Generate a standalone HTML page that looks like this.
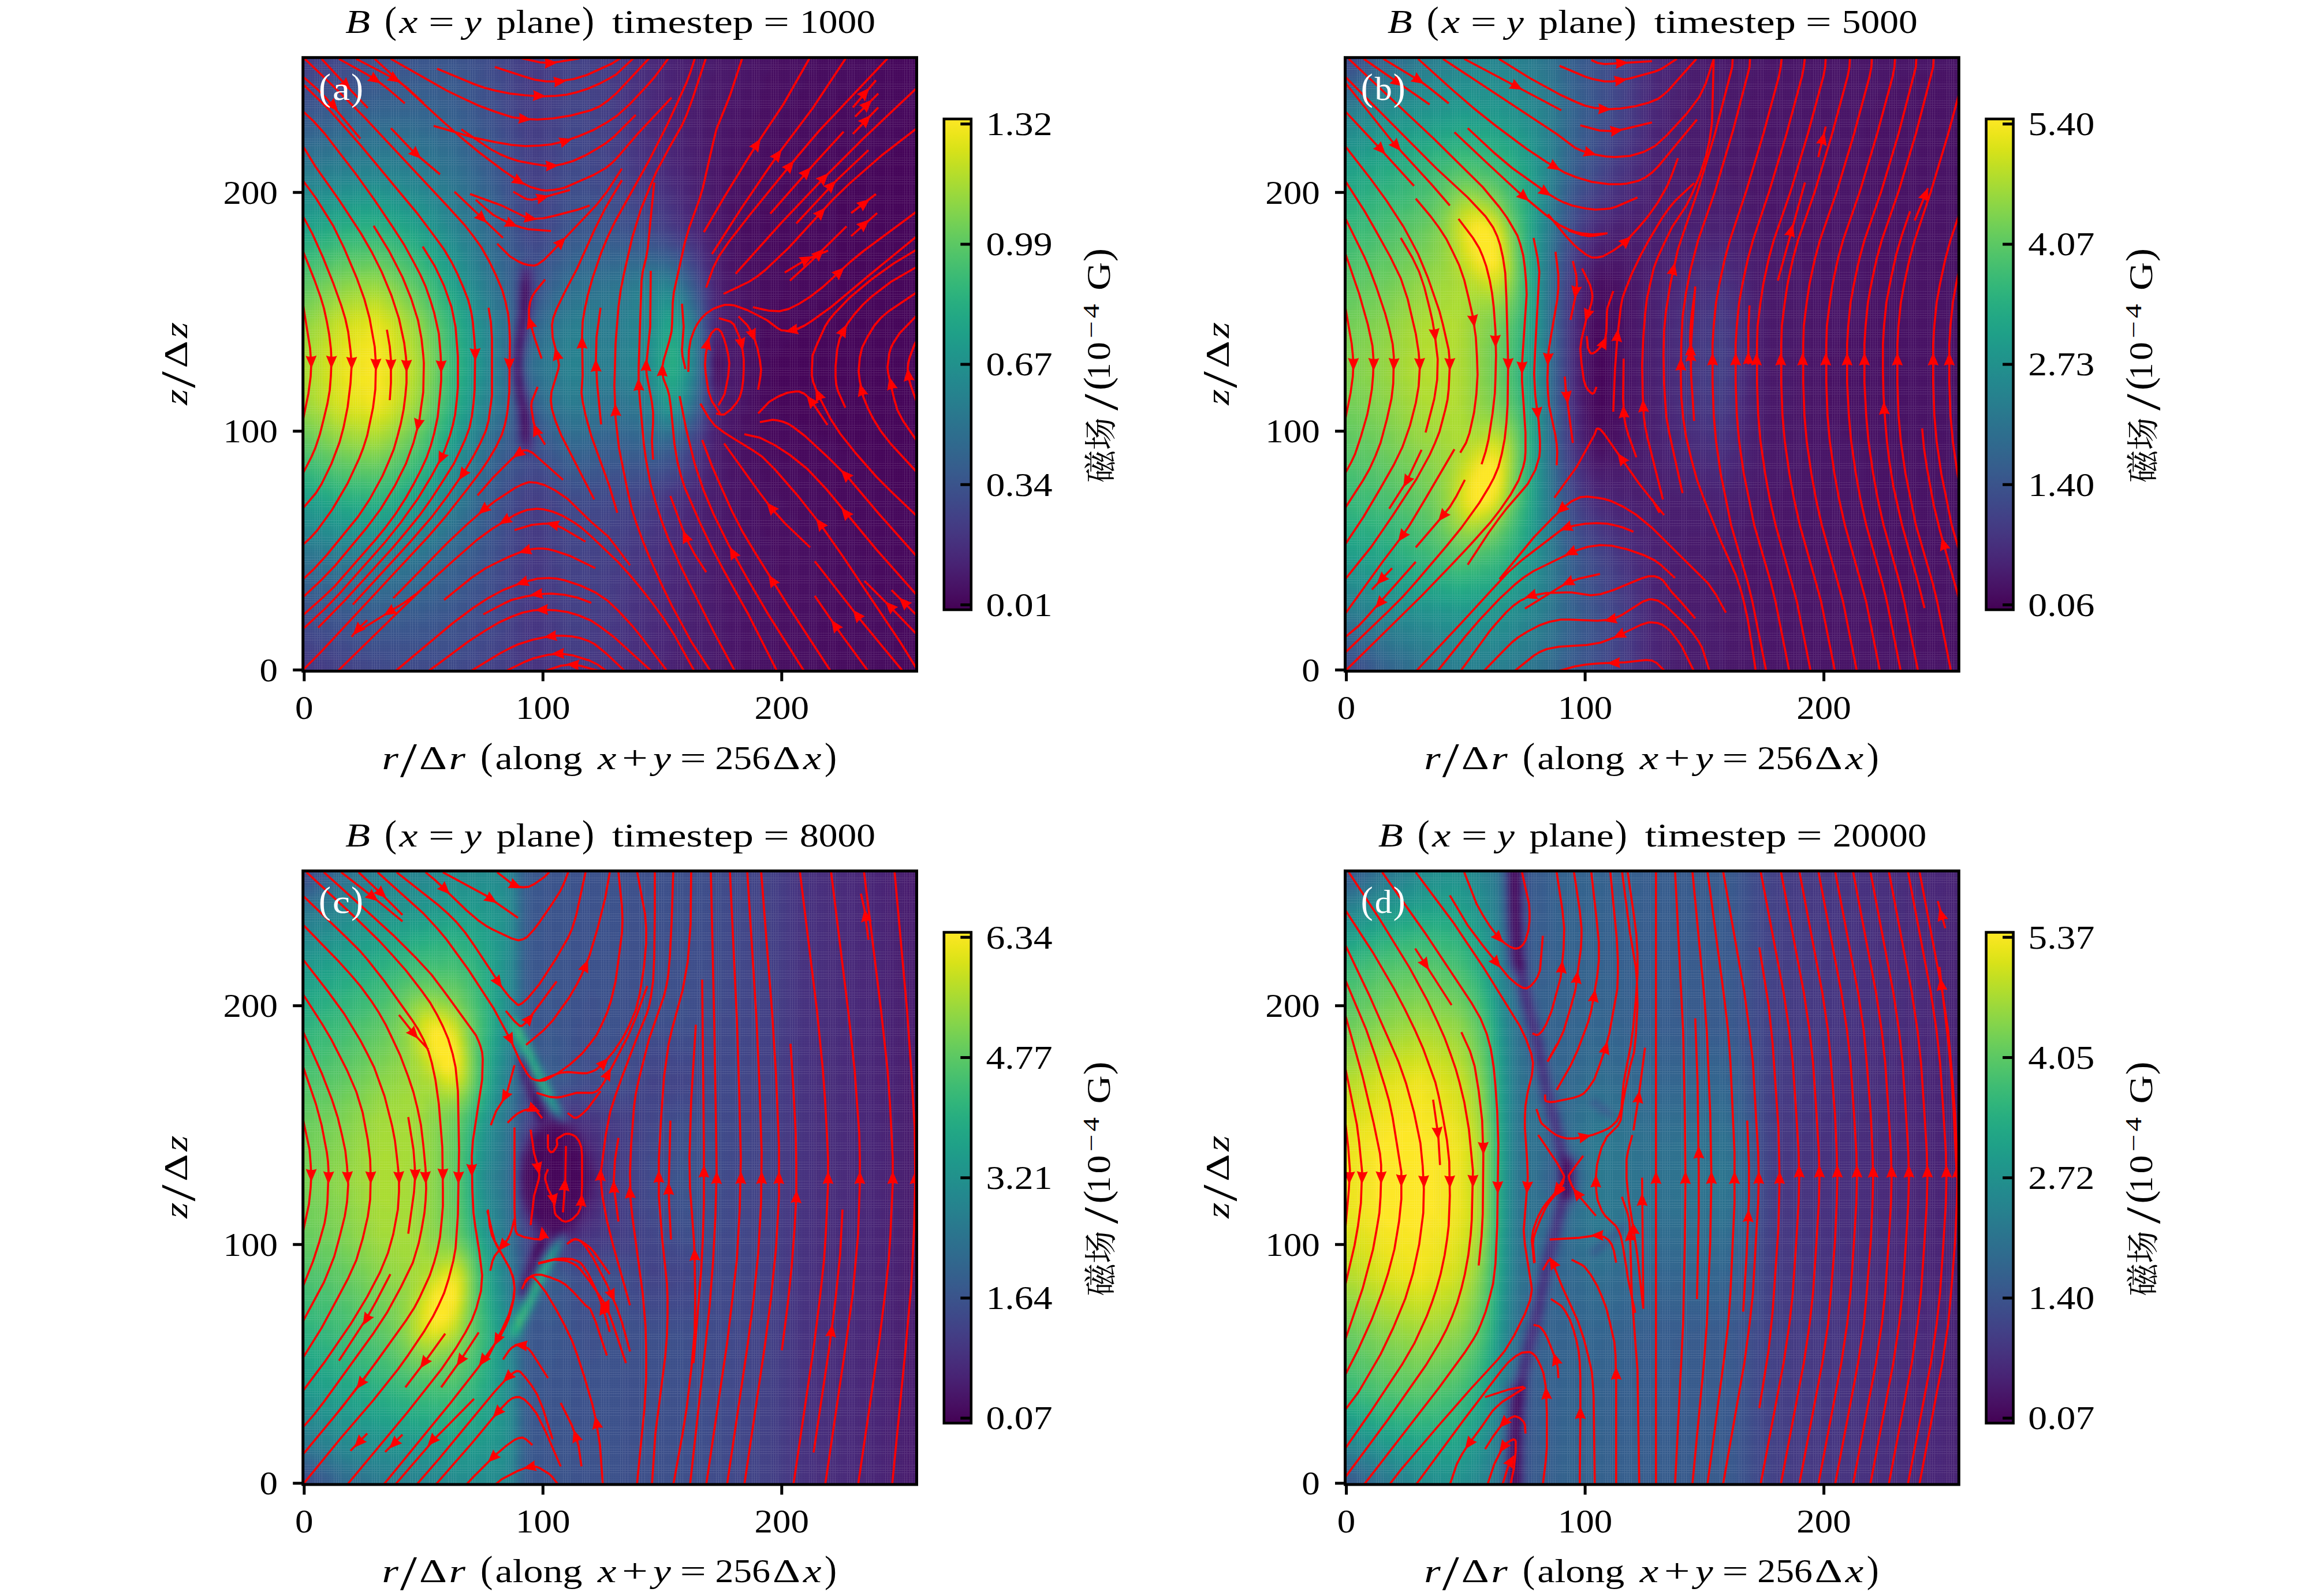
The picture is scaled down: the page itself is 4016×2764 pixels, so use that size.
<!DOCTYPE html>
<html><head><meta charset="utf-8"><title>B field</title>
<style>html,body{margin:0;padding:0;background:#fff}svg{display:block}text{font-family:'Liberation Serif','Noto Serif CJK SC',serif;fill:#000}</style></head>
<body>
<svg width="4016" height="2764" viewBox="0 0 4016 2764">
<defs><linearGradient id="vg" x1="0" y1="0" x2="0" y2="1"><stop offset="0.0000" stop-color="#fde725"/><stop offset="0.0312" stop-color="#ece51b"/><stop offset="0.0625" stop-color="#d8e219"/><stop offset="0.0938" stop-color="#c2df23"/><stop offset="0.1250" stop-color="#addc30"/><stop offset="0.1562" stop-color="#98d83e"/><stop offset="0.1875" stop-color="#84d44b"/><stop offset="0.2188" stop-color="#70cf57"/><stop offset="0.2500" stop-color="#5ec962"/><stop offset="0.2812" stop-color="#4ec36b"/><stop offset="0.3125" stop-color="#3fbc73"/><stop offset="0.3438" stop-color="#32b67a"/><stop offset="0.3750" stop-color="#28ae80"/><stop offset="0.4062" stop-color="#22a785"/><stop offset="0.4375" stop-color="#1fa088"/><stop offset="0.4688" stop-color="#1f988b"/><stop offset="0.5000" stop-color="#21918c"/><stop offset="0.5312" stop-color="#23898e"/><stop offset="0.5625" stop-color="#26828e"/><stop offset="0.5938" stop-color="#297a8e"/><stop offset="0.6250" stop-color="#2c728e"/><stop offset="0.6562" stop-color="#2f6b8e"/><stop offset="0.6875" stop-color="#33638d"/><stop offset="0.7188" stop-color="#375b8d"/><stop offset="0.7500" stop-color="#3b528b"/><stop offset="0.7812" stop-color="#3e4989"/><stop offset="0.8125" stop-color="#424086"/><stop offset="0.8438" stop-color="#453781"/><stop offset="0.8750" stop-color="#472d7b"/><stop offset="0.9062" stop-color="#482374"/><stop offset="0.9375" stop-color="#48186a"/><stop offset="0.9688" stop-color="#470d60"/><stop offset="1.0000" stop-color="#440154"/></linearGradient>
<clipPath id="cp"><rect x="524.7" y="99.7" width="1062.8" height="1062.6"/></clipPath>
<path id="ah" d="M11.5 0L-11 -9.5Q-7.5 0 -11 9.5Z" fill="#f00"/>
<filter id="bl" x="-5%" y="-5%" width="110%" height="110%" color-interpolation-filters="sRGB"><feGaussianBlur stdDeviation="0.55"/></filter>
<g id="gl" shape-rendering="crispEdges" fill="none" stroke="#fff" stroke-width="1"><path stroke-opacity="0.105" d="M545.4 99.7V1162.3M549.5 99.7V1162.3M553.6 99.7V1162.3M557.8 99.7V1162.3M578.5 99.7V1162.3M582.6 99.7V1162.3M586.7 99.7V1162.3M590.9 99.7V1162.3M611.5 99.7V1162.3M615.7 99.7V1162.3M619.8 99.7V1162.3M623.9 99.7V1162.3M644.6 99.7V1162.3M648.8 99.7V1162.3M652.9 99.7V1162.3M657.0 99.7V1162.3M677.7 99.7V1162.3M681.8 99.7V1162.3M686.0 99.7V1162.3M690.1 99.7V1162.3M710.8 99.7V1162.3M714.9 99.7V1162.3M719.0 99.7V1162.3M723.2 99.7V1162.3M743.9 99.7V1162.3M748.0 99.7V1162.3M752.1 99.7V1162.3M756.3 99.7V1162.3M776.9 99.7V1162.3M781.1 99.7V1162.3M785.2 99.7V1162.3M789.3 99.7V1162.3M810.0 99.7V1162.3M814.2 99.7V1162.3M818.3 99.7V1162.3M822.4 99.7V1162.3M843.1 99.7V1162.3M847.2 99.7V1162.3M851.4 99.7V1162.3M855.5 99.7V1162.3M876.2 99.7V1162.3M880.3 99.7V1162.3M884.4 99.7V1162.3M888.6 99.7V1162.3M909.3 99.7V1162.3M913.4 99.7V1162.3M917.5 99.7V1162.3M921.7 99.7V1162.3M942.3 99.7V1162.3M946.5 99.7V1162.3M950.6 99.7V1162.3M954.7 99.7V1162.3M975.4 99.7V1162.3M979.5 99.7V1162.3M983.7 99.7V1162.3M987.8 99.7V1162.3M1008.5 99.7V1162.3M1012.6 99.7V1162.3M1016.8 99.7V1162.3M1020.9 99.7V1162.3M1041.6 99.7V1162.3M1045.7 99.7V1162.3M1049.8 99.7V1162.3M1054.0 99.7V1162.3M1074.7 99.7V1162.3M1078.8 99.7V1162.3M1082.9 99.7V1162.3M1087.1 99.7V1162.3M1107.7 99.7V1162.3M1111.9 99.7V1162.3M1116.0 99.7V1162.3M1140.8 99.7V1162.3M1145.0 99.7V1162.3M1149.1 99.7V1162.3M1173.9 99.7V1162.3M1178.0 99.7V1162.3M1182.2 99.7V1162.3M1207.0 99.7V1162.3M1211.1 99.7V1162.3M1215.2 99.7V1162.3M1240.1 99.7V1162.3M1244.2 99.7V1162.3M1248.3 99.7V1162.3M1273.1 99.7V1162.3M1277.3 99.7V1162.3M1281.4 99.7V1162.3M1302.1 99.7V1162.3M1306.2 99.7V1162.3M1310.3 99.7V1162.3M1314.5 99.7V1162.3M1335.2 99.7V1162.3M1339.3 99.7V1162.3M1343.4 99.7V1162.3M1347.6 99.7V1162.3M1368.2 99.7V1162.3M1372.4 99.7V1162.3M1376.5 99.7V1162.3M1380.6 99.7V1162.3M1401.3 99.7V1162.3M1405.5 99.7V1162.3M1409.6 99.7V1162.3M1413.7 99.7V1162.3M1434.4 99.7V1162.3M1438.5 99.7V1162.3M1442.7 99.7V1162.3M1446.8 99.7V1162.3M1467.5 99.7V1162.3M1471.6 99.7V1162.3M1475.8 99.7V1162.3M1479.9 99.7V1162.3M1500.6 99.7V1162.3M1504.7 99.7V1162.3M1508.8 99.7V1162.3M1513.0 99.7V1162.3M1533.6 99.7V1162.3M1537.8 99.7V1162.3M1541.9 99.7V1162.3M1546.0 99.7V1162.3M1566.7 99.7V1162.3M1570.9 99.7V1162.3M1575.0 99.7V1162.3M1579.1 99.7V1162.3M524.7 112.1H1587.5M524.7 116.2H1587.5M524.7 120.4H1587.5M524.7 145.2H1587.5M524.7 149.3H1587.5M524.7 153.5H1587.5M524.7 174.1H1587.5M524.7 178.3H1587.5M524.7 182.4H1587.5M524.7 186.5H1587.5M524.7 207.2H1587.5M524.7 211.3H1587.5M524.7 215.5H1587.5M524.7 219.6H1587.5M524.7 240.3H1587.5M524.7 244.4H1587.5M524.7 248.6H1587.5M524.7 252.7H1587.5M524.7 273.4H1587.5M524.7 277.5H1587.5M524.7 281.6H1587.5M524.7 285.8H1587.5M524.7 306.4H1587.5M524.7 310.6H1587.5M524.7 314.7H1587.5M524.7 318.9H1587.5M524.7 339.5H1587.5M524.7 343.7H1587.5M524.7 347.8H1587.5M524.7 351.9H1587.5M524.7 372.6H1587.5M524.7 376.7H1587.5M524.7 380.9H1587.5M524.7 385.0H1587.5M524.7 405.7H1587.5M524.7 409.8H1587.5M524.7 414.0H1587.5M524.7 418.1H1587.5M524.7 438.8H1587.5M524.7 442.9H1587.5M524.7 447.0H1587.5M524.7 451.2H1587.5M524.7 471.8H1587.5M524.7 476.0H1587.5M524.7 480.1H1587.5M524.7 484.3H1587.5M524.7 504.9H1587.5M524.7 509.1H1587.5M524.7 513.2H1587.5M524.7 517.3H1587.5M524.7 538.0H1587.5M524.7 542.1H1587.5M524.7 546.3H1587.5M524.7 550.4H1587.5M524.7 571.1H1587.5M524.7 575.2H1587.5M524.7 579.4H1587.5M524.7 583.5H1587.5M524.7 604.2H1587.5M524.7 608.3H1587.5M524.7 612.4H1587.5M524.7 616.6H1587.5M524.7 637.2H1587.5M524.7 641.4H1587.5M524.7 645.5H1587.5M524.7 649.7H1587.5M524.7 670.3H1587.5M524.7 674.5H1587.5M524.7 678.6H1587.5M524.7 682.7H1587.5M524.7 703.4H1587.5M524.7 707.5H1587.5M524.7 711.7H1587.5M524.7 715.8H1587.5M524.7 736.5H1587.5M524.7 740.6H1587.5M524.7 744.8H1587.5M524.7 769.6H1587.5M524.7 773.7H1587.5M524.7 777.8H1587.5M524.7 802.6H1587.5M524.7 806.8H1587.5M524.7 810.9H1587.5M524.7 835.7H1587.5M524.7 839.9H1587.5M524.7 844.0H1587.5M524.7 868.8H1587.5M524.7 872.9H1587.5M524.7 877.1H1587.5M524.7 901.9H1587.5M524.7 906.0H1587.5M524.7 910.2H1587.5M524.7 930.8H1587.5M524.7 935.0H1587.5M524.7 939.1H1587.5M524.7 943.2H1587.5M524.7 963.9H1587.5M524.7 968.0H1587.5M524.7 972.2H1587.5M524.7 976.3H1587.5M524.7 997.0H1587.5M524.7 1001.1H1587.5M524.7 1005.3H1587.5M524.7 1009.4H1587.5M524.7 1030.1H1587.5M524.7 1034.2H1587.5M524.7 1038.3H1587.5M524.7 1042.5H1587.5M524.7 1063.2H1587.5M524.7 1067.3H1587.5M524.7 1071.4H1587.5M524.7 1075.6H1587.5M524.7 1096.2H1587.5M524.7 1100.4H1587.5M524.7 1104.5H1587.5M524.7 1108.6H1587.5M524.7 1129.3H1587.5M524.7 1133.5H1587.5M524.7 1137.6H1587.5M524.7 1141.7H1587.5"/><path stroke-opacity="0.03" d="M528.8 99.7V1162.3M533.0 99.7V1162.3M537.1 99.7V1162.3M541.2 99.7V1162.3M561.9 99.7V1162.3M566.1 99.7V1162.3M570.2 99.7V1162.3M574.3 99.7V1162.3M595.0 99.7V1162.3M599.1 99.7V1162.3M603.3 99.7V1162.3M607.4 99.7V1162.3M628.1 99.7V1162.3M632.2 99.7V1162.3M636.3 99.7V1162.3M640.5 99.7V1162.3M661.2 99.7V1162.3M665.3 99.7V1162.3M669.4 99.7V1162.3M673.6 99.7V1162.3M694.2 99.7V1162.3M698.4 99.7V1162.3M702.5 99.7V1162.3M706.6 99.7V1162.3M727.3 99.7V1162.3M731.5 99.7V1162.3M735.6 99.7V1162.3M739.7 99.7V1162.3M760.4 99.7V1162.3M764.5 99.7V1162.3M768.7 99.7V1162.3M772.8 99.7V1162.3M793.5 99.7V1162.3M797.6 99.7V1162.3M801.7 99.7V1162.3M805.9 99.7V1162.3M826.6 99.7V1162.3M830.7 99.7V1162.3M834.8 99.7V1162.3M839.0 99.7V1162.3M859.6 99.7V1162.3M863.8 99.7V1162.3M867.9 99.7V1162.3M872.0 99.7V1162.3M892.7 99.7V1162.3M896.9 99.7V1162.3M901.0 99.7V1162.3M905.1 99.7V1162.3M925.8 99.7V1162.3M929.9 99.7V1162.3M934.1 99.7V1162.3M938.2 99.7V1162.3M958.9 99.7V1162.3M963.0 99.7V1162.3M967.1 99.7V1162.3M971.3 99.7V1162.3M992.0 99.7V1162.3M996.1 99.7V1162.3M1000.2 99.7V1162.3M1004.4 99.7V1162.3M1025.0 99.7V1162.3M1029.2 99.7V1162.3M1033.3 99.7V1162.3M1037.4 99.7V1162.3M1058.1 99.7V1162.3M1062.2 99.7V1162.3M1066.4 99.7V1162.3M1070.5 99.7V1162.3M1091.2 99.7V1162.3M1095.3 99.7V1162.3M1099.5 99.7V1162.3M1103.6 99.7V1162.3M1120.1 99.7V1162.3M1124.3 99.7V1162.3M1128.4 99.7V1162.3M1132.5 99.7V1162.3M1136.7 99.7V1162.3M1153.2 99.7V1162.3M1157.4 99.7V1162.3M1161.5 99.7V1162.3M1165.6 99.7V1162.3M1169.8 99.7V1162.3M1186.3 99.7V1162.3M1190.4 99.7V1162.3M1194.6 99.7V1162.3M1198.7 99.7V1162.3M1202.8 99.7V1162.3M1219.4 99.7V1162.3M1223.5 99.7V1162.3M1227.7 99.7V1162.3M1231.8 99.7V1162.3M1235.9 99.7V1162.3M1252.5 99.7V1162.3M1256.6 99.7V1162.3M1260.7 99.7V1162.3M1264.9 99.7V1162.3M1269.0 99.7V1162.3M1285.5 99.7V1162.3M1289.7 99.7V1162.3M1293.8 99.7V1162.3M1297.9 99.7V1162.3M1318.6 99.7V1162.3M1322.8 99.7V1162.3M1326.9 99.7V1162.3M1331.0 99.7V1162.3M1351.7 99.7V1162.3M1355.8 99.7V1162.3M1360.0 99.7V1162.3M1364.1 99.7V1162.3M1384.8 99.7V1162.3M1388.9 99.7V1162.3M1393.0 99.7V1162.3M1397.2 99.7V1162.3M1417.9 99.7V1162.3M1422.0 99.7V1162.3M1426.1 99.7V1162.3M1430.3 99.7V1162.3M1450.9 99.7V1162.3M1455.1 99.7V1162.3M1459.2 99.7V1162.3M1463.3 99.7V1162.3M1484.0 99.7V1162.3M1488.2 99.7V1162.3M1492.3 99.7V1162.3M1496.4 99.7V1162.3M1517.1 99.7V1162.3M1521.2 99.7V1162.3M1525.4 99.7V1162.3M1529.5 99.7V1162.3M1550.2 99.7V1162.3M1554.3 99.7V1162.3M1558.5 99.7V1162.3M1562.6 99.7V1162.3M1583.3 99.7V1162.3M524.7 103.8H1587.5M524.7 108.0H1587.5M524.7 124.5H1587.5M524.7 128.6H1587.5M524.7 132.8H1587.5M524.7 136.9H1587.5M524.7 141.1H1587.5M524.7 157.6H1587.5M524.7 161.7H1587.5M524.7 165.9H1587.5M524.7 170.0H1587.5M524.7 190.7H1587.5M524.7 194.8H1587.5M524.7 198.9H1587.5M524.7 203.1H1587.5M524.7 223.8H1587.5M524.7 227.9H1587.5M524.7 232.0H1587.5M524.7 236.2H1587.5M524.7 256.8H1587.5M524.7 261.0H1587.5M524.7 265.1H1587.5M524.7 269.2H1587.5M524.7 289.9H1587.5M524.7 294.0H1587.5M524.7 298.2H1587.5M524.7 302.3H1587.5M524.7 323.0H1587.5M524.7 327.1H1587.5M524.7 331.3H1587.5M524.7 335.4H1587.5M524.7 356.1H1587.5M524.7 360.2H1587.5M524.7 364.3H1587.5M524.7 368.5H1587.5M524.7 389.1H1587.5M524.7 393.3H1587.5M524.7 397.4H1587.5M524.7 401.6H1587.5M524.7 422.2H1587.5M524.7 426.4H1587.5M524.7 430.5H1587.5M524.7 434.6H1587.5M524.7 455.3H1587.5M524.7 459.4H1587.5M524.7 463.6H1587.5M524.7 467.7H1587.5M524.7 488.4H1587.5M524.7 492.5H1587.5M524.7 496.7H1587.5M524.7 500.8H1587.5M524.7 521.5H1587.5M524.7 525.6H1587.5M524.7 529.7H1587.5M524.7 533.9H1587.5M524.7 554.5H1587.5M524.7 558.7H1587.5M524.7 562.8H1587.5M524.7 567.0H1587.5M524.7 587.6H1587.5M524.7 591.8H1587.5M524.7 595.9H1587.5M524.7 600.0H1587.5M524.7 620.7H1587.5M524.7 624.8H1587.5M524.7 629.0H1587.5M524.7 633.1H1587.5M524.7 653.8H1587.5M524.7 657.9H1587.5M524.7 662.1H1587.5M524.7 666.2H1587.5M524.7 686.9H1587.5M524.7 691.0H1587.5M524.7 695.1H1587.5M524.7 699.3H1587.5M524.7 720.0H1587.5M524.7 724.1H1587.5M524.7 728.2H1587.5M524.7 732.4H1587.5M524.7 748.9H1587.5M524.7 753.0H1587.5M524.7 757.2H1587.5M524.7 761.3H1587.5M524.7 765.4H1587.5M524.7 782.0H1587.5M524.7 786.1H1587.5M524.7 790.2H1587.5M524.7 794.4H1587.5M524.7 798.5H1587.5M524.7 815.1H1587.5M524.7 819.2H1587.5M524.7 823.3H1587.5M524.7 827.5H1587.5M524.7 831.6H1587.5M524.7 848.1H1587.5M524.7 852.3H1587.5M524.7 856.4H1587.5M524.7 860.5H1587.5M524.7 864.7H1587.5M524.7 881.2H1587.5M524.7 885.4H1587.5M524.7 889.5H1587.5M524.7 893.6H1587.5M524.7 897.8H1587.5M524.7 914.3H1587.5M524.7 918.4H1587.5M524.7 922.6H1587.5M524.7 926.7H1587.5M524.7 947.4H1587.5M524.7 951.5H1587.5M524.7 955.6H1587.5M524.7 959.8H1587.5M524.7 980.5H1587.5M524.7 984.6H1587.5M524.7 988.7H1587.5M524.7 992.9H1587.5M524.7 1013.5H1587.5M524.7 1017.7H1587.5M524.7 1021.8H1587.5M524.7 1025.9H1587.5M524.7 1046.6H1587.5M524.7 1050.8H1587.5M524.7 1054.9H1587.5M524.7 1059.0H1587.5M524.7 1079.7H1587.5M524.7 1083.8H1587.5M524.7 1088.0H1587.5M524.7 1092.1H1587.5M524.7 1112.8H1587.5M524.7 1116.9H1587.5M524.7 1121.0H1587.5M524.7 1125.2H1587.5M524.7 1145.9H1587.5M524.7 1150.0H1587.5M524.7 1154.1H1587.5M524.7 1158.3H1587.5"/></g>
</defs>
<rect width="4016" height="2764" fill="#fff"/>
<g transform="translate(0,0)">
<g clip-path="url(#cp)"><g transform="translate(486.00,65.75) scale(9.5000)" filter="url(#bl)" fill="none" stroke-width="1.08"><path stroke="#423f85" stroke-width="121" d="M0 59.5h120"/><path stroke="#440256" d="M44 47h1M44 48h1M44 49h1M44 69h1M44 71h1"/><path stroke="#450559" d="M115 14h5M114 15h6M114 16h6M114 17h6M113 18h7M113 19h7M112 20h8M111 21h9M109 22h11M105 23h15M102 24h18M102 25h18M102 26h18M101 27h19M101 28h19M101 29h19M101 30h19M101 31h19M101 32h19M101 33h19M101 34h19M101 35h19M101 36h19M101 37h19M101 38h19M101 39h19M101 40h19M101 41h19M101 42h19M101 43h19M101 44h19M101 45h19M44 46h1M101 46h19M100 47h20M99 48h21M98 49h22M44 50h1M97 50h23M96 51h24M95 52h25M94 53h26M94 54h26M93 55h27M92 56h28M91 57h29M90 58h30M89 59h31M89 60h31M89 61h31M89 62h31M89 63h31M89 64h31M89 65h31M89 66h31M89 67h31M44 68h1M90 68h30M91 69h29M44 70h1M93 70h27M95 71h25M97 72h23M99 73h21M101 74h19M102 75h18M104 76h16M105 77h15M106 78h14M107 79h13M109 80h11M110 81h10M111 82h9M113 83h7M114 84h6M114 85h6M115 86h5M115 87h5M115 88h5M115 89h5M115 90h5M115 91h5M115 92h5"/><path stroke="#46085c" d="M110 0h10M110 1h10M110 2h10M110 3h10M110 4h10M109 5h11M107 6h13M106 7h14M105 8h15M104 9h16M103 10h17M102 11h18M101 12h19M100 13h20M100 14h15M99 15h15M98 16h16M98 17h16M97 18h16M96 19h17M96 20h16M95 21h16M94 22h15M94 23h11M93 24h9M92 25h10M92 26h10M91 27h10M91 28h10M90 29h11M89 30h12M89 31h12M88 32h13M88 33h13M88 34h13M88 35h13M88 36h13M88 37h13M88 38h13M89 39h12M89 40h12M90 41h11M91 42h10M91 43h10M92 44h9M92 45h9M92 46h9M91 47h9M90 48h9M90 49h8M89 50h8M89 51h7M88 52h7M88 53h6M88 54h6M88 55h5M88 56h4M88 57h3M87 58h3M79 59h1M87 59h2M79 60h1M87 60h2M87 61h2M87 62h2M87 63h2M87 64h2M87 65h2M87 66h2M87 67h2M87 68h3M87 69h4M87 70h6M87 71h8M44 72h1M87 72h10M88 73h11M88 74h13M89 75h13M89 76h15M91 77h14M93 78h13M94 79h13M95 80h14M97 81h13M98 82h13M99 83h14M99 84h15M100 85h14M101 86h14M102 87h13M102 88h13M103 89h12M104 90h11M104 91h11M105 92h10M106 93h14M106 94h14M106 95h14M107 96h13M107 97h13M107 98h13M108 99h12M108 100h12M108 101h12M109 102h11M109 103h11M110 104h10M110 105h10M111 106h9M111 107h9M111 108h9M111 109h9M111 110h9M111 111h9M111 112h9M111 113h9M111 114h9M111 115h9M111 116h9M111 117h9M111 118h9M111 119h9"/><path stroke="#460b5e" d="M98 0h12M98 1h12M98 2h12M98 3h12M98 4h12M97 5h12M97 6h10M96 7h10M95 8h10M95 9h9M94 10h9M93 11h9M93 12h8M92 13h8M91 14h9M91 15h8M90 16h8M89 17h9M89 18h8M88 19h8M88 20h8M88 21h7M87 22h7M87 23h7M87 24h6M87 25h5M86 26h6M86 27h5M86 28h5M85 29h5M85 30h4M85 31h4M85 32h3M84 33h4M84 34h4M84 35h4M84 36h4M85 37h3M85 38h3M85 39h4M86 40h3M86 41h4M86 42h5M87 43h4M87 44h5M44 45h1M87 45h5M87 46h5M87 47h4M87 48h3M87 49h3M87 50h2M44 51h1M87 51h2M87 52h1M87 53h1M87 54h1M87 55h1M86 56h2M86 57h2M79 58h1M86 58h1M86 59h1M86 60h1M79 61h1M86 61h1M86 62h1M86 63h1M86 64h1M86 65h1M86 66h1M86 67h1M86 68h1M86 69h1M86 70h1M86 71h1M86 72h1M85 73h3M86 74h2M86 75h3M86 76h3M86 77h5M87 78h6M87 79h7M88 80h7M88 81h9M89 82h9M90 83h9M91 84h8M92 85h8M92 86h9M93 87h9M94 88h8M94 89h9M95 90h9M96 91h8M96 92h9M97 93h9M98 94h8M98 95h8M98 96h9M98 97h9M98 98h9M98 99h10M98 100h10M98 101h10M98 102h11M98 103h11M98 104h12M98 105h12M98 106h13M98 107h13M98 108h13M98 109h13M98 110h13M98 111h13M98 112h13M98 113h13M98 114h13M98 115h13M98 116h13M98 117h13M98 118h13M98 119h13"/><path stroke="#470e61" d="M90 0h8M90 1h8M90 2h8M90 3h8M90 4h8M89 5h8M89 6h8M88 7h8M88 8h7M88 9h7M87 10h7M87 11h6M87 12h6M87 13h5M86 14h5M86 15h5M86 16h4M85 17h4M85 18h4M85 19h3M85 20h3M84 21h4M84 22h3M84 23h3M84 24h3M83 25h4M83 26h3M83 27h3M83 28h3M83 29h2M82 30h3M82 31h3M82 32h3M82 33h2M82 34h2M82 35h2M82 36h2M82 37h3M83 38h2M83 39h2M83 40h3M84 41h2M84 42h2M84 43h3M85 44h2M85 45h2M85 46h2M85 47h2M85 48h2M85 49h2M86 50h1M86 51h1M86 52h1M86 53h1M86 54h1M86 55h1M43 56h1M85 56h1M79 57h1M85 57h1M85 58h1M85 59h1M85 60h1M85 61h1M79 62h1M85 62h1M43 63h1M85 63h1M43 64h1M85 64h1M85 65h1M85 66h1M85 67h1M85 68h1M84 69h2M84 70h2M84 71h2M84 72h2M44 73h1M84 73h1M84 74h2M84 75h2M84 76h2M84 77h2M84 78h3M84 79h3M85 80h3M85 81h3M85 82h4M86 83h4M86 84h5M86 85h6M87 86h5M87 87h6M87 88h7M87 89h7M88 90h7M88 91h8M89 92h7M89 93h8M90 94h8M90 95h8M90 96h8M90 97h8M90 98h8M90 99h8M90 100h8M90 101h8M90 102h8M90 103h8M90 104h8M90 105h8M90 106h8M90 107h8M90 108h8M90 109h8M90 110h8M90 111h8M90 112h8M90 113h8M90 114h8M90 115h8M90 116h8M90 117h8M90 118h8M90 119h8"/><path stroke="#471164" d="M86 0h4M86 1h4M86 2h4M86 3h4M86 4h4M86 5h3M85 6h4M85 7h3M85 8h3M84 9h4M84 10h3M84 11h3M84 12h3M83 13h4M83 14h3M83 15h3M83 16h3M82 17h3M82 18h3M82 19h3M82 20h3M82 21h2M82 22h2M81 23h3M81 24h3M81 25h2M81 26h2M81 27h2M81 28h2M81 29h2M81 30h1M81 31h1M81 32h1M81 33h1M81 34h1M81 35h1M81 36h1M81 37h1M81 38h2M82 39h1M82 40h1M82 41h2M82 42h2M83 43h1M83 44h2M83 45h2M83 46h2M84 47h1M84 48h1M84 49h1M84 50h2M84 51h2M44 52h1M85 52h1M85 53h1M85 54h1M43 55h1M85 55h1M84 56h1M43 57h1M84 57h1M84 58h1M80 59h1M84 59h1M80 60h1M84 60h1M80 61h1M84 61h1M84 62h1M79 63h1M84 63h1M84 64h1M43 65h1M84 65h1M84 66h1M44 67h1M84 67h1M83 68h2M83 69h1M83 70h1M83 71h1M82 72h2M82 73h2M82 74h2M82 75h2M82 76h2M82 77h2M82 78h2M82 79h2M82 80h3M83 81h2M83 82h2M83 83h3M83 84h3M83 85h3M83 86h4M83 87h4M83 88h4M83 89h4M84 90h4M84 91h4M84 92h5M84 93h5M84 94h6M84 95h6M84 96h6M84 97h6M84 98h6M84 99h6M84 100h6M84 101h6M84 102h6M84 103h6M84 104h6M84 105h6M84 106h6M84 107h6M84 108h6M84 109h6M84 110h6M84 111h6M84 112h6M84 113h6M84 114h6M84 115h6M84 116h6M84 117h6M84 118h6M84 119h6"/><path stroke="#481467" d="M83 0h3M83 1h3M83 2h3M83 3h3M83 4h3M82 5h4M82 6h3M82 7h3M82 8h3M81 9h3M81 10h3M81 11h3M80 12h4M80 13h3M80 14h3M80 15h3M80 16h3M80 17h2M79 18h3M79 19h3M79 20h3M79 21h3M79 22h3M79 23h2M79 24h2M79 25h2M79 26h2M79 27h2M79 28h2M79 29h2M79 30h2M79 31h2M79 32h2M79 33h2M79 34h2M80 35h1M80 36h1M80 37h1M80 38h1M81 39h1M81 40h1M81 41h1M81 42h1M81 43h2M44 44h1M82 44h1M82 45h1M82 46h1M82 47h2M82 48h2M83 49h1M83 50h1M83 51h1M83 52h2M83 53h2M43 54h1M84 54h1M83 55h2M79 56h1M83 56h1M80 57h1M83 57h1M43 58h1M80 58h1M83 58h1M83 59h1M83 60h1M83 61h1M43 62h1M80 62h1M83 62h1M80 63h1M83 63h1M79 64h1M83 64h1M83 65h1M83 66h1M82 67h2M82 68h1M82 69h1M82 70h1M81 71h2M81 72h1M81 73h1M81 74h1M81 75h1M81 76h1M81 77h1M81 78h1M81 79h1M81 80h1M81 81h2M81 82h2M81 83h2M81 84h2M81 85h2M81 86h2M81 87h2M81 88h2M81 89h2M81 90h3M81 91h3M81 92h3M81 93h3M81 94h3M81 95h3M81 96h3M81 97h3M81 98h3M81 99h3M81 100h3M81 101h3M81 102h3M81 103h3M81 104h3M81 105h3M81 106h3M81 107h3M81 108h3M81 109h3M81 110h3M81 111h3M81 112h3M81 113h3M81 114h3M81 115h3M81 116h3M81 117h3M81 118h3M81 119h3"/><path stroke="#481769" d="M79 0h4M79 1h4M79 2h4M79 3h4M79 4h4M79 5h3M79 6h3M78 7h4M78 8h4M78 9h3M78 10h3M77 11h4M77 12h3M77 13h3M77 14h3M77 15h3M77 16h3M77 17h3M77 18h2M77 19h2M77 20h2M78 21h1M78 22h1M78 23h1M78 24h1M78 25h1M78 26h1M78 27h1M78 28h1M78 29h1M78 30h1M78 31h1M78 32h1M78 33h1M79 35h1M79 36h1M79 37h1M80 39h1M80 40h1M80 41h1M80 42h1M81 44h1M81 45h1M81 46h1M81 47h1M81 48h1M82 49h1M82 50h1M82 51h1M82 52h1M82 53h1M82 54h2M79 55h1M82 55h1M80 56h1M82 56h1M82 57h1M82 58h1M82 59h1M82 60h1M43 61h1M81 61h2M82 62h1M82 63h1M80 64h1M82 64h1M82 65h1M81 66h2M81 67h1M81 68h1M81 69h1M81 70h1M80 71h1M80 72h1M80 73h1M80 74h1M80 75h1M80 76h1M80 77h1M80 78h1M80 79h1M80 80h1M80 81h1M80 82h1M80 83h1M80 84h1M80 85h1M80 86h1M80 87h1M79 88h2M79 89h2M79 90h2M79 91h2M79 92h2M79 93h2M79 94h2M79 95h2M79 96h2M79 97h2M79 98h2M79 99h2M79 100h2M79 101h2M79 102h2M79 103h2M79 104h2M79 105h2M79 106h2M79 107h2M79 108h2M79 109h2M79 110h2M79 111h2M79 112h2M79 113h2M79 114h2M79 115h2M79 116h2M79 117h2M79 118h2M79 119h2"/><path stroke="#481a6c" d="M76 0h3M76 1h3M76 2h3M76 3h3M76 4h3M76 5h3M76 6h3M76 7h2M76 8h2M75 9h3M75 10h3M75 11h2M75 12h2M75 13h2M75 14h2M75 15h2M75 16h2M75 17h2M76 18h1M76 19h1M76 20h1M76 21h2M76 22h2M76 23h2M76 24h2M77 25h1M77 26h1M77 27h1M77 28h1M77 29h1M77 30h1M77 31h1M78 34h1M78 35h1M78 36h1M79 38h1M79 39h1M79 40h1M80 43h1M80 44h1M80 45h1M80 46h1M81 49h1M81 50h1M81 51h1M81 52h1M81 53h1M80 54h2M80 55h2M81 56h1M81 57h1M81 58h1M81 59h1M43 60h1M81 60h1M81 62h1M81 63h1M81 64h1M79 65h3M43 66h1M80 66h1M80 67h1M80 68h1M80 69h1M80 70h1M79 74h1M79 75h1M79 76h1M79 77h1M79 78h1M79 79h1M79 80h1M79 81h1M79 82h1M79 83h1M78 84h2M78 85h2M78 86h2M78 87h2M78 88h1M78 89h1M78 90h1M78 91h1M78 92h1M78 93h1M78 94h1M78 95h1M78 96h1M78 97h1M78 98h1M78 99h1M78 100h1M78 101h1M77 102h2M77 103h2M77 104h2M77 105h2M77 106h2M77 107h2M77 108h2M77 109h2M77 110h2M77 111h2M77 112h2M77 113h2M77 114h2M77 115h2M77 116h2M77 117h2M77 118h2M77 119h2"/><path stroke="#481c6e" d="M74 0h2M74 1h2M74 2h2M74 3h2M74 4h2M74 5h2M74 6h2M74 7h2M74 8h2M73 9h2M73 10h2M73 11h2M73 12h2M73 13h2M73 14h2M73 15h2M74 16h1M74 17h1M74 18h2M74 19h2M74 20h2M75 21h1M75 22h1M75 23h1M75 24h1M75 25h2M76 26h1M76 27h1M76 28h1M76 29h1M76 30h1M77 32h1M77 33h1M77 34h1M77 35h1M78 37h1M79 41h1M79 42h1M80 47h1M80 48h1M80 49h1M80 50h1M80 51h1M80 52h1M43 53h1M80 53h1M79 54h1M43 59h1M79 66h1M79 71h1M79 72h1M79 73h1M78 80h1M78 81h1M78 82h1M78 83h1M77 85h1M77 86h1M77 87h1M77 88h1M77 89h1M77 90h1M77 91h1M77 92h1M77 93h1M77 94h1M77 95h1M77 96h1M77 97h1M77 98h1M77 99h1M76 100h2M76 101h2M76 102h1M75 103h2M75 104h2M75 105h2M75 106h2M75 107h2M75 108h2M75 109h2M74 110h3M74 111h3M74 112h3M74 113h3M74 114h3M74 115h3M74 116h3M74 117h3M74 118h3M74 119h3"/><path stroke="#481f70" d="M72 0h2M72 1h2M72 2h2M72 3h2M72 4h2M72 5h2M72 6h2M72 7h2M72 8h2M72 9h1M72 10h1M72 11h1M72 12h1M72 13h1M72 14h1M72 15h1M72 16h2M72 17h2M73 18h1M73 19h1M73 20h1M73 21h2M73 22h2M74 23h1M74 24h1M74 25h1M75 26h1M75 27h1M75 28h1M75 29h1M76 31h1M76 32h1M76 33h1M76 34h1M77 36h1M78 38h1M78 39h1M44 43h1M79 43h1M79 44h1M79 45h1M44 53h1M79 53h1M44 66h1M79 67h1M79 68h1M79 69h1M79 70h1M44 74h1M78 76h1M78 77h1M78 78h1M78 79h1M77 82h1M77 83h1M77 84h1M76 86h1M76 87h1M76 88h1M76 89h1M76 90h1M76 91h1M76 92h1M76 93h1M76 94h1M76 95h1M76 96h1M76 97h1M75 98h2M75 99h2M75 100h1M74 101h2M74 102h2M74 103h1M74 104h1M73 105h2M73 106h2M73 107h2M73 108h2M73 109h2M73 110h1M72 111h2M72 112h2M72 113h2M72 114h2M72 115h2M72 116h2M72 117h2M72 118h2M72 119h2"/><path stroke="#482173" d="M70 0h2M70 1h2M70 2h2M70 3h2M70 4h2M70 5h2M70 6h2M70 7h2M70 8h2M70 9h2M70 10h2M70 11h2M70 12h2M70 13h2M70 14h2M70 15h2M71 16h1M71 17h1M71 18h2M71 19h2M72 20h1M72 21h1M72 22h1M72 23h2M73 24h1M73 25h1M74 26h1M74 27h1M74 28h1M75 30h1M75 31h1M75 32h1M76 35h1M77 37h1M78 40h1M79 46h1M79 47h1M79 48h1M79 49h1M79 50h1M79 51h1M79 52h1M78 74h1M78 75h1M77 80h1M77 81h1M76 83h1M76 84h1M76 85h1M75 87h1M75 88h1M75 89h1M75 90h1M75 91h1M75 92h1M75 93h1M75 94h1M75 95h1M74 96h2M74 97h2M74 98h1M73 99h2M73 100h2M73 101h1M73 102h1M72 103h2M72 104h2M72 105h1M72 106h1M71 107h2M71 108h2M71 109h2M71 110h2M71 111h1M71 112h1M70 113h2M70 114h2M70 115h2M70 116h2M70 117h2M70 118h2M70 119h2"/><path stroke="#482475" d="M69 0h1M69 1h1M69 2h1M69 3h1M69 4h1M69 5h1M69 6h1M69 7h1M69 8h1M69 9h1M69 10h1M69 11h1M69 12h1M69 13h1M69 14h1M69 15h1M69 16h2M70 17h1M70 18h1M70 19h1M71 20h1M71 21h1M71 22h1M71 23h1M72 24h1M72 25h1M73 26h1M73 27h1M73 28h1M74 29h1M74 30h1M74 31h1M75 33h1M75 34h1M76 36h1M77 38h1M78 41h1M78 42h1M78 72h1M78 73h1M77 78h1M77 79h1M76 82h1M75 84h1M75 85h1M75 86h1M74 88h1M74 89h1M74 90h1M74 91h1M74 92h1M74 93h1M73 94h2M73 95h2M73 96h1M73 97h1M72 98h2M72 99h1M72 100h1M71 101h2M71 102h2M71 103h1M71 104h1M70 105h2M70 106h2M70 107h1M70 108h1M70 109h1M70 110h1M69 111h2M69 112h2M69 113h1M69 114h1M69 115h1M69 116h1M69 117h1M69 118h1M69 119h1"/><path stroke="#482677" d="M68 0h1M68 1h1M68 2h1M68 3h1M68 4h1M68 5h1M68 6h1M68 7h1M68 8h1M68 9h1M68 10h1M68 11h1M68 12h1M68 13h1M68 14h1M68 15h1M68 16h1M69 17h1M69 18h1M69 19h1M69 20h2M70 21h1M70 22h1M70 23h1M71 24h1M71 25h1M72 26h1M72 27h1M73 29h1M73 30h1M74 32h1M74 33h1M75 35h1M76 37h1M77 39h1M78 43h1M45 46h1M43 52h1M43 67h1M78 71h1M77 76h1M77 77h1M76 81h1M75 83h1M74 85h1M74 86h1M74 87h1M73 88h1M73 89h1M73 90h1M73 91h1M73 92h1M72 93h2M72 94h1M72 95h1M71 96h2M71 97h2M71 98h1M71 99h1M70 100h2M70 101h1M70 102h1M69 103h2M69 104h2M69 105h1M69 106h1M69 107h1M68 108h2M68 109h2M68 110h2M68 111h1M68 112h1M68 113h1M68 114h1M67 115h2M67 116h2M67 117h2M67 118h2M67 119h2"/><path stroke="#482979" d="M66 0h2M66 1h2M66 2h2M66 3h2M66 4h2M66 5h2M67 6h1M67 7h1M67 8h1M67 9h1M67 10h1M67 11h1M67 12h1M67 13h1M67 14h1M67 15h1M67 16h1M67 17h2M68 18h1M68 19h1M68 20h1M69 21h1M69 22h1M69 23h1M70 24h1M70 25h1M71 26h1M71 27h1M72 28h1M72 29h1M73 31h1M73 32h1M74 34h1M75 36h1M77 40h1M78 44h1M45 45h1M78 45h1M45 47h1M78 70h1M44 75h1M77 75h1M76 79h1M76 80h1M75 82h1M74 83h1M74 84h1M73 85h1M73 86h1M73 87h1M72 89h1M72 90h1M72 91h1M71 92h2M71 93h1M71 94h1M70 95h2M70 96h1M70 97h1M69 98h2M69 99h2M69 100h1M69 101h1M68 102h2M68 103h1M68 104h1M68 105h1M67 106h2M67 107h2M67 108h1M67 109h1M67 110h1M67 111h1M66 112h2M66 113h2M66 114h2M66 115h1M66 116h1M66 117h1M66 118h1M66 119h1"/><path stroke="#472c7a" d="M66 6h1M66 7h1M66 8h1M66 9h1M66 10h1M66 11h1M66 12h1M66 13h1M66 14h1M66 15h1M66 16h1M66 17h1M67 18h1M67 19h1M67 20h1M68 21h1M68 22h1M68 23h1M69 24h1M69 25h1M70 26h1M70 27h1M71 28h1M72 30h1M72 31h1M73 33h1M74 35h1M76 38h1M77 41h1M45 44h1M78 46h1M44 54h1M44 65h1M78 69h1M45 71h1M45 72h1M45 73h1M77 74h1M76 78h1M75 81h1M73 84h1M72 86h1M72 87h1M72 88h1M71 89h1M71 90h1M71 91h1M70 92h1M70 93h1M69 94h2M69 95h1M69 96h1M68 97h2M68 98h1M68 99h1M68 100h1M67 101h2M67 102h1M67 103h1M67 104h1M66 105h2M66 106h1M66 107h1M66 108h1M66 109h1M65 110h2M65 111h2M65 112h1M65 113h1M65 114h1M64 115h2M64 116h2M64 117h2M64 118h2M64 119h2"/><path stroke="#472e7c" d="M65 0h1M65 1h1M65 2h1M65 3h1M65 4h1M65 5h1M65 6h1M65 7h1M65 8h1M65 9h1M65 10h1M65 11h1M65 12h1M65 13h1M65 14h1M65 15h1M65 16h1M66 18h1M66 19h1M66 20h1M67 21h1M67 22h1M67 23h1M68 24h1M68 25h1M69 26h1M70 28h1M71 29h1M71 30h1M72 32h1M73 34h1M74 36h1M75 37h1M76 39h1M44 42h1M77 42h1M45 43h1M78 47h1M45 48h1M78 48h1M43 51h1M78 58h1M42 59h1M78 59h1M42 60h1M78 60h1M78 61h1M78 62h1M78 63h1M78 67h1M78 68h1M77 73h1M76 77h1M75 80h1M74 82h1M73 83h1M72 84h1M72 85h1M71 86h1M71 87h1M71 88h1M70 89h1M70 90h1M70 91h1M69 92h1M69 93h1M68 94h1M68 95h1M67 96h2M67 97h1M67 98h1M67 99h1M66 100h2M66 101h1M66 102h1M66 103h1M65 104h2M65 105h1M65 106h1M65 107h1M64 108h2M64 109h2M64 110h1M64 111h1M64 112h1M63 113h2M63 114h2M63 115h1M63 116h1M63 117h1M63 118h1M63 119h1"/><path stroke="#46307e" d="M64 0h1M64 1h1M64 2h1M64 3h1M64 4h1M64 5h1M64 6h1M64 7h1M64 8h1M64 9h1M64 10h1M64 11h1M64 12h1M64 13h1M64 14h1M64 15h1M65 17h1M65 18h1M65 19h1M65 20h1M66 21h1M66 22h1M66 23h1M67 24h1M67 25h1M68 26h1M69 27h1M69 28h1M70 29h1M71 31h1M72 33h1M72 34h1M73 35h1M78 49h1M78 50h1M78 55h1M78 56h1M78 57h1M78 64h1M78 65h1M78 66h1M43 68h1M45 70h1M77 72h1M45 74h1M76 76h1M75 79h1M74 81h1M73 82h1M71 85h1M70 86h1M70 87h1M70 88h1M69 89h1M69 90h1M69 91h1M68 92h1M68 93h1M67 94h1M67 95h1M66 96h1M66 97h1M66 98h1M65 99h2M65 100h1M65 101h1M65 102h1M64 103h2M64 104h1M64 105h1M64 106h1M63 107h2M63 108h1M63 109h1M63 110h1M62 111h2M62 112h2M62 113h1M61 114h2M61 115h2M61 116h2M61 117h2M61 118h2M61 119h2"/><path stroke="#46337f" d="M63 0h1M63 1h1M63 2h1M63 3h1M63 4h1M63 5h1M63 6h1M63 7h1M63 8h1M63 9h1M63 10h1M63 11h1M63 12h1M63 13h1M63 14h1M64 16h1M64 17h1M64 18h1M64 19h1M65 21h1M65 22h1M65 23h1M66 24h1M66 25h1M67 26h1M68 27h1M69 29h1M70 30h1M70 31h1M71 32h1M71 33h1M73 36h1M74 37h1M75 38h1M76 40h1M77 43h1M45 49h1M78 51h1M78 52h1M78 53h1M78 54h1M42 61h1M76 75h1M44 76h1M75 78h1M74 80h1M72 83h1M71 84h1M70 85h1M69 87h1M69 88h1M68 89h1M68 90h1M67 91h2M67 92h1M66 93h2M66 94h1M65 95h2M65 96h1M65 97h1M64 98h2M64 99h1M64 100h1M64 101h1M63 102h2M63 103h1M63 104h1M62 105h2M62 106h2M62 107h1M62 108h1M61 109h2M46 110h1M61 110h2M46 111h1M61 111h1M45 112h3M60 112h2M45 113h3M60 113h2M45 114h3M60 114h1M45 115h3M60 115h1M45 116h3M60 116h1M45 117h3M60 117h1M45 118h3M60 118h1M45 119h3M60 119h1"/><path stroke="#453581" d="M62 0h1M62 1h1M62 2h1M62 3h1M62 4h1M62 5h1M62 6h1M62 7h1M62 8h1M62 9h1M62 10h1M62 11h1M62 12h1M62 13h1M63 15h1M63 16h1M63 17h1M63 18h1M64 20h1M64 21h1M64 22h1M65 24h1M65 25h1M66 26h1M67 27h1M68 28h1M68 29h1M69 30h1M70 32h1M71 34h1M72 35h1M76 41h1M45 42h1M77 44h1M44 55h1M45 69h1M77 71h1M76 74h1M45 75h1M75 77h1M73 81h1M72 82h1M71 83h1M70 84h1M69 85h1M69 86h1M68 87h1M68 88h1M67 89h1M67 90h1M66 91h1M66 92h1M65 93h1M64 94h2M64 95h1M64 96h1M63 97h2M63 98h1M63 99h1M63 100h1M62 101h2M46 102h1M62 102h1M46 103h1M62 103h1M45 104h3M61 104h2M45 105h3M61 105h1M45 106h3M61 106h1M45 107h3M61 107h1M45 108h3M60 108h2M45 109h4M60 109h1M44 110h2M47 110h2M60 110h1M44 111h2M47 111h2M59 111h2M44 112h1M48 112h1M59 112h1M44 113h1M48 113h1M58 113h2M44 114h1M48 114h2M58 114h2M44 115h1M48 115h2M58 115h2M44 116h1M48 116h2M58 116h2M44 117h1M48 117h2M58 117h2M44 118h1M48 118h2M58 118h2M44 119h1M48 119h2M58 119h2"/><path stroke="#453882" d="M61 0h1M61 1h1M61 2h1M61 3h1M61 4h1M61 5h1M61 6h1M61 7h1M61 8h1M61 9h1M61 10h1M61 11h1M62 14h1M62 15h1M62 16h1M62 17h1M63 19h1M63 20h1M63 21h1M63 22h1M64 23h1M64 24h1M64 25h1M65 26h1M66 27h1M67 28h1M68 30h1M69 31h1M70 33h1M74 38h1M75 39h1M77 45h1M43 50h1M45 50h1M42 58h1M43 69h1M77 70h1M75 76h1M74 79h1M70 83h1M69 84h1M68 86h1M67 87h1M67 88h1M66 89h1M66 90h1M65 91h1M64 92h2M46 93h1M64 93h1M46 94h1M63 94h1M46 95h2M63 95h1M45 96h3M62 96h2M45 97h3M62 97h1M45 98h3M62 98h1M45 99h3M62 99h1M45 100h3M61 100h2M45 101h4M61 101h1M45 102h1M47 102h2M61 102h1M45 103h1M47 103h2M60 103h2M44 104h1M48 104h1M60 104h1M44 105h1M48 105h1M60 105h1M44 106h1M48 106h1M59 106h2M44 107h1M48 107h2M59 107h2M44 108h1M48 108h2M58 108h2M44 109h1M49 109h1M58 109h2M49 110h1M58 110h2M43 111h1M49 111h1M57 111h2M43 112h1M49 112h2M57 112h2M43 113h1M49 113h2M56 113h2M0 114h5M43 114h1M50 114h1M56 114h2M0 115h6M43 115h1M50 115h1M55 115h3M0 116h6M43 116h1M50 116h1M55 116h3M0 117h6M43 117h1M50 117h1M55 117h3M0 118h6M43 118h1M50 118h1M55 118h3M0 119h6M43 119h1M50 119h1M55 119h3"/><path stroke="#443a83" d="M45 0h3M60 0h1M45 1h3M60 1h1M45 2h3M60 2h1M45 3h3M60 3h1M45 4h3M60 4h1M45 5h3M60 5h1M45 6h3M60 6h1M45 7h3M60 7h1M45 8h3M60 8h1M45 9h3M60 9h1M45 10h3M60 10h1M46 11h1M46 12h1M61 12h1M46 13h1M61 13h1M46 14h1M61 14h1M46 15h1M61 15h1M61 16h1M61 17h1M62 18h1M62 19h1M62 20h1M62 21h1M63 23h1M63 24h1M64 26h1M65 27h1M66 28h1M67 29h1M68 31h1M69 32h1M70 34h1M71 35h1M72 36h1M73 37h1M75 40h1M76 42h1M77 46h1M43 48h1M43 49h1M42 62h1M44 64h1M43 70h1M76 73h1M45 76h1M74 78h1M73 80h1M72 81h1M71 82h1M68 85h1M46 86h1M67 86h1M46 87h1M66 87h1M46 88h1M66 88h1M45 89h3M65 89h1M45 90h3M64 90h2M45 91h3M63 91h2M45 92h3M63 92h1M45 93h1M47 93h2M62 93h2M45 94h1M47 94h2M62 94h1M45 95h1M48 95h1M61 95h2M44 96h1M48 96h1M61 96h1M44 97h1M48 97h1M61 97h1M44 98h1M48 98h1M60 98h2M44 99h1M48 99h2M60 99h2M44 100h1M48 100h2M60 100h1M44 101h1M49 101h1M59 101h2M44 102h1M49 102h1M59 102h2M44 103h1M49 103h1M59 103h1M49 104h1M58 104h2M43 105h1M49 105h1M58 105h2M43 106h1M49 106h2M57 106h2M43 107h1M50 107h1M57 107h2M43 108h1M50 108h1M56 108h2M43 109h1M50 109h1M56 109h2M43 110h1M50 110h2M55 110h3M42 111h1M50 111h2M55 111h2M42 112h1M51 112h2M54 112h3M0 113h5M42 113h1M51 113h5M5 114h2M42 114h1M51 114h5M6 115h2M42 115h1M51 115h4M6 116h2M42 116h1M51 116h4M6 117h2M42 117h1M51 117h4M6 118h2M42 118h1M51 118h4M6 119h2M42 119h1M51 119h4"/><path stroke="#433d84" d="M0 0h5M44 0h1M48 0h1M58 0h2M0 1h5M44 1h1M48 1h1M58 1h2M0 2h5M44 2h1M48 2h1M58 2h2M0 3h5M44 3h1M48 3h1M58 3h2M0 4h5M44 4h1M48 4h1M58 4h2M44 5h1M48 5h1M58 5h2M44 6h1M48 6h1M58 6h2M44 7h1M48 7h1M59 7h1M44 8h1M48 8h1M59 8h1M44 9h1M48 9h1M59 9h1M44 10h1M48 10h1M59 10h1M44 11h2M47 11h2M59 11h2M44 12h2M47 12h2M60 12h1M44 13h2M47 13h2M60 13h1M45 14h1M47 14h2M60 14h1M45 15h1M47 15h2M60 15h1M45 16h3M60 16h1M45 17h3M45 18h3M61 18h1M45 19h3M61 19h1M46 20h2M61 20h1M46 21h1M61 21h1M46 22h1M62 22h1M62 23h1M62 24h1M63 25h1M63 26h1M64 27h1M65 28h1M66 29h1M67 30h1M68 32h1M69 33h1M70 35h1M43 47h1M77 47h1M42 57h1M77 69h1M43 71h1M43 72h1M75 75h1M74 77h1M73 79h1M70 82h1M69 83h1M46 84h1M68 84h1M45 85h3M66 85h2M45 86h1M47 86h1M66 86h1M45 87h1M47 87h1M65 87h1M45 88h1M47 88h2M64 88h2M48 89h1M63 89h2M44 90h1M48 90h1M63 90h1M44 91h1M48 91h1M62 91h1M44 92h1M48 92h1M61 92h2M44 93h1M49 93h1M61 93h1M44 94h1M49 94h1M60 94h2M44 95h1M49 95h1M60 95h1M49 96h1M59 96h2M49 97h2M59 97h2M49 98h2M58 98h2M43 99h1M50 99h1M58 99h2M43 100h1M50 100h1M58 100h2M43 101h1M50 101h1M57 101h2M43 102h1M50 102h1M57 102h2M43 103h1M50 103h1M56 103h3M43 104h1M50 104h2M56 104h2M50 105h2M56 105h2M51 106h1M55 106h2M42 107h1M51 107h1M55 107h2M42 108h1M51 108h2M54 108h2M42 109h1M51 109h5M42 110h1M52 110h3M52 111h3M0 112h5M41 112h1M53 112h1M5 113h2M41 113h1M7 114h1M41 114h1M8 115h1M41 115h1M8 116h1M41 116h1M8 117h1M41 117h1M8 118h1M41 118h1M8 119h1M41 119h1"/><path stroke="#424186" d="M7 0h1M42 0h1M51 0h5M7 1h1M42 1h1M51 1h5M7 2h1M42 2h1M51 2h5M7 3h1M42 3h1M51 3h5M7 4h1M42 4h1M51 4h5M6 5h1M42 5h1M51 5h2M54 5h2M0 6h5M42 6h1M51 6h2M54 6h3M42 7h1M51 7h1M55 7h2M42 8h1M51 8h1M55 8h2M42 9h1M50 9h2M55 9h2M50 10h2M55 10h2M50 11h2M56 11h2M43 12h1M50 12h2M56 12h2M43 13h1M50 13h1M56 13h2M43 14h1M50 14h1M56 14h2M43 15h1M50 15h1M57 15h2M43 16h1M50 16h1M57 16h2M43 17h1M49 17h2M58 17h1M49 18h1M58 18h2M49 19h1M58 19h2M44 20h1M49 20h1M59 20h1M44 21h1M49 21h1M59 21h1M44 22h1M49 22h1M60 22h1M44 23h1M48 23h1M60 23h1M44 24h1M48 24h1M60 24h1M48 25h1M61 25h1M48 26h1M45 27h1M48 27h1M62 27h1M45 28h1M47 28h1M63 28h1M45 29h1M47 29h1M64 29h1M45 30h3M65 30h1M45 31h3M66 31h1M45 32h3M46 33h1M67 33h1M46 34h1M68 34h1M69 35h1M76 44h1M43 45h1M77 49h1M42 63h1M45 68h1M43 73h1M74 76h1M73 78h1M70 81h1M45 82h3M68 82h1M44 83h1M48 83h1M67 83h1M44 84h1M48 84h1M65 84h1M49 85h1M63 85h2M49 86h1M62 86h2M43 87h1M49 87h1M61 87h2M43 88h1M50 88h1M61 88h1M43 89h1M50 89h1M60 89h2M43 90h1M50 90h1M59 90h2M43 91h1M50 91h1M58 91h2M43 92h1M51 92h1M57 92h3M51 93h1M56 93h3M51 94h2M55 94h3M42 95h1M51 95h6M42 96h1M52 96h5M42 97h1M52 97h4M42 98h1M52 98h4M42 99h1M52 99h3M42 100h1M52 100h3M53 101h2M53 102h1M41 103h1M41 104h1M41 105h1M41 106h1M41 107h1M40 109h1M40 110h1M0 111h6M40 111h1M7 112h1M39 112h1M8 113h2M39 113h1M10 114h2M38 114h2M11 115h2M38 115h1M11 116h2M38 116h1M11 117h2M38 117h1M11 118h2M38 118h1M11 119h2M38 119h1"/><path stroke="#414487" d="M8 0h1M41 0h1M8 1h1M41 1h1M8 2h1M41 2h1M8 3h1M41 3h1M8 4h1M41 4h1M7 5h1M41 5h1M53 5h1M5 6h2M41 6h1M53 6h1M0 7h5M41 7h1M52 7h3M52 8h3M52 9h3M42 10h1M52 10h3M42 11h1M52 11h4M42 12h1M52 12h4M42 13h1M51 13h5M42 14h1M51 14h2M54 14h2M42 15h1M51 15h2M55 15h2M51 16h1M55 16h2M51 17h1M56 17h2M43 18h1M50 18h2M56 18h2M43 19h1M50 19h1M57 19h1M43 20h1M50 20h1M57 20h2M43 21h1M50 21h1M57 21h2M50 22h1M58 22h2M49 23h1M58 23h2M49 24h1M59 24h1M44 25h1M49 25h1M60 25h1M44 26h1M49 26h1M60 26h2M44 27h1M49 27h1M61 27h1M44 28h1M48 28h1M62 28h1M44 29h1M48 29h1M63 29h1M48 30h1M64 30h1M48 31h1M65 31h1M66 32h1M45 33h1M47 33h1M45 34h1M47 34h1M45 35h3M46 36h1M70 36h1M71 37h1M74 40h1M45 41h1M77 50h1M45 51h1M42 56h1M44 56h1M77 67h1M76 71h1M75 73h1M74 75h1M73 77h1M72 79h1M46 80h1M71 80h1M45 81h3M69 81h1M44 82h1M48 82h1M67 82h1M65 83h2M43 84h1M49 84h1M62 84h3M43 85h1M50 85h1M61 85h2M43 86h1M50 86h1M60 86h2M50 87h1M59 87h2M51 88h1M58 88h3M51 89h1M57 89h3M51 90h1M56 90h3M42 91h1M51 91h2M55 91h3M42 92h1M52 92h5M42 93h1M52 93h4M42 94h1M53 94h2M41 98h1M41 99h1M41 100h1M41 101h1M41 102h1M40 105h1M40 106h1M40 107h1M40 108h1M39 109h1M0 110h6M39 110h1M6 111h2M38 111h2M8 112h2M38 112h1M10 113h2M37 113h2M12 114h2M37 114h1M13 115h2M36 115h2M13 116h2M36 116h2M13 117h2M36 117h2M13 118h2M36 118h2M13 119h2M36 119h2"/><path stroke="#404688" d="M9 0h1M40 0h1M9 1h1M40 1h1M9 2h1M40 2h1M9 3h1M40 3h1M9 4h1M40 4h1M8 5h1M40 5h1M7 6h1M40 6h1M5 7h2M40 7h1M0 8h5M41 8h1M41 9h1M41 10h1M41 11h1M41 12h1M41 13h1M41 14h1M53 14h1M53 15h2M42 16h1M52 16h3M42 17h1M52 17h4M42 18h1M52 18h4M42 19h1M51 19h2M54 19h3M51 20h1M55 20h2M51 21h1M55 21h2M43 22h1M51 22h1M56 22h2M43 23h1M50 23h2M56 23h2M43 24h1M50 24h1M57 24h2M43 25h1M50 25h1M58 25h2M50 26h1M59 26h1M60 27h1M49 28h1M61 28h1M49 29h1M62 29h1M44 30h1M49 30h1M63 30h1M44 31h1M64 31h1M44 32h1M48 32h1M65 32h1M44 33h1M48 33h1M66 33h1M44 34h1M48 34h1M67 34h1M68 35h1M45 36h1M47 36h1M69 36h1M46 37h1M72 38h1M73 39h1M75 42h1M43 44h1M76 45h1M44 63h1M77 66h1M43 74h1M72 78h1M46 79h1M45 80h1M47 80h1M70 80h1M44 81h1M48 81h1M68 81h1M66 82h1M43 83h1M49 83h1M62 83h3M50 84h1M60 84h2M51 85h1M59 85h2M42 86h1M51 86h1M57 86h3M42 87h1M51 87h2M56 87h3M42 88h1M52 88h1M55 88h3M42 89h1M52 89h5M42 90h1M52 90h4M53 91h2M41 93h1M41 94h1M41 95h1M41 96h1M41 97h1M40 100h1M40 101h1M40 102h1M40 103h1M40 104h1M39 106h1M39 107h1M39 108h1M0 109h6M38 109h1M6 110h2M38 110h1M8 111h2M37 111h1M10 112h2M36 112h2M12 113h2M36 113h1M14 114h2M35 114h2M15 115h2M34 115h2M15 116h2M34 116h2M15 117h2M34 117h2M15 118h2M34 118h2M15 119h2M34 119h2"/><path stroke="#3f4889" d="M10 0h2M39 0h1M10 1h2M39 1h1M10 2h2M39 2h1M10 3h2M39 3h1M10 4h2M39 4h1M9 5h2M39 5h1M8 6h2M39 6h1M7 7h1M5 8h1M40 8h1M40 9h1M40 10h1M40 11h1M40 12h1M41 15h1M41 16h1M41 17h1M53 19h1M42 20h1M52 20h3M42 21h1M52 21h3M42 22h1M52 22h4M52 23h4M51 24h2M55 24h2M51 25h1M56 25h2M43 26h1M51 26h1M57 26h2M43 27h1M50 27h1M58 27h2M43 28h1M50 28h1M60 28h1M43 29h1M50 29h1M61 29h1M62 30h1M49 31h1M63 31h1M49 32h1M64 32h1M49 33h1M65 33h1M49 34h1M66 34h1M44 35h1M48 35h1M67 35h1M44 36h1M48 36h1M45 37h1M47 37h1M70 37h1M46 38h1M74 41h1M43 43h1M77 51h1M77 52h1M77 64h1M77 65h1M76 70h1M74 74h1M73 76h1M45 78h2M45 79h1M47 79h1M71 79h1M44 80h1M48 80h1M69 80h1M67 81h1M43 82h1M49 82h1M63 82h3M50 83h1M60 83h2M42 84h1M51 84h1M58 84h2M42 85h1M52 85h1M56 85h3M52 86h5M53 87h3M53 88h2M41 89h1M41 90h1M41 91h1M41 92h1M40 95h1M40 96h1M40 97h1M40 98h1M40 99h1M39 101h1M39 102h1M39 103h1M39 104h1M39 105h1M38 106h1M38 107h1M0 108h6M37 108h2M6 109h2M37 109h1M8 110h2M36 110h2M10 111h2M35 111h2M12 112h2M35 112h1M14 113h2M34 113h2M16 114h2M33 114h2M17 115h5M32 115h2M17 116h5M32 116h2M17 117h5M32 117h2M17 118h5M32 118h2M17 119h5M32 119h2"/><path stroke="#3e4a89" d="M12 0h2M38 0h1M12 1h2M38 1h1M12 2h2M38 2h1M12 3h2M38 3h1M12 4h2M38 4h1M11 5h2M38 5h1M10 6h1M38 6h1M8 7h1M38 7h2M6 8h2M39 8h1M0 9h6M39 9h1M39 10h1M39 11h1M40 13h1M40 14h1M40 15h1M40 16h1M41 18h1M41 19h1M41 20h1M42 23h1M42 24h1M53 24h2M42 25h1M52 25h4M42 26h1M52 26h5M51 27h1M56 27h2M51 28h1M58 28h2M51 29h1M59 29h2M43 30h1M50 30h1M61 30h1M43 31h1M50 31h1M62 31h1M43 32h1M50 32h1M63 32h1M43 33h1M64 33h1M65 34h1M49 35h1M66 35h1M68 36h1M44 37h1M48 37h1M45 38h1M47 38h1M71 38h1M46 39h1M73 40h1M46 43h1M75 43h1M46 44h1M76 46h1M77 53h1M44 57h1M77 62h1M77 63h1M42 64h1M75 72h1M43 75h1M46 76h1M45 77h2M72 77h1M44 78h1M47 78h1M44 79h1M48 79h1M70 79h1M43 80h1M68 80h1M43 81h1M49 81h1M64 81h3M42 82h1M50 82h1M60 82h3M42 83h1M51 83h1M57 83h3M52 84h6M53 85h3M41 86h1M41 87h1M41 88h1M40 92h1M40 93h1M40 94h1M39 97h1M39 98h1M39 99h1M39 100h1M38 102h1M38 103h1M38 104h1M37 105h2M37 106h1M0 107h5M36 107h2M6 108h2M36 108h1M8 109h2M35 109h2M10 110h2M34 110h2M12 111h2M34 111h1M14 112h2M33 112h2M16 113h3M31 113h3M18 114h15M22 115h10M22 116h10M22 117h10M22 118h10M22 119h10"/><path stroke="#3d4d8a" d="M14 0h2M36 0h2M14 1h2M36 1h2M14 2h2M36 2h2M14 3h2M36 3h2M14 4h2M36 4h2M13 5h2M37 5h1M11 6h2M37 6h1M9 7h2M37 7h1M8 8h1M38 8h1M6 9h2M38 9h1M0 10h6M38 10h1M38 11h1M39 12h1M39 13h1M39 14h1M39 15h1M40 17h1M40 18h1M41 21h1M41 22h1M41 23h1M42 27h1M52 27h4M42 28h1M52 28h6M42 29h1M52 29h1M57 29h2M51 30h1M59 30h2M51 31h1M60 31h2M61 32h2M50 33h1M62 33h2M43 34h1M50 34h1M64 34h1M43 35h1M65 35h1M49 36h1M67 36h1M69 37h1M44 38h1M48 38h1M45 39h1M47 39h1M72 39h1M46 40h1M43 42h1M46 42h1M46 45h1M46 46h1M76 47h1M45 52h1M77 54h1M42 55h1M77 55h1M77 56h1M77 57h1M77 58h1M77 59h1M77 60h1M77 61h1M44 62h1M45 67h1M76 69h1M46 73h1M74 73h1M46 74h1M46 75h1M73 75h1M43 76h1M44 77h1M47 77h1M48 78h1M71 78h1M43 79h1M69 79h1M49 80h1M65 80h3M42 81h1M50 81h1M60 81h4M51 82h1M57 82h3M52 83h5M41 84h1M41 85h1M40 89h1M40 90h1M40 91h1M39 94h1M39 95h1M39 96h1M38 98h1M38 99h1M38 100h1M38 101h1M37 102h1M37 103h1M36 104h2M36 105h1M0 106h5M35 106h2M5 107h2M35 107h1M8 108h1M34 108h2M10 109h2M33 109h2M12 110h2M32 110h2M14 111h2M31 111h3M16 112h5M27 112h6M19 113h12"/><path stroke="#3c4f8a" d="M16 0h2M35 0h1M16 1h2M35 1h1M16 2h2M35 2h1M16 3h2M35 3h1M16 4h2M35 4h1M15 5h2M35 5h2M13 6h2M36 6h1M11 7h2M36 7h1M9 8h2M36 8h2M8 9h1M37 9h1M6 10h2M37 10h1M0 11h6M37 11h1M38 12h1M38 13h1M38 14h1M39 16h1M39 17h1M40 19h1M40 20h1M40 21h1M41 24h1M41 25h1M41 26h1M53 29h4M42 30h1M52 30h2M55 30h4M42 31h1M52 31h1M58 31h2M42 32h1M51 32h1M60 32h1M51 33h1M61 33h1M51 34h1M62 34h2M50 35h1M64 35h1M43 36h1M50 36h1M66 36h1M43 37h1M49 37h1M68 37h1M70 38h1M44 39h1M48 39h1M45 40h1M47 40h1M46 41h1M74 42h1M75 44h1M46 47h1M46 71h1M75 71h1M46 72h1M47 76h1M72 76h1M48 77h1M43 78h1M70 78h1M49 79h1M67 79h2M42 80h1M50 80h1M60 80h5M51 81h1M58 81h2M41 82h1M52 82h1M55 82h2M41 83h1M40 85h1M40 86h1M40 87h1M40 88h1M39 91h1M39 92h1M39 93h1M38 95h1M38 96h1M38 97h1M37 99h1M37 100h1M37 101h1M36 102h1M36 103h1M35 104h1M35 105h1M5 106h2M34 106h1M7 107h2M33 107h2M9 108h2M32 108h2M12 109h2M31 109h2M14 110h2M29 110h3M16 111h15M21 112h6"/><path stroke="#3b518b" d="M18 0h3M33 0h2M18 1h3M33 1h2M18 2h3M33 2h2M18 3h3M33 3h2M18 4h3M33 4h2M17 5h2M34 5h1M15 6h2M34 6h2M13 7h2M35 7h1M11 8h2M35 8h1M9 9h2M36 9h1M8 10h1M36 10h1M6 11h1M36 11h1M0 12h5M37 12h1M37 13h1M37 14h1M38 15h1M38 16h1M39 18h1M39 19h1M40 22h1M40 23h1M41 27h1M41 28h1M41 29h1M54 30h1M53 31h5M52 32h2M56 32h4M42 33h1M52 33h1M60 33h1M42 34h1M61 34h1M42 35h1M51 35h1M62 35h2M64 36h2M50 37h1M67 37h1M43 38h1M49 38h1M69 38h1M71 39h1M44 40h1M48 40h1M47 41h1M73 41h1M47 42h1M47 43h1M46 48h1M76 48h1M44 58h1M42 65h1M73 74h1M47 75h1M48 76h1M43 77h1M71 77h1M42 78h1M49 78h1M69 78h1M42 79h1M50 79h1M61 79h6M51 80h1M58 80h2M41 81h1M52 81h1M55 81h3M53 82h2M40 83h1M40 84h1M39 88h1M39 89h1M39 90h1M38 92h1M38 93h1M38 94h1M37 96h1M37 97h1M37 98h1M36 99h1M36 100h1M35 101h2M35 102h1M34 103h2M34 104h1M0 105h7M33 105h2M7 106h2M32 106h2M9 107h2M31 107h2M11 108h3M29 108h3M14 109h2M27 109h4M16 110h13"/><path stroke="#3a538b" d="M21 0h3M31 0h2M21 1h3M31 1h2M21 2h3M31 2h2M21 3h3M31 3h2M21 4h3M31 4h2M19 5h4M32 5h2M17 6h3M33 6h1M15 7h2M34 7h1M13 8h2M34 8h1M11 9h2M35 9h1M9 10h2M35 10h1M7 11h2M35 11h1M5 12h2M36 12h1M36 13h1M36 14h1M37 15h1M37 16h1M38 17h1M38 18h1M39 20h1M39 21h1M39 22h1M40 24h1M40 25h1M40 26h1M41 30h1M41 31h1M41 32h1M54 32h2M53 33h7M52 34h2M59 34h2M52 35h1M61 35h1M42 36h1M51 36h1M63 36h1M66 37h1M50 38h1M68 38h1M43 39h1M49 39h1M72 40h1M43 41h1M48 41h1M74 43h1M47 44h1M75 45h1M45 53h1M42 54h1M44 61h1M45 66h1M76 68h1M46 70h1M74 72h1M47 73h1M47 74h1M72 75h1M42 77h1M49 77h1M70 77h1M50 78h1M62 78h7M41 79h1M58 79h3M41 80h1M52 80h1M56 80h2M53 81h2M40 82h1M39 85h1M39 86h1M39 87h1M38 90h1M38 91h1M37 93h1M37 94h1M37 95h1M36 96h1M36 97h1M36 98h1M35 99h1M35 100h1M34 101h1M34 102h1M33 103h1M0 104h6M32 104h2M7 105h2M31 105h2M9 106h2M30 106h2M11 107h3M28 107h3M14 108h2M25 108h4M16 109h11"/><path stroke="#39558c" d="M24 0h7M24 1h7M24 2h7M24 3h7M24 4h7M23 5h9M20 6h4M29 6h4M17 7h4M32 7h2M15 8h2M33 8h1M13 9h2M33 9h2M11 10h2M34 10h1M9 11h2M34 11h1M7 12h2M35 12h1M0 13h7M35 13h1M36 15h1M36 16h1M37 17h1M37 18h1M38 19h1M38 20h1M39 23h1M39 24h1M40 27h1M40 28h1M41 33h1M41 34h1M54 34h5M53 35h8M52 36h1M61 36h2M42 37h1M51 37h1M64 37h2M42 38h1M67 38h1M50 39h1M70 39h1M43 40h1M49 40h1M48 42h1M47 45h1M47 46h1M46 49h1M76 49h1M44 59h1M46 69h1M75 70h1M47 72h1M42 73h1M42 74h1M48 75h1M42 76h1M49 76h1M71 76h1M50 77h1M68 77h2M41 78h1M58 78h4M51 79h1M56 79h2M40 80h1M53 80h3M40 81h1M39 83h1M39 84h1M38 88h1M38 89h1M37 91h1M37 92h1M36 94h1M36 95h1M35 97h1M35 98h1M34 99h1M34 100h1M33 101h1M33 102h1M0 103h5M32 103h1M6 104h2M31 104h1M9 105h2M29 105h2M11 106h3M27 106h3M14 107h2M23 107h5M16 108h9"/><path stroke="#38588c" d="M24 6h5M21 7h11M17 8h4M30 8h3M15 9h3M32 9h1M13 10h2M33 10h1M11 11h2M33 11h1M9 12h1M34 12h1M7 13h1M34 13h1M0 14h6M35 14h1M35 15h1M36 17h1M37 19h1M37 20h1M38 21h1M38 22h1M39 25h1M39 26h1M40 29h1M40 30h1M40 31h1M41 35h1M41 36h1M53 36h8M52 37h1M62 37h2M51 38h1M66 38h1M42 39h1M69 39h1M50 40h1M71 40h1M49 41h1M73 42h1M48 43h1M48 44h1M75 46h1M47 47h1M46 50h1M76 50h1M44 60h1M42 66h1M76 67h1M42 71h1M47 71h1M42 72h1M48 73h1M73 73h1M48 74h1M72 74h1M42 75h1M49 75h1M41 76h1M70 76h1M41 77h1M59 77h9M51 78h1M57 78h1M40 79h1M52 79h4M39 82h1M38 85h1M38 86h1M38 87h1M37 90h1M36 92h1M36 93h1M35 95h1M35 96h1M34 97h1M34 98h1M33 99h1M33 100h1M32 101h1M31 102h2M5 103h2M30 103h2M8 104h2M28 104h3M11 105h2M26 105h3M14 106h2M22 106h5M16 107h7"/><path stroke="#375a8c" d="M21 8h9M18 9h4M28 9h4M15 10h3M30 10h3M13 11h2M32 11h1M10 12h3M32 12h2M8 13h2M33 13h1M6 14h2M34 14h1M0 15h5M34 15h1M35 16h1M35 17h1M36 18h1M36 19h1M37 21h1M37 22h1M38 23h1M38 24h1M38 25h1M39 27h1M39 28h1M40 32h1M40 33h1M41 37h1M53 37h4M59 37h3M52 38h1M63 38h3M51 39h1M68 39h1M42 40h1M50 41h1M72 41h1M42 42h1M49 42h1M42 43h1M42 44h1M74 44h1M42 45h1M48 45h1M42 46h1M42 47h1M42 53h1M45 54h1M45 65h1M76 66h1M42 67h1M46 68h1M42 70h1M74 71h1M41 74h1M49 74h1M41 75h1M71 75h1M50 76h1M59 76h11M40 77h1M51 77h1M57 77h2M40 78h1M52 78h1M54 78h3M39 80h1M39 81h1M38 84h1M37 88h1M37 89h1M36 91h1M35 93h1M35 94h1M34 95h1M34 96h1M33 97h1M33 98h1M32 99h1M32 100h1M31 101h1M0 102h6M29 102h2M7 103h2M28 103h2M10 104h2M26 104h2M13 105h3M22 105h4M16 106h6"/><path stroke="#365c8d" d="M22 9h6M18 10h5M26 10h4M15 11h2M29 11h3M13 12h2M31 12h1M10 13h2M32 13h1M8 14h2M33 14h1M5 15h2M33 15h1M34 16h1M34 17h1M35 18h1M35 19h1M36 20h1M36 21h1M37 23h1M38 26h1M39 29h1M39 30h1M40 34h1M40 35h1M57 37h2M41 38h1M53 38h2M61 38h2M41 39h1M52 39h1M66 39h2M51 40h1M70 40h1M42 41h1M49 43h1M75 47h1M42 48h1M47 48h1M46 51h1M76 51h1M42 52h1M76 65h1M42 68h1M42 69h1M75 69h1M47 70h1M48 72h1M41 73h1M50 75h1M59 75h4M70 75h1M40 76h1M51 76h1M57 76h2M52 77h1M55 77h2M53 78h1M39 79h1M38 82h1M38 83h1M37 86h1M37 87h1M36 89h1M36 90h1M35 92h1M34 94h1M33 96h1M32 98h1M31 99h1M30 100h2M0 101h5M29 101h2M6 102h2M28 102h1M9 103h2M26 103h2M12 104h3M23 104h3M16 105h6"/><path stroke="#355e8d" d="M23 10h3M17 11h6M25 11h4M15 12h2M28 12h3M12 13h2M30 13h2M10 14h1M31 14h2M7 15h2M32 15h1M0 16h6M33 16h1M34 18h1M35 20h1M36 22h1M37 24h1M37 25h1M38 27h1M38 28h1M39 31h1M39 32h1M40 36h1M40 37h1M55 38h6M53 39h1M63 39h3M41 40h1M52 40h1M69 40h1M51 41h1M50 42h1M73 43h1M49 44h1M74 45h1M48 46h1M42 49h1M47 49h1M42 50h1M42 51h1M45 55h1M45 64h1M46 67h1M47 69h1M48 71h1M41 72h1M73 72h1M49 73h1M50 74h1M60 74h1M40 75h1M58 75h1M63 75h7M56 76h1M53 77h2M39 78h1M38 81h1M37 85h1M36 88h1M35 91h1M34 93h1M33 95h1M32 96h1M32 97h1M31 98h1M30 99h1M29 100h1M5 101h2M28 101h1M8 102h2M26 102h2M11 103h2M24 103h2M15 104h3M19 104h4"/><path stroke="#34608d" d="M23 11h2M17 12h11M14 13h3M28 13h2M11 14h3M30 14h1M9 15h1M31 15h1M6 16h2M32 16h1M0 17h5M33 17h1M34 19h1M35 21h1M36 23h1M36 24h1M37 26h1M38 29h1M38 30h1M39 33h1M39 34h1M40 38h1M54 39h9M68 40h1M41 41h1M71 41h1M41 42h1M51 42h1M72 42h1M41 43h1M50 43h1M49 45h1M48 47h1M75 48h1M46 52h1M76 52h1M76 64h1M41 71h1M49 72h1M72 73h1M40 74h1M58 74h2M61 74h3M71 74h1M51 75h1M57 75h1M39 76h1M52 76h1M54 76h2M39 77h1M38 80h1M37 83h1M37 84h1M36 87h1M35 90h1M34 92h1M33 94h1M32 95h1M31 97h1M30 98h1M29 99h1M0 100h6M28 100h1M7 101h2M27 101h1M10 102h2M25 102h1M13 103h3M21 103h3M18 104h1"/><path stroke="#33628d" d="M17 13h11M14 14h2M27 14h3M10 15h3M29 15h2M8 16h1M31 16h1M5 17h2M32 17h1M33 18h1M33 19h1M34 20h1M34 21h1M35 22h1M35 23h1M36 25h1M37 27h1M37 28h1M38 31h1M39 35h1M39 36h1M40 39h1M53 40h4M65 40h3M52 41h1M41 44h1M50 44h1M41 45h1M49 46h1M48 48h1M47 50h1M46 53h1M76 53h1M45 56h1M45 63h1M76 63h1M46 66h1M47 68h1M75 68h1M41 70h1M48 70h1M74 70h1M40 73h1M50 73h1M59 73h4M51 74h1M57 74h1M64 74h3M70 74h1M39 75h1M52 75h1M55 75h2M53 76h1M38 79h1M37 82h1M36 85h1M36 86h1M35 89h1M34 91h1M33 93h1M32 94h1M31 96h1M30 97h1M29 98h1M28 99h1M6 100h1M27 100h1M9 101h1M25 101h2M12 102h2M22 102h3M16 103h5"/><path stroke="#32648e" d="M16 14h11M13 15h2M27 15h2M9 16h2M29 16h2M7 17h1M31 17h1M0 18h5M32 18h1M33 20h1M34 22h1M35 24h1M36 26h1M36 27h1M37 29h1M37 30h1M38 32h1M38 33h1M39 37h1M40 40h1M57 40h8M40 41h1M53 41h2M70 41h1M52 42h1M51 43h1M73 44h1M50 45h1M41 46h1M74 46h1M41 47h1M47 51h1M76 54h1M76 55h1M45 57h1M41 59h1M41 60h1M45 62h1M76 62h1M41 69h1M49 71h1M40 72h1M50 72h1M59 72h3M57 73h2M63 73h2M39 74h1M56 74h1M67 74h3M53 75h2M38 77h1M38 78h1M37 81h1M36 84h1M35 87h1M35 88h1M34 90h1M33 92h1M32 93h1M31 95h1M30 96h1M29 97h1M28 98h1M0 99h6M27 99h1M7 100h2M26 100h1M10 101h2M23 101h2M14 102h3M19 102h3"/><path stroke="#31668e" d="M15 15h3M24 15h3M11 16h3M27 16h2M8 17h2M29 17h2M5 18h2M31 18h1M32 19h1M33 21h1M34 23h1M35 25h1M36 28h1M37 31h1M38 34h1M38 35h1M39 38h1M55 41h6M68 41h2M40 42h1M53 42h1M71 42h1M40 43h1M52 43h1M72 43h1M51 44h1M49 47h1M41 48h1M48 49h1M75 49h1M46 54h1M76 56h1M76 57h1M45 58h1M41 61h1M76 61h1M46 65h1M47 67h1M48 69h1M40 71h1M73 71h1M58 72h1M62 72h2M39 73h1M51 73h1M56 73h1M65 73h2M71 73h1M52 74h1M54 74h2M38 76h1M37 80h1M36 83h1M35 86h1M34 89h1M33 91h1M31 94h1M30 95h1M29 96h1M28 97h1M0 98h5M27 98h1M6 99h2M26 99h1M9 100h2M24 100h2M12 101h3M21 101h2M17 102h2"/><path stroke="#31688e" d="M18 15h6M14 16h2M25 16h2M10 17h2M27 17h2M7 18h2M29 18h2M0 19h6M31 19h1M32 20h1M32 21h1M33 22h1M34 24h1M35 26h1M35 27h1M36 29h1M37 32h1M37 33h1M38 36h1M39 39h1M39 40h1M61 41h7M54 42h4M40 44h1M51 45h1M50 46h1M49 48h1M41 49h1M48 50h1M47 52h1M46 55h1M41 58h1M76 58h1M45 59h1M76 59h1M76 60h1M45 61h1M41 62h1M41 63h1M46 64h1M75 67h1M41 68h1M40 70h1M49 70h1M50 71h1M58 71h5M39 72h1M51 72h1M57 72h1M64 72h2M72 72h1M52 73h1M55 73h1M67 73h2M53 74h1M38 75h1M37 79h1M36 82h1M35 85h1M34 88h1M33 90h1M32 92h1M31 93h1M30 94h1M29 95h1M28 96h1M27 97h1M5 98h2M26 98h1M8 99h1M25 99h1M11 100h2M22 100h2M15 101h6"/><path stroke="#306a8e" d="M16 16h9M12 17h3M25 17h2M9 18h2M28 18h1M6 19h2M29 19h2M31 20h1M32 22h1M33 23h1M34 25h1M34 26h1M35 28h1M36 30h1M36 31h1M37 34h1M38 37h1M38 38h1M39 41h1M58 42h4M53 43h3M52 44h1M40 45h1M73 45h1M40 46h1M50 47h1M74 47h1M49 49h1M41 50h1M75 50h1M48 51h1M47 53h1M41 56h1M46 56h1M41 57h1M45 60h1M46 63h1M41 64h1M41 65h1M41 66h1M47 66h1M41 67h1M48 68h1M49 69h1M74 69h1M59 70h3M57 71h1M63 71h2M56 72h1M66 72h1M53 73h2M69 73h2M38 74h1M37 78h1M36 81h1M35 84h1M34 87h1M33 89h1M32 91h1M31 92h1M30 93h1M29 94h1M28 95h1M27 96h1M0 97h5M26 97h1M7 98h1M25 98h1M9 99h2M23 99h2M13 100h3M20 100h2"/><path stroke="#2f6c8e" d="M15 17h3M20 17h5M11 18h2M26 18h2M8 19h2M28 19h1M0 20h6M29 20h2M31 21h1M32 23h1M33 24h1M33 25h1M34 27h1M35 29h1M36 32h1M37 35h1M38 39h1M39 42h1M62 42h3M69 42h2M39 43h1M56 43h4M53 44h1M52 45h1M51 46h1M40 47h1M50 48h1M41 51h1M41 52h1M41 53h1M41 54h1M47 54h1M41 55h1M46 57h1M46 62h1M47 65h1M48 67h1M40 69h1M59 69h2M50 70h1M57 70h2M62 70h2M39 71h1M51 71h1M56 71h1M65 71h1M52 72h4M67 72h1M38 73h1M37 76h1M37 77h1M36 80h1M35 83h1M34 86h1M33 88h1M32 90h1M5 97h2M25 97h1M8 98h2M24 98h1M11 99h3M21 99h2M16 100h4"/><path stroke="#2e6e8e" d="M18 17h2M13 18h3M22 18h4M10 19h2M26 19h2M6 20h2M28 20h1M0 21h5M29 21h2M30 22h2M31 23h1M32 24h1M33 26h1M34 28h1M35 30h1M35 31h1M36 33h1M36 34h1M37 36h1M37 37h1M38 40h1M65 42h4M60 43h2M71 43h1M39 44h1M54 44h5M72 44h1M53 45h1M52 46h1M51 47h1M40 48h1M74 48h1M49 50h1M48 52h1M47 55h1M46 58h1M46 61h1M47 64h1M75 66h1M40 68h1M49 68h1M50 69h1M58 69h1M61 69h2M39 70h1M51 70h1M56 70h1M64 70h1M73 70h1M52 71h1M55 71h1M66 71h1M38 72h1M68 72h1M71 72h1M37 75h1M36 79h1M35 82h1M34 85h1M33 87h1M32 89h1M31 91h1M30 92h1M29 93h1M28 94h1M27 95h1M0 96h6M26 96h1M7 97h1M24 97h1M10 98h2M22 98h2M14 99h7"/><path stroke="#2d708e" d="M16 18h6M12 19h3M24 19h2M8 20h2M26 20h2M5 21h2M28 21h1M29 22h1M30 23h1M31 24h1M32 25h1M33 27h1M34 29h1M35 32h1M36 35h1M37 38h1M38 41h1M38 42h1M62 43h2M59 44h2M39 45h1M54 45h4M39 46h1M53 46h1M73 46h1M52 47h1M51 48h1M40 49h1M50 49h1M40 50h1M49 51h1M75 51h1M48 53h1M47 56h1M46 59h1M46 60h1M47 63h1M48 66h1M40 67h1M58 68h4M57 69h1M63 69h1M55 70h1M65 70h1M53 71h2M67 71h1M72 71h1M69 72h2M37 74h1M36 78h1M35 81h1M34 84h1M31 90h1M30 91h1M27 94h1M26 95h1M6 96h1M25 96h1M8 97h2M23 97h1M12 98h3M20 98h2"/><path stroke="#2c718e" d="M15 19h9M10 20h3M24 20h2M7 21h2M26 21h2M0 22h5M28 22h1M29 23h1M30 24h1M31 25h1M32 26h1M33 28h1M34 30h1M34 31h1M35 33h1M36 36h1M37 39h1M38 43h1M64 43h2M70 43h1M61 44h2M58 45h2M54 46h3M39 47h1M51 49h1M50 50h1M40 51h1M49 52h1M48 54h1M47 57h1M47 58h1M40 60h1M47 62h1M40 63h1M40 64h1M40 65h1M48 65h1M75 65h1M40 66h1M49 67h1M58 67h4M50 68h1M57 68h1M62 68h2M74 68h1M39 69h1M51 69h1M56 69h1M64 69h1M52 70h3M66 70h1M38 71h1M37 73h1M36 77h1M35 80h1M34 83h1M33 86h1M32 88h1M31 89h1M29 92h1M28 93h1M0 95h6M25 95h1M7 96h2M23 96h2M10 97h2M21 97h2M15 98h5"/><path stroke="#2c738e" d="M13 20h3M21 20h3M9 21h2M25 21h1M5 22h3M27 22h1M28 23h1M29 24h1M30 25h1M31 26h1M32 27h1M33 29h1M34 32h1M35 34h1M35 35h1M36 37h1M37 40h1M37 41h1M66 43h4M38 44h1M63 44h1M38 45h1M60 45h2M57 46h3M53 47h5M39 48h1M52 48h1M39 49h1M74 49h1M50 51h1M40 52h1M75 52h1M40 53h1M49 53h1M40 54h1M40 55h1M48 55h1M40 56h1M48 56h1M40 57h1M40 58h1M40 59h1M47 59h1M47 60h1M40 61h1M47 61h1M40 62h1M48 63h1M48 64h1M75 64h1M49 66h1M59 66h3M50 67h1M57 67h1M62 67h1M39 68h1M51 68h1M56 68h1M64 68h1M52 69h1M54 69h2M65 69h1M38 70h1M67 70h1M68 71h1M36 76h1M35 79h1M34 82h1M33 85h1M32 87h1M30 90h1M29 91h1M28 92h1M27 93h1M26 94h1M6 95h1M24 95h1M9 96h1M22 96h1M12 97h4M19 97h2"/><path stroke="#2b758e" d="M16 20h5M11 21h3M22 21h3M8 22h2M25 22h2M0 23h6M27 23h1M28 24h1M29 25h1M31 27h1M32 28h1M33 30h1M33 31h1M34 33h1M35 36h1M36 38h1M36 39h1M37 42h1M64 44h1M71 44h1M62 45h1M72 45h1M38 46h1M60 46h2M58 47h3M73 47h1M53 48h7M52 49h1M39 50h1M51 50h1M50 52h1M49 54h1M48 57h1M48 62h1M49 64h1M49 65h1M58 65h4M50 66h1M57 66h2M62 66h1M39 67h1M56 67h1M63 67h1M52 68h1M55 68h1M65 68h1M38 69h1M53 69h1M66 69h1M73 69h1M37 72h1M36 75h1M35 78h1M34 81h1M33 84h1M32 86h1M31 88h1M30 89h1M0 94h6M25 94h1M7 95h2M23 95h1M10 96h3M20 96h2M16 97h3"/><path stroke="#2a778e" d="M14 21h8M10 22h2M23 22h2M6 23h2M26 23h1M27 24h1M28 25h1M30 26h1M31 28h1M32 29h1M32 30h1M33 32h1M34 34h1M35 37h1M36 40h1M37 43h1M65 44h2M63 45h1M62 46h1M38 47h1M61 47h1M60 48h1M53 49h8M52 50h1M58 50h1M39 51h1M51 51h1M50 53h1M75 53h1M49 55h1M49 56h1M48 58h1M48 59h1M48 60h1M48 61h1M49 62h1M49 63h1M75 63h1M58 64h4M39 65h1M50 65h1M57 65h1M62 65h1M39 66h1M56 66h1M63 66h1M51 67h1M55 67h1M64 67h1M74 67h1M53 68h2M37 71h1M69 71h3M36 74h1M35 77h1M33 83h1M32 85h1M31 87h1M29 90h1M28 91h1M27 92h1M26 93h1M6 94h1M24 94h1M9 95h1M21 95h2M13 96h7"/><path stroke="#29798e" d="M12 22h4M20 22h3M8 23h2M24 23h2M0 24h6M26 24h1M27 25h1M29 26h1M30 27h1M31 29h1M32 31h1M33 33h1M34 35h1M35 38h1M36 41h1M37 44h1M67 44h2M70 44h1M64 45h1M62 47h1M38 48h1M61 48h1M38 49h1M61 49h1M53 50h5M59 50h2M74 50h1M52 51h1M57 51h4M39 52h1M51 52h1M39 53h1M39 54h1M50 54h1M75 54h1M39 55h1M50 55h1M75 55h1M49 57h1M49 58h1M39 59h1M49 59h1M39 60h1M49 60h1M39 61h1M49 61h1M39 62h1M59 62h1M75 62h1M39 63h1M50 63h1M58 63h4M39 64h1M50 64h1M57 64h1M62 64h1M51 65h1M56 65h1M63 65h1M51 66h1M55 66h1M64 66h1M52 67h3M65 67h1M38 68h1M66 68h1M67 69h1M68 70h1M72 70h1M36 73h1M34 80h1M33 82h1M30 88h1M29 89h1M26 92h1M0 93h6M25 93h1M7 94h2M23 94h1M10 95h3M20 95h1"/><path stroke="#297b8e" d="M16 22h4M10 23h3M21 23h3M6 24h2M24 24h2M26 25h1M28 26h1M29 27h1M30 28h1M31 30h1M32 32h1M33 34h1M34 36h1M35 39h1M36 42h1M69 44h1M37 45h1M65 45h1M37 46h1M63 46h1M72 46h1M63 47h1M62 48h1M73 48h1M62 49h1M38 50h1M61 50h1M53 51h4M61 51h1M52 52h1M56 52h5M51 53h1M57 53h4M51 54h1M58 54h3M59 55h1M39 56h1M50 56h1M75 56h1M39 57h1M50 57h1M39 58h1M50 58h1M50 61h1M59 61h2M75 61h1M50 62h1M57 62h2M60 62h2M51 63h1M56 63h2M62 63h1M51 64h1M55 64h2M63 64h1M52 65h1M54 65h2M64 65h1M52 66h3M65 66h1M38 67h1M66 67h1M37 70h1M35 76h1M34 79h1M32 84h1M31 86h1M30 87h1M28 90h1M27 91h1M6 93h1M24 93h1M9 94h1M21 94h2M13 95h7"/><path stroke="#287d8e" d="M13 23h8M8 24h3M22 24h2M0 25h7M25 25h1M27 26h1M28 27h1M29 28h1M30 29h1M31 31h1M32 33h1M33 35h1M34 37h1M35 40h1M36 43h1M66 45h1M71 45h1M64 46h1M37 47h1M63 48h1M63 49h1M62 50h1M38 51h1M62 51h1M53 52h3M61 52h1M52 53h2M55 53h2M61 53h1M52 54h1M56 54h2M61 54h1M51 55h1M56 55h3M60 55h2M51 56h1M57 56h4M51 57h1M57 57h4M75 57h1M58 58h3M75 58h1M50 59h1M58 59h3M50 60h1M57 60h4M75 60h1M51 61h1M57 61h2M61 61h1M51 62h1M56 62h1M62 62h1M52 63h1M54 63h2M63 63h1M52 64h3M64 64h1M38 65h1M53 65h1M65 65h1M38 66h1M74 66h1M67 68h1M37 69h1M69 70h1M36 72h1M35 75h1M34 78h1M33 81h1M32 83h1M31 85h1M29 88h1M28 89h1M26 91h1M0 92h5M25 92h1M7 93h1M23 93h1M10 94h2M20 94h1"/><path stroke="#277f8e" d="M11 24h3M20 24h2M7 25h2M24 25h1M26 26h1M27 27h1M28 28h1M29 29h1M30 30h1M31 32h1M32 34h1M33 36h1M34 38h1M35 41h1M36 44h1M67 45h2M65 46h1M64 47h1M37 48h1M64 48h1M63 50h1M63 51h1M74 51h1M38 52h1M62 52h1M38 53h1M54 53h1M62 53h1M53 54h3M62 54h1M52 55h4M62 55h1M52 56h5M61 56h2M52 57h1M55 57h2M61 57h1M51 58h2M56 58h2M61 58h1M51 59h1M56 59h2M61 59h1M75 59h1M51 60h1M55 60h2M61 60h2M52 61h1M54 61h3M62 61h1M52 62h4M63 62h1M38 63h1M53 63h1M64 63h1M38 64h1M65 64h1M66 66h1M37 68h1M73 68h1M68 69h1M71 70h1M36 71h1M35 74h1M34 77h1M33 80h1M32 82h1M31 84h1M30 86h1M27 90h1M5 92h2M24 92h1M8 93h1M22 93h1M12 94h4M18 94h2"/><path stroke="#26818e" d="M14 24h6M9 25h2M22 25h2M0 26h6M25 26h1M26 27h1M30 31h1M31 33h1M32 35h1M33 37h1M34 39h1M35 42h1M36 45h1M69 45h2M66 46h1M65 47h1M72 47h1M65 48h1M37 49h1M64 49h1M73 49h1M64 50h1M64 51h1M63 52h1M63 53h1M38 54h1M63 54h1M38 55h1M63 55h1M38 56h1M63 56h1M38 57h1M53 57h2M62 57h1M38 58h1M53 58h3M62 58h1M38 59h1M52 59h4M62 59h1M38 60h1M52 60h3M63 60h1M38 61h1M53 61h1M63 61h1M38 62h1M64 62h1M65 63h1M66 65h1M74 65h1M67 67h1M72 69h1M36 70h1M70 70h1M35 73h1M34 76h1M33 79h1M29 87h1M28 88h1M27 89h1M26 90h1M0 91h5M25 91h1M7 92h1M23 92h1M9 93h2M21 93h1M16 94h2"/><path stroke="#26828e" d="M11 25h3M20 25h2M6 26h2M23 26h2M27 28h1M28 29h1M29 30h1M30 32h1M31 34h1M32 36h1M33 38h1M34 40h1M35 43h1M36 46h1M67 46h1M71 46h1M66 47h1M65 49h1M37 50h1M65 50h1M37 51h1M64 52h1M74 52h1M64 53h1M64 54h1M64 55h1M63 57h1M63 58h1M63 59h1M64 60h1M64 61h1M65 62h1M66 64h1M37 66h1M37 67h1M68 68h1M35 72h1M34 75h1M33 78h1M32 81h1M31 83h1M30 85h1M29 86h1M5 91h1M24 91h1M8 92h1M22 92h1M11 93h3M19 93h2"/><path stroke="#25848e" d="M14 25h6M8 26h2M22 26h1M0 27h6M25 27h1M26 28h1M27 29h1M28 30h1M29 31h1M30 33h1M31 35h1M34 41h1M35 44h1M68 46h1M36 47h1M67 47h1M66 48h1M66 49h1M65 51h1M37 52h1M65 52h1M65 53h1M64 56h1M64 57h1M64 58h1M64 59h1M65 60h1M65 61h1M66 63h1M74 64h1M37 65h1M67 66h1M73 67h1M36 69h1M69 69h1M32 80h1M31 82h1M30 84h1M28 87h1M27 88h1M26 89h1M0 90h5M25 90h1M6 91h1M23 91h1M9 92h1M21 92h1M14 93h5"/><path stroke="#24868e" d="M10 26h3M20 26h2M6 27h2M23 27h2M25 28h1M29 32h1M30 34h1M32 37h1M33 39h1M34 42h1M35 45h1M69 46h2M36 48h1M67 48h1M72 48h1M36 49h1M66 50h1M73 50h1M66 51h1M37 53h1M74 53h1M37 54h1M65 54h1M65 55h1M65 56h1M65 57h1M65 58h1M65 59h1M66 62h1M37 63h1M74 63h1M37 64h1M67 65h1M36 68h1M71 69h1M35 71h1M34 74h1M33 77h1M32 79h1M29 85h1M5 90h1M24 90h1M7 91h1M10 92h2M20 92h1"/><path stroke="#23888e" d="M13 26h7M8 27h2M22 27h1M0 28h6M24 28h1M26 29h1M27 30h1M28 31h1M29 33h1M31 36h1M32 38h1M33 40h1M34 43h1M35 46h1M68 47h1M71 47h1M67 49h1M36 50h1M66 52h1M66 53h1M66 54h1M74 54h1M37 55h1M37 56h1M37 57h1M37 58h1M37 59h1M37 60h1M66 60h1M37 61h1M66 61h1M37 62h1M67 64h1M36 67h1M68 67h1M72 68h1M70 69h1M35 70h1M34 73h1M33 76h1M31 81h1M30 83h1M28 86h1M27 87h1M26 88h1M25 89h1M6 90h1M8 91h2M22 91h1M12 92h3M18 92h2"/><path stroke="#238a8d" d="M10 27h2M20 27h2M6 28h2M23 28h1M25 29h1M26 30h1M27 31h1M28 32h1M30 35h1M31 37h1M32 39h1M33 41h1M34 44h1M35 47h1M69 47h1M68 48h1M67 50h1M36 51h1M73 51h1M66 55h1M74 55h1M66 56h1M66 57h1M66 58h1M66 59h1M74 62h1M67 63h1M36 66h1M73 66h1M69 68h1M34 72h1M33 75h1M32 78h1M31 80h1M30 82h1M29 84h1M28 85h1M0 89h6M7 90h1M23 90h1M10 91h1M21 91h1M15 92h3"/><path stroke="#228c8d" d="M12 27h4M18 27h2M8 28h1M22 28h1M0 29h6M24 29h1M28 33h1M29 34h1M30 36h1M33 42h1M34 45h1M70 47h1M35 48h1M68 49h1M72 49h1M67 51h1M36 52h1M67 52h1M74 56h1M74 57h1M74 61h1M67 62h1M36 65h1M68 66h1M35 69h1M33 74h1M32 77h1M29 83h1M27 86h1M26 87h1M25 88h1M6 89h1M24 89h1M8 90h1M22 90h1M11 91h2M19 91h2"/><path stroke="#218e8d" d="M16 27h2M9 28h2M21 28h1M6 29h1M23 29h1M25 30h1M26 31h1M27 32h1M29 35h1M31 38h1M32 40h1M33 43h1M69 48h1M71 48h1M35 49h1M36 53h1M67 53h1M36 54h1M67 54h1M74 58h1M74 59h1M74 60h1M67 61h1M36 63h1M36 64h1M68 65h1M73 65h1M35 68h1M34 71h1M31 79h1M30 81h1M28 84h1M0 88h5M7 89h1M23 89h1M9 90h1M21 90h1M13 91h6"/><path stroke="#21908d" d="M11 28h3M19 28h2M7 29h2M22 29h1M0 30h6M24 30h1M27 33h1M28 34h1M30 37h1M31 39h1M32 41h1M34 46h1M70 48h1M35 50h1M68 50h1M73 52h1M36 55h1M67 55h1M36 56h1M67 56h1M36 57h1M67 57h1M36 58h1M67 58h1M67 59h1M67 60h1M36 61h1M36 62h1M68 64h1M35 67h1M69 67h1M72 67h1M70 68h2M34 70h1M33 73h1M32 76h1M31 78h1M29 82h1M27 85h1M26 86h1M25 87h1M5 88h1M24 88h1M8 89h1M22 89h1M10 90h2M20 90h1"/><path stroke="#20928c" d="M14 28h5M9 29h1M21 29h1M6 30h1M23 30h1M25 31h1M26 32h1M28 35h1M29 36h1M30 38h1M31 40h1M32 42h1M33 44h1M34 47h1M69 49h1M72 50h1M35 51h1M68 51h1M36 59h1M36 60h1M68 63h1M73 64h1M35 66h1M33 72h1M32 75h1M30 80h1M28 83h1M0 87h5M6 88h1M23 88h1M9 89h1M21 89h1M12 90h2M19 90h1"/><path stroke="#20938c" d="M10 29h3M19 29h2M7 30h1M22 30h1M0 31h6M24 31h1M25 32h1M26 33h1M27 34h1M29 37h1M33 45h1M34 48h1M70 49h2M35 52h1M68 52h1M73 53h1M73 63h1M35 65h1M69 66h1M34 69h1M32 74h1M31 77h1M30 79h1M29 81h1M27 84h1M26 85h1M25 86h1M5 87h1M24 87h1M7 88h1M10 89h1M14 90h5"/><path stroke="#1f958b" d="M13 29h6M8 30h2M21 30h1M6 31h1M23 31h1M27 35h1M28 36h1M30 39h1M31 41h1M32 43h1M33 46h1M34 49h1M69 50h1M72 51h1M35 53h1M68 53h1M35 54h1M68 54h1M73 54h1M68 62h1M35 63h1M35 64h1M72 66h1M70 67h1M34 68h1M33 71h1M31 76h1M28 82h1M0 86h5M6 87h1M23 87h1M8 88h1M22 88h1M11 89h2M20 89h1"/><path stroke="#1f978b" d="M10 30h1M20 30h1M7 31h1M22 31h1M0 32h6M24 32h1M25 33h1M26 34h1M29 38h1M30 40h1M31 42h1M32 44h1M33 47h1M34 50h1M71 50h1M69 51h1M35 55h1M68 55h1M73 55h1M35 56h1M68 56h1M35 57h1M68 57h1M68 60h1M35 61h1M68 61h1M35 62h1M73 62h1M69 65h1M71 67h1M33 70h1M32 73h1M30 78h1M29 80h1M27 83h1M26 84h1M25 85h1M5 86h1M24 86h1M7 87h1M9 88h1M21 88h1M13 89h2M18 89h2"/><path stroke="#1f998a" d="M11 30h4M18 30h2M8 31h1M21 31h1M6 32h1M23 32h1M27 36h1M28 37h1M32 45h1M33 48h1M70 50h1M34 51h1M73 56h1M35 58h1M68 58h1M35 59h1M68 59h1M35 60h1M73 61h1M69 64h1M72 65h1M34 67h1M32 72h1M31 75h1M30 77h1M28 81h1M0 85h5M6 86h1M8 87h1M22 87h1M10 88h2M20 88h1M15 89h3"/><path stroke="#1e9b8a" d="M15 30h3M9 31h2M20 31h1M7 32h1M22 32h1M0 33h6M24 33h1M25 34h1M26 35h1M29 39h1M30 41h1M31 43h1M34 52h1M69 52h1M72 52h1M73 57h1M73 58h1M73 60h1M34 65h1M34 66h1M70 66h2M33 69h1M31 74h1M29 79h1M27 82h1M26 83h1M5 85h1M24 85h1M7 86h1M23 86h1M9 87h1M21 87h1M12 88h2M19 88h1"/><path stroke="#1e9d89" d="M11 31h2M19 31h1M8 32h1M21 32h1M6 33h1M23 33h1M24 34h1M27 37h1M28 38h1M29 40h1M31 44h1M32 46h1M33 49h1M70 51h2M34 53h1M69 53h1M34 54h1M73 59h1M69 63h1M34 64h1M72 64h1M33 68h1M32 71h1M30 76h1M29 78h1M28 80h1M25 84h1M6 85h1M22 86h1M10 87h1M20 87h1M14 88h5"/><path stroke="#1f9f88" d="M13 31h6M9 32h1M20 32h1M7 33h1M22 33h1M0 34h5M25 35h1M26 36h1M30 42h1M32 47h1M33 50h1M72 53h1M69 54h1M34 55h1M34 56h1M34 62h1M69 62h1M34 63h1M72 63h1M70 65h2M32 70h1M31 73h1M27 81h1M0 84h5M23 85h1M8 86h1M11 87h1"/><path stroke="#1fa188" d="M10 32h2M19 32h1M8 33h1M21 33h1M5 34h2M23 34h1M27 38h1M28 39h1M29 41h1M30 43h1M31 45h1M32 48h1M33 51h1M70 52h2M72 54h1M69 55h1M69 56h1M34 57h1M34 58h1M34 59h1M34 60h1M34 61h1M69 61h1M70 64h1M33 67h1M30 75h1M29 77h1M28 79h1M26 82h1M25 83h1M5 84h1M24 84h1M7 85h1M9 86h1M21 86h1M12 87h3M19 87h1"/><path stroke="#1fa287" d="M12 32h4M17 32h2M9 33h1M20 33h1M22 34h1M0 35h5M24 35h1M25 36h1M26 37h1M28 40h1M31 46h1M32 49h1M33 52h1M70 53h1M72 55h1M69 57h1M69 58h1M69 59h1M69 60h1M72 62h1M71 64h1M33 65h1M33 66h1M32 69h1M31 72h1M30 74h1M27 80h1M0 83h5M6 84h1M23 84h1M8 85h1M22 85h1M10 86h1M20 86h1M15 87h4"/><path stroke="#20a486" d="M16 32h1M10 33h1M7 34h1M21 34h1M5 35h1M23 35h1M27 39h1M29 42h1M30 44h1M33 53h1M71 53h1M70 54h1M72 56h1M72 57h1M72 61h1M70 63h1M33 64h1M31 71h1M29 76h1M28 78h1M26 81h1M25 82h1M5 83h1M24 83h1M7 84h1M9 85h1M21 85h1M11 86h2M19 86h1"/><path stroke="#21a685" d="M11 33h3M18 33h2M8 34h1M6 35h1M22 35h1M0 36h5M24 36h1M25 37h1M26 38h1M28 41h1M30 45h1M31 47h1M32 50h1M33 54h1M71 54h1M33 55h1M70 55h1M33 56h1M72 58h1M72 60h1M33 62h1M70 62h1M33 63h1M71 63h1M32 68h1M30 73h1M27 79h1M22 84h1M10 85h1M13 86h3M18 86h1"/><path stroke="#22a884" d="M14 33h4M9 34h2M20 34h1M7 35h1M5 36h1M23 36h1M27 40h1M29 43h1M31 48h1M32 51h1M71 55h1M70 56h1M33 57h1M33 58h1M33 59h1M72 59h1M33 60h1M33 61h1M70 61h1M71 62h1M32 67h1M31 70h1M29 75h1M28 77h1M26 80h1M0 82h5M6 83h1M23 83h1M8 84h1M11 85h1M20 85h1M16 86h2"/><path stroke="#24aa83" d="M11 34h2M19 34h1M8 35h1M21 35h1M6 36h1M24 37h1M25 38h1M26 39h1M28 42h1M29 44h1M30 46h1M31 49h1M32 52h1M71 56h1M70 57h1M70 58h1M70 59h1M70 60h1M71 61h1M32 66h1M31 69h1M30 72h1M27 78h1M25 81h1M5 82h1M24 82h1M7 83h1M9 84h1M21 84h1M12 85h2M19 85h1"/><path stroke="#25ac82" d="M13 34h6M9 35h1M20 35h1M7 36h1M22 36h1M0 37h6M27 41h1M30 47h1M32 53h1M71 57h1M71 58h1M71 60h1M32 64h1M32 65h1M29 74h1M28 76h1M6 82h1M8 83h1M22 83h1M10 84h1M20 84h1M14 85h5"/><path stroke="#27ad81" d="M10 35h1M19 35h1M8 36h1M21 36h1M23 37h1M24 38h1M26 40h1M28 43h1M29 45h1M31 50h1M32 54h1M32 55h1M71 59h1M32 63h1M31 68h1M30 71h1M29 73h1M27 77h1M26 79h1M25 80h1M0 81h5M24 81h1M23 82h1M21 83h1M11 84h1"/><path stroke="#29af7f" d="M11 35h3M18 35h1M6 37h1M22 37h1M0 38h5M25 39h1M27 42h1M30 48h1M31 51h1M32 56h1M32 57h1M32 58h1M32 61h1M32 62h1M31 67h1M30 70h1M28 75h1M5 81h1M7 82h1M22 82h1M9 83h1M12 84h3M19 84h1"/><path stroke="#2cb17e" d="M14 35h4M9 36h1M20 36h1M7 37h1M5 38h1M23 38h1M26 41h1M28 44h1M29 46h1M30 49h1M31 52h1M32 59h1M32 60h1M31 66h1M29 72h1M26 78h1M0 80h5M6 81h1M23 81h1M8 82h1M10 83h1M20 83h1M15 84h4"/><path stroke="#2eb37c" d="M10 36h2M19 36h1M8 37h1M21 37h1M6 38h1M0 39h5M24 39h1M25 40h1M27 43h1M29 47h1M31 53h1M31 65h1M30 69h1M28 74h1M27 76h1M25 79h1M5 80h1M24 80h1M21 82h1M11 83h2"/><path stroke="#31b57b" d="M12 36h4M17 36h2M9 37h1M20 37h1M7 38h1M22 38h1M5 39h1M26 42h1M28 45h1M30 50h1M31 54h1M31 55h1M31 63h1M31 64h1M30 68h1M29 71h1M28 73h1M27 75h1M26 77h1M7 81h1M22 81h1M9 82h1M13 83h2M19 83h1"/><path stroke="#34b679" d="M16 36h1M10 37h1M8 38h1M21 38h1M6 39h1M23 39h1M24 40h1M25 41h1M27 44h1M28 46h1M29 48h1M30 51h1M31 56h1M31 57h1M31 61h1M31 62h1M29 70h1M25 78h1M0 79h5M24 79h1M6 80h1M23 80h1M8 81h1M10 82h2M20 82h1M15 83h4"/><path stroke="#37b878" d="M11 37h3M19 37h1M9 38h1M22 39h1M0 40h6M26 43h1M29 49h1M30 52h1M31 58h1M31 59h1M31 60h1M30 67h1M28 72h1M27 74h1M26 76h1M5 79h1M7 80h1M22 80h1M9 81h1M21 81h1M12 82h2M19 82h1"/><path stroke="#3aba76" d="M14 37h5M10 38h1M20 38h1M7 39h1M6 40h1M23 40h1M24 41h1M25 42h1M27 45h1M28 47h1M29 50h1M30 53h1M30 65h1M30 66h1M29 69h1M25 77h1M0 78h5M24 78h1M6 79h1M23 79h1M8 80h1M10 81h1M20 81h1M14 82h2M18 82h1"/><path stroke="#3dbc74" d="M11 38h1M19 38h1M8 39h1M21 39h1M22 40h1M0 41h6M26 44h1M27 46h1M28 48h1M30 54h1M30 55h1M30 63h1M30 64h1M29 68h1M28 71h1M27 73h1M26 75h1M5 78h1M7 79h1M21 80h1M11 81h1M16 82h2"/><path stroke="#40bd72" d="M12 38h3M18 38h1M9 39h1M20 39h1M7 40h1M23 41h1M24 42h1M25 43h1M29 51h1M30 56h1M30 57h1M30 62h1M28 70h1M25 76h1M0 77h5M24 77h1M6 78h1M23 78h1M22 79h1M9 80h1M12 81h3M19 81h1"/><path stroke="#44bf70" d="M15 38h3M10 39h1M8 40h1M21 40h1M6 41h1M0 42h6M26 45h1M27 47h1M28 49h1M29 52h1M30 58h1M30 59h1M30 60h1M30 61h1M29 67h1M27 72h1M26 74h1M5 77h1M8 79h1M21 79h1M10 80h1M20 80h1M15 81h4"/><path stroke="#48c16e" d="M11 39h3M19 39h1M9 40h1M7 41h1M22 41h1M23 42h1M24 43h1M25 44h1M26 46h1M27 48h1M28 50h1M29 53h1M29 66h1M28 69h1M27 71h1M26 73h1M25 75h1M24 76h1M23 77h1M7 78h1M22 78h1M9 79h1M11 80h2M19 80h1"/><path stroke="#4cc26c" d="M14 39h5M10 40h1M20 40h1M8 41h1M21 41h1M6 42h1M0 43h5M25 45h1M28 51h1M29 54h1M29 55h1M29 64h1M29 65h1M0 76h5M6 77h1M8 78h1M10 79h1M20 79h1M13 80h2M18 80h1"/><path stroke="#50c46a" d="M11 40h1M19 40h1M9 41h1M7 42h1M22 42h1M5 43h1M23 43h1M24 44h1M26 47h1M27 49h1M29 56h1M29 57h1M29 62h1M29 63h1M28 68h1M27 70h1M26 72h1M25 74h1M24 75h1M5 76h1M23 76h1M7 77h1M22 77h1M9 78h1M21 78h1M11 79h1M15 80h3"/><path stroke="#54c568" d="M12 40h3M18 40h1M20 41h1M8 42h1M6 43h1M0 44h5M25 46h1M28 52h1M29 58h1M29 59h1M29 60h1M29 61h1M28 67h1M0 75h5M6 76h1M12 79h2M19 79h1"/><path stroke="#58c765" d="M15 40h3M10 41h2M21 42h1M7 43h1M22 43h1M5 44h1M23 44h1M0 45h5M24 45h1M26 48h1M27 50h1M28 53h1M28 66h1M27 69h1M26 71h1M25 73h1M24 74h1M5 75h1M7 76h1M22 76h1M8 77h1M21 77h1M10 78h1M20 78h1M14 79h3M18 79h1"/><path stroke="#5cc863" d="M12 41h2M19 41h1M9 42h1M20 42h1M6 44h1M25 47h1M26 49h1M27 51h1M28 54h1M28 55h1M28 64h1M28 65h1M0 74h5M6 75h1M23 75h1M9 77h1M11 78h2M19 78h1M17 79h1"/><path stroke="#60ca60" d="M14 41h2M17 41h2M10 42h1M8 43h1M21 43h1M7 44h1M22 44h1M5 45h1M23 45h1M0 46h5M24 46h1M27 52h1M28 56h1M28 57h1M28 62h1M28 63h1M27 68h1M26 70h1M25 72h1M24 73h1M5 74h1M8 76h1M21 76h1M10 77h1M20 77h1M13 78h2M18 78h1"/><path stroke="#65cb5e" d="M16 41h1M11 42h1M19 42h1M9 43h1M6 45h1M5 46h1M25 48h1M26 50h1M28 58h1M28 59h1M28 60h1M28 61h1M27 67h1M25 71h1M0 73h5M6 74h1M23 74h1M7 75h1M22 75h1M9 76h1M11 77h1M15 78h3"/><path stroke="#69cd5b" d="M12 42h3M18 42h1M10 43h1M20 43h1M8 44h1M21 44h1M22 45h1M23 46h1M0 47h5M24 47h1M27 53h1M27 54h1M27 66h1M26 69h1M24 72h1M5 73h1M8 75h1M20 76h1M12 77h2M19 77h1"/><path stroke="#6ece58" d="M15 42h3M11 43h1M9 44h1M7 45h1M6 46h1M5 47h1M0 48h5M25 49h1M26 51h1M27 55h1M27 64h1M27 65h1M25 70h1M0 72h5M23 73h1M7 74h1M22 74h1M21 75h1M10 76h1M14 77h2M18 77h1"/><path stroke="#73d056" d="M12 43h1M19 43h1M20 44h1M8 45h1M7 46h1M22 46h1M23 47h1M24 48h1M25 50h1M26 52h1M27 56h1M27 57h1M27 63h1M26 68h1M24 71h1M5 72h1M6 73h1M9 75h1M11 76h2M19 76h1M16 77h2"/><path stroke="#77d153" d="M13 43h3M18 43h1M10 44h1M21 45h1M6 47h1M5 48h1M0 49h5M24 49h1M26 53h1M27 58h1M27 59h1M27 60h1M27 61h1M27 62h1M26 67h1M25 69h1M0 71h5M23 72h1M7 73h1M22 73h1M8 74h1M21 74h1M10 75h1M20 75h1M13 76h1"/><path stroke="#7cd250" d="M16 43h2M11 44h2M19 44h1M9 45h1M8 46h1M7 47h1M6 48h1M23 48h1M5 49h1M0 50h5M25 51h1M26 54h1M26 66h1M5 71h1M6 72h1M9 74h1M11 75h1M14 76h5"/><path stroke="#81d34d" d="M13 44h1M10 45h1M20 45h1M21 46h1M22 47h1M24 50h1M26 55h1M26 65h1M25 68h1M0 70h5M24 70h1M23 71h1M7 72h1M22 72h1M8 73h1M21 73h1M20 74h1M12 75h1M19 75h1"/><path stroke="#86d549" d="M14 44h5M11 45h1M9 46h1M8 47h1M7 48h1M22 48h1M6 49h1M23 49h1M5 50h1M0 51h5M25 52h1M26 56h1M26 57h1M26 63h1M26 64h1M5 70h1M6 71h1M10 74h1M13 75h2M18 75h1"/><path stroke="#8bd646" d="M12 45h2M19 45h1M10 46h1M20 46h1M21 47h1M6 50h1M5 51h1M24 51h1M0 52h5M25 53h1M26 58h1M26 59h1M26 60h1M26 61h1M26 62h1M25 67h1M0 69h5M24 69h1M23 70h1M7 71h1M8 72h1M9 73h1M11 74h1M19 74h1M15 75h3"/><path stroke="#90d743" d="M14 45h2M18 45h1M11 46h1M9 47h1M8 48h1M7 49h1M22 49h1M23 50h1M0 53h5M25 54h1M25 66h1M0 68h5M24 68h1M5 69h1M6 70h1M22 71h1M21 72h1M10 73h1M20 73h1M12 74h2"/><path stroke="#95d840" d="M16 45h2M12 46h1M19 46h1M10 47h1M20 47h1M9 48h1M21 48h1M8 49h1M7 50h1M6 51h1M5 52h1M24 52h1M0 54h5M25 55h1M25 56h1M25 64h1M25 65h1M6 69h1M23 69h1M7 70h1M8 71h1M9 72h1M11 73h1M14 74h2M18 74h1"/><path stroke="#9bd93c" d="M13 46h2M18 46h1M11 47h1M22 50h1M23 51h1M6 52h1M5 53h1M24 53h1M0 55h5M25 57h1M25 58h1M25 62h1M25 63h1M0 67h5M24 67h1M5 68h1M22 70h1M21 71h1M10 72h1M20 72h1M12 73h1M19 73h1M16 74h2"/><path stroke="#a0da39" d="M15 46h3M12 47h1M19 47h1M10 48h1M20 48h1M9 49h1M21 49h1M8 50h1M7 51h1M23 52h1M5 54h1M24 54h1M5 55h1M0 56h5M25 59h1M25 60h1M25 61h1M0 65h5M0 66h5M24 66h1M5 67h1M6 68h1M23 68h1M7 69h1M8 70h1M9 71h1M11 72h1M13 73h2M18 73h1"/><path stroke="#a5db36" d="M13 47h2M11 48h1M22 51h1M7 52h1M6 53h1M6 54h1M24 55h1M5 56h1M24 56h1M0 57h5M0 58h5M0 63h5M0 64h5M24 65h1M5 66h1M22 69h1M21 70h1M10 71h1M20 71h1M12 72h1M19 72h1M15 73h3"/><path stroke="#aadc32" d="M15 47h4M12 48h1M19 48h1M10 49h1M20 49h1M9 50h1M21 50h1M8 51h1M7 53h1M23 53h1M6 55h1M5 57h1M24 57h1M0 59h5M0 60h5M0 61h5M0 62h5M24 63h1M5 64h1M24 64h1M5 65h1M6 67h1M23 67h1M7 68h1M8 69h1M9 70h1M13 72h2"/><path stroke="#b0dd2f" d="M13 48h2M11 49h1M10 50h1M8 52h1M22 52h1M7 54h1M23 54h1M23 55h1M6 56h1M5 58h1M24 58h1M5 59h1M24 59h1M5 60h1M24 60h1M5 61h1M24 61h1M5 62h1M24 62h1M5 63h1M6 66h1M23 66h1M22 68h1M21 69h1M20 70h1M11 71h2M19 71h1M15 72h4"/><path stroke="#b5de2b" d="M15 48h1M18 48h1M12 49h1M19 49h1M20 50h1M9 51h1M21 51h1M8 53h1M22 53h1M7 55h1M23 56h1M6 57h1M6 58h1M6 63h1M6 64h1M23 64h1M6 65h1M23 65h1M7 67h1M22 67h1M8 68h1M9 69h1M10 70h1M13 71h1"/><path stroke="#bade28" d="M16 48h2M13 49h2M11 50h1M10 51h1M9 52h1M21 52h1M8 54h1M22 54h1M7 56h1M23 57h1M23 58h1M6 59h1M6 60h1M6 61h1M6 62h1M23 62h1M23 63h1M7 66h1M21 68h1M11 70h1M14 71h2M18 71h1"/><path stroke="#c0df25" d="M15 49h1M18 49h1M12 50h1M19 50h1M20 51h1M9 53h1M8 55h1M22 55h1M7 57h1M7 58h1M23 59h1M23 60h1M23 61h1M7 63h1M7 64h1M7 65h1M22 65h1M22 66h1M8 67h1M9 68h1M10 69h1M20 69h1M12 70h2M19 70h1M16 71h2"/><path stroke="#c5e021" d="M16 49h2M13 50h2M11 51h1M10 52h1M21 53h1M9 54h1M8 56h1M22 56h1M22 57h1M7 59h1M7 60h1M7 61h1M7 62h1M22 63h1M22 64h1M8 66h1M21 67h1M11 69h1M14 70h1M18 70h1"/><path stroke="#cae11f" d="M15 50h1M18 50h1M12 51h1M19 51h1M11 52h1M20 52h1M10 53h1M21 54h1M9 55h1M21 55h1M8 57h1M8 58h1M22 58h1M22 59h1M22 60h1M22 61h1M22 62h1M8 63h1M8 64h1M8 65h1M21 66h1M9 67h1M10 68h1M20 68h1M12 69h1M19 69h1M15 70h3"/><path stroke="#d0e11c" d="M16 50h2M13 51h2M12 52h1M20 53h1M10 54h1M9 56h1M21 56h1M21 57h1M8 59h1M8 60h1M8 61h1M8 62h1M21 64h1M9 65h1M21 65h1M9 66h1M10 67h1M20 67h1M11 68h1M13 69h2"/><path stroke="#d5e21a" d="M15 51h1M18 51h1M13 52h1M19 52h1M11 53h1M20 54h1M10 55h1M9 57h1M9 58h1M21 58h1M21 59h1M21 60h1M21 61h1M21 62h1M9 63h1M21 63h1M9 64h1M12 68h1M19 68h1M15 69h4"/><path stroke="#dae319" d="M16 51h2M14 52h1M12 53h1M11 54h1M11 55h1M20 55h1M10 56h1M20 56h1M10 57h1M9 59h1M9 60h1M9 61h1M9 62h1M10 65h1M20 65h1M10 66h1M20 66h1M11 67h1M13 68h2"/><path stroke="#dfe318" d="M15 52h1M18 52h1M13 53h2M19 53h1M12 54h1M19 54h1M12 55h1M11 56h1M20 57h1M10 58h1M20 58h1M10 62h1M20 62h1M10 63h1M20 63h1M10 64h1M20 64h1M11 66h1M12 67h2M19 67h1M15 68h1M18 68h1"/><path stroke="#e5e419" d="M16 52h2M15 53h1M18 53h1M13 54h2M13 55h1M19 55h1M12 56h1M19 56h1M11 57h1M11 58h1M10 59h1M20 59h1M10 60h1M20 60h1M10 61h1M20 61h1M11 63h1M11 64h1M11 65h1M12 66h1M19 66h1M14 67h1M16 68h2"/><path stroke="#eae51a" d="M16 53h2M15 54h1M18 54h1M14 55h1M13 56h1M12 57h2M19 57h1M12 58h1M19 58h1M11 59h1M11 60h1M11 61h1M11 62h1M19 62h1M12 63h1M19 63h1M12 64h1M19 64h1M12 65h2M19 65h1M13 66h2M15 67h4"/><path stroke="#efe51c" d="M16 54h2M15 55h4M14 56h2M18 56h1M14 57h1M13 58h1M12 59h2M19 59h1M12 60h1M19 60h1M12 61h1M19 61h1M12 62h2M13 63h1M13 64h2M14 65h1M18 65h1M15 66h1M18 66h1"/><path stroke="#f4e61e" d="M16 56h2M15 57h4M14 58h2M18 58h1M14 59h1M18 59h1M13 60h2M18 60h1M13 61h2M18 61h1M14 62h2M18 62h1M14 63h2M18 63h1M15 64h2M18 64h1M15 65h3M16 66h2"/><path stroke="#f8e621" d="M16 58h2M15 59h3M15 60h3M15 61h3M16 62h2M16 63h2M17 64h1"/></g></g><use href="#gl"/><g clip-path="url(#cp)"><path d="M524 522l13 81l2 28l-1 21l-4 30l-10 49M524 433l21 53l10 28l6 20l5 23l4 22l3 25l1 20l-1 27l-2 25l-4 23l-6 25l-7 28l-8 24l-7 16l-15 29M524 373l17 32l18 40l18 45l14 39l7 23l5 23l4 32l2 24l-2 33l-5 41l-7 35l-7 26l-14 37l-17 35l-10 16l-23 27M524 312l12 16l11 15l30 48l19 39l22 52l13 36l9 33l9 50l2 30l-1 43l-4 32l-10 48l-7 22l-7 18l-20 43l-14 24l-13 22l-26 36l-12 13l-13 12M670 571l5 29l2 23l0 40l-2 30M524 252l22 36l41 58l38 58l19 33l17 34l17 41l13 40l9 42l3 24l1 14l0 31l-2 22l-3 24l-5 25l-6 23l-6 21l-9 22l-11 25l-22 40l-20 30l-54 66l-22 24l-20 19M647 391l27 44l23 45l15 37l12 38l6 32l3 28l1 14l-1 50l-4 28l-3 23l-10 37l-13 36l-19 38l-25 41l-24 32l-55 66l-24 25l-32 30M524 192l19 18l19 21l54 70l31 43l33 49l20 31l17 31l11 21l9 20l8 23l7 23l8 36l3 35l1 20l0 26l-2 24l-4 39l-6 28l-6 22l-7 20l-10 22l-13 25l-13 23l-18 28l-17 23l-18 22l-71 81l-19 18l-36 32M732 427l21 34l16 34l13 37l7 35l4 51l0 52l-2 23l-3 26l-4 18l-5 18l-12 33l-20 37l-23 38l-30 42l-28 35l-78 88l-26 27l-38 35M526 147l45 44l53 60l99 119l30 40l16 22l13 22l10 20l10 23l9 23l5 20l3 19l4 48l-1 67l-2 25l-3 23l-4 19l-7 19l-9 20l-11 23l-17 27l-22 34l-20 28l-22 27l-26 31l-81 89l-47 48M846 533l4 24l2 29l0 99l-3 23l-3 21l-5 18l-9 20l-12 23l-16 27l-29 42l-27 36l-38 44l-99 108M528 102l53 51l50 50l142 152l31 34l15 19l15 21l14 25l11 23l11 26l5 18l5 23l2 19l1 26l-1 90l-2 22l-2 17l-4 19l-5 16l-10 21l-13 22l-14 21l-22 29l-37 47l-31 36l-188 202l-30 30M524 132l25 22l15 15l60 71M557 102l36 39l44 46M587 102l47 26l21 13l17 13l29 25M617 102l50 26l22 12l17 13l28 26M677 222l40 42l45 38M904 101l31 7l15 1l18 -2l36 -6M857 116l49 16l20 6l20 3l19 0l28 -4l23 -7l44 -20l17 -11M757 119l65 27l17 6l19 5l25 5l26 3l28 2l25 -1l19 -2l17 -4l19 -6l21 -9l17 -9l12 -7l32 -30M677 102l97 55l27 13l28 13l30 11l28 9l22 3l22 1l27 -2l31 -5l34 -9l16 -7l14 -10l15 -13l58 -62M751 218l68 20l38 8l29 5l24 2l25 -1l20 -2l21 -5l26 -9l26 -11l23 -13l18 -12l22 -20l30 -32l13 -15l25 -34M799 224l50 34l17 9l14 6l18 6l27 5l19 3l16 0l15 -3l17 -5l22 -10l19 -11l16 -10l14 -11l38 -38M649 102l122 112l31 27l28 23l41 31l28 19l20 10l18 5l9 1l12 -1l11 -2l9 -2l50 -22l21 -12l10 -8l9 -9l37 -43l58 -62M889 332l19 11l5 2l8 1l19 -4l47 -13M814 336l55 20l41 20l14 3l17 -1l18 -4l42 -11l20 -7M824 346l18 16l12 10l15 8l17 8l17 6l12 3l39 3M787 332l84 80M861 422l22 22l15 9l9 4l8 2l10 1l6 -2l11 -8l12 -12l79 -83l18 -23l26 -40M944 484l-17 21l-5 8l-4 10l-2 13l0 11l1 7l9 32l12 35M931 670l-10 25l-1 8l1 9l3 19l4 13l6 10l10 16M1029 865l-57 -111l-10 -25l-6 -20l-2 -15l1 -15l12 -40l1 -7l-2 -12l-9 -36l-1 -21l2 -12l6 -16l14 -29l21 -40l30 -67l19 -38l29 -49M1069 888l-14 -47l-31 -86l-10 -36l-5 -24l-2 -15l2 -30l-1 -70l1 -22l3 -19l6 -28l8 -29l15 -44l12 -29l12 -25l59 -106l32 -63l33 -72l7 -19l8 -25M1041 735l-7 -72l-2 -40l1 -39l7 -51M1231 1163l-34 -52l-33 -61l-17 -35l-19 -42l-14 -34l-12 -33l-8 -25l-8 -35l-14 -70l-6 -52l-2 -56l2 -73l5 -63l4 -30l6 -30l14 -61l15 -49l17 -42l10 -23l23 -43l21 -37l8 -18l11 -30l23 -70M1273 1163l-36 -67l-41 -81l-17 -34l-22 -49l-12 -32l-10 -31l-8 -29l-8 -42l-4 -29l-8 -89l-1 -19l0 -24l5 -151l2 -15l6 -25l3 -18l11 -112M1131 796l-2 -32l2 -32l0 -18l-2 -17l-9 -48l-1 -10l1 -15l6 -58l1 -97M1346 1163l-50 -99l-42 -75l-19 -36l-23 -48l-26 -60l-7 -22l-6 -24l-5 -30l-6 -62l-3 -22l-3 -11l-7 -18l-2 -10l0 -10l2 -11l10 -34l4 -17l1 -15l1 -34l2 -19l19 -86l8 -27l17 -47l6 -20l19 -83l5 -20l23 -57l22 -67M1161 859l21 57l11 25l10 19l20 31M1393 1163l-62 -98l-38 -65l-31 -56l-26 -53l-18 -43l-15 -45l-15 -61l-11 -56M1439 1163l-73 -112l-59 -95l-21 -35l-18 -35l-22 -49l-13 -30l-17 -45M1181 526l3 40l-3 40l1 11l5 22M1247 716l-14 -21l-6 -17l-5 -32l-1 -14l1 -17l3 -16l3 -13l4 -9l7 -7l2 0l3 0l5 5l5 12l4 14l3 13l2 15l-2 23l-6 30l-4 8l-7 12M1245 551l20 6l6 5l4 9l6 14l5 22l2 15l0 18l-1 18l-2 16l-4 14l-5 9l-10 12l-12 9l-5 0l-9 -2M1279 548l15 15l5 8l7 14l6 19l4 20l2 16l-1 11l-4 24M1192 644l1 -37l3 -18l6 -17l5 -10l7 -10l9 -9l12 -8l10 -4l10 -3l9 0l8 1l22 8l18 9l17 9l17 13l7 4l13 1l14 -3l13 -6l11 -7l35 -25l67 -56l82 -67M1219 402l33 -57l41 -67l20 -32l44 -66l46 -81M1233 440l50 -78l42 -62l27 -39l55 -73l59 -89M1223 498l12 -34l10 -20l17 -25l35 -45l83 -102l39 -46l120 -127M1334 370l74 -84l53 -58M1274 474l79 -88l73 -77l69 -69l93 -88M1379 387l70 -75l55 -52M1253 509l44 -21l14 -9l15 -12l40 -38l75 -82l30 -29l56 -49l61 -47M1368 486l36 -33l62 -61M1304 532l27 6l19 1l16 -4l18 -9l19 -12l22 -17l48 -44l22 -18l93 -69M1477 186l40 -47M1481 202l40 -40M1477 232l44 -46M1359 472l38 -23l37 -15M1474 369l43 -33M1474 409l45 -40M1588 894l-45 -43l-25 -25l-36 -41l-27 -34l-17 -26l-22 -43l-8 -21l-2 -10l0 -10l1 -25l8 -20l14 -31l7 -11l9 -11l27 -28l37 -31l39 -28l40 -24M1464 706l-13 -29l-3 -12l-1 -13l0 -18l3 -30l4 -17l6 -13l8 -14l11 -15l15 -17l15 -14l17 -13l17 -13l45 -26M1588 818l-46 -50l-17 -22l-13 -21l-9 -18l-8 -20l-6 -27l-2 -17l2 -24l4 -17l9 -18l12 -20l12 -14l13 -11l49 -33M1588 764l-24 -35l-10 -19l-6 -21l-10 -43l-1 -10l3 -24l3 -10l4 -8l11 -17l30 -31M1588 698l-11 -31l-4 -16l-1 -13l1 -10l3 -11l8 -21l4 -7M1588 1159l-29 -47l-99 -148l-40 -57l-38 -48l-40 -46l-22 -22l-16 -11l-31 -19l-19 -12l-16 -12l-11 -14l-14 -24M1588 1031l-70 -79l-87 -105l-33 -35l-30 -24l-26 -17l-26 -13l-27 -6M1588 964l-65 -73l-55 -65l-33 -33l-41 -38l-21 -16l-8 -5l-10 -4l-9 -2l-8 -1l-22 4M1433 736l-31 -46l-9 -8l-9 -4l-6 0l-14 2l-17 7l-15 9l-19 20M1403 948l-44 -42l-24 -27l-22 -29l-59 -82M1588 1099l-51 -53l-40 -40M1588 1066l-44 -44M1564 1163l-71 -86l-82 -105M1504 1163l-47 -64l-46 -67M827 858l27 -31l32 -32l11 -9l10 -6l6 0l9 4l53 47M681 1036l94 -96l34 -32l24 -21l24 -19l35 -23l12 -6l12 -4l13 1l14 4l18 9l22 15l41 40l29 25l14 18l24 32M584 1163l89 -87l61 -59l50 -45l42 -37l26 -19l39 -24l11 -5l11 -4l17 -2l11 1l16 4l17 7l22 13l11 8l17 15l46 44l20 22l20 24l21 27l17 23l20 31l35 63M891 918l30 -9l20 -2l13 0l7 2l12 5l41 24M769 1039l47 -38l25 -17l20 -10l21 -10l20 -8l19 -5l10 -1l9 0l9 1l12 3l27 9l43 21M684 1163l99 -83l36 -27l26 -17l26 -14l33 -13l27 -7l20 -1l13 1l14 3l27 9l26 12l21 14l19 18l25 27l16 20l44 58M837 1064l36 -19l13 -6l24 -6l24 -4l21 -1l22 2l23 5l24 9M741 1163l70 -52l31 -20l22 -13l22 -10l19 -7l19 -4l19 -1l19 1l21 3l20 6l21 9l15 10l24 18l66 60M814 1163l51 -31l19 -10l13 -6l25 -8l19 -4l17 -3l17 0l15 1l15 3l14 5l10 5l20 16l34 32M874 1163l33 -16l17 -7l25 -6l21 -2l8 1l14 2l29 9l14 7l16 12M941 1163l30 -10l16 -2l18 2l36 10M746 1007l-27 23l-18 13l-90 56M636 1074l-19 18l-8 11" fill="none" stroke="#f00" stroke-width="3.6" stroke-linejoin="round"/><use href="#ah" transform="translate(539,627) rotate(89)"/><use href="#ah" transform="translate(574,627) rotate(91)"/><use href="#ah" transform="translate(609,629) rotate(90)"/><use href="#ah" transform="translate(651,632) rotate(90)"/><use href="#ah" transform="translate(677,633) rotate(90)"/><use href="#ah" transform="translate(704,634) rotate(90)"/><use href="#ah" transform="translate(724,736) rotate(102)"/><use href="#ah" transform="translate(764,635) rotate(90)"/><use href="#ah" transform="translate(764,794) rotate(115)"/><use href="#ah" transform="translate(823,614) rotate(89)"/><use href="#ah" transform="translate(801,822) rotate(124)"/><use href="#ah" transform="translate(882,631) rotate(91)"/><use href="#ah" transform="translate(578,184) rotate(49)"/><use href="#ah" transform="translate(600,148) rotate(46)"/><use href="#ah" transform="translate(650,138) rotate(33)"/><use href="#ah" transform="translate(684,137) rotate(32)"/><use href="#ah" transform="translate(721,267) rotate(43)"/><use href="#ah" transform="translate(954,109) rotate(-2)"/><use href="#ah" transform="translate(970,141) rotate(-6)"/><use href="#ah" transform="translate(934,166) rotate(2)"/><use href="#ah" transform="translate(909,206) rotate(6)"/><use href="#ah" transform="translate(980,244) rotate(-17)"/><use href="#ah" transform="translate(956,287) rotate(-3)"/><use href="#ah" transform="translate(899,314) rotate(31)"/><use href="#ah" transform="translate(940,342) rotate(-14)"/><use href="#ah" transform="translate(919,378) rotate(10)"/><use href="#ah" transform="translate(886,388) rotate(23)"/><use href="#ah" transform="translate(835,378) rotate(44)"/><use href="#ah" transform="translate(972,419) rotate(-47)"/><use href="#ah" transform="translate(918,558) rotate(253)"/><use href="#ah" transform="translate(928,744) rotate(248)"/><use href="#ah" transform="translate(964,613) rotate(-104)"/><use href="#ah" transform="translate(1008,593) rotate(-90)"/><use href="#ah" transform="translate(1032,633) rotate(-92)"/><use href="#ah" transform="translate(1066,710) rotate(-93)"/><use href="#ah" transform="translate(1106,666) rotate(-92)"/><use href="#ah" transform="translate(1119,632) rotate(-88)"/><use href="#ah" transform="translate(1147,641) rotate(-88)"/><use href="#ah" transform="translate(1187,929) rotate(247)"/><use href="#ah" transform="translate(1269,957) rotate(-118)"/><use href="#ah" transform="translate(1337,1005) rotate(-122)"/><use href="#ah" transform="translate(1225,595) rotate(-77)"/><use href="#ah" transform="translate(1284,596) rotate(77)"/><use href="#ah" transform="translate(1304,581) rotate(68)"/><use href="#ah" transform="translate(1371,572) rotate(168)"/><use href="#ah" transform="translate(1311,250) rotate(-57)"/><use href="#ah" transform="translate(1347,268) rotate(-54)"/><use href="#ah" transform="translate(1368,287) rotate(-51)"/><use href="#ah" transform="translate(1397,298) rotate(-48)"/><use href="#ah" transform="translate(1427,308) rotate(-46)"/><use href="#ah" transform="translate(1440,321) rotate(-46)"/><use href="#ah" transform="translate(1422,368) rotate(-48)"/><use href="#ah" transform="translate(1419,439) rotate(-45)"/><use href="#ah" transform="translate(1454,471) rotate(-44)"/><use href="#ah" transform="translate(1498,161) rotate(-49)"/><use href="#ah" transform="translate(1502,181) rotate(-45)"/><use href="#ah" transform="translate(1500,208) rotate(-47)"/><use href="#ah" transform="translate(1397,449) rotate(-27)"/><use href="#ah" transform="translate(1497,352) rotate(-38)"/><use href="#ah" transform="translate(1497,388) rotate(-42)"/><use href="#ah" transform="translate(1417,683) rotate(-115)"/><use href="#ah" transform="translate(1461,572) rotate(-62)"/><use href="#ah" transform="translate(1492,675) rotate(-105)"/><use href="#ah" transform="translate(1543,664) rotate(-103)"/><use href="#ah" transform="translate(1573,649) rotate(-97)"/><use href="#ah" transform="translate(1420,907) rotate(-126)"/><use href="#ah" transform="translate(1464,888) rotate(-129)"/><use href="#ah" transform="translate(1464,822) rotate(-133)"/><use href="#ah" transform="translate(1404,694) rotate(-128)"/><use href="#ah" transform="translate(1335,879) rotate(-130)"/><use href="#ah" transform="translate(1541,1050) rotate(-134)"/><use href="#ah" transform="translate(1565,1043) rotate(-135)"/><use href="#ah" transform="translate(1484,1065) rotate(-129)"/><use href="#ah" transform="translate(1446,1083) rotate(-125)"/><use href="#ah" transform="translate(897,786) rotate(145)"/><use href="#ah" transform="translate(837,883) rotate(140)"/><use href="#ah" transform="translate(874,902) rotate(148)"/><use href="#ah" transform="translate(957,908) rotate(194)"/><use href="#ah" transform="translate(909,954) rotate(164)"/><use href="#ah" transform="translate(904,1009) rotate(162)"/><use href="#ah" transform="translate(929,1029) rotate(173)"/><use href="#ah" transform="translate(938,1056) rotate(178)"/><use href="#ah" transform="translate(953,1102) rotate(173)"/><use href="#ah" transform="translate(966,1132) rotate(178)"/><use href="#ah" transform="translate(992,1151) rotate(184)"/><use href="#ah" transform="translate(674,1060) rotate(148)"/><use href="#ah" transform="translate(619,1091) rotate(133)"/></g>
<text x="598.0" y="57.4" font-size="58" font-style="italic" textLength="43.0" lengthAdjust="spacingAndGlyphs">B</text>
<text x="666.0" y="57.4" font-size="66" textLength="21.0" lengthAdjust="spacingAndGlyphs">(</text>
<text x="691.5" y="57.4" font-size="58" font-style="italic" textLength="32.0" lengthAdjust="spacingAndGlyphs">x</text>
<text x="742.0" y="57.4" font-size="58" textLength="45.0" lengthAdjust="spacingAndGlyphs">=</text>
<text x="803.6" y="57.4" font-size="58" font-style="italic" textLength="30.4" lengthAdjust="spacingAndGlyphs">y</text>
<text x="859.7" y="57.4" font-size="58" textLength="146.3" lengthAdjust="spacingAndGlyphs">plane</text>
<text x="1008.0" y="57.4" font-size="66" textLength="21.0" lengthAdjust="spacingAndGlyphs">)</text>
<text x="1060.0" y="57.4" font-size="58" textLength="245.0" lengthAdjust="spacingAndGlyphs">timestep</text>
<text x="1322.0" y="57.4" font-size="58" textLength="45.0" lengthAdjust="spacingAndGlyphs">=</text>
<text x="1385.0" y="57.4" font-size="58" textLength="131.0" lengthAdjust="spacingAndGlyphs">1000</text>
<rect x="524.7" y="99.7" width="1062.8" height="1062.6" fill="none" stroke="#000" stroke-width="5"/>
<path d="M526.8 1162.3v17.5M524.7 1160.2h-17.5M940.3 1162.3v17.5M524.7 746.7h-17.5M1353.8 1162.3v17.5M524.7 333.2h-17.5" stroke="#000" stroke-width="5" fill="none"/>
<text x="511.0" y="1245.0" font-size="58" textLength="31.5" lengthAdjust="spacingAndGlyphs">0</text>
<text x="449.5" y="1179.7" font-size="58" textLength="31.5" lengthAdjust="spacingAndGlyphs">0</text>
<text x="893.0" y="1245.0" font-size="58" textLength="94.5" lengthAdjust="spacingAndGlyphs">100</text>
<text x="386.5" y="766.2" font-size="58" textLength="94.5" lengthAdjust="spacingAndGlyphs">100</text>
<text x="1306.5" y="1245.0" font-size="58" textLength="94.5" lengthAdjust="spacingAndGlyphs">200</text>
<text x="386.5" y="352.7" font-size="58" textLength="94.5" lengthAdjust="spacingAndGlyphs">200</text>
<text x="661.5" y="1331.7" font-size="58" font-style="italic" textLength="28.5" lengthAdjust="spacingAndGlyphs">r</text>
<text x="693.0" y="1344.7" font-size="84" textLength="29.0" lengthAdjust="spacingAndGlyphs">/</text>
<text x="726.0" y="1331.7" font-size="58" textLength="48.0" lengthAdjust="spacingAndGlyphs">Δ</text>
<text x="777.5" y="1331.7" font-size="58" font-style="italic" textLength="28.5" lengthAdjust="spacingAndGlyphs">r</text>
<text x="832.0" y="1331.7" font-size="66" textLength="21.5" lengthAdjust="spacingAndGlyphs">(</text>
<text x="857.5" y="1331.7" font-size="58" textLength="151.0" lengthAdjust="spacingAndGlyphs">along</text>
<text x="1035.0" y="1331.7" font-size="58" font-style="italic" textLength="32.5" lengthAdjust="spacingAndGlyphs">x</text>
<text x="1077.0" y="1331.7" font-size="58" textLength="45.0" lengthAdjust="spacingAndGlyphs">+</text>
<text x="1131.0" y="1331.7" font-size="58" font-style="italic" textLength="31.0" lengthAdjust="spacingAndGlyphs">y</text>
<text x="1177.5" y="1331.7" font-size="58" textLength="45.5" lengthAdjust="spacingAndGlyphs">=</text>
<text x="1238.5" y="1331.7" font-size="58" textLength="95.5" lengthAdjust="spacingAndGlyphs">256</text>
<text x="1338.0" y="1331.7" font-size="58" textLength="48.0" lengthAdjust="spacingAndGlyphs">Δ</text>
<text x="1391.0" y="1331.7" font-size="58" font-style="italic" textLength="31.5" lengthAdjust="spacingAndGlyphs">x</text>
<text x="1428.0" y="1331.7" font-size="66" textLength="21.0" lengthAdjust="spacingAndGlyphs">)</text>
<g transform="translate(323.6,631) rotate(-90)"><text x="-70.5" y="0.0" font-size="58" font-style="italic" textLength="27.5" lengthAdjust="spacingAndGlyphs">z</text><text x="-41.0" y="13.0" font-size="84" textLength="29.0" lengthAdjust="spacingAndGlyphs">/</text><text x="-6.5" y="0.0" font-size="58" textLength="47.5" lengthAdjust="spacingAndGlyphs">Δ</text><text x="45.5" y="0.0" font-size="58" font-style="italic" textLength="27.5" lengthAdjust="spacingAndGlyphs">z</text></g>
<rect x="1634.8" y="206" width="47" height="850" fill="url(#vg)" stroke="#000" stroke-width="4.6"/>
<text x="1707.5" y="234.0" font-size="58" textLength="115.0" lengthAdjust="spacingAndGlyphs">1.32</text>
<text x="1707.5" y="442.2" font-size="58" textLength="115.0" lengthAdjust="spacingAndGlyphs">0.99</text>
<text x="1707.5" y="650.4" font-size="58" textLength="115.0" lengthAdjust="spacingAndGlyphs">0.67</text>
<text x="1707.5" y="858.6" font-size="58" textLength="115.0" lengthAdjust="spacingAndGlyphs">0.34</text>
<text x="1707.5" y="1066.8" font-size="58" textLength="115.0" lengthAdjust="spacingAndGlyphs">0.01</text>
<path d="M1681.8 214.7h-18.5M1681.8 422.9h-18.5M1681.8 631.1h-18.5M1681.8 839.3h-18.5M1681.8 1047.5h-18.5" stroke="#000" stroke-width="5" fill="none"/>
<g transform="translate(1922,635) rotate(-90)"><text x="-201" y="4" font-size="57" textLength="113" lengthAdjust="spacingAndGlyphs">磁场</text><text x="-76.0" y="13.0" font-size="84" textLength="29.0" lengthAdjust="spacingAndGlyphs">/</text><text x="-41.0" y="0.0" font-size="66" textLength="23.0" lengthAdjust="spacingAndGlyphs">(</text><text x="-22.5" y="0.0" font-size="58" textLength="29.0" lengthAdjust="spacingAndGlyphs">1</text><text x="11.0" y="0.0" font-size="58" textLength="32.0" lengthAdjust="spacingAndGlyphs">0</text><text x="49.0" y="-18.7" font-size="40" textLength="30.0" lengthAdjust="spacingAndGlyphs">−</text><text x="84.0" y="-18.7" font-size="40" textLength="24.5" lengthAdjust="spacingAndGlyphs">4</text><text x="132.0" y="0.0" font-size="58" textLength="49.0" lengthAdjust="spacingAndGlyphs">G</text><text x="182.0" y="0.0" font-size="66" textLength="23.0" lengthAdjust="spacingAndGlyphs">)</text></g>
<text x="552.0" y="172.5" font-size="66" textLength="21.0" lengthAdjust="spacingAndGlyphs" style="fill:#fff">(</text><text x="576.0" y="172.5" font-size="58" textLength="30.0" lengthAdjust="spacingAndGlyphs" style="fill:#fff">a</text><text x="608.0" y="172.5" font-size="66" textLength="21.0" lengthAdjust="spacingAndGlyphs" style="fill:#fff">)</text>
</g>
<g transform="translate(1804.8,0)">
<g clip-path="url(#cp)"><g transform="translate(486.00,65.75) scale(9.5000)" filter="url(#bl)" fill="none" stroke-width="1.08"><path stroke="#482173" stroke-width="121" d="M0 59.5h120"/><path stroke="#450559" d="M50 54h1M50 55h1M50 56h1M50 57h2M50 58h2M50 59h2M50 60h2M50 61h2M50 62h2M50 63h2M50 64h2M50 65h2M50 66h2M50 67h2M50 68h1"/><path stroke="#46085c" d="M50 48h1M50 49h2M50 50h2M50 51h2M49 52h4M49 53h4M49 54h1M51 54h2M49 55h1M51 55h2M49 56h1M51 56h2M49 57h1M52 57h1M49 58h1M52 58h1M49 59h1M52 59h1M49 60h1M52 60h1M49 61h1M52 61h1M49 62h1M52 62h1M49 63h1M52 63h1M49 64h1M52 64h1M49 65h1M52 65h1M49 66h1M52 66h1M49 67h1M52 67h1M49 68h1M51 68h2M49 69h3M50 70h2M50 71h1"/><path stroke="#460b5e" d="M50 46h3M50 47h3M49 48h1M51 48h2M49 49h1M52 49h2M49 50h1M52 50h2M49 51h1M52 51h2M53 52h1M53 53h1M53 54h1M53 55h1M53 56h1M53 57h1M53 58h1M53 59h1M53 60h1M53 61h1M53 62h1M53 63h1M53 64h1M53 65h1M53 66h1M53 67h1M53 68h1M52 69h2M49 70h1M52 70h1M49 71h1M51 71h2M49 72h4M50 73h2"/><path stroke="#470e61" d="M50 44h3M50 45h4M49 46h1M53 46h1M49 47h1M53 47h2M53 48h2M54 49h1M54 50h1M54 51h1M54 52h1M48 53h1M54 53h1M48 54h1M54 54h1M48 55h1M54 55h1M48 56h1M54 56h1M48 57h1M54 57h1M48 58h1M54 58h1M48 59h1M54 59h1M48 60h1M54 60h1M48 61h1M54 61h1M48 62h1M54 62h1M48 63h1M54 63h1M48 64h1M54 64h1M48 65h1M54 65h1M48 66h1M54 66h1M48 67h1M54 67h1M48 68h1M54 68h1M54 69h1M53 70h2M53 71h1M53 72h1M49 73h1M52 73h2M49 74h4M50 75h2"/><path stroke="#471164" d="M112 6h8M107 7h13M105 8h15M103 9h17M102 10h18M101 11h19M100 12h20M100 13h20M99 14h21M99 15h21M99 16h21M99 17h21M99 18h21M99 19h21M99 20h21M99 21h21M99 22h21M99 23h21M99 24h21M99 25h21M99 26h21M99 27h21M99 28h21M99 29h21M99 30h21M99 31h21M99 32h21M99 33h21M99 34h21M99 35h21M99 36h21M99 37h21M99 38h21M99 39h21M99 40h21M99 41h21M99 42h21M50 43h4M99 43h21M49 44h1M53 44h2M99 44h21M49 45h1M54 45h1M99 45h21M54 46h2M99 46h21M55 47h1M99 47h21M55 48h1M99 48h21M48 49h1M55 49h1M99 49h21M48 50h1M55 50h1M99 50h21M48 51h1M55 51h1M99 51h21M48 52h1M55 52h1M99 52h21M55 53h1M98 53h22M55 54h1M96 54h24M55 55h1M94 55h26M55 56h1M93 56h27M55 57h1M93 57h27M55 58h1M92 58h28M55 59h1M92 59h28M55 60h1M91 60h29M55 61h1M91 61h29M55 62h1M91 62h29M55 63h1M91 63h29M55 64h1M91 64h29M55 65h1M91 65h29M55 66h1M91 66h29M55 67h1M91 67h29M55 68h1M92 68h28M48 69h1M55 69h1M92 69h28M48 70h1M55 70h1M93 70h27M48 71h1M54 71h2M94 71h26M54 72h1M95 72h25M54 73h1M97 73h23M53 74h2M98 74h22M49 75h1M52 75h2M99 75h21M50 76h2M99 76h21M99 77h21M99 78h21M99 79h21M99 80h21M99 81h21M99 82h21M99 83h21M99 84h21M99 85h21M99 86h21M99 87h21M99 88h21M99 89h21M99 90h21M99 91h21M99 92h21M99 93h21M99 94h21M99 95h21M99 96h21M99 97h21M99 98h21M99 99h21M99 100h21M99 101h21M99 102h21M99 103h21M99 104h21M99 105h21M100 106h20M100 107h20M101 108h19M102 109h18M103 110h17M104 111h16M107 112h13M112 113h8"/><path stroke="#481467" d="M81 0h39M81 1h39M81 2h39M81 3h39M81 4h39M80 5h40M79 6h33M79 7h28M78 8h27M78 9h25M78 10h24M77 11h24M77 12h23M77 13h23M77 14h22M77 15h22M77 16h22M77 17h22M77 18h22M77 19h22M77 20h22M77 21h22M77 22h22M77 23h22M77 24h22M77 25h22M78 26h21M78 27h21M78 28h21M79 29h20M79 30h20M80 31h19M80 32h19M80 33h19M81 34h18M82 35h17M83 36h16M84 37h15M85 38h14M85 39h14M86 40h13M52 41h2M87 41h12M50 42h5M87 42h12M49 43h1M54 43h2M88 43h11M55 44h1M88 44h11M55 45h2M88 45h11M48 46h1M56 46h1M88 46h11M48 47h1M56 47h1M88 47h11M48 48h1M56 48h1M88 48h11M56 49h1M88 49h11M56 50h1M88 50h11M56 51h1M88 51h11M56 52h1M88 52h11M56 53h1M88 53h10M56 54h1M88 54h8M56 55h1M87 55h7M56 56h1M87 56h6M56 57h1M86 57h7M56 58h1M86 58h6M56 59h1M86 59h6M56 60h1M86 60h5M56 61h1M86 61h5M56 62h1M86 62h5M56 63h1M86 63h5M56 64h1M86 64h5M56 65h1M86 65h5M56 66h1M86 66h5M56 67h1M86 67h5M56 68h1M86 68h6M56 69h1M86 69h6M56 70h1M87 70h6M56 71h1M87 71h7M48 72h1M55 72h2M88 72h7M48 73h1M55 73h1M88 73h9M55 74h1M88 74h10M54 75h2M88 75h11M49 76h1M52 76h3M88 76h11M50 77h4M87 77h12M87 78h12M86 79h13M86 80h13M85 81h14M84 82h15M83 83h16M82 84h17M81 85h18M80 86h19M80 87h19M80 88h19M79 89h20M79 90h20M78 91h21M78 92h21M78 93h21M77 94h22M77 95h22M77 96h22M77 97h22M77 98h22M77 99h22M77 100h22M77 101h22M77 102h22M77 103h22M77 104h22M77 105h22M77 106h23M77 107h23M77 108h24M78 109h24M78 110h25M78 111h26M79 112h28M79 113h33M80 114h40M81 115h39M81 116h39M81 117h39M81 118h39M81 119h39"/><path stroke="#481769" d="M73 0h8M73 1h8M73 2h8M73 3h8M73 4h8M73 5h7M73 6h6M73 7h6M73 8h5M73 9h5M73 10h5M73 11h4M73 12h4M73 13h4M72 14h5M72 15h5M72 16h5M72 17h5M72 18h5M72 19h5M72 20h5M72 21h5M72 22h5M72 23h5M73 24h4M74 25h3M74 26h4M75 27h3M76 28h2M76 29h3M77 30h2M77 31h3M77 32h3M78 33h2M78 34h3M78 35h4M79 36h4M79 37h5M79 38h6M79 39h6M51 40h5M80 40h6M50 41h2M54 41h3M80 41h7M49 42h1M55 42h2M80 42h7M56 43h1M80 43h8M56 44h2M81 44h7M48 45h1M57 45h1M81 45h7M57 46h1M81 46h7M57 47h1M81 47h7M57 48h1M81 48h7M57 49h1M81 49h7M57 50h1M81 50h7M57 51h1M81 51h7M57 52h1M81 52h7M57 53h1M81 53h7M57 54h1M81 54h7M57 55h1M81 55h6M47 56h1M57 56h1M81 56h6M47 57h1M57 57h1M81 57h5M47 58h1M57 58h1M81 58h5M47 59h1M57 59h1M81 59h5M47 60h1M57 60h1M81 60h5M47 61h1M57 61h1M81 61h5M47 62h1M57 62h1M81 62h5M47 63h1M57 63h1M81 63h5M47 64h1M57 64h1M81 64h5M47 65h1M57 65h1M81 65h5M47 66h1M57 66h1M81 66h5M47 67h1M57 67h1M81 67h5M57 68h1M81 68h5M57 69h1M81 69h5M57 70h1M81 70h6M57 71h1M81 71h6M57 72h1M81 72h7M56 73h2M81 73h7M48 74h1M56 74h1M81 74h7M56 75h1M81 75h7M55 76h2M80 76h8M49 77h1M54 77h2M80 77h7M50 78h5M80 78h7M80 79h6M80 80h6M79 81h6M79 82h5M79 83h4M78 84h4M78 85h3M78 86h2M77 87h3M77 88h3M77 89h2M76 90h3M76 91h2M75 92h3M74 93h4M74 94h3M73 95h4M73 96h4M72 97h5M72 98h5M72 99h5M72 100h5M72 101h5M72 102h5M72 103h5M72 104h5M72 105h5M72 106h5M72 107h5M72 108h5M73 109h5M73 110h5M73 111h5M73 112h6M73 113h6M73 114h7M73 115h8M73 116h8M73 117h8M73 118h8M73 119h8"/><path stroke="#481a6c" d="M68 0h5M68 1h5M68 2h5M68 3h5M68 4h5M68 5h5M67 6h6M67 7h6M67 8h6M67 9h6M67 10h6M66 11h7M66 12h7M66 13h7M66 14h6M66 15h6M66 16h6M66 17h6M66 18h6M66 19h6M65 20h7M65 21h7M65 22h7M65 23h7M65 24h8M65 25h9M65 26h9M66 27h9M66 28h10M73 29h3M74 30h3M75 31h2M75 32h2M76 33h2M76 34h2M76 35h2M77 36h2M77 37h2M53 38h5M78 38h1M51 39h7M78 39h1M50 40h1M56 40h3M78 40h2M49 41h1M57 41h2M79 41h1M57 42h2M79 42h1M57 43h2M79 43h1M48 44h1M58 44h1M79 44h2M58 45h1M79 45h2M58 46h1M79 46h2M58 47h1M79 47h2M58 48h1M79 48h2M58 49h1M80 49h1M47 50h1M58 50h1M80 50h1M47 51h1M58 51h1M80 51h1M47 52h1M58 52h1M80 52h1M47 53h1M58 53h1M80 53h1M47 54h1M58 54h1M80 54h1M47 55h1M58 55h1M80 55h1M58 56h1M80 56h1M58 57h1M80 57h1M58 58h1M80 58h1M58 59h1M80 59h1M58 60h1M80 60h1M58 61h1M80 61h1M58 62h1M80 62h1M58 63h1M80 63h1M58 64h1M80 64h1M58 65h1M80 65h1M58 66h1M80 66h1M58 67h1M80 67h1M47 68h1M58 68h1M80 68h1M47 69h1M58 69h1M80 69h1M47 70h1M58 70h1M80 70h1M58 71h1M79 71h2M58 72h1M79 72h2M58 73h1M79 73h2M57 74h2M79 74h2M48 75h1M57 75h2M79 75h2M48 76h1M57 76h2M79 76h1M56 77h2M79 77h1M49 78h1M55 78h3M79 78h1M50 79h8M78 79h2M52 80h5M78 80h2M78 81h1M77 82h2M77 83h2M77 84h1M76 85h2M76 86h2M75 87h2M75 88h2M74 89h3M74 90h2M66 91h5M72 91h4M66 92h9M65 93h9M65 94h9M65 95h8M65 96h8M65 97h7M65 98h7M65 99h7M65 100h7M65 101h7M65 102h7M65 103h7M65 104h7M66 105h6M66 106h6M66 107h6M66 108h6M66 109h7M66 110h7M66 111h7M66 112h7M66 113h7M66 114h7M66 115h7M66 116h7M66 117h7M66 118h7M66 119h7"/><path stroke="#481c6e" d="M66 0h2M66 1h2M66 2h2M66 3h2M66 4h2M66 5h2M66 6h1M65 7h2M65 8h2M65 9h2M65 10h2M65 11h1M65 12h1M65 13h1M64 14h2M64 15h2M64 16h2M64 17h2M64 18h2M64 19h2M64 20h1M63 21h2M63 22h2M63 23h2M63 24h2M63 25h2M62 26h3M62 27h4M62 28h4M61 29h12M61 30h13M60 31h15M60 32h15M59 33h11M73 33h3M57 34h11M74 34h2M55 35h11M75 35h1M54 36h10M75 36h2M52 37h11M76 37h1M51 38h2M58 38h4M76 38h2M50 39h1M58 39h4M77 39h1M49 40h1M59 40h2M77 40h1M59 41h2M78 41h1M59 42h2M78 42h1M48 43h1M59 43h2M78 43h1M59 44h1M78 44h1M59 45h1M78 45h1M59 46h1M78 46h1M47 47h1M59 47h1M47 48h1M59 48h1M47 49h1M59 49h1M79 49h1M59 50h1M79 50h1M59 51h1M79 51h1M59 52h1M79 52h1M59 53h1M79 53h1M59 54h1M79 54h1M59 55h1M79 55h1M59 56h1M79 56h1M59 57h1M79 57h1M59 58h1M79 58h1M59 59h1M79 59h1M59 60h1M79 60h1M59 61h1M79 61h1M59 62h1M79 62h1M59 63h1M79 63h1M59 64h1M79 64h1M59 65h1M79 65h1M59 66h1M79 66h1M59 67h1M79 67h1M59 68h1M79 68h1M59 69h1M79 69h1M59 70h1M79 70h1M47 71h1M59 71h1M47 72h1M59 72h1M59 73h1M59 74h1M78 74h1M59 75h1M78 75h1M59 76h1M78 76h1M48 77h1M58 77h3M78 77h1M58 78h3M78 78h1M49 79h1M58 79h3M77 79h1M50 80h2M57 80h5M77 80h1M51 81h11M77 81h1M54 82h9M76 82h1M56 83h8M76 83h1M57 84h9M75 84h2M58 85h9M74 85h2M59 86h10M74 86h2M60 87h11M73 87h2M60 88h15M61 89h13M61 90h13M62 91h4M71 91h1M62 92h4M62 93h3M63 94h2M63 95h2M63 96h2M63 97h2M63 98h2M63 99h2M63 100h2M63 101h2M63 102h2M64 103h1M64 104h1M64 105h2M64 106h2M64 107h2M64 108h2M64 109h2M64 110h2M64 111h2M64 112h2M64 113h2M64 114h2M64 115h2M64 116h2M64 117h2M64 118h2M64 119h2"/><path stroke="#481f70" d="M64 0h2M64 1h2M64 2h2M64 3h2M64 4h2M64 5h2M64 6h2M64 7h1M64 8h1M64 9h1M64 10h1M63 11h2M63 12h2M63 13h2M63 14h1M63 15h1M63 16h1M63 17h1M62 18h2M62 19h2M62 20h2M62 21h1M61 22h2M61 23h2M61 24h2M61 25h2M60 26h2M60 27h2M60 28h2M59 29h2M59 30h2M58 31h2M57 32h3M56 33h3M70 33h3M54 34h3M68 34h6M53 35h2M66 35h9M52 36h2M64 36h5M74 36h1M51 37h1M63 37h4M75 37h1M50 38h1M62 38h4M75 38h1M49 39h1M62 39h3M76 39h1M61 40h3M76 40h1M61 41h2M77 41h1M48 42h1M61 42h2M77 42h1M61 43h1M77 43h1M60 44h2M77 44h1M47 45h1M60 45h2M47 46h1M60 46h1M60 47h1M78 47h1M60 48h1M78 48h1M60 49h1M78 49h1M60 50h1M78 50h1M60 51h1M78 51h1M60 52h1M78 52h1M60 53h1M78 53h1M60 54h1M78 54h1M60 55h1M78 55h1M60 56h1M78 56h1M60 57h1M78 57h1M60 58h1M60 59h1M60 60h1M60 61h1M60 62h1M60 63h1M78 63h1M60 64h1M78 64h1M60 65h1M78 65h1M60 66h1M78 66h1M60 67h1M78 67h1M60 68h1M78 68h1M60 69h1M78 69h1M60 70h1M78 70h1M60 71h1M78 71h1M60 72h1M78 72h1M47 73h1M60 73h1M78 73h1M47 74h1M60 74h2M60 75h2M77 75h1M60 76h2M77 76h1M61 77h1M77 77h1M48 78h1M61 78h2M77 78h1M61 79h3M76 79h1M49 80h1M62 80h2M76 80h1M50 81h1M62 81h3M75 81h2M51 82h3M63 82h4M75 82h1M53 83h3M64 83h5M74 83h2M54 84h3M66 84h5M73 84h2M56 85h2M67 85h7M57 86h2M69 86h5M58 87h2M71 87h2M58 88h2M59 89h2M59 90h2M60 91h2M60 92h2M60 93h2M61 94h2M61 95h2M61 96h2M61 97h2M61 98h2M61 99h2M61 100h2M62 101h1M62 102h1M62 103h2M62 104h2M62 105h2M62 106h2M62 107h2M62 108h2M62 109h2M62 110h2M62 111h2M62 112h2M62 113h2M62 114h2M62 115h2M62 116h2M62 117h2M62 118h2M62 119h2"/><path stroke="#482475" d="M62 0h1M62 1h1M62 2h1M62 3h1M62 4h1M62 5h1M61 6h2M61 7h2M61 8h1M61 9h1M61 10h1M61 11h1M61 12h1M61 13h1M61 14h1M61 15h1M60 16h1M60 17h1M60 18h1M60 19h1M60 20h1M59 21h1M59 22h1M59 23h1M59 24h1M58 26h1M58 27h1M57 28h1M57 29h1M56 30h1M55 31h2M54 32h1M53 33h1M52 34h1M51 35h1M50 36h1M49 38h1M69 38h5M67 39h3M73 39h2M48 40h1M66 40h3M74 40h1M65 41h2M75 41h1M64 42h2M75 42h1M47 43h1M64 43h2M63 44h2M76 44h1M63 45h1M76 45h1M63 46h1M76 46h1M63 47h1M62 48h1M62 49h1M46 50h1M62 50h1M77 50h1M46 51h1M62 51h1M77 51h1M46 52h1M62 52h1M77 52h1M46 53h1M62 53h1M77 53h1M46 54h1M62 54h1M77 54h1M46 55h1M62 55h1M77 55h1M62 56h1M62 63h1M62 64h1M77 64h1M62 65h1M77 65h1M62 66h1M77 66h1M46 67h1M62 67h1M77 67h1M46 68h1M62 68h1M77 68h1M46 69h1M62 69h1M77 69h1M46 70h1M62 70h1M77 70h1M62 71h1M62 72h2M63 73h1M76 73h1M63 74h1M76 74h1M63 75h2M76 75h1M47 76h1M64 76h1M64 77h2M75 77h1M65 78h2M75 78h1M66 79h2M74 79h1M67 80h3M74 80h1M69 81h5M49 82h1M71 82h2M50 83h1M51 84h1M52 85h2M53 86h2M54 87h2M55 88h2M56 89h1M57 90h1M57 91h1M58 92h1M58 93h1M58 94h1M59 95h1M59 96h1M59 97h1M59 98h1M59 99h1M59 100h1M60 103h1M60 104h1M60 105h1M60 106h1M60 107h1M60 108h1M60 109h1M60 110h1M60 111h1M60 112h1M60 113h1M60 114h1M60 115h1M60 116h1M60 117h1M60 118h1M60 119h1"/><path stroke="#482677" d="M61 0h1M61 1h1M61 2h1M61 3h1M61 4h1M61 5h1M60 7h1M60 8h1M60 9h1M60 10h1M60 11h1M60 12h1M60 13h1M60 14h1M60 15h1M59 17h1M59 18h1M59 19h1M59 20h1M58 23h1M58 24h1M58 25h1M57 26h1M57 27h1M56 28h1M56 29h1M55 30h1M54 31h1M53 32h1M52 33h1M51 34h1M50 35h1M49 37h1M48 39h1M70 39h3M69 40h5M67 41h3M74 41h1M47 42h1M66 42h2M74 42h1M66 43h1M75 43h1M65 44h2M75 44h1M64 45h2M64 46h1M46 47h1M64 47h1M76 47h1M46 48h1M63 48h2M76 48h1M46 49h1M63 49h1M76 49h1M63 50h1M63 51h1M63 52h1M77 56h1M62 57h1M77 57h1M62 58h1M77 58h1M62 59h1M77 59h1M62 60h1M77 60h1M62 61h1M77 61h1M62 62h1M77 62h1M77 63h1M63 67h1M63 68h1M63 69h1M63 70h1M76 70h1M46 71h1M63 71h2M76 71h1M46 72h1M64 72h1M76 72h1M64 73h1M64 74h2M65 75h1M75 75h1M65 76h2M75 76h1M47 77h1M66 77h2M74 77h1M67 78h2M74 78h1M68 79h3M73 79h1M48 80h1M70 80h4M49 83h1M50 84h1M51 85h1M52 86h1M53 87h1M54 88h1M55 89h1M56 90h1M56 91h1M57 92h1M57 93h1M58 95h1M58 96h1M58 97h1M58 98h1M59 101h1M59 102h1M59 103h1M59 104h1M59 105h1M59 106h1M59 107h1M59 108h1M59 109h1M59 110h1M59 111h1M59 112h1M59 113h1M59 114h1M59 115h1M59 116h1M59 117h1M59 118h1M59 119h1"/><path stroke="#482979" d="M60 0h1M60 1h1M60 2h1M60 3h1M60 4h1M60 5h1M60 6h1M59 11h1M59 12h1M59 13h1M59 14h1M59 15h1M59 16h1M58 19h1M58 20h1M58 21h1M58 22h1M57 24h1M57 25h1M56 27h1M55 28h1M55 29h1M54 30h1M53 31h1M52 32h1M51 33h1M50 34h1M49 36h1M48 38h1M47 41h1M70 41h4M68 42h3M73 42h1M67 43h2M74 43h1M67 44h1M74 44h1M46 45h1M66 45h1M75 45h1M46 46h1M65 46h2M75 46h1M65 47h1M75 47h1M65 48h1M64 49h1M64 50h1M76 50h1M64 51h1M76 51h1M76 52h1M63 53h1M76 53h1M63 54h1M76 54h1M63 55h1M63 56h1M63 57h1M63 58h1M63 59h1M63 60h1M63 61h1M63 62h1M63 63h1M63 64h1M63 65h1M63 66h1M76 66h1M76 67h1M64 68h1M76 68h1M64 69h1M76 69h1M64 70h1M65 71h1M65 72h1M75 72h1M46 73h1M65 73h2M75 73h1M46 74h1M66 74h1M75 74h1M66 75h2M67 76h2M74 76h1M68 77h2M73 77h1M47 78h1M69 78h5M71 79h2M48 81h1M50 85h1M51 86h1M52 87h1M53 88h1M54 89h1M55 90h1M55 91h1M56 92h1M56 93h1M57 94h1M57 95h1M57 96h1M58 99h1M58 100h1M58 101h1M58 102h1M58 103h1"/><path stroke="#472c7a" d="M59 0h1M59 1h1M59 2h1M59 3h1M59 4h1M59 5h1M59 6h1M59 7h1M59 8h1M59 9h1M59 10h1M58 16h1M58 17h1M58 18h1M57 21h1M57 22h1M57 23h1M56 25h1M56 26h1M55 27h1M54 28h1M54 29h1M53 30h1M52 31h1M51 32h1M49 35h1M48 37h1M47 40h1M71 42h2M69 43h5M46 44h1M68 44h2M73 44h1M67 45h2M74 45h1M67 46h1M74 46h1M66 47h1M66 48h1M75 48h1M65 49h1M75 49h1M65 50h1M75 50h1M65 51h1M64 52h1M64 53h1M64 54h1M64 55h1M76 55h1M64 56h1M76 56h1M64 57h1M76 57h1M64 58h1M76 58h1M64 59h1M76 59h1M64 60h1M76 60h1M64 61h1M76 61h1M64 62h1M76 62h1M64 63h1M76 63h1M64 64h1M76 64h1M64 65h1M76 65h1M64 66h1M64 67h1M65 68h1M65 69h1M65 70h1M75 70h1M66 71h1M75 71h1M66 72h1M67 73h1M67 74h2M74 74h1M46 75h1M68 75h2M74 75h1M69 76h2M73 76h1M70 77h3M47 79h1M48 82h1M49 84h1M50 86h1M51 87h1M52 88h1M53 89h1M54 90h1M54 91h1M55 92h1M56 94h1M56 95h1M57 97h1M57 98h1M57 99h1M58 104h1M58 105h1M58 106h1M58 107h1M58 108h1M58 109h1M58 110h1M58 111h1M58 112h1M58 113h1M58 114h1M58 115h1M58 116h1M58 117h1M58 118h1M58 119h1"/><path stroke="#472e7c" d="M58 8h1M58 9h1M58 10h1M58 11h1M58 12h1M58 13h1M58 14h1M58 15h1M57 19h1M57 20h1M56 23h1M56 24h1M55 25h1M55 26h1M54 27h1M53 29h1M52 30h1M51 31h1M50 33h1M49 34h1M48 36h1M47 39h1M46 43h1M70 44h3M69 45h2M73 45h1M68 46h2M67 47h2M74 47h1M67 48h1M74 48h1M66 49h2M66 50h1M66 51h1M75 51h1M65 52h1M75 52h1M45 53h1M65 53h1M75 53h1M45 54h1M65 54h1M45 55h1M65 55h1M45 56h1M65 56h1M45 57h1M65 57h1M45 58h1M45 59h1M45 60h1M45 61h1M45 62h1M45 63h1M65 63h1M45 64h1M65 64h1M45 65h1M65 65h1M45 66h1M65 66h1M45 67h1M65 67h1M75 67h1M75 68h1M66 69h1M75 69h1M66 70h1M67 71h1M67 72h2M74 72h1M68 73h2M74 73h1M69 74h2M73 74h1M70 75h4M46 76h1M71 76h2M47 80h1M48 83h1M49 85h1M50 87h1M51 88h1M52 89h1M53 90h1M54 92h1M55 93h1M55 94h1M56 96h1M56 97h1M57 100h1M57 101h1M57 102h1M57 103h1"/><path stroke="#46307e" d="M58 0h1M58 1h1M58 2h1M58 3h1M58 4h1M58 5h1M58 6h1M58 7h1M57 16h1M57 17h1M57 18h1M56 20h1M56 21h1M56 22h1M55 24h1M54 26h1M53 28h1M52 29h1M50 32h1M49 33h1M48 35h1M47 38h1M46 42h1M71 45h2M70 46h4M69 47h2M73 47h1M68 48h2M45 49h1M68 49h1M74 49h1M45 50h1M67 50h1M74 50h1M45 51h1M67 51h1M45 52h1M66 52h1M66 53h1M66 54h1M75 54h1M66 55h1M75 55h1M75 56h1M75 57h1M65 58h1M75 58h1M65 59h1M65 60h1M65 61h1M65 62h1M75 62h1M75 63h1M75 64h1M66 65h1M75 65h1M66 66h1M75 66h1M66 67h1M45 68h1M66 68h1M45 69h1M67 69h1M74 69h1M45 70h1M67 70h2M74 70h1M68 71h1M74 71h1M69 72h1M73 72h1M70 73h1M73 73h1M71 74h2M46 77h1M46 78h1M47 81h1M48 84h1M49 86h1M51 89h1M52 90h1M53 91h1M54 93h1M55 95h1M55 96h1M56 98h1M56 99h1M56 100h1M57 104h1M57 105h1M57 106h1M57 107h1M57 108h1M57 109h1M57 110h1M57 111h1M57 112h1M57 113h1M57 114h1M57 115h1M57 116h1M57 117h1M57 118h1M57 119h1"/><path stroke="#46337f" d="M57 8h1M57 9h1M57 10h1M57 11h1M57 12h1M57 13h1M57 14h1M57 15h1M56 18h1M56 19h1M55 22h1M55 23h1M54 25h1M53 27h1M52 28h1M51 30h1M50 31h1M47 37h1M46 41h1M45 46h1M45 47h1M71 47h2M45 48h1M70 48h1M73 48h1M69 49h1M73 49h1M68 50h2M68 51h1M74 51h1M67 52h1M74 52h1M67 53h1M67 54h1M66 56h1M66 57h1M66 58h1M66 59h1M75 59h1M66 60h1M75 60h1M66 61h1M75 61h1M66 62h1M66 63h1M66 64h1M67 65h1M67 66h1M67 67h1M74 67h1M67 68h2M74 68h1M68 69h1M69 70h1M45 71h1M69 71h2M73 71h1M45 72h1M70 72h3M45 73h1M71 73h2M46 79h1M47 82h1M48 85h1M49 87h1M50 88h1M51 90h1M52 91h1M53 92h1M53 93h1M54 94h1M54 95h1M55 97h1M55 98h1M56 101h1M56 102h1M56 103h1M56 115h1M56 116h1M56 117h1M56 118h1M56 119h1"/><path stroke="#453581" d="M57 0h1M57 1h1M57 2h1M57 3h1M57 4h1M57 5h1M57 6h1M57 7h1M56 16h1M56 17h1M55 20h1M55 21h1M54 23h1M54 24h1M53 26h1M52 27h1M51 29h1M50 30h1M49 32h1M48 34h1M47 36h1M46 40h1M45 45h1M71 48h2M70 49h3M70 50h1M73 50h1M69 51h1M73 51h1M68 52h1M68 53h1M74 53h1M68 54h1M74 54h1M67 55h1M74 55h1M67 56h1M74 56h1M67 57h1M67 58h1M67 59h1M67 60h1M67 61h1M67 62h1M67 63h1M74 63h1M67 64h1M74 64h1M68 65h1M74 65h1M68 66h1M74 66h1M68 67h1M69 68h1M69 69h2M73 69h1M70 70h4M71 71h2M45 74h1M45 75h1M46 80h1M47 83h1M48 86h1M49 88h1M50 89h1M51 91h1M52 92h1M53 94h1M54 96h1M54 97h1M55 99h1M55 100h1M55 101h1M56 104h1M56 105h1M56 106h1M56 107h1M56 108h1M56 109h1M56 110h1M56 111h1M56 112h1M56 113h1M56 114h1"/><path stroke="#453882" d="M56 8h1M56 9h1M56 10h1M56 11h1M56 12h1M56 13h1M56 14h1M56 15h1M55 18h1M55 19h1M54 21h1M54 22h1M53 24h1M53 25h1M52 26h1M51 28h1M49 31h1M48 33h1M47 35h1M46 39h1M45 44h1M71 50h2M70 51h3M69 52h2M73 52h1M69 53h1M73 53h1M69 54h1M68 55h2M68 56h1M68 57h1M74 57h1M68 58h1M74 58h1M68 59h1M74 59h1M68 60h1M74 60h1M68 61h1M74 61h1M68 62h1M74 62h1M68 63h1M68 64h1M69 65h1M69 66h1M69 67h2M73 67h1M70 68h1M73 68h1M71 69h2M45 76h1M46 81h1M47 84h1M48 87h1M49 89h1M50 90h1M52 93h1M53 95h1M54 98h1M54 99h1M55 102h1M55 103h1M55 115h1M55 116h1M55 117h1M55 118h1M55 119h1"/><path stroke="#443a83" d="M56 0h1M56 1h1M56 2h1M56 3h1M56 4h1M56 5h1M56 6h1M56 7h1M55 16h1M55 17h1M54 20h1M53 23h1M52 25h1M51 27h1M50 29h1M49 30h1M48 32h1M46 38h1M45 42h1M45 43h1M71 52h2M70 53h3M70 54h1M73 54h1M70 55h1M73 55h1M69 56h1M73 56h1M69 57h1M69 58h1M69 59h1M69 60h1M69 61h1M69 62h1M69 63h1M73 63h1M69 64h2M73 64h1M70 65h1M73 65h1M70 66h2M73 66h1M71 67h2M71 68h2M45 77h1M46 82h1M47 85h1M48 88h1M50 91h1M51 92h1M52 94h1M53 96h1M53 97h1M54 100h1M54 101h1M55 104h1M55 105h1M55 106h1M55 107h1M55 108h1M55 109h1M55 110h1M55 111h1M55 112h1M55 113h1M55 114h1"/><path stroke="#433d84" d="M55 10h1M55 11h1M55 12h1M55 13h1M55 14h1M55 15h1M54 18h1M54 19h1M53 21h1M53 22h1M52 24h1M51 26h1M50 28h1M48 31h1M47 34h1M46 37h1M45 41h1M44 52h1M44 53h1M44 54h1M71 54h2M44 55h1M71 55h2M44 56h1M70 56h3M44 57h1M70 57h1M73 57h1M44 58h1M70 58h1M73 58h1M44 59h1M70 59h1M73 59h1M44 60h1M70 60h1M73 60h1M44 61h1M70 61h1M73 61h1M44 62h1M70 62h1M73 62h1M44 63h1M70 63h3M44 64h1M71 64h2M44 65h1M71 65h2M44 66h1M72 66h1M44 67h1M45 78h1M45 79h1M46 83h1M47 86h1M49 90h1M50 92h1M51 93h1M52 95h1M52 96h1M53 98h1M53 99h1M54 102h1M54 103h1M54 114h1M54 115h1M54 116h1M54 117h1M54 118h1M54 119h1"/><path stroke="#423f85" d="M55 0h1M55 1h1M55 2h1M55 3h1M55 4h1M55 5h1M55 6h1M55 7h1M55 8h1M55 9h1M54 16h1M54 17h1M53 19h1M53 20h1M52 23h1M50 27h1M49 29h1M47 33h1M46 36h1M45 40h1M44 48h1M44 49h1M44 50h1M44 51h1M71 57h2M71 58h2M71 59h2M71 60h2M71 61h2M71 62h2M44 68h1M44 69h1M44 70h1M44 71h1M45 80h1M46 84h1M47 87h1M48 89h1M49 91h1M50 93h1M51 94h1M52 97h1M52 98h1M53 100h1M53 101h1M54 104h1M54 105h1M54 106h1M54 107h1M54 108h1M54 109h1M54 110h1M54 111h1M54 112h1M54 113h1"/><path stroke="#424186" d="M54 12h1M54 13h1M54 14h1M54 15h1M53 18h1M52 21h1M52 22h1M51 24h1M51 25h1M50 26h1M49 28h1M48 30h1M47 32h1M46 35h1M45 39h1M44 46h1M44 47h1M44 72h1M44 73h1M44 74h1M45 81h1M46 85h1M47 88h1M48 90h1M49 92h1M51 95h1M51 96h1M52 99h1M52 100h1M53 102h1M53 103h1M53 112h1M53 113h1M53 114h1M53 115h1M53 116h1M53 117h1M53 118h1M53 119h1"/><path stroke="#414487" d="M54 0h1M54 1h1M54 2h1M54 3h1M54 4h1M54 5h1M54 6h1M54 7h1M54 8h1M54 9h1M54 10h1M54 11h1M53 16h1M53 17h1M52 19h1M52 20h1M51 23h1M49 27h1M48 29h1M47 31h1M46 34h1M45 38h1M44 44h1M44 45h1M44 75h1M45 82h1M46 86h1M47 89h1M48 91h1M49 93h1M50 94h1M50 95h1M51 97h1M51 98h1M52 101h1M52 102h1M53 104h1M53 105h1M53 106h1M53 107h1M53 108h1M53 109h1M53 110h1M53 111h1"/><path stroke="#404688" d="M53 0h1M53 1h1M53 2h1M53 3h1M53 4h1M53 5h1M53 6h1M53 7h1M53 8h1M53 9h1M53 10h1M53 11h1M53 12h1M53 13h1M53 14h1M53 15h1M52 18h1M51 21h1M51 22h1M50 25h1M48 28h1M47 30h1M46 33h1M45 37h1M44 43h1M44 76h1M44 77h1M45 83h1M46 87h1M47 90h1M48 92h1M49 94h1M50 96h1M51 99h1M51 100h1M52 103h1M52 104h1M52 110h1M52 111h1M52 112h1M52 113h1M52 114h1M52 115h1M52 116h1M52 117h1M52 118h1M52 119h1"/><path stroke="#3f4889" d="M52 16h1M52 17h1M51 19h1M51 20h1M50 23h1M50 24h1M49 26h1M48 27h1M47 29h1M46 32h1M45 36h1M44 41h1M44 42h1M44 78h1M45 84h1M45 85h1M46 88h1M47 91h1M48 93h1M49 95h1M50 97h1M50 98h1M51 101h1M51 102h1M52 105h1M52 106h1M52 107h1M52 108h1M52 109h1M51 113h1M51 114h1M0 115h5M51 115h1M0 116h5M51 116h1M0 117h5M51 117h1M0 118h5M51 118h1M0 119h5M51 119h1"/><path stroke="#3e4a89" d="M0 0h5M52 0h1M0 1h5M52 1h1M0 2h5M52 2h1M0 3h5M52 3h1M0 4h5M52 4h1M52 5h1M52 6h1M52 7h1M52 8h1M52 9h1M52 10h1M52 11h1M52 12h1M52 13h1M52 14h1M52 15h1M51 17h1M51 18h1M50 21h1M50 22h1M49 25h1M46 31h1M45 35h1M44 40h1M44 79h1M44 80h1M45 86h1M46 89h1M47 92h1M48 94h1M49 96h1M49 97h1M50 99h1M50 100h1M51 103h1M51 104h1M51 105h1M51 108h1M51 109h1M51 110h1M51 111h1M51 112h1"/><path stroke="#3d4d8a" d="M5 0h1M51 0h1M5 1h1M51 1h1M5 2h1M51 2h1M5 3h1M51 3h1M5 4h1M51 4h1M0 5h5M51 5h1M51 15h1M51 16h1M50 19h1M50 20h1M49 23h1M49 24h1M48 26h1M47 28h1M46 30h1M45 34h1M44 39h1M43 50h1M43 51h1M43 52h1M43 53h1M43 54h1M43 55h1M43 56h1M43 57h1M43 58h1M43 59h1M43 60h1M43 61h1M43 62h1M43 63h1M43 64h1M43 65h1M43 66h1M43 67h1M43 68h1M43 69h1M44 81h1M45 87h1M46 90h1M48 95h1M49 98h1M49 99h1M50 101h1M50 102h1M50 103h1M51 106h1M51 107h1M50 111h1M50 112h1M50 113h1M0 114h5M50 114h1M5 115h1M50 115h1M5 116h1M50 116h1M5 117h1M50 117h1M5 118h1M50 118h1M5 119h1M50 119h1"/><path stroke="#3c4f8a" d="M51 6h1M51 7h1M51 8h1M51 9h1M51 10h1M51 11h1M51 12h1M51 13h1M51 14h1M50 17h1M50 18h1M49 21h1M49 22h1M48 25h1M47 27h1M46 29h1M45 32h1M45 33h1M44 38h1M43 46h1M43 47h1M43 48h1M43 49h1M43 70h1M43 71h1M43 72h1M43 73h1M44 82h1M44 83h1M45 88h1M46 91h1M47 93h1M48 96h1M48 97h1M49 100h1M49 101h1M50 104h1M50 105h1M50 106h1M50 107h1M50 108h1M50 109h1M50 110h1M49 113h1M5 114h1M49 114h1M6 115h1M49 115h1M6 116h1M49 116h1M6 117h1M49 117h1M6 118h1M49 118h1M6 119h1M49 119h1"/><path stroke="#3b518b" d="M6 0h1M50 0h1M6 1h1M50 1h1M6 2h1M50 2h1M6 3h1M50 3h1M6 4h1M50 4h1M5 5h1M50 5h1M50 6h1M50 7h1M50 8h1M50 9h1M50 10h1M50 11h1M50 15h1M50 16h1M49 19h1M49 20h1M48 23h1M48 24h1M47 26h1M46 28h1M45 31h1M44 36h1M44 37h1M43 44h1M43 45h1M43 74h1M43 75h1M44 84h1M45 89h1M46 92h1M47 94h1M47 95h1M48 98h1M48 99h1M49 102h1M49 103h1M49 109h1M49 110h1M49 111h1M49 112h1M0 113h5M48 114h1M48 115h1M48 116h1M48 117h1M48 118h1M48 119h1"/><path stroke="#3a538b" d="M49 0h1M49 1h1M49 2h1M49 3h1M49 4h1M49 5h1M0 6h5M49 6h1M50 12h1M50 13h1M50 14h1M49 16h1M49 17h1M49 18h1M48 21h1M48 22h1M47 25h1M46 27h1M45 30h1M44 35h1M43 43h1M43 76h1M43 77h1M44 85h1M45 90h1M46 93h1M47 96h1M47 97h1M48 100h1M48 101h1M48 102h1M49 104h1M49 105h1M49 106h1M49 107h1M49 108h1M48 110h1M48 111h1M48 112h1M5 113h1M48 113h1M6 114h1M7 115h1M47 115h1M7 116h1M47 116h1M7 117h1M47 117h1M7 118h1M47 118h1M7 119h1M47 119h1"/><path stroke="#39558c" d="M7 0h1M7 1h1M7 2h1M7 3h1M7 4h1M6 5h1M5 6h1M49 7h1M49 8h1M49 9h1M49 10h1M49 11h1M49 12h1M49 13h1M49 14h1M49 15h1M48 18h1M48 19h1M48 20h1M47 23h1M47 24h1M46 26h1M45 29h1M44 34h1M43 41h1M43 42h1M43 78h1M43 79h1M44 86h1M44 87h1M45 91h1M46 94h1M47 98h1M47 99h1M47 100h1M48 103h1M48 104h1M48 105h1M48 106h1M48 107h1M48 108h1M48 109h1M47 111h1M0 112h5M47 112h1M6 113h1M47 113h1M7 114h1M47 114h1"/><path stroke="#38588c" d="M48 0h1M48 1h1M48 2h1M48 3h1M48 4h1M48 5h1M48 6h1M0 7h5M48 7h1M48 8h1M48 9h1M48 10h1M48 15h1M48 16h1M48 17h1M47 20h1M47 21h1M47 22h1M46 25h1M45 28h1M44 33h1M43 40h1M43 80h1M44 88h1M45 92h1M46 95h1M46 96h1M46 97h1M47 101h1M47 102h1M47 103h1M47 108h1M47 109h1M47 110h1M5 112h1M46 113h1M46 114h1M8 115h1M46 115h1M8 116h1M46 116h1M8 117h1M46 117h1M8 118h1M46 118h1M8 119h1M46 119h1"/><path stroke="#375a8c" d="M47 0h1M47 1h1M47 2h1M47 3h1M47 4h1M7 5h1M47 5h1M6 6h1M47 6h1M5 7h1M47 7h1M47 8h1M48 11h1M48 12h1M48 13h1M48 14h1M47 17h1M47 18h1M47 19h1M46 23h1M46 24h1M45 27h1M44 31h1M44 32h1M43 38h1M43 39h1M43 81h1M43 82h1M44 89h1M45 93h1M45 94h1M46 98h1M46 99h1M46 100h1M47 104h1M47 105h1M47 106h1M47 107h1M46 110h1M0 111h5M46 111h1M6 112h1M46 112h1M7 113h1M8 114h1M45 114h1M45 115h1M45 116h1M45 117h1M45 118h1M45 119h1"/><path stroke="#365c8d" d="M8 0h1M46 0h1M8 1h1M46 1h1M8 2h1M46 2h1M8 3h1M46 3h1M8 4h1M46 4h1M46 5h1M46 6h1M47 9h1M47 10h1M47 11h1M47 12h1M47 13h1M47 14h1M47 15h1M47 16h1M46 20h1M46 21h1M46 22h1M45 26h1M44 30h1M43 37h1M42 52h1M42 53h1M42 54h1M42 55h1M42 56h1M42 57h1M42 58h1M42 59h1M42 60h1M42 61h1M42 62h1M42 63h1M42 64h1M42 65h1M42 66h1M42 67h1M43 83h1M44 90h1M44 91h1M45 95h1M46 101h1M46 102h1M46 103h1M46 104h1M46 107h1M46 108h1M46 109h1M5 111h1M45 112h1M45 113h1M9 115h1M9 116h1M9 117h1M9 118h1M9 119h1"/><path stroke="#355e8d" d="M8 5h1M7 6h1M6 7h1M46 7h1M0 8h5M46 8h1M46 9h1M46 10h1M46 17h1M46 18h1M46 19h1M45 25h1M44 29h1M43 36h1M42 46h1M42 47h1M42 48h1M42 49h1M42 50h1M42 51h1M42 68h1M42 69h1M42 70h1M42 71h1M42 72h1M42 73h1M43 84h1M43 85h1M44 92h1M45 96h1M45 97h1M45 98h1M45 99h1M46 105h1M46 106h1M45 109h1M45 110h1M45 111h1M7 112h1M8 113h1M9 114h1M44 114h1M44 115h1M44 116h1M44 117h1M44 118h1M44 119h1"/><path stroke="#34608d" d="M9 0h1M45 0h1M9 1h1M45 1h1M9 2h1M45 2h1M9 3h1M45 3h1M9 4h1M45 4h1M45 5h1M45 6h1M5 8h1M46 11h1M46 12h1M46 13h1M46 14h1M46 15h1M46 16h1M45 23h1M45 24h1M44 28h1M43 34h1M43 35h1M42 44h1M42 45h1M42 74h1M42 75h1M43 86h1M44 93h1M45 100h1M45 101h1M45 102h1M45 103h1M45 107h1M45 108h1M0 110h5M6 111h1M44 112h1M44 113h1M10 115h1M10 116h1M10 117h1M10 118h1M10 119h1"/><path stroke="#33628d" d="M8 6h1M45 7h1M45 8h1M45 9h1M45 19h1M45 20h1M45 21h1M45 22h1M44 27h1M43 33h1M42 43h1M42 76h1M42 77h1M43 87h1M43 88h1M44 94h1M45 104h1M45 105h1M45 106h1M5 110h1M44 110h1M44 111h1M8 112h1M9 113h1M10 114h1M11 115h1M11 116h1M11 117h1M11 118h1M11 119h1"/><path stroke="#32648e" d="M44 0h1M44 1h1M44 2h1M44 3h1M44 4h1M9 5h1M44 5h1M7 7h1M6 8h1M0 9h5M45 10h1M45 11h1M45 12h1M45 13h1M45 15h1M45 16h1M45 17h1M45 18h1M44 26h1M43 32h1M42 41h1M42 42h1M42 78h1M42 79h1M43 89h1M44 95h1M44 96h1M44 97h1M44 98h1M44 108h1M0 109h5M44 109h1M6 110h1M7 111h1M43 113h1M43 114h1M43 115h1M43 116h1M43 117h1M43 118h1M43 119h1"/><path stroke="#31668e" d="M10 0h1M10 1h1M10 2h1M10 3h1M10 4h1M44 6h1M44 7h1M44 8h1M5 9h1M45 14h1M44 25h1M43 31h1M42 39h1M42 40h1M42 80h1M43 90h1M43 91h1M44 99h1M44 100h1M44 101h1M44 102h1M44 103h1M44 104h1M44 105h1M44 106h1M44 107h1M5 109h1M8 111h1M43 111h1M9 112h1M43 112h1M10 113h1M11 114h1M12 115h1M12 116h1M12 117h1M12 118h1M12 119h1"/><path stroke="#31688e" d="M10 5h1M9 6h1M8 7h1M7 8h1M44 9h1M44 10h1M44 11h1M44 21h1M44 22h1M44 23h1M44 24h1M43 30h1M42 38h1M42 81h1M42 82h1M43 92h1M43 109h1M7 110h1M43 110h1M12 114h1M42 114h1M13 115h1M42 115h1M13 116h1M42 116h1M13 117h1M42 117h1M13 118h1M42 118h1M13 119h1M42 119h1"/><path stroke="#306a8e" d="M11 0h1M43 0h1M11 1h1M43 1h1M11 2h1M43 2h1M11 3h1M43 3h1M11 4h1M43 4h1M43 5h1M43 6h1M6 9h1M0 10h5M44 12h1M44 13h1M44 14h1M44 15h1M44 16h1M44 17h1M44 18h1M44 19h1M44 20h1M43 28h1M43 29h1M42 36h1M42 37h1M42 83h1M42 84h1M43 93h1M43 107h1M0 108h5M43 108h1M6 109h1M9 111h1M10 112h1M42 112h1M11 113h1M42 113h1M13 114h1M14 115h1M14 116h1M14 117h1M14 118h1M14 119h1"/><path stroke="#2f6c8e" d="M12 0h1M12 1h1M12 2h1M12 3h1M12 4h1M11 5h1M10 6h1M9 7h1M43 7h1M8 8h1M43 8h1M5 10h1M43 27h1M42 35h1M42 85h1M42 86h1M43 94h1M43 95h1M43 96h1M43 97h1M43 98h1M43 99h1M43 100h1M43 101h1M43 102h1M43 103h1M43 104h1M43 105h1M43 106h1M5 108h1M7 109h1M8 110h1M42 111h1M11 112h1M12 113h1M41 115h1M41 116h1M41 117h1M41 118h1M41 119h1"/><path stroke="#2e6e8e" d="M42 0h1M42 1h1M42 2h1M42 3h1M42 4h1M42 5h1M7 9h1M43 9h1M43 10h1M43 11h1M43 26h1M42 33h1M42 34h1M41 49h1M41 50h1M41 51h1M41 52h1M41 53h1M41 54h1M41 55h1M41 56h1M41 57h1M41 58h1M41 59h1M41 60h1M41 61h1M41 62h1M41 63h1M41 64h1M41 65h1M41 66h1M41 67h1M41 68h1M41 69h1M42 87h1M42 88h1M6 108h1M42 109h1M9 110h1M42 110h1M10 111h1M13 113h1M41 113h1M14 114h1M41 114h1M15 115h1M15 116h1M15 117h1M15 118h1M15 119h1"/><path stroke="#2d708e" d="M13 0h1M13 1h1M13 2h1M13 3h1M13 4h1M12 5h1M11 6h1M42 6h1M10 7h1M42 7h1M9 8h1M6 10h1M0 11h5M43 12h1M43 13h1M43 14h1M43 22h1M43 23h1M43 24h1M43 25h1M42 32h1M41 44h1M41 45h1M41 46h1M41 47h1M41 48h1M41 70h1M41 71h1M41 72h1M41 73h1M41 74h1M41 75h1M42 89h1M42 90h1M0 107h5M42 107h1M42 108h1M8 109h1M11 111h1M41 111h1M12 112h1M41 112h1M14 113h1M15 114h1M16 115h1M40 115h1M16 116h1M40 116h1M16 117h1M40 117h1M16 118h1M40 118h1M16 119h1M40 119h1"/><path stroke="#2c718e" d="M14 0h1M41 0h1M14 1h1M41 1h1M14 2h1M41 2h1M14 3h1M41 3h1M14 4h1M41 4h1M13 5h1M12 6h1M42 8h1M8 9h1M42 9h1M5 11h1M43 15h1M43 16h1M43 17h1M43 18h1M43 19h1M43 20h1M43 21h1M42 30h1M42 31h1M41 42h1M41 43h1M41 76h1M41 77h1M42 91h1M42 92h1M42 104h1M42 105h1M42 106h1M5 107h1M7 108h1M10 110h1M41 110h1M13 112h1M15 113h1M40 113h1M16 114h1M40 114h1M17 115h1M17 116h1M17 117h1M17 118h1M17 119h1"/><path stroke="#2c738e" d="M14 5h1M41 5h1M41 6h1M11 7h1M10 8h1M7 10h1M42 10h1M42 11h1M42 29h1M41 40h1M41 41h1M41 78h1M41 79h1M42 93h1M42 94h1M42 95h1M42 96h1M42 97h1M42 98h1M42 99h1M42 100h1M42 101h1M42 102h1M42 103h1M0 106h5M6 107h1M8 108h1M41 108h1M9 109h1M41 109h1M11 110h1M12 111h1M14 112h1M40 112h1M17 114h1M39 114h1M18 115h1M39 115h1M18 116h1M39 116h1M18 117h1M39 117h1M18 118h1M39 118h1M18 119h1M39 119h1"/><path stroke="#2b758e" d="M15 0h1M40 0h1M15 1h1M40 1h1M15 2h1M40 2h1M15 3h1M40 3h1M15 4h1M40 4h1M13 6h1M12 7h1M41 7h1M41 8h1M9 9h1M8 10h1M6 11h1M0 12h5M42 12h1M42 13h1M42 28h1M41 38h1M41 39h1M41 80h1M41 81h1M5 106h1M41 106h1M7 107h1M41 107h1M10 109h1M40 110h1M13 111h1M40 111h1M15 112h1M39 112h1M16 113h1M39 113h1M18 114h1M38 114h1M19 115h1M38 115h1M19 116h1M38 116h1M19 117h1M38 117h1M19 118h1M38 118h1M19 119h1M38 119h1"/><path stroke="#2a778e" d="M16 0h1M16 1h1M16 2h1M16 3h1M16 4h1M15 5h1M40 5h1M14 6h1M40 6h1M11 8h1M41 9h1M7 11h1M5 12h1M42 14h1M42 15h1M42 16h1M42 17h1M42 18h1M42 26h1M42 27h1M41 36h1M41 37h1M41 82h1M41 83h1M41 84h1M41 104h1M41 105h1M6 106h1M9 108h1M11 109h1M40 109h1M12 110h1M14 111h1M39 111h1M16 112h1M17 113h1M38 113h1M19 114h1M37 114h1M20 115h1M37 115h1M20 116h1M37 116h1M20 117h1M37 117h1M20 118h1M37 118h1M20 119h1M37 119h1"/><path stroke="#29798e" d="M39 0h1M39 1h1M39 2h1M39 3h1M39 4h1M16 5h1M39 5h1M15 6h1M13 7h1M40 7h1M12 8h1M10 9h1M9 10h1M41 10h1M41 11h1M6 12h1M42 19h1M42 20h1M42 21h1M42 22h1M42 23h1M42 24h1M42 25h1M41 34h1M41 35h1M41 85h1M41 86h1M41 87h1M41 88h1M41 100h1M41 101h1M41 102h1M41 103h1M0 105h5M8 107h1M40 107h1M10 108h1M40 108h1M12 109h1M13 110h1M39 110h1M15 111h1M17 112h1M38 112h1M18 113h1M37 113h1M20 114h1M36 114h1M21 115h1M36 115h1M21 116h1M36 116h1M21 117h1M36 117h1M21 118h1M36 118h1M21 119h1M36 119h1"/><path stroke="#297b8e" d="M17 0h1M38 0h1M17 1h1M38 1h1M17 2h1M38 2h1M17 3h1M38 3h1M17 4h1M38 4h1M17 5h1M38 5h1M39 6h1M14 7h1M39 7h1M13 8h1M40 8h1M11 9h1M40 9h1M8 11h1M41 12h1M0 13h5M41 13h1M41 32h1M41 33h1M41 89h1M41 90h1M41 91h1M41 92h1M41 97h1M41 98h1M41 99h1M5 105h1M40 105h1M7 106h1M40 106h1M9 107h1M11 108h1M39 108h1M13 109h1M39 109h1M14 110h1M38 110h1M16 111h1M38 111h1M18 112h1M37 112h1M19 113h2M36 113h1M21 114h1M35 114h1M22 115h1M34 115h2M22 116h1M34 116h2M22 117h1M34 117h2M22 118h1M34 118h2M22 119h1M34 119h2"/><path stroke="#287d8e" d="M18 0h2M37 0h1M18 1h2M37 1h1M18 2h2M37 2h1M18 3h2M37 3h1M18 4h2M37 4h1M16 6h1M38 6h1M15 7h1M14 8h1M39 8h1M12 9h1M10 10h1M40 10h1M9 11h1M40 11h1M7 12h1M5 13h1M41 14h1M41 15h1M41 16h1M41 30h1M41 31h1M40 54h1M40 55h1M40 56h1M40 57h1M40 58h1M40 59h1M40 60h1M40 61h1M40 62h1M40 63h1M40 64h1M40 65h1M41 93h1M41 94h1M41 95h1M41 96h1M40 103h1M0 104h5M40 104h1M6 105h1M8 106h1M10 107h1M39 107h1M12 108h1M14 109h1M38 109h1M15 110h2M17 111h1M37 111h1M19 112h1M36 112h1M21 113h1M35 113h1M22 114h2M34 114h1M23 115h2M32 115h2M23 116h2M32 116h2M23 117h2M32 117h2M23 118h2M32 118h2M23 119h2M32 119h2"/><path stroke="#277f8e" d="M20 0h1M36 0h1M20 1h1M36 1h1M20 2h1M36 2h1M20 3h1M36 3h1M20 4h1M36 4h1M18 5h2M36 5h2M17 6h1M37 6h1M16 7h1M38 7h1M13 9h1M39 9h1M11 10h1M8 12h1M40 12h1M6 13h1M41 17h1M41 18h1M41 19h1M41 28h1M41 29h1M40 45h1M40 46h1M40 47h1M40 48h1M40 49h1M40 50h1M40 51h1M40 52h1M40 53h1M40 66h1M40 67h1M40 68h1M40 69h1M40 70h1M40 71h1M40 101h1M40 102h1M5 104h1M7 105h1M9 106h1M39 106h1M11 107h1M13 108h1M38 108h1M15 109h1M17 110h1M37 110h1M18 111h1M36 111h1M20 112h1M35 112h1M22 113h1M34 113h1M24 114h1M31 114h3M25 115h7M25 116h7M25 117h7M25 118h7M25 119h7"/><path stroke="#26818e" d="M21 0h2M34 0h2M21 1h2M34 1h2M21 2h2M34 2h2M21 3h2M34 3h2M21 4h2M34 4h2M20 5h1M35 5h1M18 6h1M36 6h1M17 7h1M37 7h1M15 8h1M38 8h1M14 9h1M38 9h1M12 10h1M39 10h1M10 11h1M39 11h1M40 13h1M0 14h5M40 14h1M41 20h1M41 21h1M41 22h1M41 23h1M41 25h1M41 26h1M41 27h1M40 42h1M40 43h1M40 44h1M40 72h1M40 73h1M40 74h1M40 75h1M40 76h1M40 77h1M40 99h1M40 100h1M0 103h6M6 104h1M39 104h1M8 105h1M39 105h1M10 106h1M12 107h1M38 107h1M14 108h1M16 109h1M37 109h1M18 110h1M36 110h1M19 111h2M35 111h1M21 112h2M34 112h1M23 113h2M31 113h3M25 114h6"/><path stroke="#26828e" d="M23 0h1M33 0h1M23 1h1M33 1h1M23 2h1M33 2h1M23 3h1M33 3h1M23 4h1M33 4h1M21 5h2M34 5h1M19 6h2M35 6h1M18 7h1M36 7h1M16 8h1M37 8h1M15 9h1M13 10h1M38 10h1M11 11h1M9 12h1M39 12h1M7 13h1M5 14h1M40 15h1M40 16h1M41 24h1M40 39h1M40 40h1M40 41h1M40 78h1M40 79h1M40 80h1M40 97h1M40 98h1M6 103h1M39 103h1M7 104h1M9 105h1M11 106h1M38 106h1M13 107h1M37 107h1M15 108h1M37 108h1M17 109h1M36 109h1M19 110h1M35 110h1M21 111h1M34 111h1M23 112h1M32 112h2M25 113h6"/><path stroke="#25848e" d="M24 0h9M24 1h9M24 2h9M24 3h9M24 4h9M23 5h2M32 5h2M21 6h2M34 6h1M19 7h1M35 7h1M17 8h1M36 8h1M16 9h1M37 9h1M14 10h1M12 11h1M38 11h1M10 12h1M8 13h1M39 13h1M6 14h1M0 15h5M40 17h1M40 18h1M40 36h1M40 37h1M40 38h1M40 81h1M40 82h1M40 83h1M40 84h1M40 85h1M40 86h1M40 87h1M40 88h1M40 89h1M40 90h1M40 91h1M40 92h1M40 93h1M40 94h1M40 95h1M40 96h1M39 101h1M0 102h6M39 102h1M8 104h1M38 104h1M10 105h1M38 105h1M12 106h1M37 106h1M14 107h1M16 108h1M36 108h1M18 109h2M35 109h1M20 110h2M34 110h1M22 111h2M32 111h2M24 112h8"/><path stroke="#24868e" d="M25 5h7M23 6h1M32 6h2M20 7h2M34 7h1M18 8h2M35 8h1M17 9h1M36 9h1M15 10h1M37 10h1M13 11h1M11 12h1M38 12h1M9 13h1M7 14h1M39 14h1M5 15h1M39 15h1M40 19h1M40 20h1M40 32h1M40 33h1M40 34h1M40 35h1M39 100h1M0 101h5M6 102h1M7 103h1M38 103h1M9 104h1M11 105h1M37 105h1M13 106h1M15 107h2M36 107h1M17 108h2M35 108h1M20 109h1M34 109h1M22 110h1M32 110h2M24 111h8"/><path stroke="#23888e" d="M24 6h8M22 7h2M32 7h2M20 8h2M34 8h1M18 9h1M35 9h1M16 10h1M36 10h1M14 11h2M37 11h1M12 12h1M37 12h1M10 13h1M38 13h1M8 14h1M38 14h1M6 15h1M0 16h6M39 16h1M40 21h1M40 22h1M40 28h1M40 29h1M40 30h1M40 31h1M39 98h1M39 99h1M5 101h1M7 102h1M38 102h1M8 103h1M10 104h1M37 104h1M12 105h1M14 106h2M36 106h1M17 107h1M35 107h1M19 108h1M34 108h1M21 109h2M32 109h2M23 110h9"/><path stroke="#238a8d" d="M24 7h8M22 8h1M32 8h2M19 9h2M34 9h1M17 10h2M35 10h1M16 11h1M36 11h1M13 12h2M11 13h1M37 13h1M9 14h1M7 15h1M38 15h1M6 16h1M0 17h5M39 17h1M39 18h1M40 23h1M40 24h1M40 25h1M40 26h1M40 27h1M39 97h1M0 100h5M6 101h1M38 101h1M8 102h1M9 103h1M37 103h1M11 104h1M13 105h1M36 105h1M16 106h1M35 106h1M18 107h2M34 107h1M20 108h2M32 108h2M23 109h2M28 109h4"/><path stroke="#228c8d" d="M23 8h9M21 9h2M32 9h2M19 10h2M34 10h1M17 11h1M35 11h1M15 12h1M36 12h1M12 13h1M10 14h1M37 14h1M8 15h1M38 16h1M5 17h1M39 19h1M39 54h1M39 55h1M39 56h1M39 57h1M39 58h1M39 59h1M39 60h1M39 61h1M39 62h1M39 63h1M39 64h1M39 65h1M39 95h1M39 96h1M5 100h1M38 100h1M7 101h1M9 102h1M10 103h1M12 104h1M36 104h1M14 105h2M35 105h1M17 106h1M34 106h1M20 107h1M33 107h1M22 108h2M29 108h3M25 109h3"/><path stroke="#218e8d" d="M23 9h9M21 10h1M32 10h2M18 11h2M34 11h1M16 12h2M35 12h1M13 13h2M36 13h1M11 14h1M9 15h1M37 15h1M7 16h1M6 17h1M38 17h1M0 18h5M39 20h1M39 21h1M39 48h1M39 49h1M39 50h1M39 51h1M39 52h1M39 53h1M39 66h1M39 67h1M39 68h1M39 91h1M39 92h1M39 93h1M39 94h1M0 99h5M38 99h1M6 100h1M8 101h1M10 102h1M37 102h1M11 103h1M36 103h1M13 104h2M35 104h1M16 105h1M34 105h1M18 106h2M33 106h1M21 107h2M30 107h3M24 108h5"/><path stroke="#21908d" d="M22 10h3M28 10h4M20 11h2M32 11h2M18 12h1M34 12h1M15 13h2M35 13h1M12 14h2M36 14h1M10 15h1M8 16h1M37 16h1M7 17h1M5 18h1M38 18h1M39 22h1M39 41h1M39 42h1M39 43h1M39 44h1M39 45h1M39 46h1M39 47h1M39 69h1M39 70h1M39 71h1M39 72h1M39 88h1M39 89h1M39 90h1M38 98h1M5 99h1M7 100h1M9 101h1M37 101h1M11 102h1M12 103h2M15 104h1M17 105h2M33 105h1M20 106h2M31 106h2M23 107h7"/><path stroke="#20928c" d="M25 10h3M22 11h2M29 11h3M19 12h2M32 12h2M17 13h2M34 13h1M14 14h2M35 14h1M11 15h1M36 15h1M9 16h1M8 17h1M37 17h1M6 18h1M0 19h6M38 19h1M39 23h1M39 24h1M39 25h1M39 35h1M39 36h1M39 37h1M39 38h1M39 39h1M39 40h1M39 73h1M39 74h1M39 75h1M39 76h1M39 77h1M39 78h1M39 79h1M39 80h1M39 81h1M39 82h1M39 83h1M39 84h1M39 85h1M39 86h1M39 87h1M38 96h1M38 97h1M0 98h6M6 99h1M8 100h1M37 100h1M10 101h1M12 102h1M36 102h1M14 103h1M35 103h1M16 104h1M34 104h1M19 105h2M32 105h1M22 106h3M27 106h4"/><path stroke="#20938c" d="M24 11h5M21 12h2M29 12h3M19 13h2M33 13h1M16 14h2M34 14h1M12 15h2M35 15h1M10 16h2M36 16h1M9 17h1M7 18h1M6 19h1M0 20h5M38 20h1M39 26h1M39 27h1M39 28h1M39 29h1M39 30h1M39 31h1M39 32h1M39 33h1M39 34h1M38 95h1M0 97h5M6 98h1M7 99h2M37 99h1M9 100h1M11 101h1M36 101h1M13 102h1M35 102h1M15 103h1M34 103h1M17 104h2M33 104h1M21 105h2M29 105h3M25 106h2"/><path stroke="#1f958b" d="M23 12h6M21 13h2M30 13h3M18 14h2M33 14h1M14 15h2M34 15h1M12 16h1M10 17h1M36 17h1M8 18h1M37 18h1M7 19h1M5 20h1M38 21h1M38 22h1M38 93h1M38 94h1M5 97h1M7 98h1M37 98h1M9 99h1M10 100h1M36 100h1M12 101h1M14 102h1M16 103h1M19 104h2M32 104h1M23 105h6"/><path stroke="#1f978b" d="M23 13h7M20 14h2M31 14h2M16 15h2M13 16h2M35 16h1M11 17h1M9 18h1M8 19h1M37 19h1M6 20h1M0 21h5M38 23h1M38 92h1M0 96h5M6 97h1M37 97h1M8 98h1M11 100h1M13 101h1M35 101h1M15 102h1M34 102h1M17 103h2M33 103h1M21 104h2M29 104h3"/><path stroke="#1f998a" d="M22 14h2M28 14h3M18 15h2M33 15h1M15 16h2M34 16h1M12 17h2M35 17h1M10 18h1M36 18h1M9 19h1M7 20h1M37 20h1M5 21h2M38 24h1M38 56h1M38 57h1M38 58h1M38 59h1M38 60h1M38 61h1M38 62h1M38 63h1M38 90h1M38 91h1M5 96h1M37 96h1M7 97h1M9 98h1M10 99h1M36 99h1M12 100h1M35 100h1M14 101h1M16 102h1M19 103h1M32 103h1M23 104h6"/><path stroke="#1e9b8a" d="M24 14h4M20 15h2M31 15h2M17 16h2M33 16h1M14 17h2M11 18h2M10 19h1M36 19h1M8 20h1M7 21h1M37 21h1M0 22h6M38 25h1M38 26h1M38 27h1M38 53h1M38 54h1M38 55h1M38 64h1M38 65h1M38 66h1M38 88h1M38 89h1M0 95h5M37 95h1M6 96h1M8 97h1M10 98h1M36 98h1M11 99h1M13 100h1M15 101h1M34 101h1M17 102h1M33 102h1M20 103h2M30 103h2"/><path stroke="#1e9d89" d="M22 15h2M27 15h4M19 16h1M32 16h1M16 17h1M34 17h1M13 18h1M35 18h1M11 19h1M9 20h1M36 20h1M8 21h1M6 22h1M37 22h1M0 23h5M38 28h1M38 29h1M38 30h1M38 31h1M38 50h1M38 51h1M38 52h1M38 67h1M38 68h1M38 86h1M38 87h1M37 94h1M5 95h2M7 96h1M9 97h1M36 97h1M11 98h1M12 99h1M35 99h1M14 100h1M34 100h1M16 101h1M33 101h1M18 102h2M32 102h1M22 103h2M27 103h3"/><path stroke="#1f9f88" d="M24 15h3M20 16h2M31 16h1M17 17h2M33 17h1M14 18h2M34 18h1M12 19h1M35 19h1M10 20h1M9 21h1M7 22h1M5 23h1M37 23h1M38 32h1M38 33h1M38 34h1M38 35h1M38 45h1M38 46h1M38 47h1M38 48h1M38 49h1M38 69h1M38 84h1M38 85h1M37 93h1M0 94h6M7 95h1M8 96h1M36 96h1M10 97h1M12 98h1M35 98h1M13 99h1M15 100h1M17 101h1M20 102h1M30 102h2M24 103h3"/><path stroke="#1fa188" d="M22 16h2M27 16h4M19 17h1M32 17h1M16 18h2M13 19h2M11 20h2M10 21h1M36 21h1M8 22h1M6 23h1M0 24h6M37 24h1M38 36h1M38 37h1M38 38h1M38 39h1M38 40h1M38 41h1M38 42h1M38 43h1M38 44h1M38 70h1M38 71h1M38 79h1M38 80h1M38 81h1M38 82h1M38 83h1M37 91h1M37 92h1M0 93h5M6 94h1M8 95h1M9 96h1M11 97h1M13 98h1M14 99h1M34 99h1M16 100h1M33 100h1M18 101h2M32 101h1M21 102h2M28 102h2"/><path stroke="#1fa287" d="M24 16h3M20 17h2M31 17h1M18 18h1M33 18h1M15 19h1M34 19h1M13 20h1M35 20h1M11 21h1M9 22h1M36 22h1M7 23h2M6 24h1M0 25h5M37 25h1M37 26h1M38 72h1M38 73h1M38 74h1M38 75h1M38 76h1M38 77h1M38 78h1M37 90h1M5 93h1M7 94h1M9 95h1M36 95h1M10 96h1M12 97h1M35 97h1M15 99h1M17 100h1M20 101h1M31 101h1M23 102h5"/><path stroke="#20a486" d="M22 17h2M28 17h3M19 18h1M32 18h1M16 19h2M14 20h1M12 21h1M35 21h1M10 22h1M9 23h1M36 23h1M7 24h1M5 25h1M0 26h5M37 27h1M37 28h1M37 89h1M0 92h6M6 93h2M8 94h1M36 94h1M10 95h1M11 96h1M35 96h1M13 97h1M14 98h1M34 98h1M16 99h1M33 99h1M18 100h1M32 100h1M21 101h1M29 101h2"/><path stroke="#21a685" d="M24 17h4M20 18h2M31 18h1M18 19h1M33 19h1M15 20h2M34 20h1M13 21h2M11 22h2M35 22h1M10 23h1M8 24h1M36 24h1M6 25h2M5 26h1M37 29h1M37 30h1M37 55h1M37 56h1M37 57h1M37 58h1M37 59h1M37 60h1M37 61h1M37 62h1M37 63h1M37 64h1M37 88h1M0 91h5M6 92h1M8 93h1M36 93h1M9 94h1M11 95h1M12 96h1M14 97h1M34 97h1M15 98h1M17 99h1M19 100h2M31 100h1M22 101h2M26 101h3"/><path stroke="#22a884" d="M22 18h2M28 18h3M19 19h2M32 19h1M17 20h1M15 21h1M34 21h1M13 22h1M11 23h1M9 24h1M8 25h1M36 25h1M6 26h1M0 27h6M37 31h1M37 54h1M37 65h1M37 87h1M5 91h1M7 92h1M36 92h1M9 93h1M10 94h1M12 95h1M35 95h1M13 96h1M16 98h1M33 98h1M18 99h1M32 99h1M21 100h1M29 100h2M24 101h2"/><path stroke="#24aa83" d="M24 18h4M21 19h1M31 19h1M18 20h1M33 20h1M16 21h1M14 22h1M12 23h1M35 23h1M10 24h1M9 25h1M7 26h1M36 26h1M6 27h1M0 28h6M37 32h1M37 33h1M37 52h1M37 53h1M37 66h1M37 67h1M37 86h1M0 90h6M6 91h2M36 91h1M8 92h1M10 93h1M11 94h1M35 94h1M14 96h1M34 96h1M15 97h1M17 98h1M19 99h1M31 99h1M22 100h1M27 100h2"/><path stroke="#25ac82" d="M22 19h1M29 19h2M19 20h2M32 20h1M17 21h1M33 21h1M15 22h1M34 22h1M13 23h1M11 24h2M35 24h1M10 25h1M8 26h2M7 27h1M36 27h1M6 28h1M0 29h5M37 34h1M37 50h1M37 51h1M37 68h1M37 85h1M0 89h5M6 90h1M36 90h1M8 91h1M9 92h1M11 93h1M12 94h1M13 95h1M16 97h1M33 97h1M18 98h1M32 98h1M20 99h1M30 99h1M23 100h4"/><path stroke="#27ad81" d="M23 19h6M21 20h1M31 20h1M18 21h1M16 22h1M14 23h1M13 24h1M11 25h1M10 26h1M8 27h1M7 28h1M36 28h1M5 29h2M0 30h5M37 35h1M37 36h1M37 37h1M37 49h1M37 69h1M37 83h1M37 84h1M5 89h2M36 89h1M7 90h1M9 91h1M10 92h1M35 93h1M13 94h1M14 95h1M34 95h1M15 96h1M17 97h1M19 98h1M31 98h1M21 99h2M28 99h2"/><path stroke="#29af7f" d="M22 20h1M29 20h2M19 21h1M32 21h1M17 22h2M33 22h1M15 23h2M34 23h1M14 24h1M12 25h1M35 25h1M11 26h1M9 27h1M8 28h1M7 29h1M36 29h1M5 30h1M0 31h5M37 38h1M37 39h1M37 40h1M37 41h1M37 46h1M37 47h1M37 48h1M36 59h1M36 60h1M37 70h1M37 81h1M37 82h1M0 88h6M7 89h1M8 90h1M10 91h1M11 92h1M35 92h1M12 93h1M34 94h1M15 95h1M16 96h1M33 96h1M18 97h1M32 97h1M20 98h1M30 98h1M23 99h1M26 99h2"/><path stroke="#2cb17e" d="M23 20h2M27 20h2M20 21h2M31 21h1M19 22h1M17 23h1M15 24h1M34 24h1M13 25h1M12 26h1M35 26h1M10 27h2M9 28h1M8 29h1M6 30h2M36 30h1M5 31h1M0 32h5M37 42h1M37 43h1M37 44h1M37 45h1M36 56h1M36 57h1M36 58h1M36 61h1M36 62h1M36 63h1M37 71h1M37 79h1M37 80h1M0 87h5M6 88h1M36 88h1M8 89h1M9 90h1M11 91h1M35 91h1M12 92h1M13 93h1M14 94h1M33 95h1M17 96h1M19 97h1M31 97h1M21 98h1M29 98h1M24 99h2"/><path stroke="#2eb37c" d="M25 20h2M22 21h1M30 21h1M32 22h1M18 23h1M33 23h1M16 24h1M14 25h1M13 26h1M12 27h1M35 27h1M10 28h1M9 29h1M8 30h1M6 31h1M36 31h1M5 32h1M36 54h1M36 55h1M36 64h1M36 65h1M37 72h1M37 73h1M37 77h1M37 78h1M0 86h5M5 87h2M36 87h1M7 88h1M9 89h1M10 90h1M12 91h1M13 92h1M14 93h1M34 93h1M15 94h1M16 95h1M18 96h1M32 96h1M20 97h1M30 97h1M22 98h1M27 98h2"/><path stroke="#31b57b" d="M23 21h1M27 21h3M20 22h2M31 22h1M19 23h1M17 24h1M15 25h2M34 25h1M14 26h1M13 27h1M11 28h2M35 28h1M10 29h1M9 30h1M7 31h2M6 32h1M36 32h1M0 33h6M36 53h1M36 66h1M37 74h1M37 75h1M37 76h1M5 86h1M36 86h1M7 87h1M8 88h2M10 89h1M11 90h1M35 90h1M14 92h1M15 93h1M16 94h1M33 94h1M17 95h1M19 96h1M31 96h1M21 97h1M29 97h1M23 98h4"/><path stroke="#34b679" d="M24 21h3M22 22h1M30 22h1M20 23h1M32 23h1M18 24h1M33 24h1M17 25h1M15 26h1M34 26h1M14 27h1M13 28h1M11 29h1M35 29h1M10 30h1M9 31h1M7 32h2M6 33h1M36 33h1M0 34h6M36 51h1M36 52h1M36 67h1M0 85h6M6 86h2M8 87h1M10 88h1M11 89h1M35 89h1M12 90h1M13 91h1M34 92h1M16 93h1M17 94h1M18 95h1M32 95h1M20 96h1M22 97h1M28 97h1"/><path stroke="#37b878" d="M23 22h1M28 22h2M21 23h1M31 23h1M19 24h1M18 25h1M33 25h1M16 26h1M15 27h1M34 27h1M14 28h1M12 29h2M11 30h1M35 30h1M10 31h1M9 32h1M7 33h2M6 34h2M36 34h1M0 35h6M36 50h1M35 57h1M35 58h1M35 59h1M35 60h1M35 61h1M35 62h1M36 68h1M0 84h6M6 85h1M36 85h1M8 86h1M9 87h2M11 88h1M12 89h1M13 90h1M14 91h1M34 91h1M15 92h1M33 93h1M18 94h1M19 95h1M31 95h1M21 96h1M29 96h2M23 97h1M26 97h2"/><path stroke="#3aba76" d="M24 22h4M22 23h1M30 23h1M20 24h1M32 24h1M19 25h1M17 26h1M16 27h1M15 28h1M14 29h1M12 30h2M11 31h1M35 31h1M10 32h1M9 33h1M8 34h1M6 35h2M36 35h1M0 36h6M36 36h1M36 49h1M35 55h1M35 56h1M35 63h1M35 64h1M36 69h1M0 83h6M36 83h1M6 84h1M36 84h1M7 85h2M9 86h1M11 87h1M12 88h1M35 88h1M13 89h1M14 90h1M15 91h1M16 92h1M17 93h1M32 94h1M20 95h1M28 96h1M24 97h2"/><path stroke="#3dbc74" d="M23 23h1M28 23h2M21 24h1M31 24h1M18 26h1M33 26h1M17 27h1M16 28h1M34 28h1M15 29h1M14 30h1M12 31h1M11 32h1M10 33h1M9 34h1M8 35h1M6 36h2M0 37h6M36 37h1M0 38h5M36 38h1M36 47h1M36 48h1M35 53h1M35 54h1M35 65h1M35 66h1M36 70h1M0 82h6M36 82h1M6 83h1M7 84h2M9 85h1M10 86h1M12 87h1M35 87h1M13 88h1M14 89h1M15 90h1M34 90h1M16 91h1M17 92h1M33 92h1M18 93h1M19 94h1M21 95h1M30 95h1M22 96h1M27 96h1"/><path stroke="#40bd72" d="M24 23h4M22 24h1M30 24h1M20 25h1M32 25h1M19 26h1M18 27h1M33 27h1M17 28h1M16 29h1M34 29h1M15 30h1M13 31h2M12 32h1M35 32h1M11 33h1M10 34h1M9 35h1M8 36h1M6 37h2M5 38h1M0 39h5M36 39h1M36 40h1M36 45h1M36 46h1M35 52h1M36 71h1M0 81h6M36 81h1M6 82h1M7 83h2M9 84h1M10 85h1M11 86h1M13 87h1M14 88h1M15 89h1M16 90h1M17 91h1M18 92h1M19 93h1M32 93h1M20 94h1M31 94h1M29 95h1M23 96h4"/><path stroke="#44bf70" d="M29 24h1M21 25h1M31 25h1M20 26h1M32 26h1M19 27h1M18 28h1M17 29h1M16 30h1M15 31h1M13 32h1M12 33h1M35 33h1M11 34h1M10 35h1M9 36h1M8 37h1M6 38h2M5 39h1M0 40h5M36 41h1M36 42h1M36 43h1M36 44h1M35 51h1M34 57h1M34 58h1M34 59h1M34 60h1M34 61h1M34 62h1M35 67h1M36 72h1M36 79h1M0 80h6M36 80h1M6 81h1M7 82h2M9 83h1M10 84h1M11 85h1M12 86h1M35 86h1M15 88h1M16 89h1M34 89h1M17 90h1M18 91h1M33 91h1M21 94h1M30 94h1M22 95h1M28 95h1"/><path stroke="#48c16e" d="M23 24h1M27 24h2M22 25h1M30 25h1M19 28h1M33 28h1M18 29h1M17 30h1M34 30h1M16 31h1M14 32h1M13 33h1M12 34h1M11 35h1M10 36h1M9 37h1M8 38h1M6 39h2M5 40h1M0 41h5M34 55h1M34 56h1M34 63h1M34 64h1M35 68h1M36 73h1M36 74h1M36 77h1M36 78h1M0 79h6M6 80h1M7 81h2M9 82h1M10 83h1M11 84h1M12 85h1M13 86h1M14 87h1M19 92h1M32 92h1M20 93h1M31 93h1M29 94h1M23 95h1M27 95h1"/><path stroke="#4cc26c" d="M24 24h3M29 25h1M21 26h1M31 26h1M20 27h1M32 27h1M34 31h1M15 32h1M14 33h1M13 34h1M35 34h1M12 35h1M11 36h1M10 37h1M9 38h1M8 39h1M6 40h2M5 41h1M0 42h5M35 50h1M34 53h1M34 54h1M34 65h1M35 69h1M36 75h1M36 76h1M0 78h6M6 79h1M7 80h2M9 81h1M10 82h1M11 83h1M12 84h1M13 85h1M35 85h1M14 86h1M15 87h1M16 88h1M34 88h1M17 89h1M18 90h1M33 90h1M19 91h1M20 92h1M21 93h1M22 94h1M24 95h3"/><path stroke="#50c46a" d="M23 25h1M28 25h1M21 27h1M20 28h1M19 29h1M33 29h1M18 30h1M17 31h1M16 32h1M15 33h1M14 34h1M13 35h1M35 35h1M12 36h1M11 37h1M10 38h1M9 39h1M8 40h1M6 41h2M5 42h1M0 43h5M35 49h1M34 66h1M0 77h6M6 78h1M7 79h2M9 80h1M10 81h1M11 82h1M12 83h1M13 84h1M35 84h1M14 85h1M15 86h1M16 87h1M17 88h1M18 89h1M19 90h1M30 93h1M23 94h1M28 94h1"/><path stroke="#54c568" d="M24 25h1M27 25h1M22 26h1M30 26h1M19 30h1M18 31h1M17 32h1M34 32h1M16 33h1M15 34h1M14 35h1M13 36h1M35 36h1M12 37h1M11 38h1M10 39h1M9 40h1M8 41h1M6 42h2M5 43h1M0 44h5M35 48h1M34 52h1M33 56h1M33 57h1M33 58h1M33 59h1M33 60h1M33 61h1M33 62h1M33 63h1M34 67h1M35 70h1M0 76h6M6 77h1M7 78h2M9 79h1M10 80h1M11 81h1M12 82h1M13 83h1M14 84h1M15 85h1M16 86h1M17 87h1M34 87h1M18 88h1M19 89h1M20 91h1M32 91h1M21 92h1M31 92h1M22 93h1M29 93h1M24 94h1M27 94h1"/><path stroke="#58c765" d="M25 25h2M23 26h1M29 26h1M31 27h1M21 28h1M32 28h1M20 29h1M33 30h1M19 31h1M18 32h1M17 33h1M16 34h1M15 35h1M14 36h1M13 37h1M35 37h1M12 38h1M11 39h1M10 40h1M9 41h1M8 42h1M6 43h2M5 44h2M0 45h5M35 47h1M34 51h1M33 54h1M33 55h1M33 64h1M33 65h1M34 68h1M35 71h1M0 74h5M0 75h6M6 76h1M7 77h2M9 78h1M10 79h1M11 80h1M12 81h1M13 82h1M14 83h1M35 83h1M15 84h1M16 85h1M17 86h1M18 87h1M33 89h1M20 90h1M25 94h2"/><path stroke="#5cc863" d="M28 26h1M22 27h1M20 30h1M18 33h1M34 33h1M17 34h1M16 35h1M15 36h1M14 37h1M13 38h1M35 38h1M12 39h1M11 40h1M10 41h2M9 42h1M8 43h1M7 44h1M5 45h2M0 46h5M35 46h1M34 50h1M33 53h1M33 66h1M0 73h5M5 74h1M6 75h2M7 76h2M9 77h1M10 78h1M11 79h1M12 80h1M13 81h1M14 82h1M35 82h1M15 83h1M16 84h1M17 85h1M34 86h1M19 88h1M20 89h1M32 90h1M21 91h1M22 92h1M30 92h1M23 93h1M28 93h1"/><path stroke="#60ca60" d="M24 26h1M27 26h1M30 27h1M22 28h1M21 29h1M32 29h1M20 31h1M19 32h1M18 34h1M17 35h1M16 36h1M15 37h1M14 38h1M13 39h1M35 39h1M12 40h1M35 40h1M10 42h2M9 43h1M8 44h1M7 45h1M35 45h1M5 46h2M0 47h6M33 52h1M32 57h1M32 58h1M32 59h1M32 60h1M32 61h1M32 62h1M33 67h1M34 69h1M0 72h5M35 72h1M5 73h2M6 74h2M8 75h1M9 76h1M10 77h1M11 78h1M12 79h1M13 80h1M14 81h1M35 81h1M15 82h1M16 83h1M17 84h1M18 86h1M19 87h1M33 88h1M21 90h1M31 91h1M24 93h1M27 93h1"/><path stroke="#65cb5e" d="M25 26h2M23 27h1M29 27h1M31 28h1M21 30h1M33 31h1M19 33h1M17 36h1M16 37h1M15 38h1M14 39h1M13 40h1M12 41h1M35 41h1M12 42h1M35 42h1M10 43h2M35 43h1M9 44h2M35 44h1M8 45h1M7 46h1M6 47h1M0 48h6M0 49h5M34 49h1M32 54h1M32 55h1M32 56h1M32 63h1M32 64h1M32 65h1M0 71h6M5 72h2M7 73h1M35 73h1M8 74h1M9 75h1M10 76h1M11 77h1M12 78h1M13 79h1M35 79h1M14 80h1M35 80h1M15 81h1M16 82h1M17 83h1M18 85h1M19 86h1M20 88h1M22 91h1M23 92h1M29 92h1M25 93h2"/><path stroke="#69cd5b" d="M24 27h1M22 29h1M20 32h1M19 34h1M34 34h1M18 35h1M17 37h1M16 38h1M15 39h1M14 40h1M13 41h1M12 43h1M11 44h1M9 45h2M8 46h2M7 47h1M6 48h1M34 48h1M5 49h1M0 50h5M33 51h1M32 53h1M32 66h1M33 68h1M0 69h5M0 70h6M34 70h1M6 71h1M7 72h1M8 73h1M9 74h1M35 74h1M10 75h1M35 75h1M11 76h1M12 77h1M35 77h1M13 78h1M35 78h1M14 79h1M15 80h1M16 81h1M17 82h1M18 84h1M19 85h1M34 85h1M20 87h1M21 89h1M32 89h1M30 91h1M28 92h1"/><path stroke="#6ece58" d="M28 27h1M23 28h1M30 28h1M32 30h1M21 31h1M33 32h1M20 33h1M19 35h1M18 36h1M18 37h1M17 38h1M16 39h1M15 40h1M14 41h1M13 42h1M12 44h1M11 45h1M10 46h1M8 47h2M7 48h2M6 49h2M5 50h2M33 50h1M0 51h6M0 52h5M32 52h1M31 56h1M31 57h1M31 58h1M31 59h1M31 60h1M31 61h1M31 62h1M31 63h1M32 67h1M0 68h6M5 69h2M6 70h2M7 71h2M8 72h2M9 73h2M10 74h1M11 75h1M12 76h1M35 76h1M13 77h1M14 78h1M15 79h1M16 80h1M17 81h1M18 83h1M19 84h1M20 86h1M33 87h1M21 88h1M22 90h1M31 90h1M23 91h1M24 92h1M27 92h1"/><path stroke="#73d056" d="M25 27h3M31 29h1M22 30h1M21 32h1M20 34h1M34 35h1M19 36h1M18 38h1M17 39h1M16 40h1M15 41h1M14 42h1M13 43h1M13 44h1M12 45h1M11 46h1M10 47h1M34 47h1M9 48h1M8 49h1M7 50h1M6 51h1M5 52h1M0 53h5M0 54h5M31 54h1M31 55h1M31 64h1M31 65h1M0 66h5M0 67h6M6 68h1M7 69h1M33 69h1M8 70h1M9 71h1M34 71h1M10 72h1M11 73h1M11 74h1M12 75h1M13 76h1M14 77h1M15 78h1M16 79h1M17 80h1M18 82h1M19 83h1M34 84h1M20 85h1M29 91h1M25 92h2"/><path stroke="#77d153" d="M24 28h1M29 28h1M23 29h1M21 33h1M20 35h1M34 36h1M19 37h1M18 39h1M17 40h1M16 41h1M15 42h1M14 43h1M13 45h1M12 46h1M11 47h1M10 48h1M9 49h1M33 49h1M8 50h2M7 51h2M32 51h1M6 52h2M5 53h2M31 53h1M5 54h1M0 55h6M0 56h5M30 56h1M30 57h1M30 58h1M30 59h1M30 60h1M30 61h1M30 62h1M0 63h5M30 63h1M0 64h6M0 65h6M5 66h2M31 66h1M6 67h1M7 68h1M32 68h1M8 69h1M9 70h1M10 71h1M11 72h1M12 73h1M12 74h1M13 75h1M14 76h1M15 77h1M16 78h1M17 79h1M18 80h1M18 81h1M19 82h1M34 83h1M20 84h1M21 87h1M22 89h1"/><path stroke="#7cd250" d="M28 28h1M30 29h1M22 31h1M32 31h1M33 33h1M20 36h1M19 38h1M19 39h1M18 40h1M17 41h1M16 42h1M15 43h1M14 44h1M13 46h1M34 46h1M12 47h1M11 48h1M10 49h2M10 50h1M32 50h1M9 51h1M8 52h1M31 52h1M7 53h1M6 54h2M30 54h1M6 55h1M30 55h1M5 56h2M0 57h6M0 58h6M0 59h5M0 60h5M0 61h5M0 62h6M5 63h1M6 64h1M30 64h1M6 65h2M30 65h1M7 66h1M7 67h2M31 67h1M8 68h2M9 69h2M10 70h1M33 70h1M11 71h1M12 72h1M34 72h1M13 74h1M14 75h1M15 76h1M16 77h1M17 78h1M18 79h1M19 81h1M20 83h1M21 86h1M33 86h1M22 88h1M32 88h1M31 89h1M23 90h1M30 90h1M24 91h1M28 91h1"/><path stroke="#81d34d" d="M25 28h3M23 30h1M31 30h1M22 32h1M21 34h1M20 37h1M34 37h1M20 38h1M19 40h1M18 41h1M17 42h1M16 43h1M15 44h1M14 45h1M34 45h1M14 46h1M13 47h1M12 48h1M33 48h1M12 49h1M11 50h1M10 51h1M31 51h1M9 52h1M30 52h1M8 53h2M30 53h1M8 54h1M7 55h2M7 56h1M29 56h1M6 57h2M29 57h1M6 58h1M29 58h1M5 59h2M29 59h1M5 60h2M29 60h1M5 61h2M29 61h1M6 62h1M29 62h1M6 63h2M29 63h1M7 64h1M8 65h1M8 66h1M30 66h1M9 67h1M30 67h1M10 68h1M31 68h1M11 69h1M32 69h1M11 70h1M12 71h1M13 72h1M13 73h1M34 73h1M14 74h1M15 75h1M16 76h1M17 77h1M18 78h1M19 79h1M19 80h1M20 81h1M20 82h1M34 82h1M21 85h1M25 91h1M27 91h1"/><path stroke="#86d549" d="M24 29h1M29 29h1M21 35h1M21 36h1M34 38h1M20 39h1M20 40h1M19 41h1M18 42h1M17 43h1M16 44h1M34 44h1M15 45h1M15 46h1M14 47h1M13 48h1M32 49h1M12 50h1M31 50h1M11 51h1M30 51h1M10 52h1M10 53h1M29 53h1M9 54h1M29 54h1M9 55h1M29 55h1M8 56h1M8 57h1M7 58h1M7 59h1M7 60h1M7 61h1M7 62h2M8 63h1M8 64h2M29 64h1M9 65h1M29 65h1M9 66h2M29 66h1M10 67h1M11 68h1M30 68h1M12 69h1M12 70h1M13 71h1M33 71h1M14 72h1M14 73h1M15 74h1M16 75h1M17 76h1M18 77h1M19 78h1M20 80h1M34 81h1M21 83h1M21 84h1M22 87h1M23 89h1M24 90h1M29 90h1M26 91h1"/><path stroke="#8bd646" d="M23 31h1M32 32h1M22 33h1M33 34h1M21 37h1M21 38h1M21 39h1M34 39h1M34 40h1M20 41h1M19 42h1M18 43h1M34 43h1M17 44h1M16 45h1M15 47h1M33 47h1M14 48h1M13 49h1M13 50h1M12 51h1M29 51h1M11 52h1M29 52h1M11 53h1M10 54h1M10 55h1M28 55h1M9 56h2M28 56h1M9 57h1M28 57h1M8 58h2M28 58h1M8 59h1M28 59h1M8 60h1M28 60h1M8 61h2M28 61h1M9 62h1M28 62h1M9 63h2M28 63h1M10 64h1M28 64h1M10 65h1M11 66h1M11 67h1M29 67h1M12 68h1M13 69h1M31 69h1M13 70h1M32 70h1M14 71h1M15 72h1M15 73h1M16 74h1M34 74h1M17 75h1M18 76h1M19 77h1M20 78h1M20 79h1M34 80h1M21 81h1M21 82h1M33 85h1M22 86h1M32 87h1"/><path stroke="#90d743" d="M25 29h1M28 29h1M24 30h1M30 30h1M22 34h1M21 40h1M21 41h1M34 41h1M20 42h1M34 42h1M19 43h1M18 44h2M17 45h1M16 46h1M16 47h1M15 48h1M14 49h1M31 49h1M14 50h1M29 50h2M13 51h1M12 52h1M28 52h1M12 53h1M28 53h1M11 54h1M28 54h1M11 55h1M11 56h1M10 57h1M10 58h1M9 59h2M9 60h2M10 61h1M10 62h1M11 63h1M11 64h1M11 65h1M28 65h1M12 66h1M28 66h1M12 67h1M28 67h1M13 68h1M29 68h1M30 69h1M14 70h1M15 71h1M33 72h1M16 73h1M17 74h1M18 75h1M34 75h1M19 76h1M20 77h1M21 79h1M34 79h1M21 80h1M22 85h1M23 88h1M31 88h1M30 89h1M25 90h1M28 90h1"/><path stroke="#95d840" d="M26 29h2M31 31h1M23 32h1M22 35h1M22 36h1M22 37h1M22 38h1M21 42h1M20 43h2M20 44h1M18 45h2M17 46h2M33 46h1M17 47h1M16 48h1M32 48h1M15 49h1M30 49h1M15 50h1M28 50h1M14 51h1M28 51h1M13 52h1M13 53h1M12 54h1M27 54h1M12 55h1M27 55h1M12 56h1M27 56h1M11 57h1M27 57h1M11 58h1M27 58h1M11 59h1M27 59h1M11 60h1M27 60h1M11 61h1M27 61h1M11 62h1M27 62h1M12 63h1M27 63h1M12 64h1M27 64h1M12 65h1M27 65h1M13 66h1M13 67h1M14 68h1M28 68h1M14 69h1M28 69h2M15 70h1M31 70h1M16 71h1M32 71h1M16 72h2M17 73h1M18 74h2M19 75h2M20 76h1M34 76h1M21 77h1M34 77h1M21 78h1M34 78h1M22 83h1M22 84h1M23 87h1M24 89h1M26 90h2"/><path stroke="#9bd93c" d="M29 30h1M33 35h1M22 39h1M22 40h1M22 41h1M22 42h1M21 44h1M20 45h1M19 46h1M18 47h1M17 48h1M16 49h1M28 49h2M27 50h1M15 51h1M27 51h1M14 52h1M27 52h1M14 53h1M27 53h1M13 54h1M13 55h1M13 56h1M12 57h2M12 58h1M12 59h1M12 60h1M12 61h1M12 62h1M13 63h1M13 64h1M13 65h1M14 66h1M27 66h1M14 67h1M27 67h1M15 68h1M27 68h1M15 69h1M27 69h1M16 70h1M28 70h3M17 71h1M18 72h1M18 73h2M20 74h1M21 75h1M21 76h1M22 77h1M22 78h1M22 79h1M22 80h1M22 81h1M22 82h1M33 84h1M29 89h1"/><path stroke="#a0da39" d="M25 30h1M24 31h1M23 33h1M32 33h1M22 43h1M22 44h1M21 45h2M33 45h1M20 46h2M19 47h2M32 47h1M18 48h2M28 48h4M17 49h2M27 49h1M16 50h2M16 51h1M26 51h1M15 52h1M26 52h1M15 53h1M26 53h1M14 54h1M26 54h1M14 55h1M26 55h1M14 56h1M26 56h1M14 57h1M26 57h1M13 58h1M26 58h1M13 59h1M26 59h1M13 60h1M26 60h1M13 61h1M26 61h1M13 62h1M26 62h1M14 63h1M26 63h1M14 64h1M26 64h1M14 65h1M26 65h1M15 66h1M26 66h1M15 67h1M26 67h1M16 68h1M26 68h1M16 69h1M17 70h1M27 70h1M18 71h2M31 71h1M19 72h2M20 73h2M33 73h1M21 74h1M22 75h1M22 76h1M23 86h1M32 86h1M24 88h1M25 89h1"/><path stroke="#a5db36" d="M28 30h1M30 31h1M31 32h1M23 34h1M33 36h1M23 39h1M23 40h1M23 41h1M23 42h1M23 43h1M23 44h1M23 45h1M22 46h2M21 47h2M20 48h3M26 48h2M19 49h3M26 49h1M18 50h2M26 50h1M17 51h1M16 52h1M16 53h1M15 54h1M15 55h1M15 56h1M15 57h1M14 58h1M14 59h1M14 60h1M14 61h1M14 62h1M15 63h1M15 64h1M15 65h1M16 66h1M16 67h1M17 68h1M17 69h2M26 69h1M18 70h3M26 70h1M20 71h2M26 71h5M21 72h2M32 72h1M22 73h1M22 74h2M23 75h1M23 76h1M23 77h1M23 78h1M23 79h1M33 83h1M23 85h1M31 87h1M30 88h1M28 89h1"/><path stroke="#aadc32" d="M26 30h2M24 32h1M23 35h1M23 36h1M23 37h1M23 38h1M24 44h1M33 44h1M24 45h1M24 46h2M23 47h7M31 47h1M23 48h3M22 49h4M20 50h6M18 51h4M24 51h2M17 52h2M25 52h1M17 53h1M25 53h1M16 54h1M25 54h1M16 55h1M25 55h1M16 56h1M25 56h1M16 57h1M25 57h1M15 58h1M25 58h1M15 59h1M25 59h1M15 60h1M25 60h1M15 61h1M25 61h1M15 62h2M25 62h1M16 63h1M25 63h1M16 64h1M25 64h1M16 65h1M25 65h1M17 66h1M25 66h1M17 67h2M25 67h1M18 68h3M24 68h2M19 69h7M21 70h5M22 71h4M23 72h6M23 73h2M24 74h1M33 74h1M24 75h1M23 80h1M23 81h1M23 82h1M23 83h1M23 84h1M24 87h1M26 89h2"/><path stroke="#b0dd2f" d="M25 31h1M32 34h1M33 37h1M24 42h1M24 43h1M25 44h1M25 45h1M26 46h2M32 46h1M30 47h1M22 51h2M19 52h6M18 53h7M17 54h8M17 55h8M17 56h2M21 56h4M17 57h1M22 57h3M16 58h2M22 58h3M16 59h2M23 59h2M16 60h2M23 60h2M16 61h2M22 61h3M17 62h1M22 62h3M17 63h2M21 63h4M17 64h8M17 65h8M18 66h7M19 67h6M21 68h3M29 72h3M25 73h3M25 74h1M24 76h1M24 77h1M33 82h1M25 88h1"/><path stroke="#b5de2b" d="M29 31h1M24 33h1M33 38h1M24 40h1M24 41h1M25 43h1M33 43h1M26 45h2M28 46h1M19 56h2M18 57h4M18 58h4M18 59h5M18 60h5M18 61h4M18 62h4M19 63h2M28 73h1M32 73h1M26 74h1M25 75h1M33 75h1M25 76h1M24 78h1M24 79h1M33 81h1M32 85h1M24 86h1M29 88h1"/><path stroke="#bade28" d="M26 31h1M28 31h1M30 32h1M24 34h1M24 38h1M24 39h1M33 39h1M33 40h1M33 41h1M25 42h1M33 42h1M26 44h1M32 45h1M29 46h3M29 73h1M27 74h1M26 75h1M33 76h1M25 77h1M24 80h1M33 80h1M30 87h1M26 88h1M28 88h1"/><path stroke="#c0df25" d="M27 31h1M25 32h1M31 33h1M24 35h1M24 36h1M24 37h1M25 41h1M26 43h1M27 44h1M28 45h1M30 73h2M28 74h1M32 74h1M26 76h1M33 77h1M25 78h1M33 78h1M33 79h1M24 81h1M24 82h1M24 84h1M24 85h1M31 86h1M25 87h1M27 88h1"/><path stroke="#c5e021" d="M32 35h1M29 45h1M27 75h1M24 83h1M32 84h1"/><path stroke="#cae11f" d="M26 32h1M29 32h1M25 33h1M25 40h1M26 42h1M27 43h1M28 44h1M32 44h1M30 45h2M29 74h1M26 77h1M25 79h1M25 86h1M29 87h1"/><path stroke="#d0e11c" d="M32 36h1M25 39h1M26 41h1M30 74h2M28 75h1M32 75h1M27 76h1M25 80h1M32 83h1M26 87h1"/><path stroke="#d5e21a" d="M27 32h2M30 33h1M25 34h1M31 34h1M25 38h1M32 43h1M29 44h1M26 78h1M25 81h1M25 85h1M31 85h1M30 86h1M27 87h2"/><path stroke="#dae319" d="M26 33h1M25 35h1M25 36h1M25 37h1M32 37h1M26 40h1M27 42h1M28 43h1M30 44h2M29 75h1M28 76h1M32 76h1M27 77h1M26 79h1M25 82h1M32 82h1M25 83h1M25 84h1"/><path stroke="#dfe318" d="M32 38h1M32 42h1M30 75h2M26 86h1"/><path stroke="#e5e419" d="M27 33h1M29 33h1M31 35h1M26 39h1M32 39h1M32 40h1M27 41h1M32 41h1M29 43h1M31 43h1M32 77h1M27 78h1M32 78h1M26 80h1M32 81h1M31 84h1M29 86h1"/><path stroke="#eae51a" d="M28 33h1M26 34h1M30 34h1M26 38h1M28 42h1M30 43h1M29 76h1M31 76h1M28 77h1M32 79h1M32 80h1M26 81h1M26 85h1M30 85h1M27 86h2"/><path stroke="#efe51c" d="M26 35h1M26 37h1M27 40h1M30 76h1M27 79h1M26 82h1M26 84h1"/><path stroke="#f4e61e" d="M27 34h1M26 36h1M31 36h1M28 41h1M29 42h1M31 42h1M26 83h1M31 83h1"/><path stroke="#f8e621" d="M28 34h2M27 39h1M30 42h1M29 77h1M31 77h1M28 78h1M27 80h1M27 85h1M29 85h1"/><path stroke="#fde725" d="M27 35h4M27 36h4M27 37h5M27 38h5M28 39h4M28 40h4M29 41h3M30 77h1M29 78h3M28 79h4M28 80h4M27 81h5M27 82h5M27 83h4M27 84h4M28 85h1"/></g></g><use href="#gl"/><g clip-path="url(#cp)"><path d="M524 526l12 69l2 20l1 16l-1 21l-4 29l-10 50M524 436l25 73l15 53l8 37l2 27l-1 25l-2 23l-4 24l-4 20l-11 38l-10 30l-7 15l-11 20M524 376l34 69l9 21l12 32l15 45l7 26l6 27l2 22l-1 46l-3 26l-8 36l-11 41l-9 23l-10 22l-12 21l-31 48M524 312l34 53l20 35l25 45l18 37l12 36l14 60l5 32l2 26l-2 33l-5 29l-10 39l-13 37l-15 31l-24 42l-29 49l-32 48M621 412l20 34l12 25l9 27l9 36l5 22l4 24l5 42l-1 36l-5 33l-15 58M524 252l45 58l27 37l30 46l13 24l12 23l17 41l20 58l6 23l10 44l1 11l1 14l-2 43l-2 18l-4 18l-10 38l-8 20l-9 20l-23 42l-41 63l-37 54l-46 57M647 344l26 31l14 19l13 20l11 22l11 23l9 26l7 29l8 35l5 35l2 34l1 31l-2 33l-4 32l-8 36l-6 17l-10 17M721 379l25 33l11 18l6 14l6 17l6 24l4 22l3 25l3 41l1 43l-1 39l-1 26l-4 35l-7 45l-5 21l-7 22M524 132l158 159l55 51l31 33l13 19l7 15l5 15l5 22l4 27l2 43l3 115l-1 70l-2 31l-3 28l-5 26l-6 23l-8 19l-8 15l-17 28l-31 43l-26 32l-52 61l-24 27l-23 23l-77 74M531 102l147 138l85 84l29 35l13 18l10 17l8 14l5 15l5 19l3 22l2 24l1 22l-8 121l0 28l6 90l0 34l-1 13l-3 13l-8 23l-14 25l-18 26l-17 22l-35 39l-33 35l-50 52l-134 132M851 412l7 35l3 24l-7 130l-2 46l2 39l6 45l2 32l0 16l-1 12l-7 23l-6 11l-7 13l-11 13l-26 30l-13 17l-18 25l-36 55M889 436l5 40l0 23l-2 20l-10 58l-5 31l-1 18l-1 32l1 23l2 22l11 52l2 14l1 14l-1 23M657 779l-26 55l-30 47M714 778l-51 87l-27 45l-13 19l-32 42l-67 93M732 831l-15 29l-11 18l-17 21l-42 49M606 984l-35 37M647 973l-86 97l-13 14l-24 20M524 192l58 62l62 68M524 142l83 104l67 73l32 37M557 102l114 79M591 102l66 40l17 13l30 24M737 222l45 42l32 27l63 45l15 9l10 5l16 6l23 5l17 2l16 -1l10 -1l10 -3l37 -16M714 229l55 52l55 51l48 40l24 18l17 8l11 4l10 2l19 2l26 -2M951 104l11 5l12 2l82 -5M896 114l45 19l13 4l20 4l14 0l29 -5l44 -12l12 -5l26 -17M791 102l53 33l53 29l26 12l17 7l17 4l26 2l18 -1l26 -4l23 -6l17 -7l9 -7l8 -7l49 -55M932 217l33 9l19 1l22 -3l50 -12M694 102l197 130l32 24l11 5l20 6l22 4l16 1l26 -2l14 -4l10 -3l19 -10l8 -7l13 -12l34 -37l13 -17l9 -12l11 -23l14 -43M731 102l168 89M651 102l61 55l36 31l39 31l51 38l36 24l31 18l20 8l27 8l29 4l21 0l10 -1l13 -3l8 -2l12 -6l11 -8l11 -11l67 -81M876 371l31 38l14 15l8 7l13 10l10 5l9 0l10 -2l18 -10l21 -15l23 -25l16 -19l17 -24l16 -28l8 -19l11 -30M911 399l24 8l12 2l11 -1l21 -4M919 452l6 25l1 15l-2 19l-9 43M905 652l2 24l12 91M935 465l14 29l3 12l1 8l-2 12l-9 28l-8 34l-2 16l2 25l4 29l3 10l4 7l5 5l3 2l3 -2l4 -10M943 582l2 20l3 7l2 3l4 0l6 -4l6 -6l5 -6l4 -9l2 -13l1 -32l1 -9l10 -29M989 713l3 -74l4 -53l6 -54l3 -16l5 -14l12 -30l15 -31l13 -24l24 -40l12 -17l10 -12l33 -31M1029 792l-14 -39l-5 -18l-2 -13l-2 -32l1 -69M1075 865l-27 -108l-4 -20l-2 -15l-2 -40l-1 -50l2 -47l3 -39l3 -27l7 -32l5 -22l7 -19l11 -24l14 -29l24 -36l9 -18l15 -36l11 -34l6 -27l4 -30l1 -33l2 -80M1129 729l-5 -76l-1 -38l2 -39l6 -80M887 862l39 -54l31 -56l3 -9l2 -1l5 2l6 7l61 87l43 54M1109 854l-23 -104l-5 -28l-2 -26l-2 -33l-1 -49l1 -41l3 -32l8 -50l13 -59l11 -33l23 -67l30 -100l26 -100l4 -16l1 -17M1236 1163l-14 -90l-7 -32l-5 -19l-9 -27l-25 -56l-30 -75l-12 -33l-9 -33l-10 -42l-5 -33l-3 -34l-1 -41l1 -58l2 -41l6 -42l8 -41l13 -50l29 -84l32 -108l24 -92l4 -16l1 -17M1254 1163l-24 -121l-8 -33l-29 -100l-9 -45l-9 -44l-8 -56l-4 -45l-2 -57l0 -66l2 -32l4 -40l6 -33l9 -42l9 -33l28 -84l30 -100l27 -100l3 -16l2 -17M1294 1163l-24 -121l-8 -33l-29 -100l-9 -45l-9 -44l-8 -56l-4 -45l-2 -57l0 -66l2 -32l4 -40l6 -33l9 -42l9 -33l28 -84l30 -100l27 -100l3 -16l2 -17M1331 1163l-24 -121l-9 -33l-28 -100l-10 -45l-8 -44l-8 -56l-4 -45l-2 -57l0 -66l1 -32l5 -40l5 -33l9 -42l9 -33l29 -84l30 -100l27 -100l3 -16l1 -17M1373 1163l-24 -121l-9 -33l-28 -100l-10 -45l-8 -44l-8 -56l-4 -45l-2 -57l0 -66l1 -32l5 -40l5 -33l9 -42l9 -33l29 -84l30 -100l27 -100l3 -16l1 -17M1411 1163l-24 -121l-9 -33l-28 -100l-10 -45l-8 -44l-8 -56l-4 -45l-2 -57l0 -66l1 -32l5 -40l5 -33l9 -42l9 -33l29 -84l30 -100l27 -100l3 -16l1 -17M1451 1163l-24 -121l-9 -33l-28 -100l-10 -45l-8 -44l-8 -56l-4 -45l-2 -57l0 -66l1 -32l5 -40l5 -33l9 -42l9 -33l29 -84l30 -100l27 -100l3 -16l1 -17M1487 1163l-24 -121l-8 -33l-28 -100l-10 -45l-8 -44l-8 -56l-4 -45l-3 -57l0 -66l2 -32l4 -40l6 -33l9 -42l9 -33l29 -84l30 -100l26 -100l4 -16l1 -17M1517 1163l-24 -121l-8 -33l-28 -100l-10 -45l-8 -44l-8 -56l-4 -45l-3 -57l0 -66l2 -32l4 -40l6 -33l9 -42l9 -33l29 -84l30 -100l26 -100l4 -16l1 -17M1574 1163l-24 -121l-8 -33l-29 -100l-9 -45l-9 -44l-8 -56l-4 -45l-2 -57l0 -66l2 -32l4 -40l6 -33l9 -42l9 -33l28 -84l30 -100l27 -100l3 -16l2 -17M1636 1163l-24 -121l-8 -33l-29 -100l-9 -45l-9 -44l-8 -56l-4 -45l-2 -57l0 -66l2 -32l4 -40l6 -33l9 -42l9 -33l28 -84l30 -100l27 -100l3 -16l2 -17M1664 1163l-24 -121l-8 -33l-29 -100l-9 -45l-9 -44l-8 -56l-4 -45l-2 -57l0 -66l2 -32l4 -40l6 -33l9 -42l9 -33l28 -84l30 -100l27 -100l3 -16l2 -17M1528 1053l-11 -44l-28 -100l-15 -67l-7 -44l-4 -34l-3 -34l-3 -46l-1 -43l0 -45l2 -32l4 -40l8 -42l9 -41l10 -34l14 -41M1613 1163l-17 -88l-10 -44l-31 -111l-11 -45l-12 -66l-5 -34l-3 -33M1124 631l-2 -43l1 -22l2 -22l6 -45M1223 631l0 -65l2 -37M1274 486l47 -170M1344 272l13 -53M1511 382l23 -56M792 1003l60 -73l32 -33l20 -19l13 -10l15 -7l12 -1l17 2l12 2l13 4l21 10l21 13l28 23l97 96l14 20l17 31M647 1163l77 -82l57 -62l26 -28l25 -22l64 -49l11 -6l16 -4l18 -3l20 -1l18 1l18 4l10 3l17 7M684 1163l49 -61l24 -28l35 -37l27 -25l15 -12l17 -11l53 -26l22 -10l19 -6l21 -3l20 1l26 6l29 10l19 9l11 8l25 23M836 1054l60 -37l14 -8l20 -7l36 -8M724 1163l51 -70l11 -13l18 -20l12 -11l11 -8l14 -7l15 -4l17 -3l34 -1l10 0l33 5l17 -2l22 -7l48 -20l13 -4l11 0l8 3l6 4l15 20l15 16l26 30M764 1163l35 -36l15 -15l10 -8l16 -10l21 -11l17 -6l20 -4l15 0l49 2l22 -2l7 -2l13 -6l36 -23l11 -4l5 0l10 2l13 8l37 36l11 13l10 14l6 11l13 41M817 1163l35 -28l10 -6l12 -5l21 -4l48 -3l24 -4l24 -9l46 -22l13 -4l6 0l10 1l8 3l7 5l7 6l14 18l6 9l21 43M891 1163l32 -9l18 -3l21 -2l48 -2l36 -4l10 1l8 4l15 15M1056 864l13 24" fill="none" stroke="#f00" stroke-width="3.6" stroke-linejoin="round"/><use href="#ah" transform="translate(539,631) rotate(90)"/><use href="#ah" transform="translate(574,631) rotate(91)"/><use href="#ah" transform="translate(609,631) rotate(92)"/><use href="#ah" transform="translate(654,631) rotate(88)"/><use href="#ah" transform="translate(680,580) rotate(83)"/><use href="#ah" transform="translate(706,631) rotate(90)"/><use href="#ah" transform="translate(747,556) rotate(81)"/><use href="#ah" transform="translate(785,591) rotate(89)"/><use href="#ah" transform="translate(807,631) rotate(90)"/><use href="#ah" transform="translate(831,637) rotate(90)"/><use href="#ah" transform="translate(858,716) rotate(83)"/><use href="#ah" transform="translate(876,622) rotate(93)"/><use href="#ah" transform="translate(631,834) rotate(119)"/><use href="#ah" transform="translate(623,929) rotate(126)"/><use href="#ah" transform="translate(693,894) rotate(129)"/><use href="#ah" transform="translate(587,1004) rotate(134)"/><use href="#ah" transform="translate(584,1045) rotate(131)"/><use href="#ah" transform="translate(587,259) rotate(47)"/><use href="#ah" transform="translate(614,253) rotate(49)"/><use href="#ah" transform="translate(616,143) rotate(35)"/><use href="#ah" transform="translate(652,139) rotate(33)"/><use href="#ah" transform="translate(872,333) rotate(34)"/><use href="#ah" transform="translate(835,341) rotate(41)"/><use href="#ah" transform="translate(1004,109) rotate(-4)"/><use href="#ah" transform="translate(1002,139) rotate(-9)"/><use href="#ah" transform="translate(974,189) rotate(2)"/><use href="#ah" transform="translate(995,226) rotate(-8)"/><use href="#ah" transform="translate(949,265) rotate(16)"/><use href="#ah" transform="translate(822,150) rotate(28)"/><use href="#ah" transform="translate(888,289) rotate(31)"/><use href="#ah" transform="translate(1012,417) rotate(-43)"/><use href="#ah" transform="translate(924,506) rotate(99)"/><use href="#ah" transform="translate(909,688) rotate(83)"/><use href="#ah" transform="translate(944,546) rotate(108)"/><use href="#ah" transform="translate(973,593) rotate(-65)"/><use href="#ah" transform="translate(996,581) rotate(-84)"/><use href="#ah" transform="translate(1007,713) rotate(-94)"/><use href="#ah" transform="translate(1041,703) rotate(-93)"/><use href="#ah" transform="translate(1123,605) rotate(-89)"/><use href="#ah" transform="translate(1003,794) rotate(235)"/><use href="#ah" transform="translate(1093,466) rotate(-77)"/><use href="#ah" transform="translate(1106,631) rotate(-90)"/><use href="#ah" transform="translate(1161,622) rotate(-90)"/><use href="#ah" transform="translate(1201,622) rotate(-90)"/><use href="#ah" transform="translate(1237,622) rotate(-90)"/><use href="#ah" transform="translate(1279,622) rotate(-90)"/><use href="#ah" transform="translate(1317,622) rotate(-90)"/><use href="#ah" transform="translate(1357,622) rotate(-90)"/><use href="#ah" transform="translate(1394,622) rotate(-90)"/><use href="#ah" transform="translate(1424,622) rotate(-90)"/><use href="#ah" transform="translate(1481,622) rotate(-90)"/><use href="#ah" transform="translate(1543,622) rotate(-90)"/><use href="#ah" transform="translate(1571,622) rotate(-90)"/><use href="#ah" transform="translate(1458,707) rotate(-93)"/><use href="#ah" transform="translate(1561,942) rotate(-106)"/><use href="#ah" transform="translate(1123,615) rotate(-92)"/><use href="#ah" transform="translate(1223,620) rotate(-90)"/><use href="#ah" transform="translate(1297,399) rotate(-75)"/><use href="#ah" transform="translate(1352,240) rotate(-76)"/><use href="#ah" transform="translate(1530,336) rotate(-68)"/><use href="#ah" transform="translate(899,882) rotate(138)"/><use href="#ah" transform="translate(907,914) rotate(160)"/><use href="#ah" transform="translate(915,957) rotate(156)"/><use href="#ah" transform="translate(910,1009) rotate(156)"/><use href="#ah" transform="translate(846,1032) rotate(162)"/><use href="#ah" transform="translate(984,1073) rotate(167)"/><use href="#ah" transform="translate(999,1100) rotate(155)"/><use href="#ah" transform="translate(990,1148) rotate(178)"/></g>
<text x="598.0" y="57.4" font-size="58" font-style="italic" textLength="43.0" lengthAdjust="spacingAndGlyphs">B</text>
<text x="666.0" y="57.4" font-size="66" textLength="21.0" lengthAdjust="spacingAndGlyphs">(</text>
<text x="691.5" y="57.4" font-size="58" font-style="italic" textLength="32.0" lengthAdjust="spacingAndGlyphs">x</text>
<text x="742.0" y="57.4" font-size="58" textLength="45.0" lengthAdjust="spacingAndGlyphs">=</text>
<text x="803.6" y="57.4" font-size="58" font-style="italic" textLength="30.4" lengthAdjust="spacingAndGlyphs">y</text>
<text x="859.7" y="57.4" font-size="58" textLength="146.3" lengthAdjust="spacingAndGlyphs">plane</text>
<text x="1008.0" y="57.4" font-size="66" textLength="21.0" lengthAdjust="spacingAndGlyphs">)</text>
<text x="1060.0" y="57.4" font-size="58" textLength="245.0" lengthAdjust="spacingAndGlyphs">timestep</text>
<text x="1322.0" y="57.4" font-size="58" textLength="45.0" lengthAdjust="spacingAndGlyphs">=</text>
<text x="1385.0" y="57.4" font-size="58" textLength="131.0" lengthAdjust="spacingAndGlyphs">5000</text>
<rect x="524.7" y="99.7" width="1062.8" height="1062.6" fill="none" stroke="#000" stroke-width="5"/>
<path d="M526.8 1162.3v17.5M524.7 1160.2h-17.5M940.3 1162.3v17.5M524.7 746.7h-17.5M1353.8 1162.3v17.5M524.7 333.2h-17.5" stroke="#000" stroke-width="5" fill="none"/>
<text x="511.0" y="1245.0" font-size="58" textLength="31.5" lengthAdjust="spacingAndGlyphs">0</text>
<text x="449.5" y="1179.7" font-size="58" textLength="31.5" lengthAdjust="spacingAndGlyphs">0</text>
<text x="893.0" y="1245.0" font-size="58" textLength="94.5" lengthAdjust="spacingAndGlyphs">100</text>
<text x="386.5" y="766.2" font-size="58" textLength="94.5" lengthAdjust="spacingAndGlyphs">100</text>
<text x="1306.5" y="1245.0" font-size="58" textLength="94.5" lengthAdjust="spacingAndGlyphs">200</text>
<text x="386.5" y="352.7" font-size="58" textLength="94.5" lengthAdjust="spacingAndGlyphs">200</text>
<text x="661.5" y="1331.7" font-size="58" font-style="italic" textLength="28.5" lengthAdjust="spacingAndGlyphs">r</text>
<text x="693.0" y="1344.7" font-size="84" textLength="29.0" lengthAdjust="spacingAndGlyphs">/</text>
<text x="726.0" y="1331.7" font-size="58" textLength="48.0" lengthAdjust="spacingAndGlyphs">Δ</text>
<text x="777.5" y="1331.7" font-size="58" font-style="italic" textLength="28.5" lengthAdjust="spacingAndGlyphs">r</text>
<text x="832.0" y="1331.7" font-size="66" textLength="21.5" lengthAdjust="spacingAndGlyphs">(</text>
<text x="857.5" y="1331.7" font-size="58" textLength="151.0" lengthAdjust="spacingAndGlyphs">along</text>
<text x="1035.0" y="1331.7" font-size="58" font-style="italic" textLength="32.5" lengthAdjust="spacingAndGlyphs">x</text>
<text x="1077.0" y="1331.7" font-size="58" textLength="45.0" lengthAdjust="spacingAndGlyphs">+</text>
<text x="1131.0" y="1331.7" font-size="58" font-style="italic" textLength="31.0" lengthAdjust="spacingAndGlyphs">y</text>
<text x="1177.5" y="1331.7" font-size="58" textLength="45.5" lengthAdjust="spacingAndGlyphs">=</text>
<text x="1238.5" y="1331.7" font-size="58" textLength="95.5" lengthAdjust="spacingAndGlyphs">256</text>
<text x="1338.0" y="1331.7" font-size="58" textLength="48.0" lengthAdjust="spacingAndGlyphs">Δ</text>
<text x="1391.0" y="1331.7" font-size="58" font-style="italic" textLength="31.5" lengthAdjust="spacingAndGlyphs">x</text>
<text x="1428.0" y="1331.7" font-size="66" textLength="21.0" lengthAdjust="spacingAndGlyphs">)</text>
<g transform="translate(323.6,631) rotate(-90)"><text x="-70.5" y="0.0" font-size="58" font-style="italic" textLength="27.5" lengthAdjust="spacingAndGlyphs">z</text><text x="-41.0" y="13.0" font-size="84" textLength="29.0" lengthAdjust="spacingAndGlyphs">/</text><text x="-6.5" y="0.0" font-size="58" textLength="47.5" lengthAdjust="spacingAndGlyphs">Δ</text><text x="45.5" y="0.0" font-size="58" font-style="italic" textLength="27.5" lengthAdjust="spacingAndGlyphs">z</text></g>
<rect x="1634.8" y="206" width="47" height="850" fill="url(#vg)" stroke="#000" stroke-width="4.6"/>
<text x="1707.5" y="234.0" font-size="58" textLength="115.0" lengthAdjust="spacingAndGlyphs">5.40</text>
<text x="1707.5" y="442.2" font-size="58" textLength="115.0" lengthAdjust="spacingAndGlyphs">4.07</text>
<text x="1707.5" y="650.4" font-size="58" textLength="115.0" lengthAdjust="spacingAndGlyphs">2.73</text>
<text x="1707.5" y="858.6" font-size="58" textLength="115.0" lengthAdjust="spacingAndGlyphs">1.40</text>
<text x="1707.5" y="1066.8" font-size="58" textLength="115.0" lengthAdjust="spacingAndGlyphs">0.06</text>
<path d="M1681.8 214.7h-18.5M1681.8 422.9h-18.5M1681.8 631.1h-18.5M1681.8 839.3h-18.5M1681.8 1047.5h-18.5" stroke="#000" stroke-width="5" fill="none"/>
<g transform="translate(1922,635) rotate(-90)"><text x="-201" y="4" font-size="57" textLength="113" lengthAdjust="spacingAndGlyphs">磁场</text><text x="-76.0" y="13.0" font-size="84" textLength="29.0" lengthAdjust="spacingAndGlyphs">/</text><text x="-41.0" y="0.0" font-size="66" textLength="23.0" lengthAdjust="spacingAndGlyphs">(</text><text x="-22.5" y="0.0" font-size="58" textLength="29.0" lengthAdjust="spacingAndGlyphs">1</text><text x="11.0" y="0.0" font-size="58" textLength="32.0" lengthAdjust="spacingAndGlyphs">0</text><text x="49.0" y="-18.7" font-size="40" textLength="30.0" lengthAdjust="spacingAndGlyphs">−</text><text x="84.0" y="-18.7" font-size="40" textLength="24.5" lengthAdjust="spacingAndGlyphs">4</text><text x="132.0" y="0.0" font-size="58" textLength="49.0" lengthAdjust="spacingAndGlyphs">G</text><text x="182.0" y="0.0" font-size="66" textLength="23.0" lengthAdjust="spacingAndGlyphs">)</text></g>
<text x="552.0" y="172.5" font-size="66" textLength="21.0" lengthAdjust="spacingAndGlyphs" style="fill:#fff">(</text><text x="576.0" y="172.5" font-size="58" textLength="30.0" lengthAdjust="spacingAndGlyphs" style="fill:#fff">b</text><text x="608.0" y="172.5" font-size="66" textLength="21.0" lengthAdjust="spacingAndGlyphs" style="fill:#fff">)</text>
</g>
<g transform="translate(0,1408.6)">
<g clip-path="url(#cp)"><g transform="translate(486.00,65.75) scale(9.5000)" filter="url(#bl)" fill="none" stroke-width="1.08"><path stroke="#3c4f8a" stroke-width="121" d="M0 59.5h120"/><path stroke="#440256" d="M46 46h1M47 48h1M47 71h1M47 72h1"/><path stroke="#450559" d="M47 47h1M48 53h4M47 54h6M47 55h6M46 56h8M46 57h8M46 58h8M46 59h9M46 60h9M46 61h8M46 62h8M46 63h8M47 64h6M47 65h6M48 66h4M46 73h1M46 74h1"/><path stroke="#46085c" d="M48 51h4M47 52h6M46 53h2M52 53h2M46 54h1M53 54h1M46 55h1M53 55h2M45 56h1M54 56h1M45 57h1M54 57h1M45 58h1M54 58h1M45 59h1M55 59h1M45 60h1M55 60h1M45 61h1M54 61h1M45 62h1M54 62h1M45 63h1M54 63h1M45 64h2M53 64h2M46 65h1M53 65h1M46 66h2M52 66h2M47 67h6M48 68h4M45 76h1"/><path stroke="#460b5e" d="M45 43h1M46 45h1M54 54h1M45 55h1M55 57h1M55 58h1M44 60h1M55 61h1M55 62h1M45 65h1M54 65h1M53 67h1M47 68h1M52 68h1M49 69h2"/><path stroke="#470e61" d="M46 47h1M49 50h1M47 51h1M52 51h1M46 52h1M53 52h1M45 54h1M55 56h1M44 58h1M44 59h1M44 61h1M55 63h1M46 67h1M48 69h1M51 69h1M45 77h1M44 79h1"/><path stroke="#471164" d="M45 44h1M47 49h1M48 50h1M50 50h2M44 57h1M44 62h1M54 66h1"/><path stroke="#481467" d="M44 40h1M54 53h1M55 55h1M56 59h1M56 60h1M55 64h1M45 66h1M53 68h1M52 69h1"/><path stroke="#481769" d="M45 42h1M45 53h1M44 56h1M56 58h1M56 61h1M44 63h1M47 69h1M49 70h1M46 72h1M45 75h1"/><path stroke="#481a6c" d="M44 41h1M52 50h1M53 51h1M56 57h1M56 62h1M55 65h1M54 67h1M46 68h1M48 71h1M47 73h1M46 75h1M44 78h1M44 80h1"/><path stroke="#481c6e" d="M114 0h6M114 1h6M114 2h6M114 3h6M114 4h6M114 5h6M114 6h6M114 7h6M114 8h6M114 9h6M114 10h6M114 11h6M114 12h6M114 13h6M114 14h6M114 15h6M114 16h6M114 17h6M114 18h6M114 19h6M114 20h6M114 21h6M114 22h6M114 23h6M114 24h6M114 25h6M114 26h6M114 27h6M114 28h6M114 29h6M114 30h6M114 31h6M114 32h6M114 33h6M114 34h6M114 35h6M114 36h6M114 37h6M114 38h6M114 39h6M114 40h6M114 41h6M114 42h6M114 43h6M114 44h6M114 45h6M114 46h6M114 47h6M114 48h6M49 49h1M114 49h6M47 50h1M114 50h6M46 51h1M114 51h6M54 52h1M114 52h6M114 53h6M55 54h1M114 54h6M114 55h6M114 56h6M114 57h6M114 58h6M114 59h6M114 60h6M114 61h6M114 62h6M56 63h1M114 63h6M44 64h1M114 64h6M114 65h6M114 66h6M114 67h6M114 68h6M114 69h6M48 70h1M114 70h6M114 71h6M114 72h6M114 73h6M114 74h6M114 75h6M114 76h6M114 77h6M114 78h6M114 79h6M114 80h6M114 81h6M114 82h6M114 83h6M114 84h6M114 85h6M114 86h6M114 87h6M114 88h6M114 89h6M114 90h6M114 91h6M114 92h6M114 93h6M114 94h6M114 95h6M114 96h6M114 97h6M114 98h6M114 99h6M114 100h6M114 101h6M114 102h6M114 103h6M114 104h6M114 105h6M114 106h6M114 107h6M114 108h6M114 109h6M114 110h6M114 111h6M114 112h6M114 113h6M114 114h6M114 115h6M114 116h6M114 117h6M114 118h6M114 119h6"/><path stroke="#481f70" d="M112 0h2M112 1h2M112 2h2M112 3h2M112 4h2M112 5h2M112 6h2M112 7h2M112 8h2M112 9h2M112 10h2M112 11h2M112 12h2M112 13h2M112 14h2M112 15h2M112 16h2M112 17h2M112 18h2M112 19h2M112 20h2M112 21h2M112 22h2M112 23h2M112 24h2M112 25h2M112 26h2M112 27h2M112 28h2M112 29h2M112 30h2M112 31h2M112 32h2M112 33h2M112 34h2M112 35h2M112 36h2M112 37h2M112 38h2M112 39h2M112 40h2M112 41h2M112 42h2M112 43h2M112 44h2M112 45h2M112 46h2M112 47h2M112 48h2M112 49h2M112 50h2M112 51h2M112 52h2M112 53h2M112 54h2M44 55h1M112 55h2M56 56h1M112 56h2M112 57h2M112 58h2M57 59h1M112 59h2M57 60h1M112 60h2M112 61h2M112 62h2M112 63h2M112 64h2M112 65h2M55 66h1M112 66h2M112 67h2M112 68h2M112 69h2M112 70h2M112 71h2M112 72h2M112 73h2M112 74h2M112 75h2M112 76h2M112 77h2M112 78h2M112 79h2M112 80h2M112 81h2M112 82h2M112 83h2M112 84h2M112 85h2M112 86h2M112 87h2M112 88h2M112 89h2M112 90h2M112 91h2M112 92h2M112 93h2M112 94h2M112 95h2M112 96h2M112 97h2M112 98h2M112 99h2M112 100h2M112 101h2M112 102h2M112 103h2M112 104h2M112 105h2M112 106h2M112 107h2M112 108h2M112 109h2M112 110h2M112 111h2M112 112h2M112 113h2M112 114h2M112 115h2M112 116h2M112 117h2M112 118h2M112 119h2"/><path stroke="#482173" d="M110 0h2M110 1h2M110 2h2M110 3h2M110 4h2M110 5h2M110 6h2M110 7h2M110 8h2M110 9h2M110 10h2M110 11h2M110 12h2M110 13h2M110 14h2M110 15h2M110 16h2M110 17h2M110 18h2M110 19h2M110 20h2M110 21h2M110 22h2M110 23h2M110 24h2M110 25h2M110 26h2M110 27h2M110 28h2M110 29h2M110 30h2M110 31h2M110 32h2M110 33h2M110 34h2M110 35h2M110 36h2M110 37h2M110 38h2M110 39h2M110 40h2M110 41h2M110 42h2M110 43h2M46 44h1M110 44h2M110 45h2M110 46h2M110 47h2M48 48h1M110 48h2M48 49h1M110 49h2M110 50h2M110 51h2M110 52h2M55 53h1M110 53h2M110 54h2M56 55h1M110 55h2M110 56h2M110 57h2M57 58h1M110 58h2M110 59h2M110 60h2M57 61h1M110 61h2M110 62h2M110 63h2M56 64h1M110 64h2M110 65h2M110 66h2M45 67h1M110 67h2M110 68h2M53 69h1M110 69h2M110 70h2M110 71h2M110 72h2M110 73h2M110 74h2M110 75h2M110 76h2M110 77h2M110 78h2M110 79h2M110 80h2M110 81h2M110 82h2M110 83h2M110 84h2M110 85h2M110 86h2M110 87h2M110 88h2M110 89h2M110 90h2M110 91h2M110 92h2M110 93h2M110 94h2M110 95h2M110 96h2M110 97h2M110 98h2M110 99h2M110 100h2M110 101h2M110 102h2M110 103h2M110 104h2M110 105h2M110 106h2M110 107h2M110 108h2M110 109h2M110 110h2M110 111h2M110 112h2M110 113h2M110 114h2M110 115h2M110 116h2M110 117h2M110 118h2M110 119h2"/><path stroke="#482475" d="M108 0h2M108 1h2M108 2h2M108 3h2M108 4h2M108 5h2M108 6h2M108 7h2M108 8h2M108 9h2M108 10h2M108 11h2M108 12h2M108 13h2M108 14h2M108 15h2M108 16h2M108 17h2M108 18h2M108 19h2M108 20h2M108 21h2M108 22h2M108 23h2M108 24h2M108 25h2M108 26h2M108 27h2M108 28h2M108 29h2M108 30h2M108 31h2M108 32h2M108 33h2M108 34h2M108 35h2M108 36h2M108 37h2M108 38h2M108 39h2M108 40h2M108 41h2M108 42h2M108 43h2M108 44h2M45 45h1M108 45h2M47 46h1M108 46h2M108 47h2M108 48h2M108 49h2M53 50h1M108 50h2M108 51h2M45 52h1M108 52h2M108 53h2M56 54h1M108 54h2M108 55h2M108 56h2M57 57h1M108 57h2M108 58h2M108 59h2M108 60h2M108 61h2M57 62h1M108 62h2M57 63h1M108 63h2M108 64h2M56 65h1M108 65h2M108 66h2M108 67h2M54 68h1M108 68h2M108 69h2M50 70h1M52 70h1M108 70h2M108 71h2M108 72h2M108 73h2M108 74h2M108 75h2M108 76h2M108 77h2M108 78h2M108 79h2M108 80h2M108 81h2M108 82h2M108 83h2M108 84h2M108 85h2M108 86h2M108 87h2M108 88h2M108 89h2M108 90h2M108 91h2M108 92h2M108 93h2M108 94h2M108 95h2M108 96h2M108 97h2M108 98h2M108 99h2M108 100h2M108 101h2M108 102h2M108 103h2M108 104h2M108 105h2M108 106h2M108 107h2M108 108h2M108 109h2M108 110h2M108 111h2M108 112h2M108 113h2M108 114h2M108 115h2M108 116h2M108 117h2M108 118h2M108 119h2"/><path stroke="#482677" d="M105 0h3M105 1h3M105 2h3M105 3h3M105 4h3M105 5h3M105 6h3M105 7h3M105 8h3M105 9h3M105 10h3M105 11h3M105 12h3M105 13h3M105 14h3M105 15h3M105 16h3M105 17h3M105 18h3M105 19h3M105 20h3M105 21h3M105 22h3M105 23h3M105 24h3M105 25h3M105 26h3M105 27h3M105 28h3M105 29h3M105 30h3M105 31h3M105 32h3M105 33h3M105 34h3M105 35h3M105 36h3M105 37h3M105 38h3M105 39h3M105 40h3M105 41h3M105 42h3M105 43h3M105 44h3M105 45h3M105 46h3M105 47h3M46 48h1M105 48h3M105 49h3M105 50h3M54 51h1M105 51h3M55 52h1M105 52h3M105 53h3M105 54h3M105 55h3M57 56h1M105 56h3M105 57h3M105 58h3M105 59h3M105 60h3M105 61h3M105 62h3M105 63h3M57 64h1M105 64h3M44 65h1M105 65h3M56 66h1M105 66h3M55 67h1M105 67h3M105 68h3M105 69h3M105 70h3M105 71h3M105 72h3M105 73h3M105 74h3M105 75h3M105 76h3M105 77h3M45 78h1M105 78h3M105 79h3M105 80h3M105 81h3M105 82h3M105 83h3M105 84h3M105 85h3M105 86h3M105 87h3M105 88h3M105 89h3M105 90h3M105 91h3M105 92h3M105 93h3M105 94h3M105 95h3M105 96h3M105 97h3M105 98h3M105 99h3M105 100h3M105 101h3M105 102h3M105 103h3M105 104h3M105 105h3M105 106h3M105 107h3M105 108h3M105 109h3M105 110h3M105 111h3M105 112h3M105 113h3M105 114h3M105 115h3M105 116h3M105 117h3M105 118h3M105 119h3"/><path stroke="#482979" d="M102 0h3M102 1h3M102 2h3M102 3h3M102 4h3M102 5h3M102 6h3M102 7h3M102 8h3M102 9h3M102 10h3M102 11h3M102 12h3M102 13h3M102 14h3M102 15h3M102 16h3M102 17h3M102 18h3M102 19h3M102 20h3M102 21h3M102 22h3M102 23h3M102 24h3M102 25h3M102 26h3M102 27h3M102 28h3M102 29h3M102 30h3M102 31h3M102 32h3M102 33h3M102 34h3M102 35h3M102 36h3M102 37h3M102 38h3M44 39h1M102 39h3M102 40h3M102 41h3M102 42h3M102 43h3M102 44h3M102 45h3M102 46h3M102 47h3M102 48h3M102 49h3M102 50h3M102 51h3M102 52h3M56 53h1M102 53h3M57 54h1M102 54h3M57 55h1M102 55h3M102 56h3M102 57h3M58 58h1M102 58h3M58 59h1M102 59h3M58 60h1M102 60h3M58 61h1M102 61h3M102 62h3M102 63h3M102 64h3M57 65h1M102 65h3M102 66h3M56 67h1M102 67h3M55 68h1M102 68h3M46 69h1M54 69h1M102 69h3M47 70h1M102 70h3M102 71h3M102 72h3M102 73h3M45 74h1M102 74h3M102 75h3M102 76h3M102 77h3M102 78h3M102 79h3M102 80h3M102 81h3M102 82h3M102 83h3M102 84h3M102 85h3M102 86h3M102 87h3M102 88h3M102 89h3M102 90h3M102 91h3M102 92h3M102 93h3M102 94h3M102 95h3M102 96h3M102 97h3M102 98h3M102 99h3M102 100h3M102 101h3M102 102h3M102 103h3M102 104h3M102 105h3M102 106h3M102 107h3M102 108h3M102 109h3M102 110h3M102 111h3M102 112h3M102 113h3M102 114h3M102 115h3M102 116h3M102 117h3M102 118h3M102 119h3"/><path stroke="#472c7a" d="M99 0h3M99 1h3M99 2h3M99 3h3M99 4h3M99 5h3M99 6h3M99 7h3M99 8h3M99 9h3M99 10h3M99 11h3M99 12h3M99 13h3M99 14h3M99 15h3M99 16h3M99 17h3M99 18h3M99 19h3M99 20h3M99 21h3M99 22h3M99 23h3M99 24h3M99 25h3M99 26h3M99 27h3M99 28h3M99 29h3M99 30h3M99 31h3M99 32h3M99 33h3M99 34h3M99 35h3M99 36h3M99 37h3M99 38h3M99 39h3M99 40h3M99 41h3M44 42h1M99 42h3M99 43h3M99 44h3M99 45h3M99 46h3M99 47h3M99 48h3M99 49h3M54 50h1M99 50h3M55 51h1M99 51h3M56 52h1M99 52h3M57 53h1M99 53h3M44 54h1M99 54h3M99 55h3M58 56h1M99 56h3M58 57h1M99 57h3M99 58h3M99 59h3M99 60h3M99 61h3M58 62h1M99 62h3M58 63h1M99 63h3M99 64h3M99 65h3M57 66h1M99 66h3M99 67h3M99 68h3M99 69h3M53 70h1M99 70h3M99 71h3M99 72h3M99 73h3M99 74h3M99 75h3M99 76h3M99 77h3M99 78h3M99 79h3M99 80h3M99 81h3M99 82h3M99 83h3M99 84h3M99 85h3M99 86h3M99 87h3M99 88h3M99 89h3M99 90h3M99 91h3M99 92h3M99 93h3M99 94h3M99 95h3M99 96h3M99 97h3M99 98h3M99 99h3M99 100h3M99 101h3M99 102h3M99 103h3M99 104h3M99 105h3M99 106h3M99 107h3M99 108h3M99 109h3M99 110h3M99 111h3M99 112h3M99 113h3M99 114h3M99 115h3M99 116h3M99 117h3M99 118h3M99 119h3"/><path stroke="#472e7c" d="M97 0h2M97 1h2M97 2h2M97 3h2M97 4h2M97 5h2M97 6h2M97 7h2M97 8h2M97 9h2M97 10h2M97 11h2M97 12h2M97 13h2M97 14h2M97 15h2M97 16h2M97 17h2M97 18h2M97 19h2M97 20h2M97 21h2M97 22h2M97 23h2M97 24h2M97 25h2M97 26h2M97 27h2M97 28h2M97 29h2M97 30h2M97 31h2M97 32h2M97 33h2M97 34h2M97 35h2M97 36h2M97 37h2M97 38h2M97 39h2M97 40h2M97 41h2M97 42h2M97 43h2M97 44h2M97 45h2M97 46h2M97 47h2M97 48h2M53 49h1M97 49h2M46 50h1M55 50h1M97 50h2M56 51h1M97 51h2M57 52h1M97 52h2M97 53h2M97 54h2M58 55h1M97 55h2M97 56h2M97 57h2M97 58h2M97 59h2M97 60h2M97 61h2M97 62h2M97 63h2M58 64h1M97 64h2M58 65h1M97 65h2M97 66h2M57 67h1M97 67h2M45 68h1M56 68h1M97 68h2M55 69h1M97 69h2M54 70h1M97 70h2M46 71h1M97 71h2M97 72h2M97 73h2M97 74h2M97 75h2M97 76h2M97 77h2M97 78h2M97 79h2M97 80h2M97 81h2M97 82h2M97 83h2M97 84h2M97 85h2M97 86h2M97 87h2M97 88h2M97 89h2M97 90h2M97 91h2M97 92h2M97 93h2M97 94h2M97 95h2M97 96h2M97 97h2M97 98h2M97 99h2M97 100h2M97 101h2M97 102h2M97 103h2M97 104h2M97 105h2M97 106h2M97 107h2M97 108h2M97 109h2M97 110h2M97 111h2M97 112h2M97 113h2M97 114h2M97 115h2M97 116h2M97 117h2M97 118h2M97 119h2"/><path stroke="#46307e" d="M95 0h2M95 1h2M95 2h2M95 3h2M95 4h2M95 5h2M95 6h2M95 7h2M95 8h2M95 9h2M95 10h2M95 11h2M95 12h2M95 13h2M95 14h2M95 15h2M95 16h2M95 17h2M95 18h2M95 19h2M95 20h2M95 21h2M95 22h2M95 23h2M95 24h2M95 25h2M95 26h2M95 27h2M95 28h2M95 29h2M95 30h2M95 31h2M95 32h2M95 33h2M95 34h2M95 35h2M95 36h2M95 37h2M95 38h2M95 39h2M95 40h2M95 41h2M95 42h2M95 43h2M95 44h2M95 45h2M95 46h2M95 47h2M95 48h2M54 49h1M95 49h2M56 50h1M95 50h2M57 51h1M95 51h2M95 52h2M58 53h1M95 53h2M58 54h1M95 54h2M95 55h2M95 56h2M95 57h2M59 58h1M95 58h2M59 59h1M95 59h2M59 60h1M95 60h2M59 61h1M95 61h2M95 62h2M95 63h2M95 64h2M95 65h2M58 66h1M95 66h2M95 67h2M57 68h1M95 68h2M56 69h1M95 69h2M55 70h1M95 70h2M49 71h1M95 71h2M48 72h1M95 72h2M95 73h2M95 74h2M95 75h2M95 76h2M44 77h1M95 77h2M95 78h2M95 79h2M95 80h2M95 81h2M95 82h2M95 83h2M95 84h2M95 85h2M95 86h2M95 87h2M95 88h2M95 89h2M95 90h2M95 91h2M95 92h2M95 93h2M95 94h2M95 95h2M95 96h2M95 97h2M95 98h2M95 99h2M95 100h2M95 101h2M95 102h2M95 103h2M95 104h2M95 105h2M95 106h2M95 107h2M95 108h2M95 109h2M95 110h2M95 111h2M95 112h2M95 113h2M95 114h2M95 115h2M95 116h2M95 117h2M95 118h2M95 119h2"/><path stroke="#46337f" d="M94 0h1M94 1h1M94 2h1M94 3h1M94 4h1M94 5h1M94 6h1M94 7h1M94 8h1M94 9h1M94 10h1M94 11h1M94 12h1M94 13h1M94 14h1M94 15h1M94 16h1M94 17h1M94 18h1M94 19h1M94 20h1M94 21h1M94 22h1M94 23h1M94 24h1M94 25h1M94 26h1M94 27h1M94 28h1M94 29h1M94 30h1M94 31h1M94 32h1M94 33h1M94 34h1M94 35h1M94 36h1M94 37h1M94 38h1M94 39h1M94 40h1M45 41h1M94 41h1M94 42h1M94 43h1M94 44h1M94 45h1M94 46h1M94 47h1M53 48h1M94 48h1M46 49h1M50 49h1M55 49h2M94 49h1M57 50h1M94 50h1M45 51h1M58 51h1M94 51h1M58 52h1M94 52h1M94 53h1M94 54h1M59 55h1M94 55h1M59 56h1M94 56h1M59 57h1M94 57h1M94 58h1M94 59h1M94 60h1M94 61h1M59 62h1M94 62h1M59 63h1M94 63h1M59 64h1M94 64h1M94 65h1M44 66h1M94 66h1M58 67h1M94 67h1M58 68h1M94 68h1M57 69h1M94 69h1M46 70h1M56 70h1M94 70h1M53 71h2M94 71h1M94 72h1M94 73h1M94 74h1M94 75h1M94 76h1M94 77h1M94 78h1M94 79h1M94 80h1M94 81h1M94 82h1M94 83h1M94 84h1M94 85h1M94 86h1M94 87h1M94 88h1M94 89h1M94 90h1M94 91h1M94 92h1M94 93h1M94 94h1M94 95h1M94 96h1M94 97h1M94 98h1M94 99h1M94 100h1M94 101h1M94 102h1M94 103h1M94 104h1M94 105h1M94 106h1M94 107h1M94 108h1M94 109h1M94 110h1M94 111h1M94 112h1M94 113h1M94 114h1M94 115h1M94 116h1M94 117h1M94 118h1M94 119h1"/><path stroke="#453581" d="M93 0h1M93 1h1M93 2h1M93 3h1M93 4h1M93 5h1M93 6h1M93 7h1M93 8h1M93 9h1M93 10h1M93 11h1M93 12h1M93 13h1M93 14h1M93 15h1M93 16h1M93 17h1M93 18h1M93 19h1M93 20h1M93 21h1M93 22h1M93 23h1M93 24h1M93 25h1M93 26h1M93 27h1M93 28h1M93 29h1M93 30h1M93 31h1M93 32h1M93 33h1M93 34h1M93 35h1M93 36h1M93 37h1M93 38h1M93 39h1M93 40h1M93 41h1M93 42h1M93 43h1M93 44h1M93 45h1M93 46h1M93 47h1M52 48h1M54 48h2M93 48h1M52 49h1M57 49h1M93 49h1M58 50h1M93 50h1M59 51h1M93 51h1M59 52h1M93 52h1M44 53h1M59 53h1M93 53h1M59 54h1M93 54h1M93 55h1M93 56h1M93 57h1M93 58h1M43 59h1M93 59h1M43 60h1M93 60h1M93 61h1M93 62h1M93 63h1M93 64h1M59 65h1M93 65h1M59 66h1M93 66h1M59 67h1M93 67h1M59 68h1M93 68h1M58 69h1M93 69h1M57 70h1M93 70h1M52 71h1M55 71h2M93 71h1M93 72h1M93 73h1M93 74h1M93 75h1M93 76h1M93 77h1M93 78h1M93 79h1M93 80h1M93 81h1M93 82h1M93 83h1M93 84h1M93 85h1M93 86h1M93 87h1M93 88h1M93 89h1M93 90h1M93 91h1M93 92h1M93 93h1M93 94h1M93 95h1M93 96h1M93 97h1M93 98h1M93 99h1M93 100h1M93 101h1M93 102h1M93 103h1M93 104h1M93 105h1M93 106h1M93 107h1M93 108h1M93 109h1M93 110h1M93 111h1M93 112h1M93 113h1M93 114h1M93 115h1M93 116h1M93 117h1M93 118h1M93 119h1"/><path stroke="#453882" d="M92 0h1M92 1h1M92 2h1M92 3h1M92 4h1M92 5h1M92 6h1M92 7h1M92 8h1M92 9h1M92 10h1M92 11h1M92 12h1M92 13h1M92 14h1M92 15h1M92 16h1M92 17h1M92 18h1M92 19h1M92 20h1M92 21h1M92 22h1M92 23h1M92 24h1M92 25h1M92 26h1M92 27h1M92 28h1M92 29h1M92 30h1M92 31h1M92 32h1M92 33h1M92 34h1M92 35h1M92 36h1M92 37h1M92 38h1M43 39h1M92 39h1M92 40h1M92 41h1M92 42h1M92 43h1M92 44h1M92 45h1M45 46h1M92 46h1M48 47h1M52 47h2M92 47h1M56 48h2M92 48h1M58 49h2M92 49h1M59 50h1M92 50h1M60 51h1M92 51h1M60 52h1M92 52h1M60 53h1M92 53h1M60 54h1M92 54h1M60 55h1M92 55h1M60 56h1M92 56h1M60 57h1M92 57h1M43 58h1M60 58h1M92 58h1M60 59h1M92 59h1M60 60h1M92 60h1M43 61h1M60 61h1M92 61h1M60 62h1M92 62h1M60 63h1M92 63h1M60 64h1M92 64h1M60 65h1M92 65h1M60 66h1M92 66h1M60 67h1M92 67h1M60 68h1M92 68h1M45 69h1M59 69h1M92 69h1M58 70h2M92 70h1M57 71h1M92 71h1M52 72h4M92 72h1M92 73h1M92 74h1M92 75h1M46 76h1M92 76h1M92 77h1M92 78h1M92 79h1M92 80h1M92 81h1M92 82h1M92 83h1M92 84h1M92 85h1M92 86h1M92 87h1M92 88h1M92 89h1M92 90h1M92 91h1M92 92h1M92 93h1M92 94h1M92 95h1M92 96h1M92 97h1M92 98h1M92 99h1M92 100h1M92 101h1M92 102h1M92 103h1M92 104h1M92 105h1M92 106h1M92 107h1M92 108h1M92 109h1M92 110h1M92 111h1M92 112h1M92 113h1M92 114h1M92 115h1M92 116h1M92 117h1M92 118h1M92 119h1"/><path stroke="#443a83" d="M91 0h1M91 1h1M91 2h1M91 3h1M91 4h1M91 5h1M91 6h1M91 7h1M91 8h1M91 9h1M91 10h1M91 11h1M91 12h1M91 13h1M91 14h1M91 15h1M91 16h1M91 17h1M91 18h1M91 19h1M91 20h1M91 21h1M91 22h1M91 23h1M91 24h1M91 25h1M91 26h1M91 27h1M91 28h1M91 29h1M91 30h1M91 31h1M91 32h1M91 33h1M91 34h1M91 35h1M91 36h1M91 37h1M43 38h1M91 38h1M91 39h1M91 40h1M91 41h1M91 42h1M91 43h1M91 44h1M91 45h1M91 46h1M54 47h3M91 47h1M58 48h1M91 48h1M60 49h1M91 49h1M45 50h1M60 50h2M91 50h1M61 51h1M91 51h1M61 52h1M91 52h1M61 53h1M91 53h1M61 54h1M91 54h1M61 55h1M91 55h1M61 56h1M91 56h1M61 57h1M91 57h1M61 58h1M91 58h1M61 59h1M91 59h1M61 60h1M91 60h1M61 61h1M91 61h1M43 62h1M61 62h1M91 62h1M61 63h1M91 63h1M61 64h1M91 64h1M61 65h1M91 65h1M61 66h1M91 66h1M44 67h1M61 67h1M91 67h1M61 68h1M91 68h1M60 69h2M91 69h1M60 70h1M91 70h1M58 71h2M91 71h1M56 72h2M91 72h1M45 73h1M91 73h1M47 74h1M91 74h1M91 75h1M91 76h1M91 77h1M91 78h1M91 79h1M91 80h1M91 81h1M91 82h1M91 83h1M91 84h1M91 85h1M91 86h1M91 87h1M91 88h1M91 89h1M91 90h1M91 91h1M91 92h1M91 93h1M91 94h1M91 95h1M91 96h1M91 97h1M91 98h1M91 99h1M91 100h1M91 101h1M91 102h1M91 103h1M91 104h1M91 105h1M91 106h1M91 107h1M91 108h1M91 109h1M91 110h1M91 111h1M91 112h1M91 113h1M91 114h1M91 115h1M91 116h1M91 117h1M91 118h1M91 119h1"/><path stroke="#433d84" d="M90 0h1M90 1h1M90 2h1M90 3h1M90 4h1M90 5h1M90 6h1M90 7h1M90 8h1M90 9h1M90 10h1M90 11h1M90 12h1M90 13h1M90 14h1M90 15h1M90 16h1M90 17h1M90 18h1M90 19h1M90 20h1M90 21h1M90 22h1M90 23h1M90 24h1M90 25h1M90 26h1M90 27h1M90 28h1M90 29h1M90 30h1M90 31h1M90 32h1M90 33h1M90 34h1M90 35h1M90 36h1M90 37h1M90 38h1M90 39h1M90 40h1M90 41h1M90 42h1M44 43h1M90 43h1M90 44h1M90 45h1M53 46h3M90 46h1M57 47h2M90 47h1M49 48h1M59 48h2M90 48h1M61 49h2M90 49h1M62 50h1M90 50h1M62 51h1M90 51h1M44 52h1M62 52h1M90 52h1M62 53h1M90 53h1M62 54h1M90 54h1M62 55h1M90 55h1M62 56h1M90 56h1M43 57h1M62 57h1M90 57h1M62 58h1M90 58h1M90 59h1M90 60h1M62 61h1M90 61h1M62 62h1M90 62h1M62 63h1M90 63h1M62 64h1M90 64h1M62 65h1M90 65h1M62 66h1M90 66h1M62 67h1M90 67h1M62 68h1M90 68h1M62 69h1M90 69h1M61 70h2M90 70h1M60 71h2M90 71h1M58 72h1M90 72h1M52 73h5M90 73h1M90 74h1M90 75h1M90 76h1M90 77h1M90 78h1M90 79h1M43 80h1M90 80h1M43 81h1M90 81h1M90 82h1M90 83h1M90 84h1M90 85h1M90 86h1M90 87h1M90 88h1M90 89h1M90 90h1M90 91h1M90 92h1M90 93h1M90 94h1M90 95h1M90 96h1M90 97h1M90 98h1M90 99h1M90 100h1M90 101h1M90 102h1M90 103h1M90 104h1M90 105h1M90 106h1M90 107h1M90 108h1M90 109h1M90 110h1M90 111h1M90 112h1M90 113h1M90 114h1M90 115h1M90 116h1M90 117h1M90 118h1M90 119h1"/><path stroke="#423f85" d="M89 0h1M89 1h1M89 2h1M89 3h1M89 4h1M89 5h1M89 6h1M89 7h1M89 8h1M89 9h1M89 10h1M89 11h1M89 12h1M89 13h1M89 14h1M89 15h1M89 16h1M89 17h1M89 18h1M89 19h1M89 20h1M89 21h1M89 22h1M89 23h1M89 24h1M89 25h1M89 26h1M89 27h1M89 28h1M89 29h1M89 30h1M89 31h1M89 32h1M89 33h1M89 34h1M89 35h1M89 36h1M89 37h1M89 38h1M89 39h1M89 40h1M89 41h1M89 42h1M89 43h1M89 44h1M89 45h1M52 46h1M56 46h2M89 46h1M59 47h2M89 47h1M61 48h3M89 48h1M45 49h1M63 49h2M89 49h1M63 50h2M89 50h1M63 51h2M89 51h1M63 52h1M89 52h1M63 53h1M89 53h1M63 54h1M89 54h1M63 55h1M89 55h1M63 56h1M89 56h1M63 57h1M89 57h1M63 58h1M89 58h1M62 59h2M89 59h1M62 60h1M89 60h1M63 61h1M89 61h1M63 62h1M89 62h1M63 63h1M89 63h1M63 64h1M89 64h1M63 65h1M89 65h1M63 66h1M89 66h1M63 67h1M89 67h1M63 68h2M89 68h1M63 69h2M89 69h1M45 70h1M63 70h2M89 70h1M62 71h2M89 71h1M59 72h3M89 72h1M57 73h2M89 73h1M55 74h1M89 74h1M89 75h1M89 76h1M89 77h1M89 78h1M89 79h1M89 80h1M89 81h1M89 82h1M89 83h1M89 84h1M89 85h1M89 86h1M89 87h1M89 88h1M89 89h1M89 90h1M89 91h1M89 92h1M89 93h1M89 94h1M89 95h1M89 96h1M89 97h1M89 98h1M89 99h1M89 100h1M89 101h1M89 102h1M89 103h1M89 104h1M89 105h1M89 106h1M89 107h1M89 108h1M89 109h1M89 110h1M89 111h1M89 112h1M89 113h1M89 114h1M89 115h1M89 116h1M89 117h1M89 118h1M89 119h1"/><path stroke="#424186" d="M87 0h2M87 1h2M87 2h2M87 3h2M87 4h2M87 5h2M87 6h2M87 7h2M87 8h2M87 9h2M87 10h2M87 11h2M87 12h2M87 13h2M87 14h2M87 15h2M87 16h2M87 17h2M87 18h2M87 19h2M87 20h2M87 21h2M87 22h2M87 23h2M87 24h2M87 25h2M87 26h2M87 27h2M87 28h2M87 29h2M87 30h2M87 31h2M87 32h2M87 33h2M87 34h2M87 35h2M87 36h2M87 37h2M87 38h2M87 39h2M87 40h2M87 41h2M67 42h3M87 42h2M67 43h2M87 43h2M67 44h1M87 44h2M54 45h3M87 45h2M51 46h1M58 46h2M87 46h2M45 47h1M61 47h5M87 47h2M64 48h2M87 48h2M65 49h1M87 49h2M65 50h1M87 50h2M65 51h1M87 51h2M64 52h2M87 52h2M64 53h2M87 53h2M64 54h1M87 54h2M64 55h1M87 55h2M43 56h1M64 56h1M87 56h2M64 57h1M87 57h2M64 58h1M87 58h2M64 59h1M87 59h2M63 60h2M87 60h2M64 61h1M87 61h2M64 62h1M87 62h2M43 63h1M64 63h1M87 63h2M64 64h1M87 64h2M64 65h1M87 65h2M64 66h1M87 66h2M64 67h2M87 67h2M44 68h1M65 68h1M87 68h2M65 69h1M87 69h2M65 70h1M87 70h2M45 71h1M64 71h2M87 71h2M45 72h1M62 72h4M87 72h2M51 73h1M59 73h7M87 73h2M52 74h3M56 74h2M87 74h2M67 75h1M87 75h2M67 76h2M87 76h2M67 77h3M87 77h2M87 78h2M87 79h2M87 80h2M44 81h1M87 81h2M87 82h2M87 83h2M87 84h2M87 85h2M87 86h2M87 87h2M87 88h2M87 89h2M87 90h2M87 91h2M87 92h2M87 93h2M87 94h2M87 95h2M87 96h2M87 97h2M87 98h2M87 99h2M87 100h2M87 101h2M87 102h2M87 103h2M87 104h2M87 105h2M87 106h2M87 107h2M87 108h2M87 109h2M87 110h2M87 111h2M87 112h2M87 113h2M87 114h2M87 115h2M87 116h2M87 117h2M87 118h2M87 119h2"/><path stroke="#414487" d="M85 0h2M85 1h2M85 2h2M85 3h2M85 4h2M85 5h2M85 6h2M85 7h2M85 8h2M85 9h2M85 10h2M85 11h2M85 12h2M85 13h2M85 14h2M85 15h2M85 16h2M85 17h2M85 18h2M85 19h2M85 20h2M85 21h2M85 22h2M85 23h2M85 24h2M85 25h2M85 26h2M85 27h2M85 28h2M85 29h2M85 30h2M85 31h2M85 32h2M85 33h2M85 34h2M85 35h2M85 36h2M85 37h2M85 38h2M85 39h2M67 40h4M85 40h2M66 41h8M85 41h2M66 42h1M70 42h5M85 42h2M46 43h1M65 43h2M69 43h5M85 43h2M55 44h2M65 44h2M68 44h4M85 44h2M52 45h2M57 45h2M63 45h8M85 45h2M60 46h10M85 46h2M66 47h3M85 47h2M45 48h1M66 48h2M85 48h2M66 49h2M85 49h2M66 50h2M85 50h2M44 51h1M66 51h1M85 51h2M66 52h1M85 52h2M66 53h1M85 53h2M65 54h2M85 54h2M65 55h1M85 55h2M65 56h1M85 56h2M65 57h1M85 57h2M65 58h1M85 58h2M65 59h1M85 59h2M65 60h1M85 60h2M65 61h1M85 61h2M65 62h1M85 62h2M65 63h1M85 63h2M65 64h1M85 64h2M65 65h1M85 65h2M65 66h2M85 66h2M66 67h1M85 67h2M66 68h1M85 68h2M66 69h2M85 69h2M66 70h2M85 70h2M66 71h2M85 71h2M66 72h3M85 72h2M66 73h3M85 73h2M51 74h1M58 74h2M62 74h8M85 74h2M54 75h3M64 75h3M68 75h3M85 75h2M44 76h1M65 76h2M69 76h4M85 76h2M65 77h2M70 77h5M85 77h2M66 78h8M85 78h2M66 79h6M85 79h2M85 80h2M85 81h2M85 82h2M85 83h2M85 84h2M85 85h2M85 86h2M85 87h2M85 88h2M85 89h2M85 90h2M85 91h2M85 92h2M85 93h2M85 94h2M85 95h2M85 96h2M85 97h2M85 98h2M85 99h2M85 100h2M85 101h2M85 102h2M85 103h2M85 104h2M85 105h2M85 106h2M85 107h2M85 108h2M85 109h2M85 110h2M85 111h2M85 112h2M85 113h2M85 114h2M85 115h2M85 116h2M85 117h2M85 118h2M85 119h2"/><path stroke="#404688" d="M83 0h2M83 1h2M83 2h2M83 3h2M83 4h2M83 5h2M83 6h2M83 7h2M83 8h2M83 9h2M83 10h2M83 11h2M83 12h2M83 13h2M83 14h2M83 15h2M83 16h2M83 17h2M83 18h2M83 19h2M83 20h2M83 21h2M83 22h2M83 23h2M83 24h2M83 25h2M83 26h2M83 27h2M83 28h2M83 29h2M83 30h2M83 31h2M83 32h2M83 33h2M83 34h2M83 35h2M83 36h2M83 37h2M67 38h5M83 38h2M66 39h10M83 39h2M65 40h2M71 40h6M83 40h2M65 41h1M74 41h4M83 41h2M64 42h2M75 42h3M83 42h2M64 43h1M74 43h4M83 43h2M54 44h1M57 44h1M63 44h2M72 44h4M83 44h2M47 45h1M51 45h1M59 45h4M71 45h2M83 45h2M70 46h2M83 46h2M69 47h2M83 47h2M68 48h2M83 48h2M68 49h2M83 49h2M44 50h1M68 50h1M83 50h2M67 51h2M83 51h2M67 52h1M83 52h2M67 53h1M83 53h2M67 54h1M83 54h2M43 55h1M66 55h2M83 55h2M66 56h1M83 56h2M66 57h1M83 57h2M66 58h1M83 58h2M66 59h1M83 59h2M66 60h1M83 60h2M66 61h1M83 61h2M66 62h1M83 62h2M66 63h1M83 63h2M43 64h1M66 64h1M83 64h2M66 65h2M83 65h2M67 66h1M83 66h2M67 67h1M83 67h2M67 68h2M83 68h2M44 69h1M68 69h1M83 69h2M51 70h1M68 70h1M83 70h2M68 71h2M83 71h2M69 72h2M83 72h2M69 73h3M83 73h2M60 74h2M70 74h3M83 74h2M53 75h1M57 75h2M62 75h2M71 75h4M83 75h2M56 76h1M64 76h1M73 76h5M83 76h2M64 77h1M75 77h3M83 77h2M65 78h1M74 78h4M83 78h2M65 79h1M72 79h6M83 79h2M66 80h10M83 80h2M66 81h7M83 81h2M83 82h2M83 83h2M83 84h2M83 85h2M83 86h2M83 87h2M83 88h2M83 89h2M83 90h2M83 91h2M83 92h2M83 93h2M83 94h2M83 95h2M83 96h2M83 97h2M83 98h2M83 99h2M83 100h2M83 101h2M83 102h2M83 103h2M83 104h2M83 105h2M83 106h2M83 107h2M83 108h2M83 109h2M83 110h2M83 111h2M83 112h2M83 113h2M83 114h2M83 115h2M83 116h2M83 117h2M83 118h2M83 119h2"/><path stroke="#3f4889" d="M81 0h2M81 1h2M81 2h2M81 3h2M81 4h2M81 5h2M81 6h2M81 7h2M81 8h2M81 9h2M81 10h2M81 11h2M81 12h2M81 13h2M81 14h2M81 15h2M81 16h2M81 17h2M81 18h2M81 19h2M81 20h2M81 21h2M81 22h2M81 23h2M81 24h2M81 25h2M81 26h2M81 27h2M81 28h2M81 29h2M80 30h3M80 31h3M80 32h3M80 33h3M80 34h3M79 35h4M67 36h5M77 36h6M66 37h17M65 38h2M72 38h11M65 39h1M76 39h7M43 40h1M64 40h1M77 40h6M64 41h1M78 41h5M63 42h1M78 42h5M55 43h3M63 43h1M78 43h5M53 44h1M58 44h5M76 44h7M73 45h10M72 46h11M51 47h1M71 47h2M80 47h3M70 48h2M80 48h3M70 49h1M80 49h3M69 50h2M81 50h2M69 51h1M81 51h2M68 52h2M81 52h2M68 53h1M81 53h2M68 54h1M81 54h2M68 55h1M81 55h2M67 56h1M81 56h2M67 57h1M81 57h2M67 58h1M81 58h2M67 59h1M81 59h2M67 60h1M81 60h2M67 61h1M81 61h2M67 62h1M81 62h2M67 63h1M81 63h2M67 64h2M81 64h2M68 65h1M81 65h2M68 66h1M81 66h2M68 67h2M81 67h2M69 68h1M81 68h2M69 69h2M81 69h2M44 70h1M69 70h2M80 70h3M70 71h2M80 71h3M71 72h2M80 72h3M72 73h2M78 73h5M73 74h10M52 75h1M59 75h3M75 75h8M54 76h2M57 76h1M62 76h2M78 76h5M63 77h1M78 77h5M64 78h1M78 78h5M64 79h1M78 79h5M64 80h2M76 80h7M65 81h1M73 81h10M65 82h18M66 83h17M79 84h4M80 85h3M80 86h3M80 87h3M80 88h3M80 89h3M81 90h2M81 91h2M81 92h2M81 93h2M81 94h2M81 95h2M81 96h2M81 97h2M81 98h2M81 99h2M81 100h2M81 101h2M81 102h2M81 103h2M81 104h2M81 105h2M81 106h2M81 107h2M81 108h2M81 109h2M81 110h2M81 111h2M81 112h2M81 113h2M81 114h2M81 115h2M81 116h2M81 117h2M81 118h2M81 119h2"/><path stroke="#3e4a89" d="M0 0h5M78 0h3M0 1h5M78 1h3M0 2h5M78 2h3M0 3h5M78 3h3M0 4h5M78 4h3M78 5h3M78 6h3M78 7h3M78 8h3M78 9h3M78 10h3M78 11h3M78 12h3M78 13h3M78 14h3M78 15h3M78 16h3M78 17h3M78 18h3M78 19h3M78 20h3M78 21h3M78 22h3M78 23h3M78 24h3M78 25h3M78 26h3M78 27h3M78 28h3M78 29h3M78 30h2M77 31h3M77 32h3M76 33h4M67 34h6M74 34h6M65 35h14M65 36h2M72 36h5M64 37h2M64 38h1M63 39h2M63 40h1M56 41h1M63 41h1M55 42h3M62 42h1M54 43h1M58 43h1M61 43h2M44 44h1M51 44h2M73 47h7M72 48h2M76 48h4M44 49h1M51 49h1M71 49h2M77 49h3M71 50h1M78 50h3M70 51h2M78 51h3M70 52h1M79 52h2M69 53h2M79 53h2M43 54h1M69 54h1M79 54h2M69 55h1M79 55h2M68 56h2M79 56h2M68 57h1M80 57h1M68 58h1M80 58h1M68 59h1M80 59h1M68 60h1M80 60h1M68 61h1M80 61h1M68 62h1M80 62h1M68 63h2M79 63h2M69 64h1M79 64h2M43 65h1M69 65h1M79 65h2M69 66h2M79 66h2M70 67h1M79 67h2M70 68h2M78 68h3M71 69h1M78 69h3M71 70h2M78 70h2M72 71h1M76 71h4M73 72h7M74 73h4M51 75h1M53 76h1M58 76h4M55 77h3M62 77h1M55 78h2M63 78h1M63 79h1M63 80h1M63 81h2M64 82h1M64 83h2M65 84h14M66 85h14M76 86h4M77 87h3M77 88h3M78 89h2M78 90h3M78 91h3M78 92h3M78 93h3M78 94h3M78 95h3M78 96h3M78 97h3M78 98h3M78 99h3M78 100h3M78 101h3M78 102h3M78 103h3M78 104h3M78 105h3M78 106h3M78 107h3M78 108h3M78 109h3M78 110h3M78 111h3M78 112h3M78 113h3M78 114h3M0 115h5M78 115h3M0 116h5M78 116h3M0 117h5M78 117h3M0 118h5M78 118h3M0 119h5M78 119h3"/><path stroke="#3d4d8a" d="M74 0h4M74 1h4M74 2h4M74 3h4M74 4h4M74 5h4M74 6h4M74 7h4M74 8h4M74 9h4M74 10h4M74 11h4M74 12h4M74 13h4M74 14h4M74 15h4M74 16h4M74 17h4M74 18h4M74 19h4M74 20h4M74 21h4M74 22h4M74 23h4M74 24h4M74 25h4M74 26h4M74 27h4M74 28h4M74 29h4M74 30h4M74 31h3M66 32h11M65 33h11M64 34h3M73 34h1M56 35h1M63 35h2M55 36h2M63 36h2M55 37h3M62 37h2M55 38h3M62 38h2M55 39h3M62 39h1M55 40h3M62 40h1M55 41h1M57 41h2M61 41h2M54 42h1M58 42h1M61 42h1M53 43h1M59 43h2M44 48h1M74 48h2M73 49h4M72 50h2M75 50h3M72 51h1M76 51h2M71 52h2M77 52h2M71 53h1M77 53h2M70 54h2M77 54h2M70 55h1M78 55h1M70 56h1M78 56h1M69 57h2M78 57h2M69 58h1M78 58h2M69 59h1M78 59h2M69 60h1M78 60h2M69 61h1M78 61h2M69 62h2M78 62h2M70 63h1M78 63h1M70 64h1M78 64h1M70 65h2M77 65h2M43 66h1M71 66h1M77 66h2M71 67h1M77 67h2M72 68h1M76 68h2M72 69h2M75 69h3M73 70h5M44 71h1M73 71h3M44 72h1M44 75h1M52 76h1M54 77h1M58 77h4M54 78h1M57 78h2M61 78h2M43 79h1M45 79h1M55 79h3M62 79h1M55 80h3M62 80h1M55 81h3M62 81h1M55 82h3M62 82h2M55 83h3M63 83h1M56 84h1M63 84h2M64 85h2M65 86h11M66 87h11M73 88h4M74 89h4M74 90h4M74 91h4M74 92h4M74 93h4M74 94h4M74 95h4M74 96h4M74 97h4M74 98h4M74 99h4M74 100h4M74 101h4M74 102h4M74 103h4M74 104h4M74 105h4M74 106h4M74 107h4M74 108h4M74 109h4M74 110h4M74 111h4M74 112h4M74 113h4M74 114h4M74 115h4M74 116h4M74 117h4M74 118h4M74 119h4"/><path stroke="#3b518b" d="M53 0h9M53 1h9M53 2h9M53 3h9M53 4h9M53 5h9M53 6h9M53 7h9M53 8h9M53 9h9M53 10h9M53 11h9M53 12h9M53 13h9M53 14h9M53 15h9M53 16h9M53 17h9M53 18h9M53 19h9M53 20h9M53 21h9M53 22h9M53 23h9M53 24h9M53 25h9M53 26h3M57 26h5M53 27h3M58 27h4M53 28h2M58 28h4M53 29h2M58 29h4M53 30h2M59 30h3M53 31h2M59 31h3M53 32h1M59 32h3M53 33h1M59 33h2M53 34h1M60 34h1M53 35h1M53 36h1M53 37h1M53 38h1M53 39h1M53 40h1M53 41h1M51 43h1M43 52h1M74 53h1M73 54h3M73 55h3M72 56h4M72 57h1M75 57h2M72 58h1M76 58h1M71 59h1M76 59h1M71 60h1M76 60h1M71 61h2M76 61h1M72 62h1M75 62h2M72 63h2M75 63h2M73 64h3M73 65h3M74 66h1M43 67h1M52 77h1M53 78h1M53 79h1M53 80h1M53 81h1M53 82h1M53 83h1M53 84h1M53 85h1M60 85h1M53 86h1M59 86h2M53 87h1M59 87h3M53 88h2M59 88h3M53 89h2M59 89h3M53 90h2M58 90h4M53 91h2M58 91h4M53 92h2M58 92h4M53 93h3M57 93h5M53 94h9M53 95h9M53 96h9M53 97h9M53 98h9M53 99h9M53 100h9M53 101h9M53 102h9M53 103h9M53 104h9M53 105h9M53 106h9M53 107h9M53 108h9M53 109h9M53 110h9M53 111h9M53 112h9M53 113h9M53 114h9M53 115h9M53 116h9M53 117h9M53 118h9M53 119h9"/><path stroke="#3a538b" d="M6 0h1M48 0h5M6 1h1M48 1h5M6 2h1M48 2h5M6 3h1M48 3h5M6 4h1M48 4h5M5 5h1M48 5h5M48 6h5M48 7h5M48 8h5M48 9h5M48 10h5M48 11h5M48 12h5M48 13h5M48 14h5M48 15h5M48 16h5M48 17h5M48 18h5M48 19h5M48 20h5M48 21h5M48 22h5M49 23h4M49 24h4M50 25h3M50 26h3M50 27h3M50 28h3M51 29h2M51 30h2M51 31h2M51 32h2M51 33h2M52 34h1M52 35h1M52 36h1M52 37h1M44 38h1M52 38h1M52 39h1M52 40h1M52 41h1M52 42h1M50 43h1M50 45h1M43 51h1M73 57h2M73 58h3M72 59h4M72 60h4M73 61h3M73 62h2M74 63h1M43 68h1M50 76h1M52 78h1M52 79h1M52 80h1M52 81h1M52 82h1M52 83h1M52 84h1M52 85h1M52 86h1M51 87h2M51 88h2M51 89h2M51 90h2M51 91h2M50 92h3M50 93h3M50 94h3M49 95h4M49 96h4M48 97h5M48 98h5M48 99h5M48 100h5M48 101h5M48 102h5M48 103h5M48 104h5M48 105h5M48 106h5M48 107h5M48 108h5M48 109h5M48 110h5M48 111h5M48 112h5M48 113h5M5 114h1M48 114h5M6 115h1M48 115h5M6 116h1M48 116h5M6 117h1M48 117h5M6 118h1M48 118h5M6 119h1M48 119h5"/><path stroke="#39558c" d="M46 0h2M46 1h2M46 2h2M46 3h2M46 4h2M46 5h2M0 6h5M46 6h2M46 7h2M46 8h2M46 9h2M46 10h2M46 11h2M46 12h2M46 13h2M46 14h2M46 15h2M46 16h2M46 17h2M46 18h2M46 19h2M46 20h2M46 21h2M46 22h2M46 23h3M46 24h3M46 25h4M46 26h4M46 27h4M46 28h4M46 29h5M46 30h5M46 31h5M46 32h5M46 33h2M50 33h1M46 34h1M50 34h2M51 35h1M51 36h1M51 37h1M51 38h1M51 42h1M43 50h1M43 69h1M50 74h1M51 77h1M51 81h1M51 82h1M51 83h1M51 84h1M46 85h1M50 85h2M46 86h2M50 86h2M46 87h5M46 88h5M46 89h5M46 90h5M46 91h5M46 92h4M46 93h4M46 94h4M46 95h3M46 96h3M46 97h2M46 98h2M46 99h2M46 100h2M46 101h2M46 102h2M46 103h2M46 104h2M46 105h2M46 106h2M46 107h2M46 108h2M46 109h2M46 110h2M46 111h2M46 112h2M0 113h5M46 113h2M46 114h2M46 115h2M46 116h2M46 117h2M46 118h2M46 119h2"/><path stroke="#38588c" d="M45 0h1M45 1h1M45 2h1M45 3h1M45 4h1M6 5h1M45 5h1M45 6h1M45 7h1M45 8h1M45 9h1M45 10h1M45 11h1M45 12h1M45 13h1M45 14h1M45 15h1M45 16h1M45 17h1M45 18h1M45 19h1M45 20h1M45 21h1M45 22h1M45 23h1M45 24h1M45 25h1M45 26h1M45 27h1M45 28h1M45 29h1M45 30h1M45 31h1M45 32h1M45 33h1M48 33h2M47 34h3M46 35h5M47 36h4M47 37h2M50 37h1M50 38h1M51 39h1M51 40h1M43 41h1M51 41h1M50 42h1M43 49h1M43 70h1M50 77h1M51 78h1M51 79h1M51 80h1M50 81h1M47 82h2M50 82h1M47 83h4M46 84h5M47 85h3M45 86h1M48 86h2M45 87h1M45 88h1M45 89h1M45 90h1M45 91h1M45 92h1M45 93h1M45 94h1M45 95h1M45 96h1M45 97h1M45 98h1M45 99h1M45 100h1M45 101h1M45 102h1M45 103h1M45 104h1M45 105h1M45 106h1M45 107h1M45 108h1M45 109h1M45 110h1M45 111h1M45 112h1M45 113h1M6 114h1M45 114h1M7 115h1M45 115h1M7 116h1M45 116h1M7 117h1M45 117h1M7 118h1M45 118h1M7 119h1M45 119h1"/><path stroke="#375a8c" d="M7 0h1M7 1h1M7 2h1M7 3h1M7 4h1M5 6h1M49 37h1M47 38h3M48 39h3M45 40h1M49 40h2M50 41h1M49 42h1M48 46h1M43 48h1M51 48h1M43 71h1M43 72h1M43 78h1M49 78h2M49 79h2M48 80h3M48 81h2M49 82h1M5 113h1"/><path stroke="#365c8d" d="M44 0h1M44 1h1M44 2h1M44 3h1M44 4h1M44 5h1M44 6h1M0 7h5M44 7h1M44 8h1M45 34h1M46 36h1M48 40h1M49 41h1M43 46h1M43 47h1M42 58h1M42 59h1M42 60h1M42 61h1M43 73h1M49 77h1M48 79h1M47 81h1M44 111h1M44 112h1M6 113h1M44 113h1M7 114h1M44 114h1M8 115h1M44 115h1M8 116h1M44 116h1M8 117h1M44 117h1M8 118h1M44 118h1M8 119h1M44 119h1"/><path stroke="#355e8d" d="M7 5h1M6 6h1M44 9h1M44 10h1M44 11h1M44 12h1M44 13h1M44 14h1M44 15h1M44 16h1M44 17h1M44 18h1M44 19h1M44 20h1M44 21h1M44 22h1M44 23h1M44 24h1M44 25h1M44 26h1M44 27h1M44 28h1M44 29h1M44 30h1M44 31h1M43 42h1M43 44h1M43 45h1M42 57h1M42 62h1M42 63h1M50 71h1M43 74h1M43 75h1M47 75h1M43 77h1M46 83h1M45 85h1M44 89h1M44 90h1M44 91h1M44 92h1M44 93h1M44 94h1M44 95h1M44 96h1M44 97h1M44 98h1M44 99h1M44 100h1M44 101h1M44 102h1M44 103h1M44 104h1M44 105h1M44 106h1M44 107h1M44 108h1M44 109h1M44 110h1M0 112h5"/><path stroke="#34608d" d="M8 0h1M8 1h1M8 2h1M8 3h1M8 4h1M5 7h1M43 43h1M49 43h1M42 55h1M42 56h1M42 64h1M51 71h1M43 76h1M44 88h1M5 112h1M8 114h1M9 115h1M9 116h1M9 117h1M9 118h1M9 119h1"/><path stroke="#33628d" d="M8 5h1M7 6h1M42 54h1M42 65h1M42 66h1M49 72h1M49 76h1M46 77h1M7 113h1"/><path stroke="#32648e" d="M9 0h1M9 1h1M9 2h1M9 3h1M9 4h1M6 7h1M0 8h5M44 32h1M48 41h1M42 52h1M42 53h1M42 67h1M0 111h5M6 112h1M9 114h1"/><path stroke="#31668e" d="M5 8h1M47 39h1M42 51h1M42 68h1M42 69h1M44 87h1M8 113h1M10 115h1M10 116h1M10 117h1M10 118h1M10 119h1"/><path stroke="#31688e" d="M9 5h1M8 6h1M7 7h1M42 49h1M42 50h1M42 70h1M48 78h1M43 82h1M5 111h1M7 112h1"/><path stroke="#306a8e" d="M10 0h1M43 0h1M10 1h1M43 1h1M10 2h1M43 2h1M10 3h1M43 3h1M10 4h1M43 4h1M43 5h1M6 8h1M43 37h1M50 46h1M42 48h1M42 71h1M42 72h1M6 111h1M9 113h1M10 114h1M43 114h1M11 115h1M43 115h1M11 116h1M43 116h1M11 117h1M43 117h1M11 118h1M43 118h1M11 119h1M43 119h1"/><path stroke="#2f6c8e" d="M9 6h1M43 6h1M43 7h1M43 8h1M0 9h5M46 37h1M47 44h1M42 46h1M42 47h1M42 73h1M47 80h1M0 110h5M43 111h1M8 112h1M43 112h1M43 113h1M12 115h1M12 116h1M12 117h1M12 118h1M12 119h1"/><path stroke="#2e6e8e" d="M11 0h1M11 1h1M11 2h1M11 3h1M11 4h1M10 5h1M8 7h1M7 8h1M5 9h1M43 9h1M43 10h1M43 11h1M43 12h1M43 13h1M43 14h1M43 15h1M43 16h1M43 17h1M43 18h1M43 19h1M43 20h1M43 21h1M43 22h1M43 23h1M43 24h1M43 25h1M43 26h1M43 27h1M43 28h1M43 29h1M45 35h1M46 42h1M42 44h1M42 45h1M41 58h1M41 59h1M41 60h1M41 61h1M41 62h1M42 74h1M42 75h1M43 90h1M43 91h1M43 92h1M43 93h1M43 94h1M43 95h1M43 96h1M43 97h1M43 98h1M43 99h1M43 100h1M43 101h1M43 102h1M43 103h1M43 104h1M43 105h1M43 106h1M43 107h1M43 108h1M43 109h1M5 110h1M43 110h1M7 111h1M10 113h1M11 114h1"/><path stroke="#2d708e" d="M6 9h1M42 38h1M42 43h1M41 54h1M41 55h1M41 56h1M41 57h1M41 63h1M41 64h1M41 65h1M42 76h1M42 81h1M9 112h1M12 114h1M13 115h1M13 116h1M13 117h1M13 118h1M13 119h1"/><path stroke="#2c718e" d="M12 0h1M12 1h1M12 2h1M12 3h1M12 4h1M11 5h1M10 6h1M9 7h1M8 8h1M0 10h5M43 30h1M42 39h1M42 40h1M42 41h1M42 42h1M50 48h1M41 51h1M41 52h1M41 53h1M41 66h1M41 67h1M41 68h1M42 77h1M42 78h1M42 79h1M42 80h1M6 110h1M8 111h1M11 113h1M13 114h1M14 115h1M14 116h1M14 117h1M14 118h1M14 119h1"/><path stroke="#2c738e" d="M13 0h1M13 1h1M13 2h1M13 3h1M13 4h1M12 5h1M7 9h1M5 10h1M44 33h1M41 49h1M41 50h1M41 69h1M41 70h1M41 71h1M46 82h1M43 83h1M43 89h1M0 109h5M10 112h1M12 113h1M14 114h1M15 115h1M15 116h1M15 117h1M15 118h1M15 119h1"/><path stroke="#2b758e" d="M11 6h1M10 7h1M9 8h1M6 10h1M41 47h1M41 48h1M40 58h1M40 59h1M40 60h1M40 61h1M41 72h1M50 73h1M44 82h1M5 109h1M7 110h1M9 111h1M11 112h1M13 113h1M16 115h1M16 116h1M16 117h1M16 118h1M16 119h1"/><path stroke="#2a778e" d="M14 0h1M14 1h1M14 2h1M14 3h1M14 4h1M13 5h1M12 6h1M8 9h1M0 11h5M42 37h1M49 44h1M41 46h1M49 47h1M40 54h1M40 55h1M40 56h1M40 57h1M40 62h1M40 63h1M40 64h1M40 65h1M41 73h1M42 82h1M45 84h1M0 108h5M6 109h1M8 110h1M15 114h1"/><path stroke="#29798e" d="M15 0h1M15 1h1M15 2h1M15 3h1M15 4h1M14 5h1M13 6h1M11 7h1M10 8h1M7 10h1M5 11h1M42 36h2M41 44h1M41 45h1M40 51h1M40 52h1M40 53h1M40 66h1M40 67h1M40 68h1M41 74h1M41 75h1M42 83h1M5 108h1M10 111h1M12 112h1M14 113h1M16 114h1M17 115h2M17 116h2M17 117h2M17 118h2M17 119h2"/><path stroke="#297b8e" d="M16 0h1M42 0h1M16 1h1M42 1h1M16 2h1M42 2h1M16 3h1M42 3h1M16 4h1M42 4h1M15 5h1M42 5h1M14 6h1M42 6h1M12 7h1M9 9h1M6 11h1M0 12h5M41 43h1M40 49h1M40 50h1M39 59h1M39 60h1M39 61h1M40 69h1M40 70h1M41 76h1M45 80h1M42 84h1M0 107h5M7 109h1M9 110h1M11 111h1M13 112h1M15 113h1M17 114h1M42 114h1M19 115h1M42 115h1M19 116h1M42 116h1M19 117h1M42 117h1M19 118h1M42 118h1M19 119h1M42 119h1"/><path stroke="#287d8e" d="M17 0h1M17 1h1M17 2h1M17 3h1M17 4h1M16 5h1M15 6h1M13 7h1M42 7h1M11 8h1M10 9h1M8 10h1M7 11h1M5 12h1M42 35h1M41 42h1M48 42h1M40 48h1M39 56h1M39 57h1M39 58h1M39 62h1M39 63h1M40 71h1M48 74h1M41 77h1M41 78h1M44 86h1M5 107h1M6 108h1M8 109h1M10 110h1M12 111h1M14 112h1M42 112h1M16 113h1M42 113h1M18 114h1M20 115h1M20 116h1M20 117h1M20 118h1M20 119h1"/><path stroke="#277f8e" d="M18 0h1M18 1h1M18 2h1M18 3h1M18 4h1M17 5h1M14 7h1M12 8h1M42 8h1M42 9h1M9 10h1M6 12h1M0 13h5M42 26h1M42 27h1M42 28h1M42 29h1M42 30h1M41 40h1M47 40h1M41 41h1M40 47h1M39 53h1M39 54h1M39 55h1M39 64h1M39 65h1M39 66h1M40 72h1M40 73h1M49 75h1M41 79h1M42 89h1M42 90h1M42 91h1M42 92h1M42 93h1M0 106h5M6 107h1M7 108h1M9 109h1M42 110h1M13 111h1M42 111h1M15 112h1M17 113h1M19 114h2M21 115h2M21 116h2M21 117h2M21 118h2M21 119h2"/><path stroke="#26818e" d="M19 0h2M19 1h2M19 2h2M19 3h2M19 4h2M18 5h1M16 6h1M15 7h1M13 8h1M11 9h1M10 10h1M42 10h1M8 11h1M42 11h1M7 12h1M42 12h1M5 13h1M42 13h1M0 14h5M42 14h1M42 15h1M42 16h1M42 17h1M42 18h1M42 19h1M42 20h1M42 21h1M42 22h1M42 23h1M42 24h1M42 25h1M41 39h1M40 46h1M39 51h1M39 52h1M38 59h1M38 60h1M39 67h1M39 68h1M40 74h1M41 80h1M41 81h1M42 94h1M42 95h1M42 96h1M42 97h1M42 98h1M42 99h1M42 100h1M42 101h1M42 102h1M42 103h1M42 104h1M42 105h1M5 106h1M42 106h1M42 107h1M8 108h1M42 108h1M42 109h1M11 110h1M14 111h1M16 112h1M18 113h2M21 114h2M23 115h1M23 116h1M23 117h1M23 118h1M23 119h1"/><path stroke="#26828e" d="M21 0h2M21 1h2M21 2h2M21 3h2M21 4h2M19 5h2M17 6h2M16 7h1M14 8h1M12 9h1M9 11h1M6 13h1M5 14h1M41 37h1M41 38h1M40 44h1M40 45h1M39 50h1M38 57h1M38 58h1M38 61h1M38 62h1M39 69h1M39 70h1M40 75h1M41 82h1M0 105h5M6 106h1M7 107h1M10 109h1M12 110h2M15 111h1M17 112h2M20 113h2M23 114h1M24 115h2M24 116h2M24 117h2M24 118h2M24 119h2"/><path stroke="#25848e" d="M23 0h3M41 0h1M23 1h3M41 1h1M23 2h3M41 2h1M23 3h3M41 3h1M23 4h3M41 4h1M21 5h3M41 5h1M19 6h2M17 7h1M15 8h1M13 9h2M11 10h1M10 11h1M8 12h1M7 13h1M6 14h1M0 15h5M43 31h1M41 36h1M40 43h1M39 49h1M38 55h1M38 56h1M38 63h1M38 64h1M39 71h1M40 76h1M41 83h1M5 105h1M7 106h1M8 107h1M9 108h1M11 109h1M14 110h1M16 111h1M19 112h1M22 113h1M24 114h2M41 114h1M26 115h2M41 115h1M26 116h2M41 116h1M26 117h2M41 117h1M26 118h2M41 118h1M26 119h2M41 119h1"/><path stroke="#24868e" d="M26 0h2M26 1h2M26 2h2M26 3h2M26 4h2M24 5h2M21 6h2M41 6h1M18 7h2M16 8h2M15 9h1M12 10h2M11 11h1M9 12h1M8 13h1M5 15h1M41 35h1M40 42h1M39 48h1M38 53h1M38 54h1M38 65h1M38 66h1M39 72h1M40 77h1M48 77h1M40 78h1M41 84h1M42 85h1M0 104h5M6 105h1M9 107h1M10 108h1M12 109h1M15 110h1M17 111h2M20 112h2M23 113h2M41 113h1M26 114h1M28 115h1M28 116h1M28 117h1M28 118h1M28 119h1"/><path stroke="#23888e" d="M28 0h2M40 0h1M28 1h2M40 1h1M28 2h2M40 2h1M28 3h2M40 3h1M28 4h2M40 4h1M26 5h2M23 6h2M20 7h2M41 7h1M18 8h1M41 8h1M16 9h1M14 10h1M12 11h1M10 12h1M9 13h1M7 14h1M6 15h1M0 16h5M41 34h1M40 40h1M40 41h1M39 47h1M38 51h1M38 52h1M37 59h1M37 60h1M38 67h1M40 79h1M41 85h1M0 103h5M5 104h1M7 105h1M8 106h1M10 107h1M11 108h1M13 109h2M16 110h1M19 111h2M41 111h1M22 112h2M41 112h1M25 113h2M27 114h2M29 115h2M40 115h1M29 116h2M40 116h1M29 117h2M40 117h1M29 118h2M40 118h1M29 119h2M40 119h1"/><path stroke="#238a8d" d="M30 0h10M30 1h10M30 2h10M30 3h10M30 4h10M28 5h2M39 5h2M25 6h2M40 6h1M22 7h2M19 8h2M17 9h2M41 9h1M15 10h1M13 11h1M11 12h1M8 14h1M7 15h1M5 16h1M41 33h1M46 38h1M40 39h1M45 39h1M39 46h1M38 50h1M37 57h1M37 58h1M37 61h1M37 62h1M38 68h1M38 69h1M39 73h1M47 79h1M40 80h1M41 86h1M43 88h1M5 103h1M6 104h1M8 105h1M9 106h1M11 107h1M12 108h2M15 109h1M17 110h2M41 110h1M21 111h1M24 112h2M27 113h1M40 113h1M29 114h2M39 114h2M31 115h9M31 116h9M31 117h9M31 118h9M31 119h9"/><path stroke="#228c8d" d="M30 5h9M27 6h3M39 6h1M24 7h3M40 7h1M21 8h3M19 9h2M16 10h2M41 10h1M14 11h2M41 11h1M12 12h1M41 12h1M10 13h1M41 13h1M9 14h1M41 14h1M8 15h1M41 15h1M6 16h1M41 16h1M0 17h5M41 17h1M41 18h1M41 19h1M41 20h1M41 21h1M41 22h1M41 23h1M41 24h1M41 25h1M41 26h1M41 27h1M41 28h1M41 29h1M41 30h1M42 34h1M40 37h1M44 37h1M40 38h1M39 45h1M50 47h1M38 49h1M37 55h1M37 56h1M37 63h1M37 64h1M38 70h1M50 72h1M39 74h1M40 81h1M40 82h1M41 89h1M41 90h1M41 91h1M41 92h1M41 93h1M41 94h1M41 95h1M41 96h1M41 97h1M41 98h1M41 99h1M41 100h1M41 101h1M0 102h5M41 102h1M6 103h1M41 103h1M7 104h1M41 104h1M9 105h1M41 105h1M10 106h1M41 106h1M12 107h1M41 107h1M14 108h1M41 108h1M16 109h2M41 109h1M19 110h2M22 111h2M26 112h1M40 112h1M28 113h2M39 113h1M31 114h8"/><path stroke="#218e8d" d="M30 6h9M27 7h2M39 7h1M24 8h2M40 8h1M21 9h2M18 10h2M16 11h1M13 12h2M11 13h2M10 14h1M7 16h1M5 17h1M40 36h1M39 44h1M48 45h1M37 54h1M37 65h1M39 75h1M40 83h1M41 87h1M5 102h1M7 103h1M8 104h1M11 106h1M13 107h1M15 108h1M18 109h1M21 110h2M24 111h2M40 111h1M27 112h2M39 112h1M30 113h2M34 113h5"/><path stroke="#21908d" d="M29 7h2M35 7h4M26 8h2M38 8h2M23 9h2M40 9h1M20 10h2M40 10h1M17 11h2M15 12h1M13 13h1M11 14h1M9 15h1M8 16h1M6 17h1M0 18h6M41 32h1M40 35h1M39 43h1M38 48h1M37 52h1M37 53h1M37 66h1M38 71h1M39 76h1M47 76h1M40 84h1M0 101h5M6 102h1M9 104h1M10 105h1M12 106h1M14 107h2M16 108h2M19 109h2M40 109h1M23 110h2M40 110h1M26 111h2M39 111h1M29 112h2M36 112h3M32 113h2"/><path stroke="#20928c" d="M31 7h4M28 8h2M36 8h2M25 9h2M38 9h2M22 10h2M39 10h1M19 11h2M40 11h1M16 12h2M40 12h1M14 13h1M40 13h1M12 14h1M40 14h1M10 15h1M40 15h1M9 16h1M7 17h1M6 18h1M0 19h5M40 33h1M40 34h1M39 42h1M38 47h1M37 51h1M37 67h1M37 68h1M38 72h1M39 77h1M39 78h1M43 84h1M40 85h1M40 86h1M5 101h1M7 102h1M8 103h1M10 104h1M40 104h1M11 105h2M40 105h1M13 106h2M40 106h1M16 107h1M40 107h1M18 108h2M40 108h1M21 109h2M25 110h2M39 110h1M28 111h2M37 111h2M31 112h5"/><path stroke="#20938c" d="M30 8h6M27 9h2M36 9h2M24 10h2M38 10h1M21 11h2M39 11h1M18 12h1M15 13h2M13 14h1M11 15h1M10 16h1M40 16h1M8 17h1M40 17h1M7 18h1M40 18h1M5 19h1M40 19h1M40 20h1M40 21h1M40 22h1M40 23h1M40 24h1M40 25h1M40 31h1M40 32h1M45 36h1M39 40h1M39 41h1M37 50h1M36 58h1M36 59h1M36 60h1M36 61h1M37 69h1M46 78h1M39 79h1M40 87h1M40 88h1M40 95h1M40 96h1M40 97h1M40 98h1M40 99h1M0 100h6M40 100h1M6 101h1M40 101h1M8 102h1M40 102h1M9 103h1M40 103h1M11 104h1M13 105h1M15 106h1M17 107h1M20 108h2M39 108h1M23 109h2M39 109h1M27 110h2M37 110h2M30 111h7"/><path stroke="#1f958b" d="M29 9h7M26 10h2M37 10h1M23 11h2M38 11h1M19 12h2M39 12h1M17 13h1M39 13h1M14 14h2M39 14h1M12 15h2M11 16h1M9 17h1M8 18h1M6 19h1M0 20h5M40 26h1M40 27h1M40 28h1M40 29h1M40 30h1M41 31h1M39 39h1M38 46h1M36 56h1M36 57h1M36 62h1M36 63h1M38 73h1M39 80h1M39 81h1M41 88h1M40 89h1M40 90h1M40 91h1M40 92h1M40 93h1M40 94h1M6 100h1M7 101h1M9 102h1M10 103h1M12 104h1M14 105h1M39 105h1M16 106h1M39 106h1M18 107h2M39 107h1M22 108h2M38 108h1M25 109h3M37 109h2M29 110h2M34 110h3"/><path stroke="#1f978b" d="M28 10h3M34 10h3M25 11h2M37 11h1M21 12h2M38 12h1M18 13h2M38 13h1M16 14h1M14 15h1M39 15h1M12 16h1M39 16h1M10 17h1M39 17h1M9 18h1M7 19h1M5 20h1M44 34h1M39 37h1M39 38h1M38 45h1M37 49h1M36 54h1M36 55h1M36 64h1M37 70h1M49 73h1M38 74h1M46 81h1M39 82h1M0 99h6M7 100h1M8 101h1M10 102h1M11 103h2M39 103h1M13 104h1M39 104h1M15 105h2M17 106h2M20 107h2M38 107h1M24 108h2M37 108h1M28 109h2M35 109h2M31 110h3"/><path stroke="#1f998a" d="M31 10h3M27 11h2M35 11h2M23 12h2M37 12h1M20 13h1M17 14h2M38 14h1M15 15h1M13 16h1M11 17h1M10 18h1M39 18h1M8 19h1M39 19h1M6 20h1M0 21h6M39 36h1M37 48h1M36 53h1M36 65h1M36 66h1M37 71h1M38 75h1M39 83h1M39 84h1M42 86h1M0 98h5M6 99h1M8 100h1M39 100h1M9 101h1M39 101h1M11 102h1M39 102h1M13 103h1M14 104h2M17 105h1M38 105h1M19 106h1M38 106h1M22 107h2M37 107h1M26 108h2M36 108h1M30 109h5"/><path stroke="#1e9b8a" d="M29 11h6M25 12h2M36 12h1M21 13h2M37 13h1M19 14h1M16 15h2M38 15h1M14 16h2M38 16h1M12 17h2M11 18h1M9 19h1M7 20h1M39 20h1M6 21h1M39 21h1M0 22h5M39 22h1M39 23h1M39 34h1M39 35h1M43 35h1M38 44h1M49 45h1M36 52h1M36 67h1M38 76h1M39 85h1M39 96h1M0 97h5M39 97h1M5 98h1M39 98h1M7 99h1M39 99h1M9 100h1M10 101h1M12 102h1M14 103h1M16 104h1M38 104h1M18 105h1M20 106h2M37 106h1M24 107h2M36 107h1M28 108h2M34 108h2"/><path stroke="#1e9d89" d="M27 12h2M34 12h2M23 13h2M36 13h1M20 14h1M37 14h1M18 15h1M16 16h1M14 17h1M38 17h1M12 18h1M10 19h1M8 20h2M7 21h1M5 22h1M0 23h5M39 24h1M39 25h1M39 26h1M39 27h1M39 33h1M46 41h1M38 43h1M37 47h1M36 51h1M36 68h1M37 72h1M38 77h1M39 86h1M39 92h1M39 93h1M39 94h1M39 95h1M5 97h1M6 98h2M8 99h1M10 100h1M11 101h1M13 102h1M38 102h1M15 103h1M38 103h1M17 104h1M19 105h2M37 105h1M22 106h2M36 106h1M26 107h2M35 107h1M30 108h4"/><path stroke="#1f9f88" d="M29 12h5M25 13h2M35 13h1M21 14h2M36 14h1M19 15h1M37 15h1M17 16h1M15 17h1M13 18h1M38 18h1M11 19h1M38 19h1M10 20h1M8 21h1M6 22h2M5 23h1M39 28h1M39 29h1M39 30h1M39 31h1M39 32h1M38 42h1M47 43h1M36 50h1M49 74h1M38 78h1M45 83h1M39 87h1M39 88h1M39 89h1M39 90h1M39 91h1M0 96h6M6 97h1M8 98h1M9 99h1M11 100h1M38 100h1M12 101h2M38 101h1M14 102h2M16 103h1M18 104h2M37 104h1M21 105h1M36 105h1M24 106h1M35 106h1M28 107h2M33 107h2"/><path stroke="#1fa188" d="M27 13h2M34 13h1M23 14h2M35 14h1M20 15h2M36 15h1M18 16h1M37 16h1M16 17h1M37 17h1M14 18h1M12 19h1M11 20h1M38 20h1M9 21h1M38 21h1M8 22h1M6 23h1M0 24h6M42 33h1M38 40h1M38 41h1M47 41h1M37 46h1M49 46h1M35 58h1M35 59h1M35 60h1M35 61h1M36 69h1M37 73h1M38 79h1M38 80h1M0 95h5M6 96h1M7 97h1M9 98h1M10 99h1M38 99h1M12 100h1M14 101h1M16 102h1M17 103h2M37 103h1M20 104h1M22 105h2M25 106h3M34 106h1M30 107h3"/><path stroke="#1fa287" d="M29 13h5M25 14h1M34 14h1M22 15h1M19 16h2M36 16h1M17 17h1M15 18h2M37 18h1M13 19h2M12 20h1M10 21h1M9 22h1M38 22h1M7 23h1M6 24h1M0 25h6M38 38h1M38 39h1M48 43h1M36 49h1M35 56h1M35 57h1M35 62h1M35 63h1M36 70h1M38 81h1M0 94h5M5 95h2M7 96h1M8 97h1M38 97h1M10 98h1M38 98h1M11 99h1M13 100h1M15 101h1M17 102h1M37 102h1M19 103h1M21 104h1M36 104h1M24 105h1M35 105h1M28 106h2M33 106h1"/><path stroke="#20a486" d="M26 14h3M33 14h1M23 15h1M35 15h1M21 16h1M18 17h2M17 18h1M15 19h1M37 19h1M13 20h1M11 21h1M10 22h1M8 23h1M38 23h1M7 24h1M38 24h1M6 25h1M38 25h1M0 26h5M43 32h1M38 37h1M37 45h1M35 54h1M35 55h1M35 64h1M35 65h1M37 74h1M38 82h1M38 83h1M0 93h5M5 94h1M7 95h1M38 95h1M8 96h1M38 96h1M9 97h1M11 98h1M12 99h2M14 100h1M37 100h1M16 101h1M37 101h1M18 102h1M20 103h1M36 103h1M22 104h2M35 104h1M25 105h2M34 105h1M30 106h3"/><path stroke="#21a685" d="M29 14h4M24 15h2M34 15h1M22 16h1M35 16h1M20 17h1M36 17h1M18 18h1M16 19h1M14 20h1M37 20h1M12 21h1M11 22h1M9 23h1M8 24h1M7 25h1M5 26h1M38 26h1M0 27h5M38 27h1M38 35h1M38 36h1M36 48h1M35 53h1M35 66h1M36 71h1M45 81h1M38 84h1M44 85h1M0 92h5M5 93h1M38 93h1M6 94h1M38 94h1M8 95h1M9 96h1M10 97h1M12 98h1M14 99h1M37 99h1M15 100h1M17 101h1M19 102h1M36 102h1M21 103h1M35 103h1M24 104h1M34 104h1M27 105h3M33 105h1"/><path stroke="#22a884" d="M26 15h3M33 15h1M23 16h1M21 17h1M35 17h1M19 18h1M36 18h1M17 19h1M15 20h1M13 21h2M37 21h1M12 22h1M10 23h1M9 24h1M8 25h1M6 26h1M5 27h1M0 28h5M38 28h1M38 29h1M38 34h1M37 44h1M35 52h1M35 67h1M37 75h1M48 75h1M38 85h1M38 86h1M38 91h1M5 92h1M38 92h1M6 93h1M7 94h1M9 95h1M10 96h1M11 97h2M13 98h1M37 98h1M15 99h1M16 100h2M18 101h1M36 101h1M20 102h1M22 103h2M25 104h2M30 105h3"/><path stroke="#24aa83" d="M29 15h4M24 16h2M34 16h1M22 17h1M20 18h1M18 19h1M36 19h1M16 20h1M15 21h1M13 22h1M37 22h1M11 23h2M37 23h1M10 24h1M9 25h1M7 26h1M6 27h1M5 28h1M38 30h1M38 31h1M38 32h1M38 33h1M46 39h1M36 47h1M35 51h1M35 68h1M37 76h1M48 76h1M38 87h1M38 88h1M38 89h1M38 90h1M0 91h6M6 92h1M7 93h1M8 94h1M10 95h1M11 96h1M13 97h1M37 97h1M14 98h1M16 99h1M18 100h1M36 100h1M19 101h1M21 102h1M35 102h1M24 103h1M34 103h1M27 104h3M33 104h1"/><path stroke="#25ac82" d="M26 16h2M33 16h1M23 17h1M34 17h1M21 18h1M35 18h1M19 19h1M17 20h1M36 20h1M16 21h1M14 22h1M13 23h1M11 24h1M37 24h1M10 25h1M8 26h1M7 27h1M6 28h1M0 29h6M37 43h1M35 50h1M35 69h1M36 72h1M37 77h1M47 78h1M44 83h1M42 87h2M42 88h1M0 90h5M6 91h1M7 92h1M8 93h1M9 94h1M11 95h1M37 95h1M12 96h1M37 96h1M14 97h1M15 98h1M17 99h1M36 99h1M19 100h1M20 101h1M35 101h1M22 102h2M25 103h2M33 103h1M30 104h3"/><path stroke="#27ad81" d="M28 16h5M24 17h2M22 18h1M20 19h1M35 19h1M18 20h1M17 21h1M36 21h1M15 22h1M14 23h1M12 24h1M11 25h1M37 25h1M9 26h1M8 27h1M7 28h1M6 29h1M0 30h6M37 42h1M34 59h1M34 60h1M37 78h1M37 79h1M0 89h5M5 90h1M7 91h1M8 92h1M9 93h1M10 94h1M37 94h1M12 95h1M13 96h1M15 97h1M16 98h1M36 98h1M18 99h1M20 100h1M35 100h1M21 101h2M24 102h1M34 102h1M27 103h2"/><path stroke="#29af7f" d="M26 17h2M33 17h1M23 18h1M34 18h1M21 19h1M19 20h1M35 20h1M18 21h1M16 22h1M36 22h1M15 23h1M13 24h1M12 25h1M10 26h1M37 26h1M9 27h1M37 27h1M8 28h1M7 29h1M6 30h1M0 31h5M42 31h1M45 38h1M37 39h1M37 40h1M37 41h1M36 46h1M35 49h1M34 56h1M34 57h1M34 58h1M34 61h1M34 62h1M34 63h1M35 70h1M36 73h1M37 80h1M37 81h1M37 82h1M0 88h5M5 89h1M6 90h1M8 91h1M9 92h1M10 93h1M37 93h1M11 94h1M13 95h1M14 96h1M16 97h1M36 97h1M17 98h1M19 99h1M21 100h1M23 101h1M34 101h1M25 102h2M33 102h1M29 103h4"/><path stroke="#2cb17e" d="M28 17h5M24 18h2M33 18h1M22 19h1M34 19h1M20 20h1M19 21h1M17 22h1M16 23h1M36 23h1M14 24h1M13 25h1M11 26h1M10 27h1M9 28h1M37 28h1M8 29h1M5 31h1M0 32h5M37 36h1M37 37h1M37 38h1M48 44h1M34 54h1M34 55h1M34 64h1M34 65h1M37 83h1M37 84h1M0 87h5M5 88h1M6 89h1M7 90h1M9 91h1M37 91h1M10 92h1M37 92h1M11 93h1M12 94h1M14 95h1M15 96h1M36 96h1M17 97h1M18 98h1M20 99h1M35 99h1M22 100h1M24 101h1M27 102h2M32 102h1"/><path stroke="#2eb37c" d="M26 18h2M23 19h1M21 20h1M35 21h1M18 22h1M17 23h1M15 24h1M36 24h1M14 25h1M12 26h1M11 27h1M10 28h1M9 29h1M37 29h1M7 30h1M6 31h1M5 32h1M42 32h1M0 33h5M37 34h1M37 35h1M44 36h1M45 37h1M36 45h1M35 48h1M34 53h1M34 66h1M35 71h1M36 74h1M46 79h1M46 80h1M37 85h1M5 87h1M6 88h1M7 89h1M8 90h1M37 90h1M10 91h1M11 92h1M12 93h1M13 94h1M15 95h1M36 95h1M16 96h1M18 97h1M19 98h1M35 98h1M21 99h1M23 100h1M34 100h1M25 101h2M33 101h1M29 102h3"/><path stroke="#31b57b" d="M28 18h5M24 19h2M33 19h1M22 20h1M34 20h1M20 21h1M19 22h1M35 22h1M18 23h1M16 24h1M15 25h1M36 25h1M13 26h1M12 27h1M11 28h1M10 29h1M8 30h2M37 30h1M7 31h1M37 31h1M6 32h1M37 32h1M5 33h1M37 33h1M0 34h5M46 40h1M34 51h1M34 52h1M34 67h1M0 86h6M37 86h1M6 87h1M37 87h1M7 88h1M37 88h1M8 89h1M37 89h1M9 90h1M11 91h1M12 92h1M13 93h1M14 94h1M36 94h1M16 95h1M17 96h1M19 97h1M35 97h1M20 98h1M22 99h1M34 99h1M24 100h1M33 100h1M27 101h3M32 101h1"/><path stroke="#34b679" d="M26 19h3M32 19h1M23 20h1M21 21h1M34 21h1M20 22h1M35 23h1M17 24h1M16 25h1M14 26h2M36 26h1M13 27h1M12 28h1M11 29h1M10 30h1M8 31h1M7 32h1M6 33h1M5 34h1M0 35h5M44 35h1M47 42h1M36 44h1M35 47h1M34 50h1M34 68h1M36 75h1M47 77h1M45 82h1M0 84h5M0 85h6M6 86h1M7 87h1M8 88h1M9 89h1M10 90h1M12 91h1M13 92h1M14 93h1M36 93h1M15 94h1M17 95h1M18 96h1M35 96h1M21 98h1M34 98h1M23 99h1M25 100h2M30 101h2"/><path stroke="#37b878" d="M29 19h3M24 20h2M33 20h1M22 21h1M21 22h1M34 22h1M19 23h1M18 24h1M35 24h1M17 25h1M16 26h1M14 27h1M36 27h1M13 28h1M12 29h1M11 30h1M9 31h2M8 32h2M7 33h1M6 34h1M5 35h1M0 36h5M34 69h1M35 72h1M36 76h1M0 83h5M5 84h1M6 85h1M7 86h1M8 87h1M9 88h1M10 89h1M11 90h1M13 91h1M14 92h1M36 92h1M15 93h1M16 94h2M18 95h1M35 95h1M19 96h1M20 97h1M22 98h1M24 99h1M33 99h1M27 100h6"/><path stroke="#3aba76" d="M26 20h4M32 20h1M23 21h1M33 21h1M20 23h1M19 24h1M18 25h1M35 25h1M17 26h1M15 27h1M14 28h1M36 28h1M13 29h1M36 29h1M12 30h1M11 31h1M10 32h1M8 33h2M7 34h2M6 35h2M5 36h1M0 37h5M36 43h1M34 49h1M33 58h1M33 59h1M33 60h1M33 61h1M34 70h1M36 77h1M0 82h5M5 83h1M6 84h1M7 85h1M43 85h1M8 86h1M9 87h1M10 88h1M11 89h1M12 90h1M14 91h1M36 91h1M15 92h1M16 93h1M35 94h1M19 95h1M20 96h1M21 97h1M34 97h1M23 98h1M33 98h1M25 99h3M32 99h1"/><path stroke="#3dbc74" d="M30 20h2M24 21h2M22 22h1M33 22h1M21 23h1M34 23h1M20 24h1M35 26h1M16 27h1M15 28h1M14 29h1M13 30h1M36 30h1M12 31h1M11 32h1M10 33h1M9 34h1M8 35h1M6 36h2M5 37h2M0 38h5M36 41h1M36 42h1M35 46h1M33 54h1M33 55h1M33 56h1M33 57h1M33 62h1M33 63h1M33 64h1M35 73h1M36 78h1M36 79h1M36 80h1M0 81h5M36 81h1M5 82h1M36 82h1M6 83h1M36 83h1M7 84h1M36 84h1M44 84h1M8 85h1M9 86h1M10 87h1M11 88h1M12 89h1M36 89h1M13 90h1M36 90h1M15 91h1M16 92h1M17 93h1M18 94h1M34 96h1M22 97h1M24 98h1M28 99h4"/><path stroke="#40bd72" d="M26 21h4M31 21h2M23 22h1M34 24h1M19 25h1M18 26h1M17 27h1M35 27h1M16 28h1M15 29h1M14 30h1M36 31h1M12 32h1M36 32h1M11 33h1M36 33h1M43 33h1M10 34h1M36 34h1M43 34h1M9 35h1M36 35h1M8 36h1M36 36h1M7 37h1M36 37h1M5 38h2M36 38h1M0 39h5M36 39h1M36 40h1M34 48h1M33 52h1M33 53h1M33 65h1M33 66h1M0 80h5M5 81h1M6 82h1M7 83h2M8 84h2M9 85h2M36 85h1M10 86h1M36 86h1M11 87h1M36 87h1M12 88h1M36 88h1M13 89h1M14 90h1M16 91h1M17 92h1M18 93h1M35 93h1M19 94h1M20 95h1M34 95h1M21 96h1M23 97h1M33 97h1M25 98h4M32 98h1"/><path stroke="#44bf70" d="M30 21h1M24 22h2M32 22h1M22 23h1M33 23h1M21 24h1M20 25h1M34 25h1M19 26h1M18 27h1M17 28h1M35 28h1M16 29h1M15 30h1M13 31h1M12 33h1M11 34h1M10 35h1M9 36h1M8 37h1M7 38h1M5 39h2M0 40h5M35 45h1M33 51h1M33 67h1M33 68h1M34 71h1M35 74h1M0 79h5M5 80h1M6 81h2M7 82h2M9 83h1M10 84h1M11 85h1M11 86h1M12 87h1M13 88h1M14 89h1M15 90h1M17 91h1M18 92h1M35 92h1M19 93h1M20 94h1M21 95h1M22 96h1M33 96h1M24 97h1M29 98h3"/><path stroke="#48c16e" d="M26 22h6M23 23h1M19 27h1M18 28h1M17 29h1M14 31h1M13 32h1M12 34h1M11 35h1M10 36h1M9 37h1M8 38h1M7 39h1M5 40h2M0 41h6M34 47h1M33 50h1M33 69h1M0 78h5M5 79h1M6 80h2M8 81h1M9 82h1M10 83h1M11 84h1M12 86h1M43 86h1M13 87h1M14 88h1M15 89h1M16 90h1M35 91h1M34 94h1M23 96h1M25 97h4M32 97h1"/><path stroke="#4cc26c" d="M24 23h1M32 23h1M22 24h1M33 24h1M21 25h1M20 26h1M34 26h1M35 29h1M16 30h1M15 31h1M14 32h1M13 33h1M13 34h1M12 35h1M11 36h1M10 37h1M9 38h1M8 39h1M7 40h1M6 41h1M0 42h6M35 44h1M33 49h1M34 72h1M0 77h5M5 78h2M6 79h2M8 80h1M9 81h1M10 82h1M11 83h1M12 84h1M12 85h1M13 86h1M14 87h1M15 88h1M16 89h1M17 90h1M35 90h1M18 91h1M19 92h1M20 93h1M34 93h1M21 94h1M22 95h1M33 95h1M24 96h1M32 96h1M29 97h3"/><path stroke="#50c46a" d="M25 23h7M23 24h1M33 25h1M20 27h1M34 27h1M19 28h1M18 29h1M17 30h1M35 30h1M16 31h1M15 32h1M14 33h1M13 35h1M12 36h1M11 37h1M10 38h1M9 39h1M8 40h1M7 41h1M6 42h1M0 43h6M32 55h1M32 56h1M32 57h1M32 58h1M32 59h1M32 60h1M32 61h1M32 62h1M32 63h1M32 64h1M33 70h1M35 75h1M0 76h5M5 77h2M7 78h1M8 79h1M9 80h1M10 81h1M11 82h1M12 83h1M13 85h1M14 86h1M15 87h1M16 88h1M17 89h1M35 89h1M18 90h1M19 91h1M34 92h1M33 94h1M23 95h1M25 96h3"/><path stroke="#54c568" d="M32 24h1M22 25h1M21 26h1M34 28h1M19 29h1M18 30h1M17 31h1M35 31h1M16 32h1M15 33h1M14 34h1M14 35h1M13 36h1M12 37h1M11 38h1M10 39h1M9 40h2M8 41h2M7 42h1M6 43h1M35 43h1M0 44h6M34 46h1M33 48h1M32 52h1M32 53h1M32 54h1M32 65h1M32 66h1M0 75h5M5 76h2M35 76h1M7 77h1M8 78h1M9 79h1M10 80h1M11 81h1M12 82h1M13 83h1M13 84h1M14 85h1M35 85h1M15 86h1M35 86h1M16 87h1M35 87h1M17 88h1M35 88h1M18 89h1M20 92h1M21 93h1M22 94h1M32 95h1M28 96h4"/><path stroke="#58c765" d="M24 24h1M31 24h1M33 26h1M21 27h1M20 28h1M18 31h1M17 32h1M35 32h1M16 33h1M35 33h1M15 34h1M35 34h1M14 36h1M13 37h1M12 38h1M11 39h1M11 40h1M10 41h1M8 42h2M7 43h2M6 44h1M0 45h6M32 51h1M32 67h1M32 68h1M33 71h1M34 73h1M0 74h6M5 75h2M7 76h1M8 77h1M9 78h1M10 79h1M11 80h1M12 81h1M13 82h1M35 82h1M35 83h1M14 84h1M35 84h1M15 85h1M16 86h1M17 87h1M19 90h1M20 91h1M34 91h1M33 93h1M24 95h2M31 95h1"/><path stroke="#5cc863" d="M25 24h6M23 25h1M32 25h1M22 26h1M33 27h1M20 29h1M34 29h1M19 30h1M18 32h1M17 33h1M16 34h1M15 35h1M35 35h1M35 36h1M14 37h1M35 37h1M13 38h1M12 39h1M11 41h1M10 42h1M35 42h1M9 43h1M7 44h2M6 45h1M0 46h6M0 47h5M32 50h1M32 69h1M0 73h6M6 74h1M7 75h1M8 76h2M9 77h2M35 77h1M10 78h1M35 78h1M11 79h1M35 79h1M12 80h1M35 80h1M13 81h1M35 81h1M14 83h1M15 84h1M16 85h1M17 86h1M18 88h1M19 89h1M34 90h1M21 92h1M22 93h1M23 94h1M32 94h1M26 95h5"/><path stroke="#60ca60" d="M24 25h1M31 25h1M21 28h1M19 31h1M18 33h1M17 34h1M16 35h1M15 36h1M15 37h1M14 38h1M35 38h1M13 39h1M35 39h1M12 40h1M35 40h1M12 41h1M35 41h1M11 42h1M10 43h1M9 44h1M7 45h2M34 45h1M6 46h2M5 47h1M33 47h1M0 48h5M32 49h1M31 55h1M31 56h1M31 57h1M31 58h1M31 59h1M31 60h1M31 61h1M31 62h1M31 63h1M31 64h1M32 70h1M0 72h6M6 73h1M7 74h1M8 75h2M10 76h1M11 77h1M11 78h1M12 79h1M13 80h1M14 81h1M14 82h1M15 83h1M16 84h1M17 85h1M18 87h1M19 88h1M20 90h1M21 91h1M33 92h1M24 94h1M31 94h1"/><path stroke="#65cb5e" d="M25 25h1M29 25h2M23 26h1M32 26h1M22 27h1M33 28h1M20 30h1M34 30h1M19 32h1M18 34h1M17 35h1M16 36h1M15 38h1M14 39h1M13 40h1M12 42h1M11 43h1M10 44h1M9 45h1M8 46h1M6 47h2M5 48h1M0 49h5M31 51h1M31 52h1M31 53h1M31 54h1M31 65h1M31 66h1M31 67h1M0 70h5M0 71h6M6 72h1M33 72h1M7 73h2M8 74h2M34 74h1M10 75h1M11 76h1M12 78h1M13 79h1M14 80h1M15 82h1M16 83h1M17 84h1M18 86h1M19 87h1M20 89h1M34 89h1M33 91h1M22 92h1M23 93h1M32 93h1M25 94h1M28 94h3"/><path stroke="#69cd5b" d="M26 25h3M31 26h1M21 29h1M20 31h1M34 31h1M19 33h1M18 35h1M17 36h1M16 37h1M15 39h1M14 40h1M13 41h1M12 43h1M11 44h1M34 44h1M10 45h1M9 46h1M8 47h1M6 48h2M32 48h1M5 49h2M0 50h6M31 50h1M0 51h5M0 52h5M0 68h5M31 68h1M0 69h6M31 69h1M5 70h2M6 71h1M32 71h1M7 72h2M9 73h1M10 74h1M11 75h1M12 76h1M12 77h1M13 78h1M14 79h1M15 81h1M16 82h1M17 83h1M18 85h1M19 86h1M20 88h1M34 88h1M21 90h1M26 94h2"/><path stroke="#6ece58" d="M24 26h1M30 26h1M23 27h1M32 27h1M22 28h1M33 29h1M21 30h1M20 32h1M19 34h1M18 36h1M17 37h1M16 38h1M15 40h1M14 41h1M13 42h1M13 43h1M12 44h1M11 45h1M10 46h1M33 46h1M9 47h1M8 48h1M7 49h1M31 49h1M6 50h1M5 51h2M5 52h1M30 52h1M0 53h6M30 53h1M0 54h5M30 54h1M30 55h1M30 56h1M30 57h1M30 58h1M30 59h1M30 60h1M30 61h1M30 62h1M30 63h1M30 64h1M0 65h5M30 65h1M0 66h6M30 66h1M0 67h6M5 68h2M6 69h1M7 70h1M31 70h1M7 71h2M9 72h1M10 73h1M11 74h1M12 75h1M34 75h1M13 77h1M14 78h1M15 80h1M16 81h1M17 82h1M18 83h1M18 84h1M19 85h1M34 86h1M20 87h1M34 87h1M33 90h1M22 91h1M23 92h1M32 92h1M24 93h1M30 93h2"/><path stroke="#73d056" d="M25 26h1M29 26h1M22 29h1M21 31h1M34 32h1M20 33h1M34 33h1M20 34h1M19 35h1M19 36h1M18 37h1M17 38h1M16 39h1M15 41h1M14 42h1M13 44h1M12 45h1M11 46h1M10 47h1M32 47h1M9 48h1M31 48h1M8 49h1M7 50h2M30 50h1M7 51h1M30 51h1M6 52h2M6 53h1M5 54h2M0 55h6M0 56h6M0 57h5M0 62h5M0 63h5M0 64h6M5 65h2M6 66h1M6 67h2M30 67h1M7 68h1M30 68h1M7 69h2M30 69h1M8 70h1M9 71h1M10 72h1M11 73h1M33 73h1M12 74h1M13 76h1M14 77h1M15 78h1M15 79h1M16 80h1M17 81h1M18 82h1M19 84h1M34 85h1M20 86h1M21 89h1M25 93h1M28 93h2"/><path stroke="#77d153" d="M26 26h3M31 27h1M32 28h1M21 32h1M34 34h1M20 35h1M19 37h1M18 38h1M17 39h1M16 40h1M16 41h1M15 42h1M14 43h1M34 43h1M13 45h1M12 46h1M11 47h1M10 48h2M9 49h2M30 49h1M9 50h1M8 51h2M8 52h1M29 52h1M7 53h2M29 53h1M7 54h1M29 54h1M6 55h2M29 55h1M6 56h1M29 56h1M5 57h2M29 57h1M0 58h6M29 58h1M0 59h6M29 59h1M0 60h6M29 60h1M0 61h6M29 61h1M5 62h1M29 62h1M5 63h2M29 63h1M6 64h1M29 64h1M7 65h1M29 65h1M7 66h1M29 66h1M8 67h1M29 67h1M8 68h1M9 69h1M9 70h2M30 70h1M10 71h1M31 71h1M11 72h1M32 72h1M12 73h1M13 74h1M13 75h1M14 76h1M34 76h1M15 77h1M16 79h1M17 80h1M18 81h1M19 83h1M20 84h1M34 84h1M20 85h1M21 88h1M33 89h1M22 90h1M32 91h1M24 92h1M31 92h1M26 93h2"/><path stroke="#7cd250" d="M24 27h1M30 27h1M23 28h1M22 30h1M33 30h1M21 33h1M21 34h1M34 35h1M20 36h1M19 38h1M18 39h1M17 40h1M16 42h1M15 43h1M14 44h1M14 45h1M33 45h1M13 46h1M12 47h1M30 48h1M11 49h1M29 49h1M10 50h1M29 50h1M10 51h1M29 51h1M9 52h1M9 53h1M8 54h1M8 55h1M7 56h1M7 57h1M6 58h1M6 59h1M6 60h1M6 61h1M6 62h2M7 63h1M7 64h2M8 65h1M8 66h2M9 67h1M9 68h2M29 68h1M10 69h1M29 69h1M11 70h1M11 71h1M12 72h1M13 73h1M14 75h1M15 76h1M16 78h1M17 79h1M18 80h1M19 81h1M19 82h1M20 83h1M34 83h1M21 86h1M21 87h1M22 89h1M23 91h1M30 92h1"/><path stroke="#81d34d" d="M22 31h1M21 35h1M21 36h1M34 36h1M20 37h1M20 38h1M19 39h1M18 40h1M17 41h1M34 42h1M16 43h1M15 44h1M14 46h1M32 46h1M13 47h1M31 47h1M12 48h1M29 48h1M12 49h1M11 50h1M28 50h1M11 51h1M28 51h1M10 52h1M28 52h1M10 53h1M28 53h1M9 54h2M28 54h1M9 55h1M28 55h1M8 56h2M28 56h1M8 57h1M28 57h1M7 58h2M28 58h1M7 59h1M28 59h1M7 60h1M28 60h1M7 61h2M28 61h1M8 62h1M28 62h1M8 63h2M28 63h1M9 64h1M28 64h1M9 65h2M28 65h1M10 66h1M28 66h1M10 67h1M28 67h1M11 68h1M28 68h1M11 69h1M12 70h1M29 70h1M12 71h1M30 71h1M13 72h1M14 73h1M14 74h1M33 74h1M15 75h1M16 76h1M16 77h1M34 77h1M17 78h1M18 79h1M19 80h1M20 81h1M20 82h1M34 82h1M21 84h1M21 85h1M33 88h1M32 90h1M31 91h1M25 92h1M29 92h1"/><path stroke="#86d549" d="M25 27h1M28 27h2M31 28h1M23 29h1M32 29h1M33 31h1M22 32h1M21 37h1M34 37h1M21 38h1M20 39h1M19 40h1M18 41h1M34 41h1M17 42h1M17 43h1M16 44h1M15 45h1M15 46h1M14 47h1M29 47h2M13 48h1M28 48h1M13 49h1M28 49h1M12 50h1M12 51h1M11 52h1M11 53h1M11 54h1M10 55h1M10 56h1M9 57h2M9 58h1M8 59h2M8 60h2M9 61h1M9 62h1M10 63h1M10 64h1M11 65h1M11 66h1M11 67h1M12 68h1M12 69h1M28 69h1M28 70h1M13 71h1M29 71h1M14 72h1M31 72h1M32 73h1M15 74h1M16 75h1M17 77h1M18 78h1M34 78h1M19 79h1M34 79h1M20 80h1M34 80h1M34 81h1M21 82h1M21 83h1M22 88h1M23 90h1M24 91h1M26 92h3"/><path stroke="#8bd646" d="M26 27h2M24 28h1M22 33h1M22 34h1M22 35h1M22 36h1M34 38h1M21 39h1M34 39h1M20 40h1M34 40h1M19 41h2M18 42h2M18 43h1M17 44h1M33 44h1M16 45h1M16 46h1M31 46h1M15 47h1M28 47h1M14 48h1M14 49h1M27 49h1M13 50h1M27 50h1M13 51h1M27 51h1M12 52h1M27 52h1M12 53h1M27 53h1M12 54h1M27 54h1M11 55h1M27 55h1M11 56h1M27 56h1M11 57h1M27 57h1M10 58h1M27 58h1M10 59h1M27 59h1M10 60h1M27 60h1M10 61h1M27 61h1M10 62h2M27 62h1M11 63h1M27 63h1M11 64h1M27 64h1M12 65h1M27 65h1M12 66h1M27 66h1M12 67h1M27 67h1M13 68h1M27 68h1M13 69h1M27 69h1M13 70h1M27 70h1M14 71h1M28 71h1M15 72h1M29 72h2M15 73h1M16 74h1M17 75h1M17 76h2M18 77h1M19 78h1M20 79h1M21 80h1M21 81h1M22 85h1M22 86h1M22 87h1M33 87h1M30 91h1"/><path stroke="#90d743" d="M30 28h1M23 30h1M33 32h1M22 37h1M22 38h1M22 39h1M21 40h1M21 41h1M20 42h1M19 43h1M18 44h1M17 45h1M32 45h1M28 46h3M16 47h1M27 47h1M15 48h1M27 48h1M14 50h1M14 51h1M13 52h1M13 53h1M13 54h1M12 55h1M12 56h1M12 57h1M11 58h1M11 59h1M11 60h1M11 61h1M12 62h1M12 63h1M12 64h1M13 65h1M13 66h1M13 67h1M14 68h1M14 69h1M14 70h1M15 71h1M27 71h1M16 72h1M28 72h1M16 73h1M17 74h1M18 75h1M33 75h1M19 76h1M19 77h2M20 78h2M21 79h1M22 81h1M22 82h1M22 83h1M22 84h1M33 86h1M23 89h1M32 89h1M31 90h1M25 91h1M29 91h1"/><path stroke="#95d840" d="M25 28h1M29 28h1M24 29h1M31 29h1M32 30h1M23 31h1M22 40h1M22 41h1M21 42h1M20 43h2M19 44h2M18 45h2M17 46h2M27 46h1M17 47h1M16 48h1M26 48h1M15 49h1M26 49h1M15 50h1M26 50h1M15 51h1M26 51h1M14 52h1M26 52h1M14 53h1M26 53h1M14 54h1M26 54h1M13 55h1M26 55h1M13 56h1M26 56h1M13 57h1M26 57h1M12 58h2M26 58h1M12 59h1M26 59h1M12 60h1M26 60h1M12 61h1M26 61h1M13 62h1M26 62h1M13 63h1M26 63h1M13 64h1M26 64h1M14 65h1M26 65h1M14 66h1M26 66h1M14 67h1M26 67h1M15 68h1M26 68h1M15 69h1M26 69h1M15 70h1M26 70h1M16 71h1M26 71h1M17 72h1M27 72h1M17 73h2M27 73h5M18 74h2M19 75h2M20 76h2M21 77h1M22 78h1M22 79h1M22 80h1M33 85h1M23 88h1M24 90h1M28 91h1"/><path stroke="#9bd93c" d="M26 28h1M28 28h1M23 32h1M23 33h1M33 33h1M23 34h1M23 35h1M23 36h1M23 37h1M23 38h1M23 39h1M23 40h1M23 41h1M22 42h1M22 43h1M33 43h1M21 44h2M20 45h2M26 45h6M19 46h3M26 46h1M18 47h2M26 47h1M17 48h1M25 48h1M16 49h1M25 49h1M16 50h1M25 50h1M16 51h1M25 51h1M15 52h1M25 52h1M15 53h1M25 53h1M15 54h1M25 54h1M14 55h2M25 55h1M14 56h1M25 56h1M14 57h1M25 57h1M14 58h1M25 58h1M13 59h1M25 59h1M13 60h1M25 60h1M13 61h2M25 61h1M14 62h1M25 62h1M14 63h1M25 63h1M14 64h1M25 64h1M15 65h1M25 65h1M15 66h1M25 66h1M15 67h1M25 67h1M16 68h1M25 68h1M16 69h1M25 69h1M16 70h1M25 70h1M17 71h1M18 72h2M26 72h1M19 73h2M26 73h1M20 74h2M32 74h1M21 75h2M22 76h1M22 77h1M23 79h1M23 80h1M23 81h1M23 87h1M26 91h2"/><path stroke="#a0da39" d="M27 28h1M24 30h1M33 34h1M24 41h1M23 42h2M23 43h2M23 44h5M32 44h1M22 45h4M22 46h4M20 47h6M18 48h7M17 49h8M17 50h2M24 50h1M17 51h1M24 51h1M16 52h2M24 52h1M16 53h1M24 53h1M16 54h1M24 54h1M16 55h1M24 55h1M15 56h1M24 56h1M15 57h1M24 57h1M15 58h1M24 58h1M14 59h1M24 59h1M14 60h1M24 60h1M15 61h1M24 61h1M15 62h1M24 62h1M15 63h1M24 63h1M15 64h1M24 64h1M16 65h1M24 65h1M16 66h1M24 66h1M16 67h1M24 67h1M17 68h1M24 68h1M17 69h1M24 69h1M17 70h3M24 70h1M18 71h8M20 72h6M21 73h5M22 74h8M23 75h2M23 76h1M33 76h1M23 77h1M23 78h1M23 82h1M23 83h1M23 84h1M33 84h1M23 85h1M23 86h1M32 88h1M24 89h1M30 90h1"/><path stroke="#a5db36" d="M25 29h1M30 29h1M32 31h1M24 38h1M24 39h1M24 40h1M25 42h1M25 43h2M28 44h1M19 50h5M18 51h6M18 52h6M17 53h7M17 54h7M17 55h1M21 55h3M16 56h2M21 56h3M16 57h1M22 57h2M16 58h1M22 58h2M15 59h2M22 59h2M15 60h2M22 60h2M16 61h1M22 61h2M16 62h1M22 62h2M16 63h1M21 63h3M16 64h2M21 64h3M17 65h2M20 65h4M17 66h7M17 67h7M18 68h6M18 69h6M20 70h4M30 74h2M25 75h3M24 76h2M24 77h1M24 78h1M24 79h1M33 83h1M31 89h1M25 90h1M29 90h1"/><path stroke="#aadc32" d="M31 30h1M24 31h1M33 35h1M24 37h1M25 40h1M25 41h1M26 42h1M33 42h1M27 43h1M29 44h1M18 55h3M18 56h3M17 57h5M17 58h5M17 59h5M17 60h5M17 61h5M17 62h5M17 63h4M18 64h3M19 65h1M28 75h1M32 75h1M26 76h1M25 77h1M33 77h1M24 80h1M24 81h1M32 87h1M26 90h1M28 90h1"/><path stroke="#b0dd2f" d="M26 29h1M29 29h1M24 32h1M24 35h1M24 36h1M33 36h1M25 39h1M26 41h1M27 42h1M28 43h1M30 44h2M29 75h1M27 76h1M26 77h1M25 78h1M25 79h1M24 82h1M33 82h1M24 83h1M24 88h1M30 89h1M27 90h1"/><path stroke="#b5de2b" d="M27 29h2M25 30h1M32 32h1M24 33h1M24 34h1M33 37h1M25 38h1M33 41h1M32 43h1M30 75h1M28 76h1M33 78h1M25 80h1M33 81h1M24 84h1M24 85h1M24 86h1M32 86h1M24 87h1M31 88h1M25 89h1"/><path stroke="#bade28" d="M30 30h1M33 38h1M33 39h1M26 40h1M33 40h1M27 41h1M28 42h1M29 43h1M31 75h1M27 77h1M26 78h1M33 79h1M33 80h1M29 89h1"/><path stroke="#c0df25" d="M31 31h1M32 33h1M25 37h1M26 39h1M30 43h2M32 76h1M26 79h1M25 81h1M32 85h1M25 88h1M26 89h1"/><path stroke="#c5e021" d="M26 30h1M29 30h1M25 31h1M25 36h1M32 42h1M29 76h1M28 77h1M27 78h1M25 82h1M31 87h1M30 88h1M27 89h2"/><path stroke="#cae11f" d="M27 30h1M25 32h1M25 34h1M32 34h1M25 35h1M26 38h1M27 40h1M28 41h1M29 42h1M30 76h2M26 80h1M25 83h1M32 84h1M25 87h1"/><path stroke="#d0e11c" d="M28 30h1M30 31h1M31 32h1M25 33h1M32 77h1M25 84h1M25 85h1M25 86h1M26 88h1"/><path stroke="#d5e21a" d="M26 31h1M32 35h1M26 37h1M27 39h1M32 41h1M30 42h2M29 77h1M28 78h1M27 79h1M26 81h1M32 83h1M31 86h1M29 88h1"/><path stroke="#dae319" d="M28 40h1M29 41h1M32 78h1M26 82h1M30 87h1M27 88h2"/><path stroke="#dfe318" d="M27 31h1M29 31h1M26 32h1M31 33h1M26 36h1M32 36h1M27 38h1M32 40h1M30 77h2M27 80h1M32 82h1M31 85h1M26 87h1"/><path stroke="#e5e419" d="M28 31h1M30 32h1M26 33h1M26 34h1M26 35h1M32 37h1M32 39h1M30 41h2M28 79h1M32 79h1M32 80h1M32 81h1M26 83h1M26 84h1M26 86h1"/><path stroke="#eae51a" d="M32 38h1M28 39h1M29 78h1M27 81h1M26 85h1M30 86h1M27 87h1M29 87h1"/><path stroke="#efe51c" d="M27 32h1M31 34h1M27 37h1M29 40h1M31 78h1M31 84h1M28 87h1"/><path stroke="#f4e61e" d="M29 32h1M27 36h1M31 40h1M30 78h1M28 80h1M27 82h1M27 86h1"/><path stroke="#f8e621" d="M28 32h1M27 33h1M30 33h1M27 35h1M31 35h1M28 38h1M30 40h1M29 79h1M31 79h1M27 83h1M31 83h1M27 85h1M30 85h1M29 86h1"/><path stroke="#fde725" d="M28 33h2M27 34h4M28 35h3M28 36h4M28 37h4M29 38h3M29 39h3M30 79h1M29 80h3M28 81h4M28 82h4M28 83h3M27 84h4M28 85h2M28 86h1"/></g></g><use href="#gl"/><g clip-path="url(#cp)"><path d="M524 526l12 56l2 25l1 20l-1 21l-3 29l-11 51M524 436l23 67l10 37l9 47l2 16l1 19l-2 52l-2 18l-3 18l-9 32l-11 34l-18 45M524 376l34 76l17 44l10 31l7 29l6 28l3 27l2 32l-2 30l-4 25l-9 36l-9 33l-9 23l-9 22l-37 69M524 312l34 53l16 27l27 53l16 37l11 36l9 48l4 33l1 32l-1 38l-4 29l-9 39l-11 37l-14 31l-18 34l-28 52l-33 53M524 252l45 58l27 37l28 46l12 23l12 24l9 25l9 25l13 51l5 26l4 34l3 30l0 24l-2 31l-8 43l-9 32l-14 34l-22 42l-29 48l-44 64l-39 52M707 526l9 56l2 25l1 20l-2 29l-10 72M524 192l64 66l19 21l17 20l19 26l13 20l12 21l11 23l14 30l14 37l9 27l7 28l6 29l4 34l4 42l1 34l-1 21l-2 21l-5 29l-5 24l-10 33l-21 43l-24 44l-23 35l-86 119l-17 22l-20 23M524 142l77 74l23 23l13 15l29 37l47 66l11 17l10 19l8 19l6 21l6 28l6 43l6 74l1 75l0 27l-2 24l-3 30l-5 25l-5 18l-8 24l-17 37l-10 19l-13 20l-53 74l-59 78l-68 82M531 102l86 80l40 39l23 25l23 26l27 35l15 21l12 21l10 20l9 21l8 27l5 23l4 41l2 102l-2 112l-4 58l-4 22l-8 31l-8 25l-9 20l-10 20l-16 27l-27 40l-18 25l-43 54l-55 64l-67 82M561 102l73 66l46 42l42 42l25 27l27 36l50 69l5 11l3 8l3 11l1 12l-1 35l-16 106l-2 27l1 58l2 40l3 23l7 44l5 41l-1 13l-1 14l-8 30l-8 21l-11 21l-17 28l-24 35l-60 76l-104 125M691 349l26 33l25 27M591 102l60 47l46 38M621 102l36 34l40 40M676 798l-25 48l-14 25l-50 77M674 919l-50 69l-50 63M771 901l-34 47l-35 46M829 899l-32 49l-33 46M636 1074l-29 30M697 1076l-30 30M821 1014l-68 69l-69 80M844 688l8 35l5 18l7 13l18 33l6 14l2 10l1 13l-1 15l-4 18l-5 18l-6 14l-9 17l-38 54l-47 60l-117 143M861 102l27 21l11 4l7 1l10 -1l10 -5l17 -12l8 -8M767 102l74 40l56 39M737 102l17 14l54 52l21 18l13 9l11 6l34 16l11 3l8 -2l7 -4l11 -12l10 -13l20 -29l16 -25l5 -10l9 -23M687 102l71 56l17 15l16 16l15 18l14 20l51 77l12 15l13 12l2 1l6 -3l10 -9l20 -24l28 -43l22 -38l7 -16l7 -23l16 -74M876 342l15 18l9 8l4 0l7 -6l10 -13l43 -58M654 102l79 71l24 26l16 19l37 51l45 69l29 54l17 38l12 21l5 6l4 3l6 2l8 1l8 -1l6 -3l16 -9l21 -15l21 -19l13 -16l12 -16l9 -18l9 -20l7 -21l8 -34l6 -44l5 -39l1 -22l-1 -26l-6 -58M911 401l30 -25l16 -17l28 -39l14 -24l8 -16l14 -34l14 -47l13 -52l8 -45M935 462l27 -10l10 -3l12 -1l24 2l8 0l7 -2l9 -4l14 -12l17 -20l15 -22l10 -19l13 -30l7 -29l7 -44l4 -43l0 -26l-2 -25l-14 -75M929 484l23 7l12 1l9 -1l26 -7l27 0l6 -2l4 -3l4 -4l6 -9l42 -81l13 -31l20 -55M983 519l11 8l5 0l5 -3l6 -5l8 -8l22 -30M891 436l-13 48l-5 10l-14 22l-9 24M879 536l10 -10l7 -6l10 -5l11 -3l6 0l5 2l11 14M891 544l0 141l1 25l1 13l3 6l12 5l16 3l12 1l3 -1l2 -2l-2 -15M919 548l6 41l7 24l2 13l-1 8l-8 28l-6 51M949 616l-4 10l-1 7l5 17l9 18l2 16M949 556l0 23l2 5l3 3l4 -1l5 -7l2 -5l-1 -10M960 684l1 8l2 4l10 9l5 2l3 0l6 -2l5 -3l9 -9l4 -9l2 -14l1 -24l0 -53l-1 -14l-4 -11l-6 -8l-5 -3l-6 -2l-5 0l-4 1l-13 8M975 691l4 -56l1 -59M1091 852l-29 -103l-11 -44l-8 -43l-2 -23l-1 -13l9 -69l8 -41l9 -28l11 -31l25 -66l18 -44l4 -13l3 -15l4 -28l2 -41l1 -77l0 -74M1071 707l-6 -46l-2 -26l2 -35l6 -38M1103 1163l13 -132l3 -52l0 -48l-1 -42l-5 -58l-18 -133l-3 -30l-1 -45l2 -49l5 -66l3 -22l6 -28l17 -67l26 -75l4 -17l3 -17l3 -33l3 -58l3 -92M1129 1163l6 -89l17 -133l3 -37l1 -33l0 -32l-1 -25l-8 -75l-6 -76l0 -64l4 -73l5 -70l8 -57l6 -26l18 -66l9 -50l5 -66l1 -92M1162 738l-3 -56l-1 -32l3 -118M1166 1163l16 -88l7 -44l8 -67l6 -66l1 -56l-1 -67l-1 -32l-7 -94l-1 -53l3 -99l8 -131M983 745l11 -7l6 0l4 2l4 3l6 7l13 20l24 46l17 39l9 26l14 51M932 780l24 -6l5 -1l14 1l9 2l9 4l6 4l7 7l15 19l29 43l11 30l23 69M904 824l6 -14l3 -4l8 -5l7 -2l9 0l17 5l15 6l10 6l14 13l21 23l8 6l9 21l20 60M845 686l3 28l4 17l8 17l23 40l6 18l2 16l-2 20l-8 27l-11 24l-26 51M891 702l-5 20l-3 8l-4 8l-22 28l-4 9l-4 17M1201 952l13 -156l3 -55l2 -66l0 -99l-3 -288M1195 1163l27 -244l7 -67l6 -78l4 -77l2 -77l-1 -77l-3 -177l-6 -267M1223 1163l36 -244l8 -67l9 -78l5 -88l2 -88l-3 -121l-4 -122l-12 -256M1259 1163l36 -244l10 -78l8 -78l5 -88l1 -88l-4 -121l-5 -111l-16 -256M1289 1163l36 -244l10 -78l9 -89l5 -88l0 -44l0 -44l-5 -121l-7 -112l-19 -244M1354 930l10 -78l7 -67l5 -66l3 -55l0 -55l-1 -55l-4 -77l-5 -78M1374 1163l36 -244l11 -89l6 -56l3 -44l4 -88l0 -44l-2 -44l-3 -55l-4 -55l-10 -101l-30 -244M1429 1163l36 -244l12 -89l5 -56l4 -44l3 -88l0 -44l-1 -44l-4 -55l-4 -55l-11 -101l-30 -244M1486 1163l36 -244l11 -89l6 -56l3 -44l4 -88l0 -44l-2 -44l-3 -55l-4 -55l-11 -101l-30 -244M1545 1163l24 -244l9 -101l5 -99l2 -88l-1 -88l-6 -99l-7 -101l-22 -244M1409 1107l28 -188l10 -78l8 -78l4 -77M1504 219l-7 -53l-6 -27M871 946l10 -15l6 -6l5 -3l5 -1l9 1l9 5l6 7l28 44M721 1163l40 -46l96 -116l24 -26l8 -6l5 -3l3 0l4 1l8 9l11 14l10 16l10 24l17 54M754 1163l63 -72l44 -53l19 -20l7 -5l7 -2l6 0l8 4l11 11l10 13l16 32l26 60M807 1163l15 -16l35 -35l20 -17l14 -10l7 -3l7 -1l6 3l11 10M857 1163l12 -10l27 -14l18 -7l10 -1l6 1l5 2l16 10l6 6l10 13M971 1021l19 38l7 19l5 18l5 35M1044 1163l-5 -69l-7 -43l-6 -27l-14 -48l-12 -37l-9 -25l-14 -29l-14 -26l-18 -30l-14 -18l-7 -7l-3 -1l-3 0l-3 3l-6 7l-5 11M1056 898l-13 -46l-10 -25l-15 -31l-8 -12l-5 -6l-6 -3l-8 -3l-17 -1l-13 1l-29 7M1056 798l-27 -38l-7 -8l-8 -6l-9 -6l-9 -3l-6 2l-8 7" fill="none" stroke="#f00" stroke-width="3.6" stroke-linejoin="round"/><use href="#ah" transform="translate(539,627) rotate(90)"/><use href="#ah" transform="translate(569,631) rotate(91)"/><use href="#ah" transform="translate(602,631) rotate(88)"/><use href="#ah" transform="translate(642,631) rotate(90)"/><use href="#ah" transform="translate(691,631) rotate(87)"/><use href="#ah" transform="translate(719,627) rotate(90)"/><use href="#ah" transform="translate(737,631) rotate(88)"/><use href="#ah" transform="translate(767,626) rotate(90)"/><use href="#ah" transform="translate(794,631) rotate(91)"/><use href="#ah" transform="translate(817,618) rotate(89)"/><use href="#ah" transform="translate(717,382) rotate(49)"/><use href="#ah" transform="translate(646,145) rotate(38)"/><use href="#ah" transform="translate(661,139) rotate(44)"/><use href="#ah" transform="translate(634,877) rotate(121)"/><use href="#ah" transform="translate(624,988) rotate(127)"/><use href="#ah" transform="translate(734,952) rotate(126)"/><use href="#ah" transform="translate(797,948) rotate(124)"/><use href="#ah" transform="translate(621,1090) rotate(133)"/><use href="#ah" transform="translate(682,1092) rotate(135)"/><use href="#ah" transform="translate(748,1087) rotate(132)"/><use href="#ah" transform="translate(836,948) rotate(126)"/><use href="#ah" transform="translate(893,125) rotate(24)"/><use href="#ah" transform="translate(851,149) rotate(33)"/><use href="#ah" transform="translate(771,132) rotate(45)"/><use href="#ah" transform="translate(863,293) rotate(56)"/><use href="#ah" transform="translate(917,355) rotate(-51)"/><use href="#ah" transform="translate(884,392) rotate(63)"/><use href="#ah" transform="translate(1014,264) rotate(-68)"/><use href="#ah" transform="translate(1046,432) rotate(-46)"/><use href="#ah" transform="translate(1053,451) rotate(-63)"/><use href="#ah" transform="translate(874,491) rotate(119)"/><use href="#ah" transform="translate(925,512) rotate(22)"/><use href="#ah" transform="translate(940,727) rotate(-100)"/><use href="#ah" transform="translate(932,615) rotate(77)"/><use href="#ah" transform="translate(959,670) rotate(78)"/><use href="#ah" transform="translate(1007,670) rotate(-85)"/><use href="#ah" transform="translate(978,643) rotate(-84)"/><use href="#ah" transform="translate(1040,626) rotate(-88)"/><use href="#ah" transform="translate(1063,647) rotate(-93)"/><use href="#ah" transform="translate(1091,656) rotate(-93)"/><use href="#ah" transform="translate(1141,629) rotate(-90)"/><use href="#ah" transform="translate(1158,650) rotate(-90)"/><use href="#ah" transform="translate(1203,764) rotate(-92)"/><use href="#ah" transform="translate(1060,835) rotate(66)"/><use href="#ah" transform="translate(1051,855) rotate(67)"/><use href="#ah" transform="translate(861,912) rotate(117)"/><use href="#ah" transform="translate(870,749) rotate(129)"/><use href="#ah" transform="translate(1219,620) rotate(-90)"/><use href="#ah" transform="translate(1241,631) rotate(-89)"/><use href="#ah" transform="translate(1283,631) rotate(-89)"/><use href="#ah" transform="translate(1319,631) rotate(-89)"/><use href="#ah" transform="translate(1349,631) rotate(-89)"/><use href="#ah" transform="translate(1379,664) rotate(-88)"/><use href="#ah" transform="translate(1434,631) rotate(-90)"/><use href="#ah" transform="translate(1489,631) rotate(-90)"/><use href="#ah" transform="translate(1546,631) rotate(-90)"/><use href="#ah" transform="translate(1585,631) rotate(-90)"/><use href="#ah" transform="translate(1440,896) rotate(-82)"/><use href="#ah" transform="translate(1499,177) rotate(-98)"/><use href="#ah" transform="translate(902,921) rotate(187)"/><use href="#ah" transform="translate(879,977) rotate(135)"/><use href="#ah" transform="translate(861,1038) rotate(132)"/><use href="#ah" transform="translate(853,1116) rotate(136)"/><use href="#ah" transform="translate(917,1132) rotate(168)"/><use href="#ah" transform="translate(997,1078) rotate(252)"/><use href="#ah" transform="translate(1033,1055) rotate(-101)"/><use href="#ah" transform="translate(1044,857) rotate(-107)"/></g>
<text x="598.0" y="57.4" font-size="58" font-style="italic" textLength="43.0" lengthAdjust="spacingAndGlyphs">B</text>
<text x="666.0" y="57.4" font-size="66" textLength="21.0" lengthAdjust="spacingAndGlyphs">(</text>
<text x="691.5" y="57.4" font-size="58" font-style="italic" textLength="32.0" lengthAdjust="spacingAndGlyphs">x</text>
<text x="742.0" y="57.4" font-size="58" textLength="45.0" lengthAdjust="spacingAndGlyphs">=</text>
<text x="803.6" y="57.4" font-size="58" font-style="italic" textLength="30.4" lengthAdjust="spacingAndGlyphs">y</text>
<text x="859.7" y="57.4" font-size="58" textLength="146.3" lengthAdjust="spacingAndGlyphs">plane</text>
<text x="1008.0" y="57.4" font-size="66" textLength="21.0" lengthAdjust="spacingAndGlyphs">)</text>
<text x="1060.0" y="57.4" font-size="58" textLength="245.0" lengthAdjust="spacingAndGlyphs">timestep</text>
<text x="1322.0" y="57.4" font-size="58" textLength="45.0" lengthAdjust="spacingAndGlyphs">=</text>
<text x="1385.0" y="57.4" font-size="58" textLength="131.0" lengthAdjust="spacingAndGlyphs">8000</text>
<rect x="524.7" y="99.7" width="1062.8" height="1062.6" fill="none" stroke="#000" stroke-width="5"/>
<path d="M526.8 1162.3v17.5M524.7 1160.2h-17.5M940.3 1162.3v17.5M524.7 746.7h-17.5M1353.8 1162.3v17.5M524.7 333.2h-17.5" stroke="#000" stroke-width="5" fill="none"/>
<text x="511.0" y="1245.0" font-size="58" textLength="31.5" lengthAdjust="spacingAndGlyphs">0</text>
<text x="449.5" y="1179.7" font-size="58" textLength="31.5" lengthAdjust="spacingAndGlyphs">0</text>
<text x="893.0" y="1245.0" font-size="58" textLength="94.5" lengthAdjust="spacingAndGlyphs">100</text>
<text x="386.5" y="766.2" font-size="58" textLength="94.5" lengthAdjust="spacingAndGlyphs">100</text>
<text x="1306.5" y="1245.0" font-size="58" textLength="94.5" lengthAdjust="spacingAndGlyphs">200</text>
<text x="386.5" y="352.7" font-size="58" textLength="94.5" lengthAdjust="spacingAndGlyphs">200</text>
<text x="661.5" y="1331.7" font-size="58" font-style="italic" textLength="28.5" lengthAdjust="spacingAndGlyphs">r</text>
<text x="693.0" y="1344.7" font-size="84" textLength="29.0" lengthAdjust="spacingAndGlyphs">/</text>
<text x="726.0" y="1331.7" font-size="58" textLength="48.0" lengthAdjust="spacingAndGlyphs">Δ</text>
<text x="777.5" y="1331.7" font-size="58" font-style="italic" textLength="28.5" lengthAdjust="spacingAndGlyphs">r</text>
<text x="832.0" y="1331.7" font-size="66" textLength="21.5" lengthAdjust="spacingAndGlyphs">(</text>
<text x="857.5" y="1331.7" font-size="58" textLength="151.0" lengthAdjust="spacingAndGlyphs">along</text>
<text x="1035.0" y="1331.7" font-size="58" font-style="italic" textLength="32.5" lengthAdjust="spacingAndGlyphs">x</text>
<text x="1077.0" y="1331.7" font-size="58" textLength="45.0" lengthAdjust="spacingAndGlyphs">+</text>
<text x="1131.0" y="1331.7" font-size="58" font-style="italic" textLength="31.0" lengthAdjust="spacingAndGlyphs">y</text>
<text x="1177.5" y="1331.7" font-size="58" textLength="45.5" lengthAdjust="spacingAndGlyphs">=</text>
<text x="1238.5" y="1331.7" font-size="58" textLength="95.5" lengthAdjust="spacingAndGlyphs">256</text>
<text x="1338.0" y="1331.7" font-size="58" textLength="48.0" lengthAdjust="spacingAndGlyphs">Δ</text>
<text x="1391.0" y="1331.7" font-size="58" font-style="italic" textLength="31.5" lengthAdjust="spacingAndGlyphs">x</text>
<text x="1428.0" y="1331.7" font-size="66" textLength="21.0" lengthAdjust="spacingAndGlyphs">)</text>
<g transform="translate(323.6,631) rotate(-90)"><text x="-70.5" y="0.0" font-size="58" font-style="italic" textLength="27.5" lengthAdjust="spacingAndGlyphs">z</text><text x="-41.0" y="13.0" font-size="84" textLength="29.0" lengthAdjust="spacingAndGlyphs">/</text><text x="-6.5" y="0.0" font-size="58" textLength="47.5" lengthAdjust="spacingAndGlyphs">Δ</text><text x="45.5" y="0.0" font-size="58" font-style="italic" textLength="27.5" lengthAdjust="spacingAndGlyphs">z</text></g>
<rect x="1634.8" y="206" width="47" height="850" fill="url(#vg)" stroke="#000" stroke-width="4.6"/>
<text x="1707.5" y="234.0" font-size="58" textLength="115.0" lengthAdjust="spacingAndGlyphs">6.34</text>
<text x="1707.5" y="442.2" font-size="58" textLength="115.0" lengthAdjust="spacingAndGlyphs">4.77</text>
<text x="1707.5" y="650.4" font-size="58" textLength="115.0" lengthAdjust="spacingAndGlyphs">3.21</text>
<text x="1707.5" y="858.6" font-size="58" textLength="115.0" lengthAdjust="spacingAndGlyphs">1.64</text>
<text x="1707.5" y="1066.8" font-size="58" textLength="115.0" lengthAdjust="spacingAndGlyphs">0.07</text>
<path d="M1681.8 214.7h-18.5M1681.8 422.9h-18.5M1681.8 631.1h-18.5M1681.8 839.3h-18.5M1681.8 1047.5h-18.5" stroke="#000" stroke-width="5" fill="none"/>
<g transform="translate(1922,635) rotate(-90)"><text x="-201" y="4" font-size="57" textLength="113" lengthAdjust="spacingAndGlyphs">磁场</text><text x="-76.0" y="13.0" font-size="84" textLength="29.0" lengthAdjust="spacingAndGlyphs">/</text><text x="-41.0" y="0.0" font-size="66" textLength="23.0" lengthAdjust="spacingAndGlyphs">(</text><text x="-22.5" y="0.0" font-size="58" textLength="29.0" lengthAdjust="spacingAndGlyphs">1</text><text x="11.0" y="0.0" font-size="58" textLength="32.0" lengthAdjust="spacingAndGlyphs">0</text><text x="49.0" y="-18.7" font-size="40" textLength="30.0" lengthAdjust="spacingAndGlyphs">−</text><text x="84.0" y="-18.7" font-size="40" textLength="24.5" lengthAdjust="spacingAndGlyphs">4</text><text x="132.0" y="0.0" font-size="58" textLength="49.0" lengthAdjust="spacingAndGlyphs">G</text><text x="182.0" y="0.0" font-size="66" textLength="23.0" lengthAdjust="spacingAndGlyphs">)</text></g>
<text x="552.0" y="172.5" font-size="66" textLength="21.0" lengthAdjust="spacingAndGlyphs" style="fill:#fff">(</text><text x="576.0" y="172.5" font-size="58" textLength="30.0" lengthAdjust="spacingAndGlyphs" style="fill:#fff">c</text><text x="608.0" y="172.5" font-size="66" textLength="21.0" lengthAdjust="spacingAndGlyphs" style="fill:#fff">)</text>
</g>
<g transform="translate(1804.8,1408.6)">
<g clip-path="url(#cp)"><g transform="translate(486.00,65.75) scale(9.5000)" filter="url(#bl)" fill="none" stroke-width="1.08"><path stroke="#355e8d" stroke-width="121" d="M0 59.5h120"/><path stroke="#440256" d="M35 16h1M35 17h1M35 18h1M35 19h1M35 20h1M44 57h1M44 58h1M44 59h1M44 60h1M44 61h1M44 62h1M35 99h1M35 100h1M35 101h1M35 102h1M35 103h1M35 104h1"/><path stroke="#450559" d="M35 13h1M35 14h1M35 15h1M35 105h1M35 106h1M35 107h1"/><path stroke="#46085c" d="M34 0h1M34 1h1M34 2h1M34 3h1M34 4h1M35 10h1M35 11h1M35 12h1M35 108h1M35 110h1M34 114h1"/><path stroke="#460b5e" d="M35 0h1M35 1h1M35 2h1M35 3h1M35 4h1M34 5h2M34 6h2M34 7h2M35 8h1M35 9h1M35 21h1M35 109h1M35 111h1M35 112h1M34 113h2M35 114h1M34 115h2M34 116h2M34 117h2M34 118h2M34 119h2"/><path stroke="#470e61" d="M34 8h1M34 9h1M34 10h1M35 98h1M34 110h1M34 111h1M34 112h1"/><path stroke="#471164" d="M34 11h1M44 63h1M34 108h1M34 109h1"/><path stroke="#481467" d="M34 12h1M34 107h1"/><path stroke="#481769" d="M34 13h1"/><path stroke="#481a6c" d="M34 14h1M36 98h1M34 106h1"/><path stroke="#481c6e" d="M36 21h1M34 105h1"/><path stroke="#481f70" d="M34 15h1M43 56h2M43 63h1M36 97h1M34 104h1"/><path stroke="#482173" d="M34 16h1M36 20h1M36 22h1M115 36h5M115 37h5M114 38h6M114 39h6M114 40h6M113 41h7M113 42h7M113 43h7M113 44h7M113 45h7M113 46h7M113 47h7M113 48h7M112 49h8M112 50h8M112 51h8M112 52h8M112 53h8M112 54h8M112 55h8M112 56h8M43 57h1M112 57h8M43 58h1M112 58h8M112 59h8M112 60h8M112 61h8M43 62h1M112 62h8M112 63h8M112 64h8M112 65h8M112 66h8M112 67h8M112 68h8M112 69h8M112 70h8M113 71h7M113 72h7M113 73h7M113 74h7M113 75h7M113 76h7M113 77h7M113 78h7M113 79h7M114 80h6M114 81h6M114 82h6M115 83h5M115 84h5M36 99h1M34 103h1"/><path stroke="#482475" d="M113 0h7M113 1h7M113 2h7M113 3h7M113 4h7M113 5h7M113 6h7M113 7h7M113 8h7M113 9h7M113 10h7M113 11h7M113 12h7M113 13h7M113 14h7M113 15h7M113 16h7M34 17h1M113 17h7M113 18h7M113 19h7M113 20h7M113 21h7M113 22h7M36 23h1M113 23h7M113 24h7M113 25h7M113 26h7M113 27h7M113 28h7M113 29h7M113 30h7M113 31h7M113 32h7M113 33h7M112 34h8M112 35h8M112 36h3M111 37h4M111 38h3M111 39h3M110 40h4M110 41h3M110 42h3M109 43h4M109 44h4M109 45h4M109 46h4M109 47h4M109 48h4M109 49h3M109 50h3M108 51h4M108 52h4M108 53h4M108 54h4M43 55h1M108 55h4M108 56h4M108 57h4M108 58h4M43 59h1M45 59h1M108 59h4M45 60h1M108 60h4M43 61h1M108 61h4M108 62h4M108 63h4M43 64h1M108 64h4M108 65h4M108 66h4M108 67h4M108 68h4M109 69h3M109 70h3M109 71h4M109 72h4M109 73h4M109 74h4M109 75h4M109 76h4M110 77h3M110 78h3M110 79h3M110 80h4M111 81h3M111 82h3M111 83h4M112 84h3M112 85h8M112 86h8M113 87h7M113 88h7M113 89h7M113 90h7M113 91h7M113 92h7M113 93h7M113 94h7M113 95h7M36 96h1M113 96h7M113 97h7M113 98h7M113 99h7M113 100h7M113 101h7M34 102h1M113 102h7M113 103h7M113 104h7M113 105h7M113 106h7M113 107h7M113 108h7M113 109h7M113 110h7M113 111h7M113 112h7M113 113h7M113 114h7M113 115h7M113 116h7M113 117h7M113 118h7M113 119h7"/><path stroke="#482677" d="M110 0h3M110 1h3M110 2h3M110 3h3M110 4h3M110 5h3M110 6h3M110 7h3M110 8h3M110 9h3M110 10h3M110 11h3M110 12h3M110 13h3M110 14h3M110 15h3M110 16h3M110 17h3M110 18h3M110 19h3M110 20h3M110 21h3M35 22h1M110 22h3M110 23h3M36 24h1M110 24h3M110 25h3M110 26h3M110 27h3M37 28h1M110 28h3M37 29h1M110 29h3M110 30h3M110 31h3M38 32h1M109 32h4M38 33h1M109 33h4M109 34h3M109 35h3M108 36h4M108 37h3M108 38h3M107 39h4M107 40h3M107 41h3M106 42h4M106 43h3M106 44h3M106 45h3M106 46h3M105 47h4M105 48h4M105 49h4M105 50h4M105 51h3M104 52h4M104 53h4M104 54h4M104 55h4M104 56h4M45 57h1M104 57h4M45 58h1M104 58h4M104 59h4M43 60h1M104 60h4M45 61h1M104 61h4M45 62h1M104 62h4M104 63h4M104 64h4M43 65h1M104 65h4M104 66h4M104 67h4M105 68h3M105 69h4M105 70h4M105 71h4M105 72h4M106 73h3M106 74h3M106 75h3M106 76h3M106 77h4M107 78h3M107 79h3M107 80h3M108 81h3M108 82h3M108 83h3M108 84h4M109 85h3M109 86h3M38 87h1M109 87h4M110 88h3M110 89h3M37 90h1M110 90h3M37 91h1M110 91h3M110 92h3M110 93h3M110 94h3M36 95h1M110 95h3M110 96h3M110 97h3M110 98h3M110 99h3M110 100h3M110 101h3M110 102h3M110 103h3M110 104h3M110 105h3M110 106h3M110 107h3M110 108h3M110 109h3M110 110h3M110 111h3M110 112h3M110 113h3M110 114h3M110 115h3M110 116h3M110 117h3M110 118h3M110 119h3"/><path stroke="#482979" d="M106 0h4M106 1h4M106 2h4M106 3h4M106 4h4M106 5h4M106 6h4M106 7h4M106 8h4M106 9h4M106 10h4M106 11h4M106 12h4M106 13h4M106 14h4M106 15h4M106 16h4M106 17h4M34 18h1M106 18h4M106 19h4M106 20h4M106 21h4M106 22h4M106 23h4M106 24h4M36 25h1M106 25h4M106 26h4M106 27h4M106 28h4M106 29h4M106 30h4M106 31h4M106 32h3M106 33h3M106 34h3M105 35h4M39 36h1M105 36h3M39 37h1M105 37h3M39 38h1M104 38h4M104 39h3M104 40h3M103 41h4M103 42h3M103 43h3M103 44h3M102 45h4M102 46h4M102 47h3M102 48h3M101 49h4M42 50h1M101 50h4M101 51h4M101 52h3M100 53h4M43 54h1M100 54h4M100 55h4M100 56h4M100 57h4M100 58h4M100 59h4M100 60h4M100 61h4M100 62h4M100 63h4M100 64h4M100 65h4M100 66h4M101 67h3M101 68h4M101 69h4M101 70h4M102 71h3M102 72h3M41 73h1M102 73h4M102 74h4M103 75h3M103 76h3M40 77h1M103 77h3M40 78h1M103 78h4M104 79h3M104 80h3M104 81h4M39 82h1M105 82h3M39 83h1M105 83h3M105 84h3M106 85h3M38 86h1M106 86h3M106 87h3M106 88h4M106 89h4M106 90h4M106 91h4M106 92h4M106 93h4M36 94h1M106 94h4M106 95h4M106 96h4M35 97h1M106 97h4M106 98h4M106 99h4M36 100h1M106 100h4M34 101h1M106 101h4M106 102h4M106 103h4M106 104h4M106 105h4M106 106h4M106 107h4M106 108h4M106 109h4M106 110h4M106 111h4M106 112h4M106 113h4M106 114h4M106 115h4M106 116h4M106 117h4M106 118h4M106 119h4"/><path stroke="#472c7a" d="M103 0h3M103 1h3M103 2h3M103 3h3M103 4h3M103 5h3M103 6h3M103 7h3M103 8h3M103 9h3M103 10h3M103 11h3M103 12h3M103 13h3M103 14h3M103 15h3M103 16h3M103 17h3M103 18h3M34 19h1M103 19h3M103 20h3M103 21h3M103 22h3M103 23h3M103 24h3M103 25h3M103 26h3M37 27h1M103 27h3M103 28h3M103 29h3M37 30h1M103 30h3M103 31h3M103 32h3M103 33h3M38 34h1M102 34h4M102 35h3M102 36h3M101 37h4M101 38h3M101 39h3M100 40h4M40 41h1M100 41h3M40 42h1M100 42h3M40 43h1M100 43h3M99 44h4M99 45h3M41 46h1M99 46h3M41 47h1M98 47h4M98 48h4M98 49h3M97 50h4M42 51h1M97 51h4M97 52h4M97 53h3M97 54h3M97 55h3M97 56h3M97 57h3M97 58h3M97 59h3M97 60h3M97 61h3M97 62h3M97 63h3M97 64h3M97 65h3M97 66h3M97 67h4M42 68h1M97 68h4M42 69h1M97 69h4M98 70h3M98 71h4M41 72h1M98 72h4M99 73h3M99 74h3M99 75h4M100 76h3M100 77h3M100 78h3M100 79h4M101 80h3M39 81h1M101 81h3M101 82h4M102 83h3M102 84h3M102 85h4M103 86h3M103 87h3M38 88h1M103 88h3M103 89h3M103 90h3M103 91h3M37 92h1M103 92h3M103 93h3M103 94h3M103 95h3M103 96h3M103 97h3M103 98h3M103 99h3M103 100h3M103 101h3M103 102h3M103 103h3M103 104h3M103 105h3M103 106h3M103 107h3M103 108h3M103 109h3M103 110h3M103 111h3M103 112h3M103 113h3M103 114h3M103 115h3M103 116h3M103 117h3M103 118h3M103 119h3"/><path stroke="#472e7c" d="M100 0h3M100 1h3M100 2h3M100 3h3M100 4h3M100 5h3M100 6h3M100 7h3M100 8h3M100 9h3M100 10h3M100 11h3M100 12h3M100 13h3M100 14h3M100 15h3M100 16h3M100 17h3M100 18h3M36 19h1M100 19h3M100 20h3M100 21h3M100 22h3M100 23h3M100 24h3M100 25h3M36 26h1M100 26h3M100 27h3M100 28h3M100 29h3M100 30h3M38 31h1M100 31h3M100 32h3M100 33h3M99 34h3M39 35h1M99 35h3M99 36h3M98 37h3M98 38h3M98 39h3M97 40h3M97 41h3M97 42h3M96 43h4M96 44h3M96 45h3M95 46h4M95 47h3M95 48h3M94 49h4M94 50h3M94 51h3M94 52h3M93 53h4M93 54h4M93 55h4M93 56h4M93 57h4M93 58h4M93 59h4M93 60h4M93 61h4M93 62h4M93 63h4M93 64h4M93 65h4M43 66h1M93 66h4M93 67h4M94 68h3M94 69h3M42 70h1M94 70h4M95 71h3M95 72h3M95 73h4M41 74h1M96 74h3M96 75h3M40 76h1M96 76h4M97 77h3M97 78h3M97 79h3M98 80h3M98 81h3M98 82h3M99 83h3M39 84h1M99 84h3M38 85h1M99 85h3M100 86h3M100 87h3M100 88h3M37 89h1M100 89h3M100 90h3M100 91h3M100 92h3M100 93h3M100 94h3M100 95h3M100 96h3M100 97h3M100 98h3M100 99h3M34 100h1M100 100h3M100 101h3M100 102h3M100 103h3M100 104h3M100 105h3M100 106h3M100 107h3M100 108h3M100 109h3M100 110h3M100 111h3M100 112h3M100 113h3M100 114h3M100 115h3M100 116h3M100 117h3M100 118h3M100 119h3"/><path stroke="#46307e" d="M97 0h3M97 1h3M97 2h3M97 3h3M97 4h3M97 5h3M97 6h3M97 7h3M97 8h3M97 9h3M97 10h3M97 11h3M97 12h3M97 13h3M97 14h3M97 15h3M97 16h3M97 17h3M36 18h1M97 18h3M97 19h3M97 20h3M97 21h3M97 22h3M97 23h3M97 24h3M97 25h3M97 26h3M97 27h3M97 28h3M97 29h3M97 30h3M97 31h3M97 32h3M96 33h4M96 34h3M96 35h3M96 36h3M95 37h3M95 38h3M39 39h1M95 39h3M40 40h1M94 40h3M94 41h3M94 42h3M93 43h3M40 44h1M93 44h3M41 45h1M93 45h3M92 46h3M92 47h3M41 48h1M92 48h3M42 49h1M91 49h3M91 50h3M91 51h3M42 52h1M90 52h4M43 53h1M90 53h3M90 54h3M90 55h3M90 56h3M90 57h3M90 58h3M90 59h3M90 60h3M90 61h3M90 62h3M90 63h3M90 64h3M90 65h3M90 66h3M42 67h1M90 67h3M91 68h3M91 69h3M91 70h3M92 71h3M92 72h3M92 73h3M93 74h3M93 75h3M93 76h3M94 77h3M94 78h3M40 79h1M94 79h3M39 80h1M94 80h4M95 81h3M95 82h3M95 83h4M96 84h3M96 85h3M96 86h4M97 87h3M97 88h3M97 89h3M97 90h3M97 91h3M97 92h3M37 93h1M97 93h3M97 94h3M97 95h3M97 96h3M97 97h3M97 98h3M97 99h3M97 100h3M36 101h1M97 101h3M97 102h3M97 103h3M97 104h3M97 105h3M97 106h3M97 107h3M97 108h3M97 109h3M97 110h3M97 111h3M97 112h3M97 113h3M97 114h3M97 115h3M97 116h3M97 117h3M97 118h3M97 119h3"/><path stroke="#46337f" d="M94 0h3M94 1h3M94 2h3M94 3h3M94 4h3M94 5h3M94 6h3M94 7h3M94 8h3M94 9h3M94 10h3M94 11h3M94 12h3M94 13h3M94 14h3M94 15h3M94 16h3M94 17h3M94 18h3M94 19h3M94 20h3M94 21h3M94 22h3M94 23h3M94 24h3M94 25h3M37 26h1M94 26h3M94 27h3M94 28h3M94 29h3M94 30h3M94 31h3M94 32h3M93 33h3M93 34h3M93 35h3M92 36h4M92 37h3M92 38h3M92 39h3M91 40h3M91 41h3M91 42h3M90 43h3M90 44h3M90 45h3M89 46h3M89 47h3M89 48h3M88 49h3M88 50h3M88 51h3M87 52h3M87 53h3M87 54h3M87 55h3M87 56h3M87 57h3M87 58h3M87 59h3M87 60h3M87 61h3M87 62h3M87 63h3M87 64h3M87 65h3M87 66h3M87 67h3M88 68h3M88 69h3M88 70h3M89 71h3M89 72h3M89 73h3M90 74h3M40 75h1M90 75h3M90 76h3M91 77h3M91 78h3M91 79h3M91 80h3M92 81h3M92 82h3M92 83h3M93 84h3M93 85h3M93 86h3M94 87h3M94 88h3M94 89h3M94 90h3M94 91h3M94 92h3M36 93h1M94 93h3M94 94h3M94 95h3M94 96h3M94 97h3M94 98h3M94 99h3M94 100h3M94 101h3M36 102h1M94 102h3M94 103h3M94 104h3M94 105h3M94 106h3M94 107h3M94 108h3M94 109h3M94 110h3M94 111h3M94 112h3M94 113h3M94 114h3M94 115h3M94 116h3M94 117h3M94 118h3M94 119h3"/><path stroke="#453581" d="M91 0h3M91 1h3M91 2h3M91 3h3M91 4h3M91 5h3M91 6h3M91 7h3M91 8h3M91 9h3M91 10h3M91 11h3M91 12h3M91 13h3M91 14h3M91 15h3M36 16h1M91 16h3M36 17h1M91 17h3M91 18h3M91 19h3M34 20h1M91 20h3M91 21h3M91 22h3M91 23h3M91 24h3M91 25h3M91 26h3M91 27h3M91 28h3M91 29h3M91 30h3M37 31h1M91 31h3M91 32h3M90 33h3M90 34h3M90 35h3M90 36h2M89 37h3M89 38h3M89 39h3M88 40h3M88 41h3M88 42h3M87 43h3M87 44h3M87 45h3M86 46h3M86 47h3M86 48h3M85 49h3M85 50h3M85 51h3M85 52h2M84 53h3M84 54h3M84 55h3M84 56h3M84 57h3M84 58h3M84 59h3M84 60h3M84 61h3M84 62h3M45 63h1M84 63h3M84 64h3M84 65h3M84 66h3M84 67h3M85 68h3M85 69h3M85 70h3M41 71h2M86 71h3M86 72h3M86 73h3M87 74h3M87 75h3M87 76h3M88 77h3M88 78h3M88 79h3M88 80h3M89 81h3M89 82h3M89 83h3M90 84h3M39 85h1M90 85h3M90 86h3M91 87h3M91 88h3M38 89h1M91 89h3M91 90h3M91 91h3M91 92h3M91 93h3M91 94h3M91 95h3M91 96h3M91 97h3M91 98h3M91 99h3M91 100h3M91 101h3M91 102h3M36 103h1M91 103h3M91 104h3M91 105h3M91 106h3M91 107h3M91 108h3M91 109h3M91 110h3M91 111h3M91 112h3M91 113h3M91 114h3M91 115h3M91 116h3M91 117h3M91 118h3M91 119h3"/><path stroke="#453882" d="M88 0h3M88 1h3M88 2h3M88 3h3M88 4h3M88 5h3M88 6h3M88 7h3M88 8h3M88 9h3M88 10h3M88 11h3M88 12h3M88 13h3M88 14h3M36 15h1M88 15h3M88 16h3M88 17h3M88 18h3M88 19h3M88 20h3M88 21h3M88 22h3M88 23h3M88 24h3M88 25h3M88 26h3M36 27h1M88 27h3M88 28h3M88 29h3M38 30h1M88 30h3M88 31h3M88 32h3M88 33h2M39 34h1M87 34h3M38 35h1M87 35h3M87 36h3M86 37h3M86 38h3M86 39h3M85 40h3M85 41h3M85 42h3M84 43h3M84 44h3M84 45h3M84 46h2M83 47h3M83 48h3M83 49h2M83 50h2M83 51h2M83 52h2M42 53h1M83 53h1M83 54h1M83 55h1M83 56h1M83 57h1M83 58h1M83 59h1M83 60h1M83 61h1M83 62h1M83 63h1M83 64h1M83 65h1M83 66h1M83 67h1M83 68h2M83 69h2M83 70h2M83 71h3M83 72h3M84 73h2M84 74h3M41 75h1M84 75h3M84 76h3M85 77h3M85 78h3M85 79h3M40 80h1M86 80h2M86 81h3M86 82h3M86 83h3M38 84h1M87 84h3M87 85h3M87 86h3M88 87h3M37 88h1M88 88h3M88 89h3M88 90h3M88 91h3M88 92h3M88 93h3M88 94h3M88 95h3M88 96h3M88 97h3M88 98h3M34 99h1M88 99h3M88 100h3M88 101h3M88 102h3M88 103h3M36 104h1M88 104h3M88 105h3M88 106h3M88 107h3M88 108h3M88 109h3M88 110h3M88 111h3M88 112h3M88 113h3M88 114h3M88 115h3M88 116h3M88 117h3M88 118h3M88 119h3"/><path stroke="#443a83" d="M85 0h3M85 1h3M85 2h3M85 3h3M85 4h3M85 5h3M85 6h3M85 7h3M85 8h3M85 9h3M85 10h3M85 11h3M85 12h3M85 13h3M36 14h1M85 14h3M85 15h3M85 16h3M85 17h3M85 18h3M85 19h3M85 20h3M85 21h3M85 22h3M85 23h3M85 24h3M85 25h3M85 26h3M85 27h3M85 28h3M85 29h3M85 30h3M85 31h3M85 32h3M85 33h3M84 34h3M84 35h3M84 36h3M83 37h3M83 38h3M40 39h1M83 39h3M39 40h1M83 40h2M83 41h2M83 42h2M83 43h1M41 44h1M82 44h2M82 45h2M82 46h2M82 47h1M42 48h1M82 48h1M41 49h1M82 49h1M82 50h1M82 51h1M43 52h1M82 52h1M82 53h1M82 54h1M82 55h1M82 56h1M82 57h1M82 58h1M82 59h1M82 60h1M82 61h1M82 62h1M82 63h1M82 64h1M82 65h1M42 66h1M82 66h1M43 67h1M82 67h1M82 68h1M82 69h1M82 70h1M82 71h1M82 72h1M82 73h2M82 74h2M82 75h2M83 76h1M83 77h2M83 78h2M39 79h1M83 79h2M83 80h3M83 81h3M83 82h3M84 83h2M84 84h3M84 85h3M85 86h2M85 87h3M85 88h3M85 89h3M85 90h3M85 91h3M36 92h1M85 92h3M85 93h3M37 94h1M85 94h3M85 95h3M85 96h3M85 97h3M85 98h3M85 99h3M85 100h3M85 101h3M85 102h3M85 103h3M85 104h3M36 105h1M85 105h3M85 106h3M85 107h3M85 108h3M85 109h3M85 110h3M85 111h3M85 112h3M85 113h3M85 114h3M85 115h3M85 116h3M85 117h3M85 118h3M85 119h3"/><path stroke="#433d84" d="M83 0h2M83 1h2M83 2h2M83 3h2M83 4h2M83 5h2M83 6h2M83 7h2M83 8h2M83 9h2M83 10h2M83 11h2M83 12h2M36 13h1M83 13h2M83 14h2M83 15h2M83 16h2M83 17h2M83 18h2M83 19h2M83 20h2M83 21h2M83 22h2M83 23h2M83 24h2M37 25h1M83 25h2M83 26h2M83 27h2M83 28h2M83 29h2M83 30h2M83 31h2M83 32h2M82 33h3M82 34h2M82 35h2M82 36h2M82 37h1M82 38h1M82 39h1M82 40h1M82 41h1M82 42h1M82 43h1M40 45h1M44 64h1M82 76h1M82 77h1M82 78h1M82 79h1M82 80h1M82 81h1M82 82h1M82 83h2M82 84h2M82 85h2M82 86h3M83 87h2M83 88h2M83 89h2M83 90h2M83 91h2M83 92h2M83 93h2M83 94h2M83 95h2M83 96h2M83 97h2M83 98h2M83 99h2M83 100h2M83 101h2M83 102h2M83 103h2M83 104h2M83 105h2M36 106h1M83 106h2M83 107h2M83 108h2M83 109h2M83 110h2M83 111h2M83 112h2M83 113h2M83 114h2M83 115h2M83 116h2M83 117h2M83 118h2M83 119h2"/><path stroke="#423f85" d="M82 0h1M82 1h1M82 2h1M82 3h1M82 4h1M82 5h1M82 6h1M82 7h1M82 8h1M82 9h1M82 10h1M36 11h1M82 11h1M36 12h1M82 12h1M82 13h1M82 14h1M82 15h1M82 16h1M82 17h1M82 18h1M82 19h1M82 20h1M82 21h1M82 22h1M35 23h1M82 23h1M82 24h1M82 25h1M82 26h1M82 27h1M82 28h1M82 29h1M82 30h1M82 31h1M82 32h1M81 33h1M81 34h1M81 35h1M38 36h1M81 36h1M81 37h1M81 38h1M81 39h1M81 40h1M81 41h1M81 42h1M81 43h1M81 44h1M81 45h1M81 46h1M81 47h1M81 48h1M81 49h1M81 50h1M81 51h1M81 52h1M81 53h1M42 54h1M81 54h1M81 55h1M81 56h1M81 57h1M81 58h1M81 59h1M81 60h1M81 61h1M81 62h1M81 63h1M81 64h1M81 65h1M81 66h1M81 67h1M81 68h1M81 69h1M41 70h1M81 70h1M81 71h1M81 72h1M81 73h1M40 74h1M81 74h1M81 75h1M81 76h1M81 77h1M81 78h1M81 79h1M81 80h1M40 81h1M81 81h1M81 82h1M81 83h1M81 84h1M81 85h1M81 86h1M82 87h1M82 88h1M82 89h1M82 90h1M82 91h1M82 92h1M82 93h1M82 94h1M82 95h1M82 96h1M82 97h1M82 98h1M82 99h1M82 100h1M82 101h1M82 102h1M82 103h1M82 104h1M82 105h1M82 106h1M36 107h1M82 107h1M36 108h1M82 108h1M82 109h1M82 110h1M82 111h1M82 112h1M82 113h1M82 114h1M82 115h1M82 116h1M82 117h1M82 118h1M82 119h1"/><path stroke="#424186" d="M36 0h1M81 0h1M36 1h1M81 1h1M36 2h1M81 2h1M36 3h1M81 3h1M36 4h1M81 4h1M36 5h1M81 5h1M36 6h1M81 6h1M36 7h1M81 7h1M36 8h1M81 8h1M36 9h1M81 9h1M36 10h1M81 10h1M81 11h1M81 12h1M81 13h1M81 14h1M81 15h1M81 16h1M81 17h1M81 18h1M81 19h1M81 20h1M34 21h1M81 21h1M81 22h1M81 23h1M81 24h1M81 25h1M81 26h1M81 27h1M81 28h1M81 29h1M81 30h1M81 31h1M37 32h1M81 32h1M40 38h1M39 41h1M42 72h1M41 76h1M39 86h1M81 87h1M81 88h1M81 89h1M38 90h1M81 90h1M81 91h1M81 92h1M81 93h1M81 94h1M81 95h1M35 96h1M81 96h1M81 97h1M81 98h1M81 99h1M81 100h1M81 101h1M81 102h1M81 103h1M81 104h1M81 105h1M81 106h1M81 107h1M81 108h1M36 109h1M81 109h1M36 110h1M81 110h1M36 111h1M81 111h1M36 112h1M81 112h1M36 113h1M81 113h1M36 114h1M81 114h1M36 115h1M81 115h1M36 116h1M81 116h1M36 117h1M81 117h1M36 118h1M81 118h1M36 119h1M81 119h1"/><path stroke="#414487" d="M80 0h1M80 1h1M80 2h1M80 3h1M80 4h1M80 5h1M80 6h1M80 7h1M80 8h1M80 9h1M80 10h1M80 11h1M80 12h1M80 13h1M80 14h1M80 15h1M80 16h1M80 17h1M80 18h1M80 19h1M80 20h1M80 21h1M80 22h1M80 23h1M80 24h1M80 25h1M80 26h1M80 27h1M36 28h1M80 28h1M38 29h1M80 29h1M80 30h1M80 31h1M80 32h1M39 33h1M80 33h1M80 34h1M80 35h1M80 36h1M80 37h1M80 38h1M80 39h1M80 40h1M80 41h1M80 42h1M41 43h1M80 43h1M80 44h1M80 45h1M80 46h1M42 47h1M80 47h1M80 48h1M80 49h1M80 50h1M80 51h1M45 56h1M42 65h1M43 68h1M80 68h1M80 69h1M80 70h1M80 71h1M80 72h1M80 73h1M80 74h1M80 75h1M80 76h1M80 77h1M80 78h1M80 79h1M80 80h1M80 81h1M80 82h1M38 83h1M80 83h1M80 84h1M80 85h1M80 86h1M37 87h1M80 87h1M80 88h1M80 89h1M80 90h1M80 91h1M80 92h1M80 93h1M80 94h1M37 95h1M80 95h1M80 96h1M80 97h1M34 98h1M80 98h1M80 99h1M80 100h1M80 101h1M80 102h1M80 103h1M80 104h1M80 105h1M80 106h1M80 107h1M80 108h1M80 109h1M80 110h1M80 111h1M80 112h1M80 113h1M80 114h1M80 115h1M80 116h1M80 117h1M80 118h1M80 119h1"/><path stroke="#404688" d="M37 24h1M43 51h1M80 52h1M80 53h1M80 54h1M44 55h1M80 55h1M80 56h1M80 57h1M80 58h1M80 59h1M80 60h1M80 61h1M80 62h1M80 63h1M80 64h1M80 65h1M80 66h1M80 67h1M39 78h1M36 91h1"/><path stroke="#3f4889" d="M33 0h1M79 0h1M33 1h1M79 1h1M33 2h1M79 2h1M33 3h1M79 3h1M33 4h1M79 4h1M79 5h1M79 6h1M79 7h1M79 8h1M79 9h1M79 10h1M79 11h1M79 12h1M79 13h1M79 14h1M79 15h1M79 16h1M79 17h1M79 18h1M79 19h1M79 20h1M79 21h1M79 22h1M79 23h1M79 24h1M79 25h1M79 26h1M79 27h1M79 28h1M79 29h1M79 30h1M79 31h1M79 32h1M79 33h1M79 34h1M79 35h1M79 36h1M79 37h1M79 38h1M79 39h1M79 40h1M79 41h1M79 42h1M79 43h1M40 46h1M41 50h1M42 55h1M79 77h1M79 78h1M79 79h1M79 80h1M79 81h1M40 82h1M79 82h1M79 83h1M79 84h1M79 85h1M79 86h1M79 87h1M79 88h1M79 89h1M79 90h1M79 91h1M79 92h1M79 93h1M79 94h1M79 95h1M79 96h1M79 97h1M79 98h1M79 99h1M79 100h1M79 101h1M79 102h1M79 103h1M79 104h1M79 105h1M79 106h1M79 107h1M79 108h1M79 109h1M79 110h1M79 111h1M79 112h1M79 113h1M79 114h1M79 115h1M79 116h1M79 117h1M79 118h1M79 119h1"/><path stroke="#3e4a89" d="M78 0h1M78 1h1M78 2h1M78 3h1M78 4h1M33 5h1M78 5h1M33 6h1M78 6h1M78 7h1M78 8h1M78 9h1M78 10h1M78 11h1M78 12h1M78 13h1M78 14h1M78 15h1M78 16h1M78 17h1M78 18h1M78 19h1M78 20h1M78 21h1M78 22h1M78 23h1M78 24h1M78 25h1M78 26h1M78 27h1M78 28h1M78 29h1M78 30h1M78 31h1M78 32h1M78 33h1M78 34h1M38 37h1M40 37h1M79 44h1M79 45h1M79 46h1M79 47h1M79 48h1M79 49h1M42 64h1M41 69h1M79 70h1M79 71h1M79 72h1M40 73h1M79 73h1M79 74h1M79 75h1M79 76h1M41 77h1M78 86h1M39 87h1M78 87h1M78 88h1M78 89h1M78 90h1M38 91h1M78 91h1M78 92h1M78 93h1M78 94h1M78 95h1M37 96h1M78 96h1M78 97h1M78 98h1M78 99h1M78 100h1M78 101h1M78 102h1M78 103h1M78 104h1M78 105h1M78 106h1M78 107h1M78 108h1M78 109h1M78 110h1M78 111h1M78 112h1M33 113h1M78 113h1M33 114h1M78 114h1M33 115h1M78 115h1M33 116h1M78 116h1M33 117h1M78 117h1M33 118h1M78 118h1M33 119h1M78 119h1"/><path stroke="#3d4d8a" d="M33 7h1M33 8h1M37 23h1M35 24h1M38 28h1M36 29h1M39 32h1M37 33h1M78 35h1M78 36h1M78 37h1M78 38h1M78 39h1M78 40h1M39 42h1M41 42h1M79 50h1M79 51h1M79 52h1M79 53h1M79 54h1M79 55h1M79 56h1M79 64h1M79 65h1M79 66h1M79 67h1M79 68h1M43 69h1M79 69h1M42 73h1M78 79h1M78 80h1M78 81h1M38 82h1M78 82h1M78 83h1M78 84h1M78 85h1M33 112h1"/><path stroke="#3c4f8a" d="M77 0h1M77 1h1M77 2h1M77 3h1M77 4h1M77 5h1M77 6h1M77 7h1M77 8h1M33 9h1M77 9h1M77 10h1M77 11h1M77 12h1M77 13h1M77 14h1M77 15h1M77 16h1M77 17h1M77 18h1M77 19h1M77 20h1M37 21h1M77 21h1M37 22h1M77 22h1M77 23h1M77 24h1M77 25h1M77 26h1M77 27h1M77 28h1M77 29h1M77 30h1M77 31h1M77 32h1M77 33h1M77 34h1M77 35h1M78 41h1M78 42h1M78 43h1M78 44h1M78 45h1M42 46h1M42 56h1M79 57h1M79 58h1M79 59h1M79 60h1M79 61h1M79 62h1M79 63h1M44 65h1M78 74h1M78 75h1M78 76h1M39 77h1M78 77h1M78 78h1M40 83h1M77 84h1M77 85h1M37 86h1M77 86h1M77 87h1M77 88h1M77 89h1M77 90h1M77 91h1M77 92h1M77 93h1M77 94h1M35 95h1M77 95h1M77 96h1M37 97h1M77 97h1M37 98h1M77 98h1M77 99h1M77 100h1M77 101h1M77 102h1M77 103h1M77 104h1M77 105h1M77 106h1M77 107h1M77 108h1M77 109h1M33 110h1M77 110h1M33 111h1M77 111h1M77 112h1M77 113h1M77 114h1M77 115h1M77 116h1M77 117h1M77 118h1M77 119h1"/><path stroke="#3b518b" d="M76 0h1M76 1h1M76 2h1M76 3h1M76 4h1M76 5h1M76 6h1M76 7h1M76 8h1M76 9h1M33 10h1M76 10h1M33 11h1M76 11h1M76 12h1M76 13h1M76 14h1M76 15h1M76 16h1M76 17h1M76 18h1M76 19h1M37 20h1M76 20h1M76 21h1M76 22h1M76 23h1M76 24h1M76 25h1M76 26h1M76 27h1M76 28h1M76 29h1M76 30h1M76 31h1M76 32h1M40 36h1M77 36h1M77 37h1M77 38h1M77 39h1M49 46h1M78 46h1M78 47h1M78 48h1M78 49h1M43 50h1M42 63h1M78 70h1M78 71h1M50 72h1M78 72h1M49 73h1M78 73h1M41 78h1M77 80h1M77 81h1M77 82h1M77 83h1M76 87h1M76 88h1M76 89h1M36 90h1M76 90h1M76 91h1M38 92h1M76 92h1M76 93h1M76 94h1M76 95h1M76 96h1M76 97h1M76 98h1M37 99h1M76 99h1M76 100h1M76 101h1M76 102h1M76 103h1M76 104h1M76 105h1M76 106h1M76 107h1M76 108h1M33 109h1M76 109h1M76 110h1M76 111h1M76 112h1M76 113h1M76 114h1M76 115h1M76 116h1M76 117h1M76 118h1M76 119h1"/><path stroke="#3a538b" d="M33 12h1M37 18h1M37 19h1M38 27h1M76 33h1M76 34h1M76 35h1M76 36h1M38 38h1M77 40h1M41 41h1M77 41h1M77 42h1M77 43h1M40 47h1M78 50h1M41 51h1M78 51h1M78 52h1M78 53h1M44 54h1M42 57h1M42 62h1M78 66h1M78 67h1M78 68h1M54 69h1M78 69h1M77 76h1M77 77h1M77 78h1M77 79h1M76 83h1M76 84h1M76 85h1M76 86h1M39 88h1M37 100h1M37 101h1M33 107h1M33 108h1"/><path stroke="#39558c" d="M37 0h1M75 0h1M37 1h1M75 1h1M37 2h1M75 2h1M37 3h1M75 3h1M37 4h1M75 4h1M37 5h1M75 5h1M37 6h1M75 6h1M37 7h1M75 7h1M37 8h1M75 8h1M37 9h1M75 9h1M37 10h1M75 10h1M37 11h1M75 11h1M37 12h1M75 12h1M33 13h1M37 13h1M75 13h1M37 14h1M75 14h1M37 15h1M75 15h1M37 16h1M75 16h1M37 17h1M75 17h1M75 18h1M75 19h1M75 20h1M75 21h1M75 22h1M75 23h1M75 24h1M35 25h1M75 25h1M75 26h1M75 27h1M75 28h1M75 29h1M75 30h1M39 31h1M75 31h1M75 32h1M75 33h1M75 34h1M76 37h1M76 38h1M76 39h1M39 43h1M77 44h1M77 45h1M77 46h1M51 47h1M77 47h1M78 54h1M78 55h1M78 56h1M78 57h1M42 58h1M78 58h1M42 59h1M78 59h1M42 60h1M78 60h1M42 61h1M78 61h1M78 62h1M78 63h1M78 64h1M78 65h1M41 68h1M40 72h1M77 73h1M42 74h1M77 74h1M77 75h1M76 80h1M38 81h1M76 81h1M76 82h1M40 84h1M75 86h1M75 87h1M75 88h1M75 89h1M75 90h1M75 91h1M75 92h1M75 93h1M75 94h1M75 95h1M75 96h1M75 97h1M75 98h1M75 99h1M75 100h1M75 101h1M37 102h1M75 102h1M37 103h1M75 103h1M37 104h1M75 104h1M37 105h1M75 105h1M33 106h1M37 106h1M75 106h1M37 107h1M75 107h1M37 108h1M75 108h1M37 109h1M75 109h1M37 110h1M75 110h1M37 111h1M75 111h1M37 112h1M75 112h1M37 113h1M75 113h1M37 114h1M75 114h1M37 115h1M75 115h1M37 116h1M75 116h1M37 117h1M75 117h1M37 118h1M75 118h1M37 119h1M75 119h1"/><path stroke="#38588c" d="M0 0h5M73 0h2M0 1h5M73 1h2M0 2h5M73 2h2M0 3h5M73 3h2M0 4h5M73 4h2M73 5h2M73 6h2M73 7h2M73 8h2M73 9h2M73 10h2M73 11h2M73 12h2M73 13h2M33 14h1M73 14h2M73 15h2M73 16h2M73 17h2M73 18h2M73 19h2M73 20h2M73 21h2M34 22h1M73 22h2M73 23h2M73 24h2M73 25h2M38 26h1M73 26h2M73 27h2M73 28h2M73 29h2M36 30h1M73 30h2M73 31h2M74 32h1M74 33h1M37 34h1M40 35h1M75 35h1M75 36h1M76 40h1M76 41h1M76 42h1M42 45h1M52 48h1M77 48h1M77 49h1M77 50h1M43 70h1M53 70h1M77 70h1M51 71h1M77 71h1M77 72h1M39 76h1M76 77h1M76 78h1M41 79h1M76 79h1M75 83h1M75 84h1M75 85h1M74 86h1M74 87h1M74 88h1M73 89h2M73 90h2M73 91h2M73 92h2M38 93h1M73 93h2M35 94h1M73 94h2M73 95h2M73 96h2M73 97h2M73 98h2M73 99h2M73 100h2M73 101h2M73 102h2M73 103h2M73 104h2M33 105h1M73 105h2M73 106h2M73 107h2M73 108h2M73 109h2M73 110h2M73 111h2M73 112h2M73 113h2M73 114h2M0 115h5M73 115h2M0 116h5M73 116h2M0 117h5M73 117h2M0 118h5M73 118h2M0 119h5M73 119h2"/><path stroke="#375a8c" d="M5 0h1M38 0h2M64 0h9M5 1h1M38 1h2M64 1h9M5 2h1M38 2h2M64 2h9M5 3h1M38 3h2M64 3h9M5 4h1M38 4h2M64 4h9M38 5h2M64 5h9M38 6h2M64 6h9M38 7h2M64 7h9M38 8h2M64 8h9M38 9h2M64 9h9M38 10h2M64 10h9M38 11h2M64 11h9M38 12h1M64 12h9M38 13h1M64 13h9M38 14h1M64 14h9M33 15h1M64 15h9M64 16h9M64 17h9M64 18h9M64 19h9M64 20h9M64 21h9M64 22h9M64 23h9M64 24h9M64 25h9M64 26h9M64 27h9M64 28h9M64 29h9M39 30h1M64 30h9M65 31h8M67 32h7M71 33h3M74 34h1M74 35h1M75 37h1M75 38h1M38 39h1M75 39h1M41 40h1M76 43h1M76 44h1M76 45h1M50 47h1M43 49h1M77 51h1M41 52h1M77 52h1M77 53h1M44 66h1M77 66h1M77 67h1M77 68h1M77 69h1M52 71h1M76 74h1M76 75h1M76 76h1M75 80h1M75 81h1M75 82h1M74 84h1M37 85h1M40 85h1M74 85h1M72 86h2M68 87h6M65 88h9M36 89h1M39 89h1M64 89h9M64 90h9M64 91h9M64 92h9M64 93h9M38 94h1M64 94h9M64 95h9M64 96h9M34 97h1M64 97h9M64 98h9M64 99h9M64 100h9M64 101h9M64 102h9M64 103h9M33 104h1M64 104h9M38 105h1M64 105h9M38 106h1M64 106h9M38 107h1M64 107h9M38 108h2M64 108h9M38 109h2M64 109h9M38 110h2M64 110h9M38 111h2M64 111h9M38 112h2M64 112h9M38 113h2M64 113h9M38 114h2M64 114h9M5 115h1M38 115h2M64 115h9M5 116h1M38 116h2M64 116h9M5 117h1M38 117h2M64 117h9M5 118h1M38 118h2M64 118h9M5 119h1M38 119h2M64 119h9"/><path stroke="#365c8d" d="M40 0h1M58 0h6M40 1h1M58 1h6M40 2h1M58 2h6M40 3h1M58 3h6M40 4h1M58 4h6M0 5h5M40 5h1M58 5h6M40 6h1M58 6h6M40 7h1M58 7h6M40 8h1M58 8h6M40 9h1M58 9h6M40 10h1M58 10h6M40 11h1M58 11h6M39 12h2M58 12h6M39 13h2M58 13h6M39 14h2M58 14h6M38 15h3M58 15h6M33 16h1M38 16h3M58 16h6M38 17h2M58 17h6M38 18h2M58 18h6M38 19h2M58 19h6M38 20h2M58 20h6M38 21h1M58 21h6M38 22h1M58 22h6M58 23h6M38 24h1M58 24h6M38 25h1M58 25h6M58 26h6M58 27h6M58 28h6M58 29h6M59 30h5M59 31h6M59 32h8M60 33h11M40 34h1M64 34h10M71 35h3M74 36h1M74 37h1M75 40h1M75 41h1M39 44h1M76 46h1M76 47h1M40 48h1M76 48h1M44 53h1M77 54h1M77 55h1M77 56h1M77 57h1M77 62h1M77 63h1M45 64h1M77 64h1M77 65h1M76 72h1M76 73h1M42 75h1M75 78h1M75 79h1M38 80h1M41 80h1M74 82h1M74 83h1M72 84h2M66 85h8M61 86h11M60 87h8M59 88h6M59 89h5M39 90h1M58 90h6M58 91h6M58 92h6M58 93h6M58 94h6M38 95h1M58 95h6M58 96h6M38 97h1M58 97h6M38 98h1M58 98h6M38 99h2M58 99h6M38 100h2M58 100h6M38 101h2M58 101h6M38 102h2M58 102h6M33 103h1M38 103h3M58 103h6M38 104h3M58 104h6M39 105h2M58 105h6M39 106h2M58 106h6M39 107h2M58 107h6M40 108h1M58 108h6M40 109h1M58 109h6M40 110h1M58 110h6M40 111h1M58 111h6M40 112h1M58 112h6M40 113h1M58 113h6M0 114h5M40 114h1M58 114h6M40 115h1M58 115h6M40 116h1M58 116h6M40 117h1M58 117h6M40 118h1M58 118h6M40 119h1M58 119h6"/><path stroke="#34608d" d="M6 0h1M42 0h1M51 0h3M6 1h1M42 1h1M51 1h3M6 2h1M42 2h1M51 2h3M6 3h1M42 3h1M51 3h3M6 4h1M42 4h1M51 4h3M5 5h1M42 5h1M51 5h3M42 6h1M51 6h3M42 7h1M51 7h3M42 8h1M51 8h3M42 9h1M51 9h3M42 10h1M51 10h3M42 11h1M51 11h3M42 12h1M51 12h3M42 13h1M51 13h3M42 14h1M51 14h3M42 15h1M51 15h3M42 16h1M51 16h3M42 17h1M51 17h3M42 18h1M51 18h3M42 19h1M51 19h3M42 20h1M51 20h3M41 21h2M51 21h3M41 22h2M51 22h4M41 23h2M52 23h3M41 24h2M52 24h3M40 25h3M52 25h3M39 26h4M53 26h2M39 27h3M53 27h3M40 28h2M53 28h3M40 29h1M53 29h3M40 30h1M54 30h2M36 31h1M40 31h1M54 31h2M40 32h1M55 32h2M40 33h1M55 33h3M56 34h3M57 35h3M58 36h6M59 37h13M41 38h1M62 38h12M73 39h1M38 40h1M74 40h1M74 41h1M75 45h1M50 46h1M75 46h1M43 48h1M76 51h1M76 52h1M41 53h1M46 58h1M41 59h1M46 59h1M41 60h1M46 60h1M41 61h1M46 61h1M76 67h1M55 68h1M76 68h1M53 69h1M51 72h1M75 74h1M75 75h1M74 78h1M74 79h1M73 80h1M41 81h1M65 81h9M60 82h13M59 83h7M37 84h1M58 84h2M57 85h2M56 86h2M40 87h1M55 87h2M36 88h1M40 88h1M54 88h2M40 89h1M54 89h2M40 90h1M53 90h3M40 91h2M53 91h3M39 92h3M53 92h3M35 93h1M39 93h3M53 93h2M39 94h4M52 94h3M40 95h3M52 95h3M41 96h2M52 96h3M41 97h2M51 97h4M41 98h2M51 98h3M42 99h1M51 99h3M42 100h1M51 100h3M42 101h1M51 101h3M42 102h1M51 102h3M42 103h1M51 103h3M42 104h1M51 104h3M42 105h1M51 105h3M42 106h1M51 106h3M42 107h1M51 107h3M42 108h1M51 108h3M42 109h1M51 109h3M42 110h1M51 110h3M42 111h1M51 111h3M42 112h1M51 112h3M42 113h1M51 113h3M5 114h1M42 114h1M51 114h3M6 115h1M42 115h1M51 115h3M6 116h1M42 116h1M51 116h3M6 117h1M42 117h1M51 117h3M6 118h1M42 118h1M51 118h3M6 119h1M42 119h1M51 119h3"/><path stroke="#33628d" d="M43 0h8M43 1h8M43 2h8M43 3h8M43 4h8M43 5h8M0 6h5M43 6h8M43 7h8M43 8h8M43 9h8M43 10h8M43 11h8M43 12h8M43 13h8M43 14h8M43 15h8M43 16h8M43 17h8M33 18h1M43 18h8M43 19h8M43 20h8M43 21h8M43 22h8M43 23h9M43 24h9M43 25h9M43 26h10M42 27h6M50 27h3M42 28h5M50 28h3M41 29h6M51 29h2M41 30h5M51 30h3M41 31h5M52 31h2M41 32h4M52 32h3M41 33h4M53 33h2M41 34h3M54 34h2M41 35h1M55 35h2M41 36h1M56 36h2M41 37h1M57 37h2M58 38h4M59 39h14M61 40h13M73 41h1M74 42h1M42 43h1M74 43h1M75 47h1M75 48h1M44 52h1M76 53h1M76 54h1M45 55h1M76 55h1M41 57h1M41 58h1M41 62h1M46 63h1M76 64h1M76 65h1M41 66h1M76 66h1M44 67h1M43 72h1M75 72h1M75 73h1M42 76h1M74 76h1M74 77h1M73 78h1M38 79h1M64 79h10M59 80h14M58 81h7M41 82h1M57 82h3M41 83h1M56 83h3M41 84h1M55 84h3M41 85h3M54 85h3M41 86h4M53 86h3M41 87h4M52 87h3M41 88h5M52 88h2M41 89h5M51 89h3M41 90h6M51 90h2M42 91h5M50 91h3M42 92h6M50 92h3M42 93h11M43 94h9M43 95h9M43 96h9M43 97h8M43 98h8M43 99h8M43 100h8M33 101h1M43 101h8M43 102h8M43 103h8M43 104h8M43 105h8M43 106h8M43 107h8M43 108h8M43 109h8M43 110h8M43 111h8M43 112h8M43 113h8M43 114h8M43 115h8M43 116h8M43 117h8M43 118h8M43 119h8"/><path stroke="#32648e" d="M7 0h1M7 1h1M7 2h1M7 3h1M7 4h1M6 5h1M33 19h1M35 27h1M48 27h2M47 28h3M47 29h4M46 30h5M46 31h6M36 32h1M45 32h7M45 33h3M51 33h2M44 34h3M52 34h2M42 35h4M53 35h2M37 36h1M42 36h4M54 36h2M42 37h3M55 37h2M42 38h3M56 38h2M42 39h2M57 39h2M42 40h1M58 40h3M42 41h1M59 41h14M42 42h1M60 42h14M73 43h1M74 44h1M39 45h1M74 45h1M43 47h1M40 49h1M75 49h1M75 50h1M41 54h1M41 55h1M41 56h1M46 56h1M76 56h1M76 57h1M76 58h1M76 61h1M76 62h1M41 63h1M76 63h1M41 64h1M41 65h1M75 70h1M75 71h1M43 73h1M39 74h1M74 74h1M74 75h1M42 77h1M61 77h13M42 78h1M59 78h14M42 79h1M58 79h6M42 80h2M57 80h2M42 81h2M56 81h2M42 82h3M55 82h2M37 83h1M42 83h3M54 83h2M42 84h4M53 84h2M44 85h3M52 85h2M45 86h3M51 86h2M45 87h7M46 88h6M46 89h5M47 90h4M47 91h3M48 92h2M33 100h1M0 113h5M6 114h1M7 115h1M7 116h1M7 117h1M7 118h1M7 119h1"/><path stroke="#31668e" d="M5 6h1M33 20h1M48 33h3M47 34h5M46 35h3M50 35h3M46 36h2M51 36h3M37 37h1M45 37h2M52 37h3M45 38h2M53 38h3M44 39h2M54 39h3M43 40h3M55 40h3M38 41h1M43 41h2M56 41h3M43 42h2M57 42h3M43 43h1M59 43h14M43 44h1M60 44h14M43 45h1M43 46h1M74 46h1M74 47h1M51 48h1M44 51h1M75 51h1M75 52h1M40 59h1M76 59h1M40 60h1M76 60h1M44 68h1M54 68h1M75 68h1M75 69h1M40 70h1M50 73h1M74 73h1M43 74h1M43 75h1M60 75h8M73 75h1M43 76h1M59 76h15M43 77h2M58 77h3M38 78h1M43 78h2M57 78h2M43 79h2M56 79h2M44 80h2M55 80h2M44 81h2M54 81h2M45 82h2M53 82h2M45 83h3M52 83h2M46 84h3M51 84h2M47 85h5M48 86h3M36 87h1M35 92h1M33 99h1M5 113h1"/><path stroke="#31688e" d="M7 5h1M34 23h1M35 28h1M36 33h1M49 35h1M48 36h3M47 37h5M47 38h1M51 38h2M46 39h2M52 39h2M46 40h1M53 40h2M45 41h2M54 41h2M38 42h1M45 42h1M55 42h2M44 43h2M56 43h3M44 44h1M57 44h3M44 45h1M58 45h16M39 46h1M44 46h1M59 46h12M73 46h1M44 47h1M74 48h1M74 49h1M40 50h1M44 50h1M75 53h1M75 54h1M40 57h1M40 58h1M40 61h1M40 62h1M45 65h1M75 65h1M75 66h1M75 67h1M44 69h1M44 70h1M74 71h1M44 72h1M74 72h1M39 73h1M44 73h1M60 73h7M73 73h1M44 74h1M59 74h15M44 75h1M58 75h2M68 75h5M44 76h2M57 76h2M45 77h1M56 77h2M45 78h2M54 78h3M45 79h2M53 79h3M46 80h2M52 80h3M46 81h2M51 81h3M37 82h1M47 82h2M50 82h3M48 83h4M49 84h2M36 86h1M7 114h1"/><path stroke="#306a8e" d="M8 0h1M32 0h1M8 1h1M32 1h1M8 2h1M32 2h1M8 3h1M32 3h1M8 4h1M32 4h1M6 6h1M0 7h5M33 21h1M36 34h1M37 38h1M48 38h3M37 39h1M48 39h4M47 40h2M51 40h2M47 41h1M52 41h2M46 42h2M53 42h2M38 43h1M46 43h1M54 43h2M45 44h2M55 44h2M45 45h1M49 45h1M56 45h2M45 46h1M48 46h1M57 46h2M71 46h2M39 47h1M45 47h1M58 47h16M44 48h1M59 48h10M73 48h1M44 49h1M74 50h1M45 54h1M40 55h1M75 55h1M40 56h1M75 56h1M75 57h1M40 63h1M75 63h1M40 64h1M46 64h1M75 64h1M40 69h1M74 69h1M74 70h1M44 71h1M60 71h7M73 71h1M58 72h16M45 73h1M48 73h1M58 73h2M67 73h6M45 74h1M57 74h2M45 75h1M56 75h2M46 76h1M54 76h3M38 77h1M46 77h1M53 77h3M47 78h1M52 78h2M47 79h2M51 79h2M48 80h4M37 81h1M48 81h3M49 82h1M36 85h1M35 91h1M34 96h1M33 98h1M0 112h5M6 113h1M8 115h1M32 115h1M8 116h1M32 116h1M8 117h1M32 117h1M8 118h1M32 118h1M8 119h1M32 119h1"/><path stroke="#2f6c8e" d="M32 5h1M32 6h1M5 7h1M35 29h1M36 35h1M36 36h1M37 40h1M49 40h2M37 41h1M48 41h4M48 42h1M50 42h3M47 43h1M52 43h2M38 44h1M47 44h1M53 44h2M38 45h1M46 45h1M54 45h2M46 46h1M55 46h2M52 47h1M56 47h2M39 48h1M45 48h1M57 48h2M69 48h4M45 49h1M58 49h16M45 50h1M59 50h9M73 50h1M40 51h1M60 51h2M74 51h1M40 52h1M74 52h1M40 53h1M45 53h1M40 54h1M46 55h1M39 58h1M75 58h1M39 59h1M47 59h1M75 59h1M39 60h1M47 60h1M75 60h1M39 61h1M75 61h1M75 62h1M40 65h1M40 66h1M45 66h1M40 67h1M74 67h1M40 68h1M74 68h1M45 69h1M59 69h7M45 70h1M58 70h16M39 71h1M45 71h1M57 71h3M67 71h6M39 72h1M45 72h1M49 72h1M57 72h1M46 73h1M56 73h2M46 74h1M49 74h1M55 74h2M38 75h1M46 75h2M53 75h3M38 76h1M47 76h1M52 76h2M47 77h2M51 77h2M48 78h4M37 79h1M49 79h2M37 80h1M36 83h1M36 84h1M35 90h1M32 113h1M32 114h1"/><path stroke="#2e6e8e" d="M9 0h1M9 1h1M9 2h1M9 3h1M9 4h1M8 5h1M7 6h1M32 7h1M32 8h1M35 30h1M35 31h1M36 37h1M36 38h1M36 39h1M37 42h1M49 42h1M37 43h1M48 43h4M37 44h1M48 44h1M51 44h2M37 45h1M47 45h1M52 45h2M38 46h1M47 46h1M53 46h2M38 47h1M46 47h1M54 47h2M38 48h1M46 48h1M55 48h2M39 49h1M46 49h1M56 49h2M39 50h1M57 50h2M68 50h5M39 51h1M45 51h1M58 51h2M62 51h12M45 52h1M59 52h9M60 53h4M74 53h1M39 54h1M46 54h1M74 54h1M39 55h1M74 55h1M39 56h1M39 57h1M47 57h1M47 58h1M47 61h1M39 62h1M47 62h1M39 63h1M39 64h1M39 65h1M46 65h1M74 65h1M60 66h3M74 66h1M45 67h1M59 67h8M39 68h1M45 68h1M58 68h14M73 68h1M39 69h1M55 69h1M57 69h2M66 69h8M39 70h1M46 70h1M54 70h1M57 70h1M38 71h1M46 71h1M56 71h1M38 72h1M46 72h1M55 72h2M38 73h1M47 73h1M54 73h2M37 74h2M47 74h1M52 74h3M37 75h1M48 75h1M51 75h2M37 76h1M48 76h4M37 77h1M49 77h2M37 78h1M36 80h1M36 81h1M36 82h1M35 89h1M32 111h1M5 112h1M32 112h1M8 114h1M9 115h1M9 116h1M9 117h1M9 118h1M9 119h1"/><path stroke="#2d708e" d="M6 7h1M32 9h1M34 24h1M35 32h1M35 33h1M36 40h1M36 41h1M36 42h1M36 43h1M36 44h1M49 44h2M48 45h1M50 45h2M37 46h1M51 46h2M37 47h1M47 47h1M49 47h1M53 47h1M37 48h1M47 48h1M53 48h2M37 49h2M47 49h1M54 49h2M37 50h2M46 50h1M55 50h2M37 51h2M46 51h1M56 51h2M37 52h3M46 52h1M57 52h2M68 52h6M38 53h2M46 53h1M58 53h2M64 53h10M38 54h1M58 54h11M73 54h1M38 55h1M58 55h9M38 56h1M47 56h1M59 56h6M74 56h1M38 57h1M59 57h4M74 57h1M38 58h1M60 58h2M38 59h1M38 60h1M38 61h1M60 61h1M38 62h1M59 62h4M74 62h1M38 63h1M47 63h1M59 63h5M74 63h1M38 64h1M47 64h1M58 64h8M74 64h1M38 65h1M58 65h10M38 66h2M46 66h1M58 66h2M63 66h9M73 66h1M38 67h2M46 67h1M57 67h2M67 67h7M37 68h2M46 68h1M56 68h2M72 68h1M37 69h2M46 69h1M56 69h1M37 70h2M55 70h2M37 71h1M47 71h1M50 71h1M53 71h3M37 72h1M47 72h1M52 72h3M37 73h1M51 73h3M48 74h1M50 74h2M36 75h1M49 75h2M36 76h1M36 77h1M36 78h1M36 79h1M35 86h1M35 87h1M35 88h1M34 95h1M32 110h1M7 113h1"/><path stroke="#2c718e" d="M10 0h1M10 1h1M10 2h1M10 3h1M10 4h1M9 5h1M0 8h5M32 10h1M32 11h1M34 25h1M35 34h1M35 35h1M35 36h1M36 45h1M36 46h1M36 47h1M48 47h1M36 48h1M48 48h1M50 48h1M36 49h1M53 49h1M36 50h1M47 50h1M54 50h1M36 51h1M47 51h1M54 51h2M36 52h1M55 52h2M36 53h2M56 53h2M36 54h2M47 54h1M56 54h2M69 54h4M36 55h2M47 55h1M57 55h1M67 55h7M36 56h2M57 56h2M65 56h6M73 56h1M36 57h2M57 57h2M63 57h6M36 58h2M57 58h3M62 58h5M74 58h1M36 59h2M48 59h1M58 59h8M74 59h1M36 60h2M48 60h1M58 60h8M74 60h1M36 61h2M58 61h2M61 61h5M74 61h1M36 62h2M57 62h2M63 62h5M36 63h2M57 63h2M64 63h6M73 63h1M36 64h2M57 64h1M66 64h8M36 65h2M47 65h1M56 65h2M68 65h6M36 66h2M56 66h2M72 66h1M36 67h2M55 67h2M36 68h1M47 68h1M36 69h1M47 69h1M36 70h1M47 70h1M51 70h1M36 71h1M48 71h1M36 72h1M48 72h1M36 73h1M36 74h1M35 83h1M35 84h1M35 85h1M34 94h1M32 108h1M32 109h1M0 111h5M6 112h1M9 114h1M10 115h1M10 116h1M10 117h1M10 118h1M10 119h1"/><path stroke="#2c738e" d="M8 6h1M7 7h1M5 8h1M32 12h1M33 22h1M34 26h1M35 37h1M35 38h1M35 39h1M49 48h1M48 49h5M48 50h1M52 50h2M53 51h1M47 52h1M54 52h1M47 53h1M54 53h2M54 54h2M55 55h2M48 56h1M55 56h2M71 56h2M48 57h1M55 57h2M69 57h5M48 58h1M55 58h2M67 58h5M73 58h1M56 59h2M66 59h5M73 59h1M56 60h2M66 60h4M48 61h1M55 61h3M66 61h5M73 61h1M48 62h1M55 62h2M68 62h6M48 63h1M55 63h2M70 63h3M55 64h2M55 65h1M47 66h1M54 66h2M47 67h1M54 67h1M53 68h1M48 69h1M52 69h1M48 70h1M49 71h1M35 80h1M35 81h1M35 82h1M34 93h1M33 97h1M32 107h1M8 113h1"/><path stroke="#2b758e" d="M10 5h1M32 13h1M32 14h1M34 27h1M34 28h1M35 40h1M35 41h1M35 42h1M35 43h1M35 44h1M35 45h1M49 50h3M48 51h2M51 51h2M48 52h1M52 52h2M48 53h1M52 53h2M48 54h1M53 54h1M48 55h1M53 55h2M53 56h2M53 57h2M53 58h2M72 58h1M53 59h3M71 59h2M53 60h3M70 60h4M53 61h2M71 61h2M53 62h2M53 63h2M48 64h1M53 64h2M48 65h1M53 65h2M48 66h1M53 66h1M48 67h1M52 67h2M48 68h1M51 68h2M49 69h3M49 70h2M35 74h1M35 75h1M35 76h1M35 77h1M35 78h1M35 79h1M34 91h1M34 92h1M32 105h1M32 106h1M5 111h1M7 112h1"/><path stroke="#2a778e" d="M11 0h1M31 0h1M11 1h1M31 1h1M11 2h1M31 2h1M11 3h1M31 3h1M11 4h1M31 4h1M31 5h1M9 6h1M6 8h1M0 9h5M32 15h1M34 29h1M34 30h1M35 46h1M35 47h1M35 48h1M35 49h1M35 50h1M35 51h1M50 51h1M35 52h1M49 52h3M35 53h1M49 53h3M35 54h1M49 54h1M51 54h2M35 55h1M49 55h1M51 55h2M35 56h1M49 56h1M51 56h2M35 57h1M49 57h1M51 57h2M35 58h1M49 58h1M51 58h2M35 59h1M49 59h1M51 59h2M35 60h1M49 60h1M51 60h2M35 61h1M49 61h1M51 61h2M35 62h1M49 62h1M51 62h2M35 63h1M49 63h1M51 63h2M35 64h1M49 64h1M51 64h2M35 65h1M49 65h1M51 65h2M35 66h1M49 66h4M35 67h1M49 67h3M35 68h1M49 68h2M35 69h1M35 70h1M35 71h1M35 72h1M35 73h1M34 89h1M34 90h1M32 104h1M6 111h1M9 113h1M10 114h1M31 114h1M11 115h1M31 115h1M11 116h1M31 116h1M11 117h1M31 117h1M11 118h1M31 118h1M11 119h1M31 119h1"/><path stroke="#29798e" d="M12 0h1M12 1h1M12 2h1M12 3h1M12 4h1M11 5h1M31 6h1M8 7h1M31 7h1M5 9h1M32 16h1M32 17h1M33 23h1M34 31h1M34 32h1M50 54h1M50 55h1M50 56h1M50 57h1M50 58h1M50 59h1M50 60h1M50 61h1M50 62h1M50 63h1M50 64h1M50 65h1M34 87h1M34 88h1M33 96h1M32 103h1M0 110h5M8 112h1M31 113h1M12 115h1M12 116h1M12 117h1M12 118h1M12 119h1"/><path stroke="#297b8e" d="M10 6h1M7 8h1M31 8h1M32 18h1M34 33h1M34 34h1M34 35h1M34 84h1M34 85h1M34 86h1M32 101h1M32 102h1M5 110h1M7 111h1M31 111h1M31 112h1M10 113h1M11 114h1"/><path stroke="#287d8e" d="M13 0h1M30 0h1M13 1h1M30 1h1M13 2h1M30 2h1M13 3h1M30 3h1M13 4h1M30 4h1M12 5h1M9 7h1M6 9h1M31 9h1M31 10h1M32 19h1M33 24h1M33 25h1M34 36h1M34 37h1M34 38h1M34 81h1M34 82h1M34 83h1M33 95h1M32 100h1M31 110h1M9 112h1M12 114h1M13 115h1M30 115h1M13 116h1M30 116h1M13 117h1M30 117h1M13 118h1M30 118h1M13 119h1M30 119h1"/><path stroke="#277f8e" d="M30 5h1M11 6h1M30 6h1M8 8h1M0 10h5M31 11h1M32 20h1M33 26h1M34 39h1M34 40h1M34 41h1M34 79h1M34 80h1M33 93h1M33 94h1M32 99h1M31 108h1M31 109h1M6 110h1M8 111h1M11 113h1M30 114h1"/><path stroke="#26818e" d="M14 0h1M14 1h1M14 2h1M14 3h1M14 4h1M13 5h1M12 6h1M10 7h1M30 7h1M7 9h1M5 10h1M31 12h1M32 21h1M33 27h1M33 28h1M34 42h1M34 43h1M34 44h1M34 45h1M34 46h1M34 47h1M34 48h1M34 49h1M34 50h1M34 69h1M34 70h1M34 71h1M34 72h1M34 73h1M34 74h1M34 75h1M34 76h1M34 77h1M34 78h1M33 92h1M32 98h1M31 107h1M0 109h5M10 112h1M30 112h1M30 113h1M13 114h1M14 115h1M14 116h1M14 117h1M14 118h1M14 119h1"/><path stroke="#26828e" d="M15 0h1M29 0h1M15 1h1M29 1h1M15 2h1M29 2h1M15 3h1M29 3h1M15 4h1M29 4h1M14 5h1M29 5h1M11 7h1M9 8h1M30 8h1M31 13h1M31 14h1M32 22h1M33 29h1M34 51h1M34 52h1M34 53h1M34 54h1M34 55h1M34 56h1M34 57h1M34 58h1M34 59h1M34 60h1M34 61h1M34 62h1M34 63h1M34 64h1M34 65h1M34 66h1M34 67h1M34 68h1M33 90h1M33 91h1M31 106h1M5 109h1M7 110h1M9 111h1M30 111h1M12 113h1M29 114h1M29 115h1M29 116h1M29 117h1M29 118h1M29 119h1"/><path stroke="#25848e" d="M13 6h1M29 6h1M8 9h1M30 9h1M6 10h1M30 10h1M0 11h5M31 15h1M33 30h1M33 31h1M33 89h1M32 97h1M31 104h1M31 105h1M6 109h1M30 110h1M11 112h1M13 113h1M29 113h1M14 114h1M15 115h1M15 116h1M15 117h1M15 118h1M15 119h1"/><path stroke="#24868e" d="M16 0h1M28 0h1M16 1h1M28 1h1M16 2h1M28 2h1M16 3h1M28 3h1M16 4h1M28 4h1M15 5h1M14 6h1M12 7h1M29 7h1M10 8h1M7 10h1M5 11h1M30 11h1M31 16h1M32 23h1M33 32h1M33 33h1M33 87h1M33 88h1M32 96h1M31 103h1M0 108h5M30 109h1M8 110h1M10 111h1M12 112h1M29 112h1M15 114h1M16 115h1M28 115h1M16 116h1M28 116h1M16 117h1M28 117h1M16 118h1M28 118h1M16 119h1M28 119h1"/><path stroke="#23888e" d="M28 5h1M28 6h1M13 7h1M11 8h1M29 8h1M9 9h1M30 12h1M31 17h1M31 18h1M32 24h1M33 34h1M33 35h1M33 84h1M33 85h1M33 86h1M32 95h1M31 102h1M30 107h1M5 108h1M30 108h1M7 109h1M9 110h1M29 111h1M14 113h1M28 114h1"/><path stroke="#238a8d" d="M17 0h1M27 0h1M17 1h1M27 1h1M17 2h1M27 2h1M17 3h1M27 3h1M17 4h1M27 4h1M16 5h1M27 5h1M15 6h1M28 7h1M10 9h1M29 9h1M8 10h1M6 11h1M0 12h5M30 13h1M31 19h1M32 25h1M33 36h1M33 37h1M33 82h1M33 83h1M32 94h1M31 100h1M31 101h1M30 106h1M6 108h1M29 110h1M11 111h1M13 112h1M15 113h1M28 113h1M16 114h1M27 114h1M17 115h1M27 115h1M17 116h1M27 116h1M17 117h1M27 117h1M17 118h1M27 118h1M17 119h1M27 119h1"/><path stroke="#228c8d" d="M18 0h2M26 0h1M18 1h2M26 1h1M18 2h2M26 2h1M18 3h2M26 3h1M18 4h2M26 4h1M17 5h1M16 6h1M27 6h1M14 7h1M12 8h1M28 8h1M29 10h1M7 11h1M5 12h1M30 14h1M31 20h1M32 26h1M32 27h1M33 38h1M33 39h1M33 40h1M33 80h1M33 81h1M32 93h1M31 99h1M30 105h1M0 107h5M8 109h1M29 109h1M10 110h1M12 111h1M14 112h1M28 112h1M17 114h1M18 115h2M26 115h1M18 116h2M26 116h1M18 117h2M26 117h1M18 118h2M26 118h1M18 119h2M26 119h1"/><path stroke="#218e8d" d="M20 0h2M25 0h1M20 1h2M25 1h1M20 2h2M25 2h1M20 3h2M25 3h1M20 4h2M25 4h1M18 5h1M26 5h1M15 7h1M13 8h1M11 9h1M28 9h1M9 10h1M29 11h1M30 15h1M31 21h1M32 28h1M33 41h1M33 42h1M33 77h1M33 78h1M33 79h1M32 92h1M31 98h1M30 104h1M5 107h1M7 108h1M29 108h1M9 109h1M11 110h1M13 111h1M28 111h1M15 112h1M16 113h1M27 113h1M18 114h1M26 114h1M20 115h2M25 115h1M20 116h2M25 116h1M20 117h2M25 117h1M20 118h2M25 118h1M20 119h2M25 119h1"/><path stroke="#21908d" d="M22 0h3M22 1h3M22 2h3M22 3h3M22 4h3M19 5h3M25 5h1M17 6h1M26 6h1M16 7h1M27 7h1M14 8h1M12 9h1M10 10h1M28 10h1M8 11h1M6 12h1M29 12h1M0 13h5M30 16h1M31 22h1M32 29h1M33 43h1M33 44h1M33 45h1M33 46h1M33 47h1M33 48h1M33 49h1M33 70h1M33 71h1M33 72h1M33 73h1M33 74h1M33 75h1M33 76h1M32 90h1M32 91h1M31 97h1M30 103h1M6 107h1M29 107h1M28 110h1M14 111h1M27 112h1M17 113h1M26 113h1M19 114h3M25 114h1M22 115h3M22 116h3M22 117h3M22 118h3M22 119h3"/><path stroke="#20928c" d="M22 5h3M18 6h3M26 7h1M15 8h1M27 8h1M13 9h1M11 10h1M9 11h1M7 12h1M5 13h1M29 13h1M30 17h1M31 23h1M32 30h1M33 50h1M33 51h1M33 52h1M33 53h1M33 54h1M33 55h1M33 56h1M33 57h1M33 58h1M33 59h1M33 60h1M33 61h1M33 62h1M33 63h1M33 64h1M33 65h1M33 66h1M33 67h1M33 68h1M33 69h1M32 89h1M31 96h1M30 102h1M0 106h5M29 106h1M8 108h1M10 109h1M28 109h1M12 110h1M27 111h1M16 112h1M18 113h2M22 114h3"/><path stroke="#20938c" d="M21 6h5M17 7h2M16 8h1M14 9h1M27 9h1M28 11h1M6 13h1M29 14h1M30 18h1M31 24h1M32 31h1M32 88h1M30 101h1M29 105h1M5 106h1M7 107h1M9 108h1M28 108h1M11 109h1M13 110h1M27 110h1M15 111h1M17 112h1M26 112h1M20 113h6"/><path stroke="#1f958b" d="M19 7h3M25 7h1M17 8h1M26 8h1M15 9h1M12 10h1M27 10h1M10 11h1M8 12h1M28 12h1M0 14h5M29 15h1M30 19h1M31 25h1M32 32h1M32 33h1M32 86h1M32 87h1M31 95h1M30 100h1M6 106h1M8 107h1M28 107h1M12 109h1M27 109h1M14 110h1M16 111h1M26 111h1M18 112h3M25 112h1"/><path stroke="#1f978b" d="M22 7h3M18 8h1M25 8h1M16 9h1M26 9h1M13 10h1M11 11h1M27 11h1M9 12h1M7 13h1M28 13h1M5 14h1M29 16h1M30 20h1M32 34h1M32 35h1M32 85h1M31 94h1M30 99h1M29 104h1M0 105h5M10 108h1M27 108h1M13 109h1M15 110h1M26 110h1M17 111h1M25 111h1M21 112h4"/><path stroke="#1f998a" d="M19 8h6M17 9h1M25 9h1M14 10h1M26 10h1M12 11h1M8 13h1M6 14h1M28 14h1M29 17h1M30 21h1M31 26h1M32 36h1M32 83h1M32 84h1M31 93h1M30 98h1M29 103h1M5 105h1M7 106h1M28 106h1M9 107h1M11 108h1M14 109h1M26 109h1M16 110h1M18 111h7"/><path stroke="#1e9b8a" d="M18 9h3M24 9h1M15 10h1M13 11h1M26 11h1M10 12h1M27 12h1M0 15h5M30 22h1M31 27h1M32 37h1M32 38h1M32 81h1M32 82h1M31 92h1M30 97h1M29 102h1M0 104h5M6 105h1M28 105h1M8 106h1M10 107h1M27 107h1M12 108h1M15 109h1M17 110h2M25 110h1"/><path stroke="#1e9d89" d="M21 9h3M16 10h2M25 10h1M14 11h1M11 12h1M9 13h1M27 13h1M7 14h1M5 15h1M28 15h1M29 18h1M30 23h1M31 28h1M32 39h1M32 40h1M32 79h1M32 80h1M31 91h1M29 101h1M5 104h1M28 104h1M7 105h1M27 106h1M13 108h1M26 108h1M16 109h1M25 109h1M19 110h6"/><path stroke="#1f9f88" d="M18 10h7M15 11h1M25 11h1M12 12h1M26 12h1M10 13h1M8 14h1M27 14h1M6 15h1M0 16h5M28 16h1M29 19h1M31 29h1M32 41h1M32 42h1M32 77h1M32 78h1M31 90h1M30 96h1M29 100h1M28 103h1M9 106h1M11 107h1M26 107h1M14 108h1M17 109h2M24 109h1"/><path stroke="#1fa188" d="M16 11h2M24 11h1M13 12h2M11 13h1M26 13h1M7 15h1M5 16h1M28 17h1M29 20h1M30 24h1M31 30h1M32 43h1M32 44h1M32 45h1M32 46h1M32 73h1M32 74h1M32 75h1M32 76h1M31 89h1M30 95h1M29 99h1M0 103h5M6 104h1M8 105h1M27 105h1M10 106h1M12 107h2M15 108h2M25 108h1M19 109h5"/><path stroke="#1fa287" d="M18 11h6M15 12h1M25 12h1M12 13h1M9 14h1M27 15h1M29 21h1M30 25h1M31 31h1M32 47h1M32 48h1M32 49h1M32 50h1M32 70h1M32 71h1M32 72h1M31 88h1M28 102h1M5 103h1M7 104h1M27 104h1M9 105h1M11 106h1M26 106h1M14 107h1M25 107h1M17 108h1M22 108h3"/><path stroke="#20a486" d="M16 12h1M24 12h1M13 13h1M10 14h1M26 14h1M8 15h1M6 16h1M27 16h1M0 17h5M28 18h1M31 32h1M32 51h1M32 52h1M32 53h1M32 54h1M32 55h1M32 56h1M32 57h1M32 58h1M32 59h1M32 60h1M32 61h1M32 62h1M32 63h1M32 64h1M32 65h1M32 66h1M32 67h1M32 68h1M32 69h1M31 87h1M30 94h1M29 98h1M28 101h1M26 105h1M12 106h1M15 107h1M18 108h4"/><path stroke="#21a685" d="M17 12h7M14 13h1M25 13h1M11 14h1M9 15h1M7 16h1M5 17h1M28 19h1M29 22h1M30 26h1M31 33h1M31 86h1M30 93h1M29 97h1M28 100h1M0 102h5M6 103h1M27 103h1M8 104h1M10 105h1M13 106h1M25 106h1M16 107h2M22 107h3"/><path stroke="#22a884" d="M15 13h1M24 13h1M12 14h1M25 14h1M26 15h1M27 17h1M28 20h1M29 23h1M30 27h1M31 34h1M31 35h1M31 85h1M30 92h1M5 102h1M27 102h1M7 103h1M9 104h1M26 104h1M11 105h1M14 106h2M24 106h1M18 107h4"/><path stroke="#24aa83" d="M16 13h8M13 14h1M10 15h1M8 16h1M26 16h1M6 17h1M0 18h5M27 18h1M30 28h1M31 36h1M31 83h1M31 84h1M29 96h1M28 99h1M6 102h1M8 103h1M10 104h1M12 105h2M25 105h1M16 106h1M22 106h2"/><path stroke="#25ac82" d="M14 14h2M23 14h2M11 15h1M25 15h1M9 16h1M7 17h1M5 18h1M28 21h1M29 24h1M31 37h1M31 82h1M30 91h1M29 95h1M28 98h1M0 101h5M27 101h1M26 103h1M11 104h1M25 104h1M14 105h1M24 105h1M17 106h5"/><path stroke="#27ad81" d="M16 14h2M20 14h3M12 15h2M10 16h1M8 17h1M26 17h1M6 18h1M27 19h1M28 22h1M29 25h1M30 29h1M31 38h1M31 39h1M31 80h1M31 81h1M30 90h1M27 100h1M5 101h1M7 102h1M26 102h1M9 103h1M12 104h1M15 105h1M22 105h2"/><path stroke="#29af7f" d="M18 14h2M14 15h1M23 15h2M11 16h1M25 16h1M26 18h1M0 19h5M27 20h1M30 30h1M31 40h1M31 79h1M29 94h1M28 97h1M27 99h1M6 101h1M8 102h1M10 103h1M25 103h1M13 104h1M24 104h1M16 105h6"/><path stroke="#2cb17e" d="M15 15h2M21 15h2M12 16h1M24 16h1M9 17h1M25 17h1M7 18h1M5 19h1M27 21h1M28 23h1M29 26h1M31 41h1M31 42h1M31 77h1M31 78h1M30 89h1M28 96h1M0 100h6M7 101h1M26 101h1M9 102h1M11 103h1M14 104h2M22 104h2"/><path stroke="#2eb37c" d="M17 15h4M13 16h2M23 16h1M10 17h1M8 18h1M6 19h1M26 19h1M0 20h5M30 31h1M31 43h1M31 44h1M31 75h1M31 76h1M30 88h1M29 93h1M27 98h1M26 100h1M25 102h1M12 103h1M24 103h1M16 104h2M19 104h3"/><path stroke="#31b57b" d="M15 16h1M20 16h3M11 17h1M24 17h1M9 18h1M25 18h1M7 19h1M5 20h1M26 20h1M27 22h1M28 24h1M29 27h1M30 32h1M31 45h1M31 46h1M31 73h1M31 74h1M30 87h1M29 92h1M28 95h1M0 99h5M6 100h1M8 101h1M25 101h1M10 102h1M24 102h1M13 103h2M22 103h2M18 104h1"/><path stroke="#34b679" d="M16 16h4M12 17h2M22 17h2M10 18h1M8 19h1M25 19h1M6 20h1M0 21h5M28 25h1M29 28h1M30 33h1M30 34h1M31 47h1M31 48h1M31 49h1M31 70h1M31 71h1M31 72h1M30 85h1M30 86h1M29 91h1M27 97h1M5 99h1M26 99h1M7 100h1M9 101h1M11 102h2M23 102h1M15 103h3M19 103h3"/><path stroke="#37b878" d="M14 17h2M20 17h2M11 18h1M23 18h2M9 19h1M7 20h1M5 21h1M26 21h1M27 23h1M29 29h1M30 35h1M31 50h1M31 51h1M31 52h1M31 68h1M31 69h1M30 84h1M28 94h1M27 96h1M0 98h5M26 98h1M6 99h1M8 100h1M25 100h1M10 101h1M24 101h1M13 102h2M21 102h2M18 103h1"/><path stroke="#3aba76" d="M16 17h4M12 18h2M22 18h1M10 19h1M24 19h1M25 20h1M6 21h1M0 22h5M26 22h1M27 24h1M28 26h1M30 36h1M31 53h1M31 54h1M31 55h1M31 56h1M31 57h1M31 58h1M31 59h1M31 60h1M31 61h1M31 62h1M31 63h1M31 64h1M31 65h1M31 66h1M31 67h1M30 83h1M29 90h1M28 93h1M27 95h1M0 97h5M5 98h1M7 99h1M25 99h1M9 100h1M24 100h1M11 101h2M22 101h2M15 102h6"/><path stroke="#3dbc74" d="M14 18h2M20 18h2M11 19h1M23 19h1M8 20h1M24 20h1M7 21h1M25 21h1M5 22h1M0 23h5M28 27h1M29 30h1M30 37h1M30 38h1M30 82h1M29 89h1M28 92h1M5 97h1M26 97h1M6 98h1M8 99h1M10 100h1M23 100h1M13 101h2M21 101h1"/><path stroke="#40bd72" d="M16 18h4M12 19h2M21 19h2M9 20h1M8 21h1M6 22h1M5 23h1M26 23h1M27 25h1M28 28h1M29 31h1M30 39h1M30 80h1M30 81h1M29 88h1M27 94h1M0 96h6M26 96h1M6 97h1M7 98h1M25 98h1M9 99h1M24 99h1M11 100h2M22 100h1M15 101h6"/><path stroke="#44bf70" d="M14 19h2M19 19h2M10 20h2M22 20h2M24 21h1M7 22h1M25 22h1M6 23h1M0 24h6M26 24h1M27 26h1M29 32h1M30 40h1M30 79h1M29 87h1M28 91h1M0 95h5M6 96h1M7 97h1M25 97h1M8 98h1M24 98h1M10 99h1M23 99h1M13 100h2M20 100h2"/><path stroke="#48c16e" d="M16 19h3M12 20h2M21 20h1M9 21h1M23 21h1M8 22h1M7 23h1M25 23h1M6 24h1M0 25h5M28 29h1M29 33h1M30 41h1M30 42h1M30 77h1M30 78h1M29 86h1M28 90h1M27 93h1M0 94h5M5 95h1M26 95h1M8 97h1M9 98h1M11 99h2M21 99h2M15 100h5"/><path stroke="#4cc26c" d="M14 20h2M19 20h2M10 21h2M22 21h1M9 22h1M24 22h1M8 23h1M7 24h1M5 25h1M26 25h1M0 26h5M27 27h1M28 30h1M29 34h1M30 43h1M30 44h1M30 76h1M29 85h1M27 92h1M0 93h5M5 94h1M26 94h1M6 95h1M7 96h1M25 96h1M9 97h1M24 97h1M10 98h1M22 98h2M13 99h2M20 99h1"/><path stroke="#50c46a" d="M16 20h3M12 21h2M20 21h2M10 22h1M22 22h2M9 23h1M24 23h1M8 24h1M25 24h1M6 25h1M5 26h1M26 26h1M0 27h5M27 28h1M29 35h1M30 45h1M30 74h1M30 75h1M29 84h1M28 89h1M5 93h1M6 94h1M7 95h1M25 95h1M8 96h1M10 97h1M23 97h1M11 98h2M21 98h1M15 99h5"/><path stroke="#54c568" d="M14 21h3M18 21h2M11 22h2M21 22h1M10 23h1M23 23h1M7 25h1M25 25h1M6 26h1M5 27h1M0 28h5M28 31h1M29 36h1M30 46h1M30 47h1M30 72h1M30 73h1M29 83h1M28 88h1M27 91h1M0 92h6M6 93h1M26 93h1M7 94h1M8 95h1M9 96h1M24 96h1M11 97h1M22 97h1M13 98h3M19 98h2"/><path stroke="#58c765" d="M17 21h1M13 22h2M20 22h1M11 23h1M22 23h1M9 24h1M24 24h1M8 25h1M7 26h1M6 27h1M26 27h1M5 28h1M27 29h1M28 32h1M29 37h1M30 48h1M30 49h1M30 71h1M29 82h1M28 87h1M27 90h1M0 91h6M6 92h1M26 92h1M7 93h1M8 94h1M25 94h1M9 95h1M24 95h1M10 96h2M22 96h2M12 97h2M20 97h2M16 98h3"/><path stroke="#5cc863" d="M15 22h5M12 23h2M20 23h2M10 24h2M22 24h2M9 25h1M24 25h1M8 26h1M25 26h1M7 27h1M6 28h1M26 28h1M0 29h6M27 30h1M28 33h1M29 38h1M29 39h1M30 50h1M30 69h1M30 70h1M29 81h1M28 86h1M0 90h5M7 92h1M8 93h1M25 93h1M9 94h1M10 95h1M23 95h1M12 96h2M21 96h1M14 97h3M18 97h2"/><path stroke="#60ca60" d="M14 23h3M18 23h2M12 24h2M21 24h1M10 25h1M23 25h1M9 26h1M8 27h1M25 27h1M7 28h1M6 29h1M0 30h5M28 34h1M29 40h1M30 51h1M30 52h1M30 53h1M30 54h1M30 55h1M30 56h1M30 57h1M30 58h1M30 59h1M30 60h1M30 61h1M30 62h1M30 63h1M30 64h1M30 65h1M30 66h1M30 67h1M30 68h1M29 80h1M28 85h1M0 89h5M27 89h1M5 90h1M6 91h1M26 91h1M8 92h1M9 93h1M10 94h1M24 94h1M11 95h2M22 95h1M14 96h2M19 96h2M17 97h1"/><path stroke="#65cb5e" d="M17 23h1M14 24h2M19 24h2M11 25h2M22 25h1M10 26h1M24 26h1M9 27h1M8 28h1M7 29h1M26 29h1M5 30h1M0 31h5M27 31h1M28 35h1M29 41h1M29 78h1M29 79h1M28 84h1M0 88h5M27 88h1M5 89h1M6 90h1M26 90h1M7 91h1M25 92h1M10 93h1M24 93h1M11 94h1M22 94h2M13 95h2M20 95h2M16 96h3"/><path stroke="#69cd5b" d="M16 24h3M13 25h2M20 25h2M11 26h2M23 26h1M10 27h1M24 27h1M9 28h1M25 28h1M6 30h1M26 30h1M5 31h1M0 32h5M27 32h1M28 36h1M29 42h1M29 77h1M28 83h1M27 87h1M5 88h1M6 89h1M7 90h1M8 91h1M25 91h1M9 92h1M11 93h1M23 93h1M12 94h2M21 94h1M15 95h5"/><path stroke="#6ece58" d="M15 25h5M13 26h1M21 26h2M11 27h1M23 27h1M10 28h1M8 29h1M7 30h1M6 31h1M5 32h1M27 33h1M28 37h1M29 43h1M29 76h1M28 82h1M27 86h1M0 87h5M6 88h1M7 89h1M26 89h1M8 90h1M9 91h1M10 92h2M24 92h1M12 93h2M22 93h1M14 94h2M19 94h2"/><path stroke="#73d056" d="M14 26h2M19 26h2M12 27h2M22 27h1M11 28h1M24 28h1M9 29h1M25 29h1M8 30h1M7 31h1M26 31h1M6 32h1M0 33h5M27 34h1M28 38h1M29 44h1M29 45h1M29 75h1M28 81h1M27 85h1M0 86h5M5 87h1M7 88h1M26 88h1M8 89h1M9 90h1M25 90h1M10 91h1M24 91h1M12 92h1M23 92h1M14 93h2M20 93h2M16 94h3"/><path stroke="#77d153" d="M16 26h3M14 27h2M20 27h2M12 28h1M23 28h1M10 29h1M24 29h1M9 30h1M25 30h1M8 31h1M7 32h1M26 32h1M5 33h1M0 34h5M27 35h1M28 39h1M29 46h1M29 73h1M29 74h1M28 80h1M27 84h1M5 86h1M6 87h1M8 88h1M9 89h1M10 90h1M11 91h2M23 91h1M13 92h2M21 92h2M16 93h4"/><path stroke="#7cd250" d="M16 27h4M13 28h2M21 28h2M11 29h2M10 30h1M9 31h1M8 32h1M6 33h1M26 33h1M5 34h1M27 36h1M28 40h1M29 47h1M29 72h1M28 79h1M0 85h5M6 86h1M7 87h1M26 87h1M10 89h1M25 89h1M11 90h1M24 90h1M13 91h1M22 91h1M15 92h2M19 92h2"/><path stroke="#81d34d" d="M15 28h2M19 28h2M13 29h1M22 29h2M11 30h1M24 30h1M10 31h1M25 31h1M7 33h1M6 34h1M0 35h5M27 37h1M28 41h1M29 48h1M29 49h1M29 70h1M29 71h1M28 78h1M27 83h1M0 84h5M5 85h1M7 86h1M26 86h1M8 87h1M9 88h1M25 88h1M11 89h1M24 89h1M12 90h2M23 90h1M14 91h2M20 91h2M17 92h2"/><path stroke="#86d549" d="M17 28h2M14 29h2M20 29h2M12 30h2M23 30h1M11 31h1M9 32h1M25 32h1M8 33h1M7 34h1M26 34h1M5 35h1M0 36h5M27 38h1M28 42h1M29 50h1M29 69h1M28 77h1M27 82h1M5 84h1M6 85h1M26 85h1M8 86h1M9 87h1M25 87h1M10 88h2M12 89h1M23 89h1M14 90h1M21 90h2M16 91h4"/><path stroke="#8bd646" d="M16 29h4M14 30h1M21 30h2M12 31h1M24 31h1M10 32h2M9 33h1M25 33h1M8 34h1M6 35h1M26 35h1M5 36h1M27 39h1M28 43h1M29 51h1M29 52h1M29 67h1M29 68h1M28 76h1M27 81h1M0 83h6M6 84h1M26 84h1M7 85h1M9 86h1M10 87h1M12 88h1M24 88h1M13 89h2M22 89h1M15 90h2M19 90h2"/><path stroke="#90d743" d="M15 30h2M19 30h2M13 31h2M22 31h2M12 32h1M24 32h1M10 33h1M25 34h1M7 35h1M6 36h1M26 36h1M0 37h5M28 44h1M28 45h1M29 53h1M29 54h1M29 55h1M29 56h1M29 57h1M29 58h1M29 59h1M29 60h1M29 61h1M29 62h1M29 63h1M29 64h1M29 65h1M29 66h1M28 75h1M27 80h1M0 82h5M26 83h1M7 84h1M8 85h1M25 86h1M11 87h1M24 87h1M13 88h1M23 88h1M15 89h1M20 89h2M17 90h2"/><path stroke="#95d840" d="M17 30h2M15 31h1M20 31h2M13 32h1M23 32h1M11 33h1M24 33h1M9 34h1M8 35h1M7 36h1M5 37h1M26 37h1M0 38h5M27 40h1M28 46h1M28 73h1M28 74h1M27 79h1M5 82h1M26 82h1M6 83h1M8 84h1M9 85h1M25 85h1M10 86h2M12 87h2M23 87h1M14 88h2M21 88h2M16 89h4"/><path stroke="#9bd93c" d="M16 31h4M14 32h2M21 32h2M12 33h2M23 33h1M10 34h1M24 34h1M9 35h1M25 35h1M6 37h1M5 38h1M26 38h1M27 41h1M28 47h1M28 72h1M27 78h1M0 81h6M26 81h1M6 82h1M7 83h1M25 84h1M10 85h1M12 86h1M24 86h1M14 87h1M22 87h1M16 88h1M19 88h2"/><path stroke="#a0da39" d="M16 32h1M19 32h2M14 33h1M22 33h1M11 34h2M10 35h1M8 36h1M25 36h1M7 37h1M6 38h1M0 39h5M26 39h1M27 42h1M27 43h1M28 48h1M28 71h1M27 77h1M0 80h5M7 82h1M8 83h1M25 83h1M9 84h1M11 85h1M24 85h1M13 86h1M22 86h2M15 87h2M20 87h2M17 88h2"/><path stroke="#a5db36" d="M17 32h2M15 33h1M20 33h2M13 34h1M22 34h2M11 35h1M24 35h1M9 36h1M8 37h1M25 37h1M7 38h1M5 39h1M0 40h5M26 40h1M27 44h1M28 49h1M28 50h1M28 70h1M27 75h1M27 76h1M5 80h1M26 80h1M6 81h1M8 82h1M25 82h1M9 83h1M10 84h1M24 84h1M12 85h2M23 85h1M14 86h2M21 86h1M17 87h3"/><path stroke="#aadc32" d="M16 33h4M14 34h2M21 34h1M12 35h1M23 35h1M10 36h1M24 36h1M9 37h1M25 38h1M6 39h1M5 40h1M26 41h1M27 45h1M28 51h1M28 68h1M28 69h1M27 74h1M0 79h6M26 79h1M6 80h1M7 81h1M10 83h1M24 83h1M11 84h2M23 84h1M14 85h1M21 85h2M16 86h2M19 86h2"/><path stroke="#b0dd2f" d="M16 34h2M19 34h2M13 35h2M21 35h2M11 36h2M23 36h1M10 37h1M24 37h1M8 38h1M7 39h1M25 39h1M6 40h1M0 41h6M26 42h1M27 46h1M27 47h1M28 52h1M28 53h1M28 54h1M28 55h1M28 56h1M28 57h1M28 58h1M28 59h1M28 60h1M28 61h1M28 62h1M28 63h1M28 64h1M28 65h1M28 66h1M28 67h1M27 73h1M0 78h5M26 78h1M7 80h1M8 81h1M25 81h1M9 82h1M11 83h1M23 83h1M13 84h1M22 84h1M15 85h2M20 85h1M18 86h1"/><path stroke="#b5de2b" d="M18 34h1M15 35h1M20 35h1M13 36h1M22 36h1M11 37h1M23 37h1M9 38h1M24 38h1M8 39h1M7 40h1M0 42h5M26 43h1M27 48h1M27 71h1M27 72h1M26 76h1M0 77h5M26 77h1M5 78h1M6 79h1M25 80h1M9 81h1M10 82h1M24 82h1M12 83h1M22 83h1M14 84h2M20 84h2M17 85h3"/><path stroke="#bade28" d="M16 35h4M14 36h2M20 36h2M12 37h1M22 37h1M10 38h1M9 39h1M25 40h1M6 41h1M5 42h1M0 43h5M26 44h1M27 49h1M27 70h1M26 75h1M0 76h5M5 77h1M6 78h1M7 79h1M25 79h1M8 80h1M10 81h1M24 81h1M11 82h2M23 82h1M13 83h2M21 83h1M16 84h4"/><path stroke="#c0df25" d="M16 36h4M13 37h2M21 37h1M11 38h1M23 38h1M10 39h1M24 39h1M8 40h1M7 41h1M25 41h1M6 42h1M5 43h1M0 44h5M26 45h1M26 46h1M27 50h1M27 51h1M27 69h1M26 74h1M0 75h5M5 76h1M6 77h1M7 78h1M25 78h1M8 79h1M9 80h1M24 80h1M11 81h1M23 81h1M13 82h1M21 82h2M15 83h2M19 83h2"/><path stroke="#c5e021" d="M15 37h2M19 37h2M12 38h2M21 38h2M11 39h1M23 39h1M9 40h1M24 40h1M8 41h1M7 42h1M25 42h1M6 43h1M5 44h1M0 45h5M26 47h1M27 52h1M27 53h1M27 66h1M27 67h1M27 68h1M26 72h1M26 73h1M0 74h5M5 75h1M6 76h1M25 77h1M9 79h1M24 79h1M10 80h1M23 80h1M12 81h1M22 81h1M14 82h2M20 82h1M17 83h2"/><path stroke="#cae11f" d="M17 37h2M14 38h2M20 38h1M12 39h1M22 39h1M10 40h1M23 40h1M9 41h1M24 41h1M8 42h1M7 43h1M25 43h1M6 44h1M25 44h1M5 45h1M0 46h5M26 48h1M26 49h1M27 54h1M27 55h1M27 56h1M27 57h1M27 58h1M27 59h1M27 60h1M27 61h1M27 62h1M27 63h1M27 64h1M27 65h1M26 71h1M0 73h5M5 74h1M6 75h1M25 75h1M25 76h1M7 77h1M8 78h1M24 78h1M10 79h1M11 80h1M22 80h1M13 81h2M20 81h2M16 82h4"/><path stroke="#d0e11c" d="M16 38h4M13 39h2M20 39h2M11 40h1M22 40h1M23 41h1M24 42h1M8 43h1M7 44h1M6 45h1M25 45h1M5 46h1M0 47h5M26 50h1M26 69h1M26 70h1M0 72h5M5 73h1M6 74h1M25 74h1M7 75h1M7 76h1M8 77h1M24 77h1M9 78h1M11 79h1M22 79h2M12 80h2M21 80h1M15 81h2M19 81h1"/><path stroke="#d5e21a" d="M15 39h2M19 39h1M12 40h2M21 40h1M10 41h2M22 41h1M9 42h1M23 42h1M24 43h1M8 44h1M7 45h1M6 46h1M25 46h1M5 47h2M25 47h1M0 48h6M26 51h1M26 52h1M26 68h1M0 71h5M5 72h1M25 72h1M6 73h1M25 73h1M7 74h1M8 75h1M8 76h1M24 76h1M9 77h1M10 78h1M23 78h1M12 79h1M21 79h1M14 80h2M20 80h1M17 81h2"/><path stroke="#dae319" d="M17 39h2M14 40h2M20 40h1M12 41h1M21 41h1M10 42h1M22 42h1M9 43h1M23 43h1M9 44h1M24 44h1M8 45h1M24 45h1M7 46h1M7 47h1M6 48h1M25 48h1M0 49h6M25 49h1M26 53h1M26 54h1M26 55h1M26 56h1M26 57h1M26 58h1M26 59h1M26 60h1M26 61h1M26 62h1M26 63h1M26 64h1M26 65h1M26 66h1M26 67h1M0 70h5M5 71h1M25 71h1M6 72h1M7 73h1M8 74h1M24 74h1M24 75h1M9 76h1M23 76h1M10 77h1M23 77h1M11 78h2M22 78h1M13 79h2M20 79h1M16 80h4"/><path stroke="#dfe318" d="M16 40h4M13 41h2M20 41h1M11 42h2M21 42h1M10 43h1M22 43h1M10 44h1M23 44h1M9 45h1M23 45h1M8 46h1M24 46h1M24 47h1M7 48h1M6 49h1M0 50h6M25 50h1M0 51h5M0 69h6M25 69h1M5 70h2M25 70h1M6 71h2M7 72h1M24 72h1M8 73h1M24 73h1M9 74h1M9 75h1M23 75h1M10 76h1M22 76h1M11 77h1M22 77h1M13 78h1M20 78h2M15 79h2M19 79h1"/><path stroke="#e5e419" d="M15 41h2M19 41h1M13 42h2M20 42h1M11 43h2M21 43h1M11 44h1M22 44h1M10 45h1M22 45h1M9 46h1M23 46h1M8 47h1M23 47h1M8 48h1M24 48h1M7 49h1M24 49h1M6 50h1M5 51h1M25 51h1M0 52h5M25 52h1M0 67h5M25 67h1M0 68h6M25 68h1M6 69h1M7 70h1M8 71h1M24 71h1M8 72h1M9 73h1M23 73h1M10 74h1M22 74h2M10 75h2M22 75h1M11 76h2M21 76h1M12 77h2M20 77h2M14 78h2M19 78h1M17 79h2"/><path stroke="#eae51a" d="M17 41h2M15 42h1M19 42h1M13 43h2M20 43h1M12 44h2M20 44h2M11 45h2M21 45h1M10 46h2M21 46h2M9 47h2M22 47h1M9 48h1M23 48h1M8 49h1M7 50h1M24 50h1M6 51h1M5 52h1M0 53h6M25 53h1M0 54h5M25 54h1M0 55h5M25 55h1M25 56h1M25 57h1M25 58h1M25 59h1M25 60h1M25 61h1M25 62h1M25 63h1M0 64h5M25 64h1M0 65h5M25 65h1M0 66h6M25 66h1M5 67h1M6 68h1M7 69h1M24 69h1M8 70h1M24 70h1M9 71h1M23 71h1M9 72h1M22 72h2M10 73h1M22 73h1M11 74h1M21 74h1M12 75h2M20 75h2M13 76h2M20 76h1M14 77h2M19 77h1M16 78h3"/><path stroke="#efe51c" d="M16 42h3M15 43h2M18 43h2M14 44h2M19 44h1M13 45h2M19 45h2M12 46h2M20 46h1M11 47h2M21 47h1M10 48h1M21 48h2M9 49h1M22 49h2M8 50h1M23 50h1M7 51h2M24 51h1M6 52h2M24 52h1M6 53h1M24 53h1M5 54h2M5 55h2M0 56h6M0 57h6M0 58h6M0 59h6M0 60h6M0 61h6M0 62h6M0 63h6M5 64h1M5 65h2M6 66h1M24 66h1M6 67h2M24 67h1M7 68h1M24 68h1M8 69h1M23 69h1M9 70h1M22 70h2M10 71h1M21 71h2M10 72h2M21 72h1M11 73h3M20 73h2M12 74h3M20 74h1M14 75h2M19 75h1M15 76h2M18 76h2M16 77h3"/><path stroke="#f4e61e" d="M17 43h1M16 44h3M15 45h4M14 46h6M13 47h3M19 47h2M11 48h3M19 48h2M10 49h2M20 49h2M9 50h2M21 50h2M9 51h1M22 51h2M8 52h1M22 52h2M7 53h1M23 53h1M7 54h1M23 54h2M7 55h1M23 55h2M6 56h2M23 56h2M6 57h2M23 57h2M6 58h2M23 58h2M6 59h2M23 59h2M6 60h2M23 60h2M6 61h2M23 61h2M6 62h2M23 62h2M6 63h2M23 63h2M6 64h2M23 64h2M7 65h1M23 65h2M7 66h1M23 66h1M8 67h1M23 67h1M8 68h2M22 68h2M9 69h2M21 69h2M10 70h2M20 70h2M11 71h3M20 71h1M12 72h4M19 72h2M14 73h3M18 73h2M15 74h5M16 75h3M17 76h1"/><path stroke="#f8e621" d="M16 47h3M14 48h5M12 49h8M11 50h4M18 50h3M10 51h2M19 51h3M9 52h2M20 52h2M8 53h2M21 53h2M8 54h2M21 54h2M8 55h2M21 55h2M8 56h1M21 56h2M8 57h1M21 57h2M8 58h1M21 58h2M8 59h1M21 59h2M8 60h1M21 60h2M8 61h1M21 61h2M8 62h1M21 62h2M8 63h1M21 63h2M8 64h2M21 64h2M8 65h2M21 65h2M8 66h2M21 66h2M9 67h1M20 67h3M10 68h1M20 68h2M11 69h4M19 69h2M12 70h8M14 71h6M16 72h3M17 73h1"/><path stroke="#fde725" d="M15 50h3M12 51h7M11 52h9M10 53h11M10 54h11M10 55h11M9 56h12M9 57h12M9 58h12M9 59h12M9 60h12M9 61h12M9 62h12M9 63h12M10 64h11M10 65h11M10 66h11M10 67h10M11 68h9M15 69h4"/></g></g><use href="#gl"/><g clip-path="url(#cp)"><path d="M524 526l6 52l3 40l-2 35l-7 78M524 436l21 103l4 31l5 50l-2 55l-5 39l-6 34l-17 73M524 346l31 110l19 80l11 53l2 20l0 22l-1 33l-2 28l-5 30l-6 33l-18 68l-31 91M524 286l37 88l16 46l16 51l8 28l6 28l15 94l0 47l-4 39l-8 48l-11 42l-11 34l-17 45l-23 51l-24 47M524 226l42 88l34 77l17 39l13 37l14 51l11 53l4 40l2 40l-1 41l-7 54l-11 51l-13 43l-21 51l-22 46l-38 65l-24 32M524 166l50 77l35 60l19 36l17 35l15 34l12 33l9 25l6 25l7 35l7 40l4 37l1 59l-2 52l-3 25l-4 26l-7 33l-7 25l-8 24l-9 24l-21 46l-22 38l-53 80l-46 66M531 102l54 82l51 83l31 57l18 38l12 27l10 27l9 26l7 25l8 33l8 47l7 72l-2 85l-2 27l-4 34l-6 33l-6 25l-7 24l-9 24l-10 23l-12 23l-23 38l-67 96l-74 100M589 102l74 105l81 122l15 26l11 27l7 26l5 32l3 32l3 43l2 58l-2 142l-3 65l-4 34l-7 28l-6 21l-8 21l-6 14l-8 14l-13 20l-46 63l-130 168M647 102l65 87l53 79l62 100l11 23l9 25l3 16l-1 14l-1 8l-7 28l-4 24l-1 22l0 17l4 58l1 28l-7 91l2 25l11 69l1 9l-3 18l-9 24l-19 38l-16 26l-13 16l-47 51l-56 64l-64 75l-20 26M677 496l9 63l3 50M646 234l63 98M726 379l15 33l8 26l7 43l6 51l2 61l-1 101l-2 38l-5 51M731 102l21 54l11 20l12 19l13 17l12 12l10 7l8 3l4 0l4 -1l3 -2l4 -4l4 -7l5 -17l2 -17l0 -16l-1 -14l-12 -54M706 142l31 52l27 36l44 54l14 12l10 6l7 1l7 -4l7 -8l5 -8l4 -11l1 -10l4 -50M849 381l7 3l4 -1l6 -6l7 -12l9 -22l16 -59l5 -49l1 -36l-3 -31l-10 -66M876 429l17 -30l10 -22l12 -40l8 -29l2 -14l8 -60l1 -21l0 -14l-3 -31l-10 -66M891 479l24 -42l12 -26l11 -29l8 -22l5 -19l10 -57l3 -29l0 -32l-4 -41l-9 -80M871 487l0 8l1 3l3 1l6 1l9 -1l29 -6l12 -4l7 -4l8 -9l10 -15l9 -24l9 -26l8 -29l10 -55l4 -23l1 -28l0 -22l-2 -38l-11 -114M1024 549l9 -58l11 -85M856 512l7 21l2 4l7 6l8 7l10 7l10 4l8 2l13 0l14 -2l18 -4l16 -6l11 -5l7 -5l8 -8l4 -8l4 -13l4 -46l12 -63l4 -28l5 -51l3 -46l0 -35l-2 -33l-4 -32l-11 -76M892 399l-17 31M859 557l33 49l11 20l1 3l-2 11l-6 11l-19 24l-6 10l-9 20l-7 18l-4 12l-1 11l3 32M937 593l-15 20l-8 11l-2 4l1 6l4 10l7 12l35 41M1027 865l-12 -57l-9 -57l-4 -19l-4 -10l-5 -8l-18 -17l-6 -9l-7 -18l-2 -13l-1 -12l0 -16l2 -21l4 -16l4 -14l9 -18l19 -19l5 -10l3 -26l4 -22l9 -44l7 -25l3 -28l3 -52l-1 -43l-2 -25l-10 -59l-14 -108M1041 858l-10 -91l-8 -53l-7 -43l-4 -39l0 -19l0 -14l3 -16l7 -26M879 738l51 -3l28 -4l7 1l9 2l7 5l5 7l4 11l4 21M1063 1163l0 -1064M1096 1163l14 -278l3 -144l1 -110l-1 -110l-3 -144l-14 -278M1126 1163l20 -211l5 -67l6 -144l2 -110l-2 -110l-6 -144l-5 -67l-20 -211M1152 1163l28 -211l8 -67l4 -55l4 -89l3 -66l0 -44l0 -44l-3 -66l-4 -89l-4 -55l-8 -67l-28 -211M1179 1163l37 -211l9 -67l6 -55l5 -89l4 -66l1 -44l-1 -44l-4 -66l-5 -89l-6 -55l-9 -67l-37 -211M1244 1163l40 -211l10 -67l6 -55l6 -89l4 -66l1 -44l-1 -44l-4 -66l-6 -89l-6 -55l-10 -67l-40 -211M1279 1163l40 -211l10 -67l6 -55l6 -89l4 -66l1 -44l-1 -44l-4 -66l-6 -89l-6 -55l-10 -67l-40 -211M1311 1163l40 -211l10 -67l5 -55l7 -89l3 -66l1 -44l-1 -44l-3 -66l-7 -89l-5 -55l-10 -67l-40 -211M1344 1163l40 -211l10 -67l6 -55l6 -89l4 -66l1 -44l-1 -44l-4 -66l-6 -89l-6 -55l-10 -67l-40 -211M1373 1163l40 -211l10 -67l5 -55l7 -89l3 -66l1 -44l-1 -44l-3 -66l-7 -89l-5 -55l-10 -67l-40 -211M1404 1163l40 -211l10 -67l6 -55l6 -89l4 -66l1 -44l-1 -44l-4 -66l-6 -89l-6 -55l-10 -67l-40 -211M1434 1163l40 -211l10 -67l6 -55l6 -89l4 -66l1 -44l-1 -44l-4 -66l-6 -89l-6 -55l-10 -67l-40 -211M1466 1163l40 -211l10 -67l6 -55l6 -89l4 -66l1 -44l-1 -44l-4 -66l-6 -89l-6 -55l-10 -67l-40 -211M1499 1163l40 -211l10 -67l6 -55l6 -89l4 -66l1 -44l-1 -44l-4 -66l-6 -89l-6 -55l-10 -67l-40 -211M1242 1030l16 -100l7 -67l10 -144l2 -88l-2 -88l-10 -144l-7 -67l-16 -100M1134 841l3 -144l0 -77l-2 -154l-4 -111M1214 863l6 -100l4 -99l0 -55l-3 -77M1519 1163l40 -211l10 -67l5 -55l7 -89l3 -66l1 -44l-1 -44l-3 -66l-7 -89l-5 -55l-10 -67l-40 -211M1564 199l-13 -47M1584 631l-6 -124l-4 -61l-6 -61l-14 -119M647 1163l82 -111l67 -88l11 -13l13 -11l11 -6l10 -1l4 0l5 3l5 5l4 7l5 11l4 10l4 23l2 45l0 61l-2 24l-5 41M767 1011l40 -13l27 -5M767 1101l14 -22l11 -15l10 -12l11 -6l5 -2l4 1l5 2l4 4l3 3l2 5l1 15M706 1163l12 -36l9 -17l9 -14l26 -35l18 -26l8 -8l9 -8l40 -25M771 1163l12 -36l11 -22l5 -9l5 -5l6 -4l6 -3l3 1l1 3l0 17l-3 29l-6 29M797 1163l10 -32l7 -13M931 1163l1 -113l0 -74l-1 -26l-2 -19l-4 -19l-5 -18l-6 -17l-7 -13l-4 -6l-4 -5l-18 -12M994 1163l0 -180l-1 -44l-2 -23l-8 -35l-6 -24l-8 -21l-8 -18l-11 -19l-11 -14l-6 -4l-16 -8M957 1163l-2 -155l-3 -40l-6 -27l-8 -31l-10 -30l-10 -22l-17 -37l-17 -43l-3 -4l-2 0l-2 0l-10 17M894 978l-1 -17l-2 -10l-8 -22l-8 -20l-5 -10l-6 -8l-4 -3l-9 -2M1034 1163l-3 -199l-3 -38l-7 -95l-3 -109l-1 -14l-3 -15l-10 -29M1041 858l-2 -227M852 779l-4 -40l2 -16l5 -15l4 -10l7 -13l7 -10l18 -21l13 -23" fill="none" stroke="#f00" stroke-width="3.6" stroke-linejoin="round"/><use href="#ah" transform="translate(532,631) rotate(92)"/><use href="#ah" transform="translate(554,631) rotate(92)"/><use href="#ah" transform="translate(587,631) rotate(90)"/><use href="#ah" transform="translate(622,636) rotate(91)"/><use href="#ah" transform="translate(661,638) rotate(88)"/><use href="#ah" transform="translate(706,638) rotate(89)"/><use href="#ah" transform="translate(746,637) rotate(90)"/><use href="#ah" transform="translate(789,648) rotate(90)"/><use href="#ah" transform="translate(840,648) rotate(94)"/><use href="#ah" transform="translate(685,554) rotate(84)"/><use href="#ah" transform="translate(664,262) rotate(57)"/><use href="#ah" transform="translate(764,580) rotate(89)"/><use href="#ah" transform="translate(791,216) rotate(48)"/><use href="#ah" transform="translate(787,259) rotate(51)"/><use href="#ah" transform="translate(900,266) rotate(-84)"/><use href="#ah" transform="translate(926,284) rotate(-83)"/><use href="#ah" transform="translate(956,316) rotate(-81)"/><use href="#ah" transform="translate(976,406) rotate(-74)"/><use href="#ah" transform="translate(1033,491) rotate(-82)"/><use href="#ah" transform="translate(940,560) rotate(-12)"/><use href="#ah" transform="translate(893,655) rotate(125)"/><use href="#ah" transform="translate(926,658) rotate(232)"/><use href="#ah" transform="translate(959,637) rotate(-89)"/><use href="#ah" transform="translate(1024,719) rotate(-98)"/><use href="#ah" transform="translate(961,731) rotate(180)"/><use href="#ah" transform="translate(1063,631) rotate(-90)"/><use href="#ah" transform="translate(1114,631) rotate(-90)"/><use href="#ah" transform="translate(1159,631) rotate(-90)"/><use href="#ah" transform="translate(1199,631) rotate(-90)"/><use href="#ah" transform="translate(1241,631) rotate(-90)"/><use href="#ah" transform="translate(1311,620) rotate(-91)"/><use href="#ah" transform="translate(1346,620) rotate(-91)"/><use href="#ah" transform="translate(1377,620) rotate(-91)"/><use href="#ah" transform="translate(1411,620) rotate(-91)"/><use href="#ah" transform="translate(1439,620) rotate(-91)"/><use href="#ah" transform="translate(1471,620) rotate(-91)"/><use href="#ah" transform="translate(1501,620) rotate(-91)"/><use href="#ah" transform="translate(1533,620) rotate(-91)"/><use href="#ah" transform="translate(1566,620) rotate(-91)"/><use href="#ah" transform="translate(1277,631) rotate(-90)"/><use href="#ah" transform="translate(1137,587) rotate(-91)"/><use href="#ah" transform="translate(1223,697) rotate(-88)"/><use href="#ah" transform="translate(1585,620) rotate(-91)"/><use href="#ah" transform="translate(1557,175) rotate(-106)"/><use href="#ah" transform="translate(1557,296) rotate(-97)"/><use href="#ah" transform="translate(873,1004) rotate(266)"/><use href="#ah" transform="translate(799,1056) rotate(134)"/><use href="#ah" transform="translate(739,1092) rotate(126)"/><use href="#ah" transform="translate(798,1098) rotate(125)"/><use href="#ah" transform="translate(812,1121) rotate(-60)"/><use href="#ah" transform="translate(932,1038) rotate(-90)"/><use href="#ah" transform="translate(994,970) rotate(-91)"/><use href="#ah" transform="translate(884,778) rotate(-119)"/><use href="#ah" transform="translate(889,945) rotate(-107)"/><use href="#ah" transform="translate(1018,730) rotate(-93)"/><use href="#ah" transform="translate(1039,669) rotate(-90)"/><use href="#ah" transform="translate(892,652) rotate(124)"/></g>
<text x="582.0" y="57.4" font-size="58" font-style="italic" textLength="43.0" lengthAdjust="spacingAndGlyphs">B</text>
<text x="650.0" y="57.4" font-size="66" textLength="21.0" lengthAdjust="spacingAndGlyphs">(</text>
<text x="675.5" y="57.4" font-size="58" font-style="italic" textLength="32.0" lengthAdjust="spacingAndGlyphs">x</text>
<text x="726.0" y="57.4" font-size="58" textLength="45.0" lengthAdjust="spacingAndGlyphs">=</text>
<text x="787.6" y="57.4" font-size="58" font-style="italic" textLength="30.4" lengthAdjust="spacingAndGlyphs">y</text>
<text x="843.7" y="57.4" font-size="58" textLength="146.3" lengthAdjust="spacingAndGlyphs">plane</text>
<text x="992.0" y="57.4" font-size="66" textLength="21.0" lengthAdjust="spacingAndGlyphs">)</text>
<text x="1044.0" y="57.4" font-size="58" textLength="245.0" lengthAdjust="spacingAndGlyphs">timestep</text>
<text x="1306.0" y="57.4" font-size="58" textLength="45.0" lengthAdjust="spacingAndGlyphs">=</text>
<text x="1369.0" y="57.4" font-size="58" textLength="162.5" lengthAdjust="spacingAndGlyphs">20000</text>
<rect x="524.7" y="99.7" width="1062.8" height="1062.6" fill="none" stroke="#000" stroke-width="5"/>
<path d="M526.8 1162.3v17.5M524.7 1160.2h-17.5M940.3 1162.3v17.5M524.7 746.7h-17.5M1353.8 1162.3v17.5M524.7 333.2h-17.5" stroke="#000" stroke-width="5" fill="none"/>
<text x="511.0" y="1245.0" font-size="58" textLength="31.5" lengthAdjust="spacingAndGlyphs">0</text>
<text x="449.5" y="1179.7" font-size="58" textLength="31.5" lengthAdjust="spacingAndGlyphs">0</text>
<text x="893.0" y="1245.0" font-size="58" textLength="94.5" lengthAdjust="spacingAndGlyphs">100</text>
<text x="386.5" y="766.2" font-size="58" textLength="94.5" lengthAdjust="spacingAndGlyphs">100</text>
<text x="1306.5" y="1245.0" font-size="58" textLength="94.5" lengthAdjust="spacingAndGlyphs">200</text>
<text x="386.5" y="352.7" font-size="58" textLength="94.5" lengthAdjust="spacingAndGlyphs">200</text>
<text x="661.5" y="1331.7" font-size="58" font-style="italic" textLength="28.5" lengthAdjust="spacingAndGlyphs">r</text>
<text x="693.0" y="1344.7" font-size="84" textLength="29.0" lengthAdjust="spacingAndGlyphs">/</text>
<text x="726.0" y="1331.7" font-size="58" textLength="48.0" lengthAdjust="spacingAndGlyphs">Δ</text>
<text x="777.5" y="1331.7" font-size="58" font-style="italic" textLength="28.5" lengthAdjust="spacingAndGlyphs">r</text>
<text x="832.0" y="1331.7" font-size="66" textLength="21.5" lengthAdjust="spacingAndGlyphs">(</text>
<text x="857.5" y="1331.7" font-size="58" textLength="151.0" lengthAdjust="spacingAndGlyphs">along</text>
<text x="1035.0" y="1331.7" font-size="58" font-style="italic" textLength="32.5" lengthAdjust="spacingAndGlyphs">x</text>
<text x="1077.0" y="1331.7" font-size="58" textLength="45.0" lengthAdjust="spacingAndGlyphs">+</text>
<text x="1131.0" y="1331.7" font-size="58" font-style="italic" textLength="31.0" lengthAdjust="spacingAndGlyphs">y</text>
<text x="1177.5" y="1331.7" font-size="58" textLength="45.5" lengthAdjust="spacingAndGlyphs">=</text>
<text x="1238.5" y="1331.7" font-size="58" textLength="95.5" lengthAdjust="spacingAndGlyphs">256</text>
<text x="1338.0" y="1331.7" font-size="58" textLength="48.0" lengthAdjust="spacingAndGlyphs">Δ</text>
<text x="1391.0" y="1331.7" font-size="58" font-style="italic" textLength="31.5" lengthAdjust="spacingAndGlyphs">x</text>
<text x="1428.0" y="1331.7" font-size="66" textLength="21.0" lengthAdjust="spacingAndGlyphs">)</text>
<g transform="translate(323.6,631) rotate(-90)"><text x="-70.5" y="0.0" font-size="58" font-style="italic" textLength="27.5" lengthAdjust="spacingAndGlyphs">z</text><text x="-41.0" y="13.0" font-size="84" textLength="29.0" lengthAdjust="spacingAndGlyphs">/</text><text x="-6.5" y="0.0" font-size="58" textLength="47.5" lengthAdjust="spacingAndGlyphs">Δ</text><text x="45.5" y="0.0" font-size="58" font-style="italic" textLength="27.5" lengthAdjust="spacingAndGlyphs">z</text></g>
<rect x="1634.8" y="206" width="47" height="850" fill="url(#vg)" stroke="#000" stroke-width="4.6"/>
<text x="1707.5" y="234.0" font-size="58" textLength="115.0" lengthAdjust="spacingAndGlyphs">5.37</text>
<text x="1707.5" y="442.2" font-size="58" textLength="115.0" lengthAdjust="spacingAndGlyphs">4.05</text>
<text x="1707.5" y="650.4" font-size="58" textLength="115.0" lengthAdjust="spacingAndGlyphs">2.72</text>
<text x="1707.5" y="858.6" font-size="58" textLength="115.0" lengthAdjust="spacingAndGlyphs">1.40</text>
<text x="1707.5" y="1066.8" font-size="58" textLength="115.0" lengthAdjust="spacingAndGlyphs">0.07</text>
<path d="M1681.8 214.7h-18.5M1681.8 422.9h-18.5M1681.8 631.1h-18.5M1681.8 839.3h-18.5M1681.8 1047.5h-18.5" stroke="#000" stroke-width="5" fill="none"/>
<g transform="translate(1922,635) rotate(-90)"><text x="-201" y="4" font-size="57" textLength="113" lengthAdjust="spacingAndGlyphs">磁场</text><text x="-76.0" y="13.0" font-size="84" textLength="29.0" lengthAdjust="spacingAndGlyphs">/</text><text x="-41.0" y="0.0" font-size="66" textLength="23.0" lengthAdjust="spacingAndGlyphs">(</text><text x="-22.5" y="0.0" font-size="58" textLength="29.0" lengthAdjust="spacingAndGlyphs">1</text><text x="11.0" y="0.0" font-size="58" textLength="32.0" lengthAdjust="spacingAndGlyphs">0</text><text x="49.0" y="-18.7" font-size="40" textLength="30.0" lengthAdjust="spacingAndGlyphs">−</text><text x="84.0" y="-18.7" font-size="40" textLength="24.5" lengthAdjust="spacingAndGlyphs">4</text><text x="132.0" y="0.0" font-size="58" textLength="49.0" lengthAdjust="spacingAndGlyphs">G</text><text x="182.0" y="0.0" font-size="66" textLength="23.0" lengthAdjust="spacingAndGlyphs">)</text></g>
<text x="552.0" y="172.5" font-size="66" textLength="21.0" lengthAdjust="spacingAndGlyphs" style="fill:#fff">(</text><text x="576.0" y="172.5" font-size="58" textLength="30.0" lengthAdjust="spacingAndGlyphs" style="fill:#fff">d</text><text x="608.0" y="172.5" font-size="66" textLength="21.0" lengthAdjust="spacingAndGlyphs" style="fill:#fff">)</text>
</g>
</svg></body></html>
